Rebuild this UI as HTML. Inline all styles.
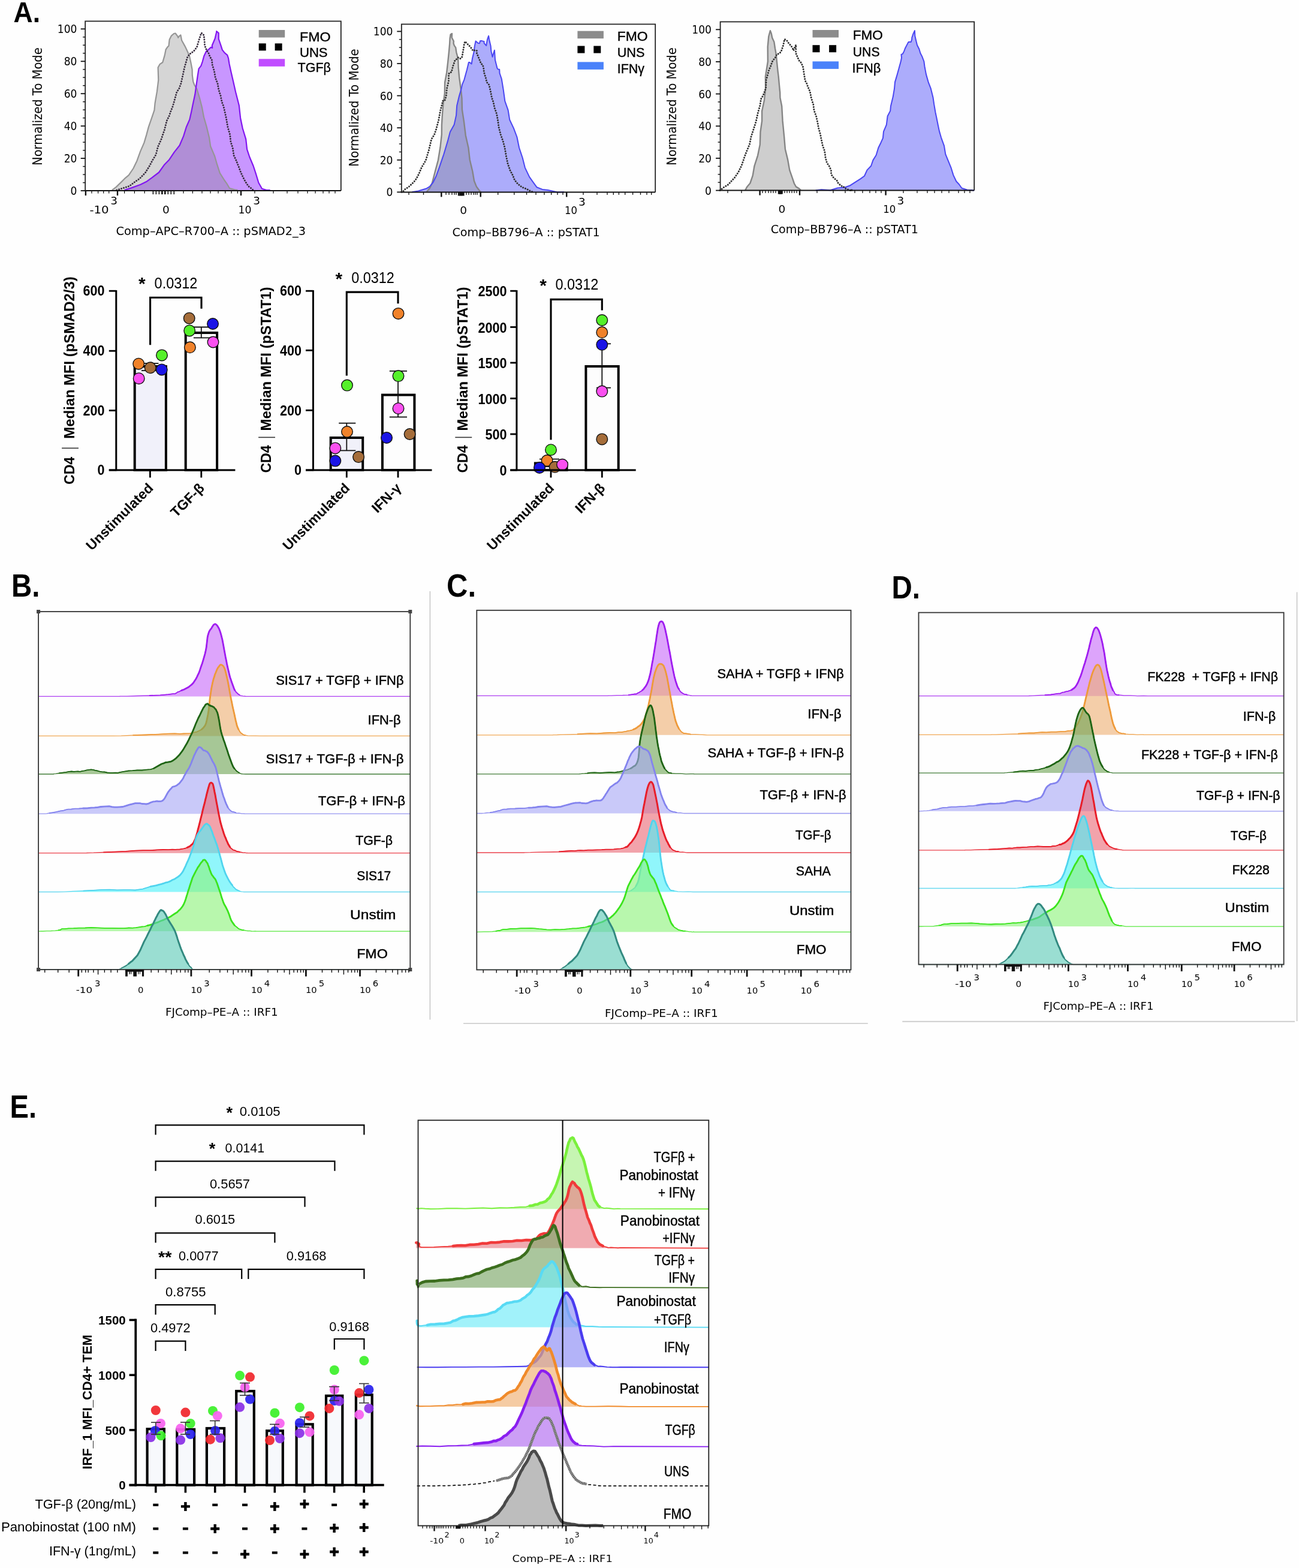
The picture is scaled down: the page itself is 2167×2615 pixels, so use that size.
<!DOCTYPE html>
<html><head><meta charset="utf-8"><title>Figure</title>
<style>html,body{margin:0;padding:0;background:#fefefe;}svg{display:block;}</style>
</head><body>
<svg width="2167" height="2615" viewBox="0 0 2167 2615" font-family='"Liberation Sans", Arial, Helvetica, sans-serif'>
<text x="22.5" y="36.6" font-size="48.5" font-weight="bold" fill="#000" textLength="44.5" lengthAdjust="spacingAndGlyphs">A.</text>
<text x="19" y="995" font-size="54" font-weight="bold" fill="#000" textLength="47.5" lengthAdjust="spacingAndGlyphs">B.</text>
<text x="745" y="995" font-size="54" font-weight="bold" fill="#000" textLength="49" lengthAdjust="spacingAndGlyphs">C.</text>
<text x="1487.5" y="997.5" font-size="54" font-weight="bold" fill="#000" textLength="47.5" lengthAdjust="spacingAndGlyphs">D.</text>
<text x="16.5" y="1864" font-size="54" font-weight="bold" fill="#000" textLength="44.5" lengthAdjust="spacingAndGlyphs">E.</text>
<line x1="717.4" y1="986" x2="717.4" y2="1700.5" stroke="#c8c8c8" stroke-width="1.6"/>
<line x1="773" y1="1706.8" x2="1447.8" y2="1706.8" stroke="#c8c8c8" stroke-width="1.6"/>
<line x1="1505.3" y1="1703.6" x2="2160" y2="1703.6" stroke="#c8c8c8" stroke-width="1.6"/>
<line x1="2163.6" y1="987.6" x2="2163.6" y2="1703" stroke="#c8c8c8" stroke-width="1.6"/>
<path d="M199.8 1161.4 L199.8 1161.2 L211.8 1161.1 L229.3 1160.5 L248.9 1160 L267.2 1159.3 L280.7 1158.1 L288.4 1157.2 L292.5 1156.8 L294.7 1155.4 L296.4 1154.1 L299.1 1153.3 L302.9 1151.4 L306.8 1150 L310.6 1148 L314.3 1146.1 L317.5 1143.5 L320.2 1141.3 L322.6 1138.7 L324.7 1135.5 L326.7 1132.5 L328.5 1129.1 L330.2 1125.4 L331.7 1122.5 L333.1 1118.8 L334.4 1114.7 L335.9 1110.3 L337.4 1106.2 L339 1100.8 L340.5 1095.7 L342 1090.4 L343.2 1085 L344.2 1079.8 L344.9 1073.8 L345.5 1068.6 L346.1 1063.3 L346.9 1059.4 L347.9 1056.2 L348.9 1053.2 L350.1 1051.3 L351.2 1049.6 L352.4 1048.4 L353.6 1046.1 L354.8 1044.3 L356.1 1042.3 L357.4 1041.2 L358.7 1040.7 L360 1041 L361.3 1042.2 L362.7 1043.7 L364 1046 L365.3 1048.2 L366.5 1051.2 L367.6 1054.4 L368.7 1058.2 L369.7 1062.1 L370.8 1066.3 L371.9 1072 L373 1078 L374.1 1084.2 L375.2 1090.1 L376.3 1096.1 L377.4 1101.2 L378.5 1107.1 L379.6 1112.1 L380.7 1116.9 L381.8 1121.4 L382.9 1126.2 L384 1130.2 L385.1 1133.2 L386.3 1137.1 L387.4 1140 L388.4 1142.8 L389.5 1145.8 L390.5 1148.7 L391.7 1151.1 L392.9 1152.6 L394.2 1154.8 L395.6 1155.8 L397.1 1157.4 L398.6 1158.2 L400.2 1159.5 L402.1 1160.3 L404.2 1160.5 L406.3 1161.2 L408.1 1161 L409.4 1161.1 L409.4 1161.4Z" fill="#c86cf8" fill-opacity="0.62" stroke="none"/>
<path d="M64.1 1161.4 L199.8 1161.4 L199.8 1161.2 L211.8 1161.1 L229.3 1160.5 L248.9 1160 L267.2 1159.3 L280.7 1158.1 L288.4 1157.2 L292.5 1156.8 L294.7 1155.4 L296.4 1154.1 L299.1 1153.3 L302.9 1151.4 L306.8 1150 L310.6 1148 L314.3 1146.1 L317.5 1143.5 L320.2 1141.3 L322.6 1138.7 L324.7 1135.5 L326.7 1132.5 L328.5 1129.1 L330.2 1125.4 L331.7 1122.5 L333.1 1118.8 L334.4 1114.7 L335.9 1110.3 L337.4 1106.2 L339 1100.8 L340.5 1095.7 L342 1090.4 L343.2 1085 L344.2 1079.8 L344.9 1073.8 L345.5 1068.6 L346.1 1063.3 L346.9 1059.4 L347.9 1056.2 L348.9 1053.2 L350.1 1051.3 L351.2 1049.6 L352.4 1048.4 L353.6 1046.1 L354.8 1044.3 L356.1 1042.3 L357.4 1041.2 L358.7 1040.7 L360 1041 L361.3 1042.2 L362.7 1043.7 L364 1046 L365.3 1048.2 L366.5 1051.2 L367.6 1054.4 L368.7 1058.2 L369.7 1062.1 L370.8 1066.3 L371.9 1072 L373 1078 L374.1 1084.2 L375.2 1090.1 L376.3 1096.1 L377.4 1101.2 L378.5 1107.1 L379.6 1112.1 L380.7 1116.9 L381.8 1121.4 L382.9 1126.2 L384 1130.2 L385.1 1133.2 L386.3 1137.1 L387.4 1140 L388.4 1142.8 L389.5 1145.8 L390.5 1148.7 L391.7 1151.1 L392.9 1152.6 L394.2 1154.8 L395.6 1155.8 L397.1 1157.4 L398.6 1158.2 L400.2 1159.5 L402.1 1160.3 L404.2 1160.5 L406.3 1161.2 L408.1 1161 L409.4 1161.1 L409.4 1161.4 L684.3 1161.4" fill="none" stroke="#a01ef0" stroke-width="1.3" stroke-opacity="0.85" stroke-linejoin="round"/><path d="M248.9 1160 L267.2 1159.3 L280.7 1158.1 L288.4 1157.2 L292.5 1156.8 L294.7 1155.4 L296.4 1154.1 L299.1 1153.3 L302.9 1151.4 L306.8 1150 L310.6 1148 L314.3 1146.1 L317.5 1143.5 L320.2 1141.3 L322.6 1138.7 L324.7 1135.5 L326.7 1132.5 L328.5 1129.1 L330.2 1125.4 L331.7 1122.5 L333.1 1118.8 L334.4 1114.7 L335.9 1110.3 L337.4 1106.2 L339 1100.8 L340.5 1095.7 L342 1090.4 L343.2 1085 L344.2 1079.8 L344.9 1073.8 L345.5 1068.6 L346.1 1063.3 L346.9 1059.4 L347.9 1056.2 L348.9 1053.2 L350.1 1051.3 L351.2 1049.6 L352.4 1048.4 L353.6 1046.1 L354.8 1044.3 L356.1 1042.3 L357.4 1041.2 L358.7 1040.7 L360 1041 L361.3 1042.2 L362.7 1043.7 L364 1046 L365.3 1048.2 L366.5 1051.2 L367.6 1054.4 L368.7 1058.2 L369.7 1062.1 L370.8 1066.3 L371.9 1072 L373 1078 L374.1 1084.2 L375.2 1090.1 L376.3 1096.1 L377.4 1101.2 L378.5 1107.1 L379.6 1112.1 L380.7 1116.9 L381.8 1121.4 L382.9 1126.2 L384 1130.2 L385.1 1133.2 L386.3 1137.1 L387.4 1140 L388.4 1142.8 L389.5 1145.8 L390.5 1148.7 L391.7 1151.1 L392.9 1152.6 L394.2 1154.8 L395.6 1155.8 L397.1 1157.4 L398.6 1158.2 L400.2 1159.5" fill="none" stroke="#a01ef0" stroke-width="1.8" stroke-linejoin="round"/><path d="M302.9 1151.4 L306.8 1150 L310.6 1148 L314.3 1146.1 L317.5 1143.5 L320.2 1141.3 L322.6 1138.7 L324.7 1135.5 L326.7 1132.5 L328.5 1129.1 L330.2 1125.4 L331.7 1122.5 L333.1 1118.8 L334.4 1114.7 L335.9 1110.3 L337.4 1106.2 L339 1100.8 L340.5 1095.7 L342 1090.4 L343.2 1085 L344.2 1079.8 L344.9 1073.8 L345.5 1068.6 L346.1 1063.3 L346.9 1059.4 L347.9 1056.2 L348.9 1053.2 L350.1 1051.3 L351.2 1049.6 L352.4 1048.4 L353.6 1046.1 L354.8 1044.3 L356.1 1042.3 L357.4 1041.2 L358.7 1040.7 L360 1041 L361.3 1042.2 L362.7 1043.7 L364 1046 L365.3 1048.2 L366.5 1051.2 L367.6 1054.4 L368.7 1058.2 L369.7 1062.1 L370.8 1066.3 L371.9 1072 L373 1078 L374.1 1084.2 L375.2 1090.1 L376.3 1096.1 L377.4 1101.2 L378.5 1107.1 L379.6 1112.1 L380.7 1116.9 L381.8 1121.4 L382.9 1126.2 L384 1130.2 L385.1 1133.2 L386.3 1137.1 L387.4 1140 L388.4 1142.8 L389.5 1145.8 L390.5 1148.7 L391.7 1151.1" fill="none" stroke="#a01ef0" stroke-width="2.8" stroke-linejoin="round" stroke-linecap="round"/>
<path d="M188.7 1227.4 L188.7 1227.4 L202.1 1227.1 L221.5 1226.2 L243.5 1225.5 L264.4 1224.6 L280.7 1223.6 L291.8 1223.3 L300.1 1223.9 L306.5 1223.5 L311.9 1223.3 L317.5 1223.2 L323.1 1221.7 L328.1 1220.6 L332.5 1218.6 L336.3 1216.5 L339.5 1213.4 L342 1210.2 L343.7 1206.3 L344.9 1201.5 L345.9 1196.8 L346.9 1191.7 L347.9 1185.7 L348.6 1180.1 L349.3 1173.8 L349.9 1167.5 L350.6 1161.8 L351.3 1157.4 L352 1152.6 L352.6 1148.4 L353.4 1144.4 L354.3 1140.2 L355.2 1136.3 L356.3 1132 L357.5 1128.5 L358.6 1124.7 L359.8 1122 L360.9 1119.2 L362.1 1116.3 L363.2 1114.3 L364.3 1112.6 L365.3 1111.7 L366.1 1110.2 L366.8 1109.5 L367.5 1108.7 L368.1 1108.7 L369 1108.7 L370 1109 L371 1109.7 L372.2 1110.6 L373.3 1112.3 L374.5 1114.4 L375.6 1117.8 L376.7 1121.8 L377.8 1126.6 L378.9 1131.3 L380 1136.1 L381.1 1142.1 L382.2 1148.1 L383.3 1154.2 L384.4 1160.1 L385.5 1166 L386.6 1171 L387.7 1176.8 L388.8 1181.7 L389.9 1186.5 L391 1191.2 L392.1 1196.6 L393.2 1201.6 L394.2 1205.5 L395.3 1210.2 L396.6 1213.6 L397.9 1216.3 L399.3 1218.8 L400.7 1221.1 L402.3 1222.8 L403.9 1223.6 L405.2 1225 L406.3 1225.3 L407.6 1226.1 L409.7 1226.1 L413.1 1226.8 L418.7 1227.2 L426.2 1227.1 L434.2 1227.4 L441.3 1227.3 L446.2 1227.3 L446.2 1227.4Z" fill="#eeb074" fill-opacity="0.62" stroke="none"/>
<path d="M64.1 1227.4 L188.7 1227.4 L188.7 1227.4 L202.1 1227.1 L221.5 1226.2 L243.5 1225.5 L264.4 1224.6 L280.7 1223.6 L291.8 1223.3 L300.1 1223.9 L306.5 1223.5 L311.9 1223.3 L317.5 1223.2 L323.1 1221.7 L328.1 1220.6 L332.5 1218.6 L336.3 1216.5 L339.5 1213.4 L342 1210.2 L343.7 1206.3 L344.9 1201.5 L345.9 1196.8 L346.9 1191.7 L347.9 1185.7 L348.6 1180.1 L349.3 1173.8 L349.9 1167.5 L350.6 1161.8 L351.3 1157.4 L352 1152.6 L352.6 1148.4 L353.4 1144.4 L354.3 1140.2 L355.2 1136.3 L356.3 1132 L357.5 1128.5 L358.6 1124.7 L359.8 1122 L360.9 1119.2 L362.1 1116.3 L363.2 1114.3 L364.3 1112.6 L365.3 1111.7 L366.1 1110.2 L366.8 1109.5 L367.5 1108.7 L368.1 1108.7 L369 1108.7 L370 1109 L371 1109.7 L372.2 1110.6 L373.3 1112.3 L374.5 1114.4 L375.6 1117.8 L376.7 1121.8 L377.8 1126.6 L378.9 1131.3 L380 1136.1 L381.1 1142.1 L382.2 1148.1 L383.3 1154.2 L384.4 1160.1 L385.5 1166 L386.6 1171 L387.7 1176.8 L388.8 1181.7 L389.9 1186.5 L391 1191.2 L392.1 1196.6 L393.2 1201.6 L394.2 1205.5 L395.3 1210.2 L396.6 1213.6 L397.9 1216.3 L399.3 1218.8 L400.7 1221.1 L402.3 1222.8 L403.9 1223.6 L405.2 1225 L406.3 1225.3 L407.6 1226.1 L409.7 1226.1 L413.1 1226.8 L418.7 1227.2 L426.2 1227.1 L434.2 1227.4 L441.3 1227.3 L446.2 1227.3 L446.2 1227.4 L684.3 1227.4" fill="none" stroke="#ee9a3a" stroke-width="1.3" stroke-opacity="0.85" stroke-linejoin="round"/><path d="M221.5 1226.2 L243.5 1225.5 L264.4 1224.6 L280.7 1223.6 L291.8 1223.3 L300.1 1223.9 L306.5 1223.5 L311.9 1223.3 L317.5 1223.2 L323.1 1221.7 L328.1 1220.6 L332.5 1218.6 L336.3 1216.5 L339.5 1213.4 L342 1210.2 L343.7 1206.3 L344.9 1201.5 L345.9 1196.8 L346.9 1191.7 L347.9 1185.7 L348.6 1180.1 L349.3 1173.8 L349.9 1167.5 L350.6 1161.8 L351.3 1157.4 L352 1152.6 L352.6 1148.4 L353.4 1144.4 L354.3 1140.2 L355.2 1136.3 L356.3 1132 L357.5 1128.5 L358.6 1124.7 L359.8 1122 L360.9 1119.2 L362.1 1116.3 L363.2 1114.3 L364.3 1112.6 L365.3 1111.7 L366.1 1110.2 L366.8 1109.5 L367.5 1108.7 L368.1 1108.7 L369 1108.7 L370 1109 L371 1109.7 L372.2 1110.6 L373.3 1112.3 L374.5 1114.4 L375.6 1117.8 L376.7 1121.8 L377.8 1126.6 L378.9 1131.3 L380 1136.1 L381.1 1142.1 L382.2 1148.1 L383.3 1154.2 L384.4 1160.1 L385.5 1166 L386.6 1171 L387.7 1176.8 L388.8 1181.7 L389.9 1186.5 L391 1191.2 L392.1 1196.6 L393.2 1201.6 L394.2 1205.5 L395.3 1210.2 L396.6 1213.6 L397.9 1216.3 L399.3 1218.8 L400.7 1221.1 L402.3 1222.8 L403.9 1223.6 L405.2 1225 L406.3 1225.3 L407.6 1226.1 L409.7 1226.1" fill="none" stroke="#ee9a3a" stroke-width="1.8" stroke-linejoin="round"/><path d="M336.3 1216.5 L339.5 1213.4 L342 1210.2 L343.7 1206.3 L344.9 1201.5 L345.9 1196.8 L346.9 1191.7 L347.9 1185.7 L348.6 1180.1 L349.3 1173.8 L349.9 1167.5 L350.6 1161.8 L351.3 1157.4 L352 1152.6 L352.6 1148.4 L353.4 1144.4 L354.3 1140.2 L355.2 1136.3 L356.3 1132 L357.5 1128.5 L358.6 1124.7 L359.8 1122 L360.9 1119.2 L362.1 1116.3 L363.2 1114.3 L364.3 1112.6 L365.3 1111.7 L366.1 1110.2 L366.8 1109.5 L367.5 1108.7 L368.1 1108.7 L369 1108.7 L370 1109 L371 1109.7 L372.2 1110.6 L373.3 1112.3 L374.5 1114.4 L375.6 1117.8 L376.7 1121.8 L377.8 1126.6 L378.9 1131.3 L380 1136.1 L381.1 1142.1 L382.2 1148.1 L383.3 1154.2 L384.4 1160.1 L385.5 1166 L386.6 1171 L387.7 1176.8 L388.8 1181.7 L389.9 1186.5 L391 1191.2 L392.1 1196.6 L393.2 1201.6 L394.2 1205.5 L395.3 1210.2 L396.6 1213.6 L397.9 1216.3" fill="none" stroke="#ee9a3a" stroke-width="2.8" stroke-linejoin="round" stroke-linecap="round"/>
<path d="M89.4 1291 L89.4 1290.7 L93 1290.3 L98.2 1289.4 L104.2 1288.7 L110.1 1287.9 L115.2 1286.9 L119.3 1286.5 L123.1 1287 L126.6 1286.6 L130 1286.5 L133.6 1286.8 L137.2 1285.9 L140.9 1285.3 L144.6 1284.3 L148.3 1283.8 L152 1283.3 L155.6 1283.9 L159.1 1284.8 L162.7 1285.5 L166.4 1286.6 L170.3 1287.3 L174.5 1287.5 L178.9 1288.5 L183.4 1288.8 L187.9 1288.9 L192.4 1288.7 L196.6 1288.9 L200.5 1287.9 L204.6 1287.2 L209.1 1286.4 L214.5 1285.5 L221.1 1285.2 L228.8 1284.5 L236.9 1284.5 L244.6 1283.7 L251.3 1283.1 L256.7 1281.4 L261.5 1278.6 L265.7 1276.2 L269.6 1274 L273.3 1272.8 L276.7 1271.4 L279.7 1271.1 L282.5 1270.6 L285.2 1270.1 L288 1268.7 L291 1266.6 L293.9 1264.3 L296.9 1261.3 L299.8 1258.2 L302.8 1254.2 L305.8 1249.9 L308.8 1244.8 L311.9 1239.5 L314.8 1233.8 L317.5 1228.1 L319.9 1223.4 L322.1 1218.2 L324.3 1212.9 L326.4 1207.5 L328.5 1202.7 L330.8 1197.5 L333.2 1193 L335.5 1188.1 L337.7 1183.7 L339.5 1180.2 L341 1178.3 L342.1 1176.6 L343.1 1174.8 L344 1174.6 L345.1 1173.8 L346.1 1173.6 L347.2 1174.2 L348.2 1175.3 L349.4 1176.3 L350.6 1176.5 L352 1177.5 L353.5 1177.6 L355 1178.6 L356.5 1179.2 L357.9 1180.8 L359.2 1182.3 L360.3 1183.5 L361.3 1185.8 L362.4 1187.9 L363.4 1191.3 L364.5 1196.4 L365.6 1202 L366.6 1208.6 L367.7 1215.2 L369 1221.1 L370.3 1225.6 L371.8 1230 L373.3 1234.8 L374.8 1238.6 L376.3 1243.4 L377.8 1247.8 L379.3 1252.1 L380.7 1256.7 L382.2 1261.1 L383.7 1265.2 L385.1 1269 L386.4 1272.6 L387.8 1276 L389.3 1279.3 L391 1281.7 L392.9 1283.9 L394.8 1286.1 L396.9 1287.5 L399.3 1288.9 L402.1 1290.5 L405.6 1290.9 L409.8 1291 L414.1 1291 L417.8 1291 L420.5 1291 L420.5 1291Z" fill="#6fa556" fill-opacity="0.62" stroke="none"/>
<path d="M64.1 1291 L89.4 1291 L89.4 1290.7 L93 1290.3 L98.2 1289.4 L104.2 1288.7 L110.1 1287.9 L115.2 1286.9 L119.3 1286.5 L123.1 1287 L126.6 1286.6 L130 1286.5 L133.6 1286.8 L137.2 1285.9 L140.9 1285.3 L144.6 1284.3 L148.3 1283.8 L152 1283.3 L155.6 1283.9 L159.1 1284.8 L162.7 1285.5 L166.4 1286.6 L170.3 1287.3 L174.5 1287.5 L178.9 1288.5 L183.4 1288.8 L187.9 1288.9 L192.4 1288.7 L196.6 1288.9 L200.5 1287.9 L204.6 1287.2 L209.1 1286.4 L214.5 1285.5 L221.1 1285.2 L228.8 1284.5 L236.9 1284.5 L244.6 1283.7 L251.3 1283.1 L256.7 1281.4 L261.5 1278.6 L265.7 1276.2 L269.6 1274 L273.3 1272.8 L276.7 1271.4 L279.7 1271.1 L282.5 1270.6 L285.2 1270.1 L288 1268.7 L291 1266.6 L293.9 1264.3 L296.9 1261.3 L299.8 1258.2 L302.8 1254.2 L305.8 1249.9 L308.8 1244.8 L311.9 1239.5 L314.8 1233.8 L317.5 1228.1 L319.9 1223.4 L322.1 1218.2 L324.3 1212.9 L326.4 1207.5 L328.5 1202.7 L330.8 1197.5 L333.2 1193 L335.5 1188.1 L337.7 1183.7 L339.5 1180.2 L341 1178.3 L342.1 1176.6 L343.1 1174.8 L344 1174.6 L345.1 1173.8 L346.1 1173.6 L347.2 1174.2 L348.2 1175.3 L349.4 1176.3 L350.6 1176.5 L352 1177.5 L353.5 1177.6 L355 1178.6 L356.5 1179.2 L357.9 1180.8 L359.2 1182.3 L360.3 1183.5 L361.3 1185.8 L362.4 1187.9 L363.4 1191.3 L364.5 1196.4 L365.6 1202 L366.6 1208.6 L367.7 1215.2 L369 1221.1 L370.3 1225.6 L371.8 1230 L373.3 1234.8 L374.8 1238.6 L376.3 1243.4 L377.8 1247.8 L379.3 1252.1 L380.7 1256.7 L382.2 1261.1 L383.7 1265.2 L385.1 1269 L386.4 1272.6 L387.8 1276 L389.3 1279.3 L391 1281.7 L392.9 1283.9 L394.8 1286.1 L396.9 1287.5 L399.3 1288.9 L402.1 1290.5 L405.6 1290.9 L409.8 1291 L414.1 1291 L417.8 1291 L420.5 1291 L420.5 1291 L684.3 1291" fill="none" stroke="#1e6414" stroke-width="1.3" stroke-opacity="0.85" stroke-linejoin="round"/><path d="M98.2 1289.4 L104.2 1288.7 L110.1 1287.9 L115.2 1286.9 L119.3 1286.5 L123.1 1287 L126.6 1286.6 L130 1286.5 L133.6 1286.8 L137.2 1285.9 L140.9 1285.3 L144.6 1284.3 L148.3 1283.8 L152 1283.3 L155.6 1283.9 L159.1 1284.8 L162.7 1285.5 L166.4 1286.6 L170.3 1287.3 L174.5 1287.5 L178.9 1288.5 L183.4 1288.8 L187.9 1288.9 L192.4 1288.7 L196.6 1288.9 L200.5 1287.9 L204.6 1287.2 L209.1 1286.4 L214.5 1285.5 L221.1 1285.2 L228.8 1284.5 L236.9 1284.5 L244.6 1283.7 L251.3 1283.1 L256.7 1281.4 L261.5 1278.6 L265.7 1276.2 L269.6 1274 L273.3 1272.8 L276.7 1271.4 L279.7 1271.1 L282.5 1270.6 L285.2 1270.1 L288 1268.7 L291 1266.6 L293.9 1264.3 L296.9 1261.3 L299.8 1258.2 L302.8 1254.2 L305.8 1249.9 L308.8 1244.8 L311.9 1239.5 L314.8 1233.8 L317.5 1228.1 L319.9 1223.4 L322.1 1218.2 L324.3 1212.9 L326.4 1207.5 L328.5 1202.7 L330.8 1197.5 L333.2 1193 L335.5 1188.1 L337.7 1183.7 L339.5 1180.2 L341 1178.3 L342.1 1176.6 L343.1 1174.8 L344 1174.6 L345.1 1173.8 L346.1 1173.6 L347.2 1174.2 L348.2 1175.3 L349.4 1176.3 L350.6 1176.5 L352 1177.5 L353.5 1177.6 L355 1178.6 L356.5 1179.2 L357.9 1180.8 L359.2 1182.3 L360.3 1183.5 L361.3 1185.8 L362.4 1187.9 L363.4 1191.3 L364.5 1196.4 L365.6 1202 L366.6 1208.6 L367.7 1215.2 L369 1221.1 L370.3 1225.6 L371.8 1230 L373.3 1234.8 L374.8 1238.6 L376.3 1243.4 L377.8 1247.8 L379.3 1252.1 L380.7 1256.7 L382.2 1261.1 L383.7 1265.2 L385.1 1269 L386.4 1272.6 L387.8 1276 L389.3 1279.3 L391 1281.7 L392.9 1283.9 L394.8 1286.1 L396.9 1287.5 L399.3 1288.9" fill="none" stroke="#1e6414" stroke-width="1.8" stroke-linejoin="round"/><path d="M256.7 1281.4 L261.5 1278.6 L265.7 1276.2 L269.6 1274 L273.3 1272.8 L276.7 1271.4 L279.7 1271.1 L282.5 1270.6 L285.2 1270.1 L288 1268.7 L291 1266.6 L293.9 1264.3 L296.9 1261.3 L299.8 1258.2 L302.8 1254.2 L305.8 1249.9 L308.8 1244.8 L311.9 1239.5 L314.8 1233.8 L317.5 1228.1 L319.9 1223.4 L322.1 1218.2 L324.3 1212.9 L326.4 1207.5 L328.5 1202.7 L330.8 1197.5 L333.2 1193 L335.5 1188.1 L337.7 1183.7 L339.5 1180.2 L341 1178.3 L342.1 1176.6 L343.1 1174.8 L344 1174.6 L345.1 1173.8 L346.1 1173.6 L347.2 1174.2 L348.2 1175.3 L349.4 1176.3 L350.6 1176.5 L352 1177.5 L353.5 1177.6 L355 1178.6 L356.5 1179.2 L357.9 1180.8 L359.2 1182.3 L360.3 1183.5 L361.3 1185.8 L362.4 1187.9 L363.4 1191.3 L364.5 1196.4 L365.6 1202 L366.6 1208.6 L367.7 1215.2 L369 1221.1 L370.3 1225.6 L371.8 1230 L373.3 1234.8 L374.8 1238.6 L376.3 1243.4 L377.8 1247.8 L379.3 1252.1 L380.7 1256.7 L382.2 1261.1 L383.7 1265.2 L385.1 1269 L386.4 1272.6 L387.8 1276 L389.3 1279.3 L391 1281.7" fill="none" stroke="#1e6414" stroke-width="2.8" stroke-linejoin="round" stroke-linecap="round"/>
<path d="M74.7 1357.2 L74.7 1357.1 L77.7 1356.8 L82 1356 L86.9 1355.3 L92 1354.5 L96.8 1353.3 L101 1352.3 L105.1 1352 L109.2 1350.6 L113.7 1349.7 L118.9 1349.5 L124.9 1348.6 L131.7 1348.5 L138.7 1348 L145.6 1347.8 L152 1347.1 L157.6 1346.9 L163 1346.4 L168 1345.5 L172.9 1345.2 L177.7 1344.9 L182.3 1344.6 L186.6 1345.6 L190.9 1346.1 L195.2 1346.2 L199.8 1345.9 L204.8 1345.5 L210.2 1343.8 L215.6 1342.2 L220.8 1340.8 L225.5 1339.7 L229.7 1339.7 L233.6 1339.7 L237.2 1340.5 L240.6 1340.7 L243.9 1341 L247.1 1340.4 L250.1 1338.9 L253 1337.8 L255.9 1336.8 L258.6 1336.6 L261.4 1336 L264.1 1336.3 L266.7 1336.3 L269.2 1336.2 L271.5 1335.1 L273.6 1332.9 L275.5 1330 L277.3 1326.6 L279 1323.5 L280.7 1320.6 L282.3 1318.6 L283.8 1316.7 L285.2 1315.3 L286.6 1313.7 L288 1312.1 L289.5 1311.8 L291 1311.4 L292.5 1311 L293.9 1310.3 L295.4 1309.6 L296.9 1308.1 L298.3 1307.3 L299.8 1305.7 L301.3 1303.8 L302.8 1301.8 L304.2 1300.1 L305.7 1297.7 L307.2 1294.3 L308.6 1292.1 L310.1 1289.1 L311.6 1286.5 L313.1 1284.2 L314.5 1282.1 L316 1279.5 L317.5 1276 L318.9 1273 L320.4 1268.7 L321.9 1265.2 L323.4 1261.2 L324.8 1258.2 L326.3 1255.2 L327.8 1251.9 L329.2 1249.7 L330.7 1247.2 L332.2 1245.9 L333.7 1246.2 L335.1 1246.7 L336.6 1248.3 L338.1 1250 L339.5 1251.4 L341 1251.7 L342.5 1252.1 L344 1253.1 L345.4 1253.5 L346.9 1255.3 L348.4 1257.4 L349.9 1259.9 L351.4 1263.1 L352.9 1266.2 L354.3 1269.1 L355.5 1271.3 L356.6 1273.1 L357.7 1275 L358.7 1277.4 L359.8 1280 L360.8 1283.6 L361.9 1288 L362.9 1292.3 L364.1 1297.1 L365.3 1302.4 L366.6 1307.1 L368.1 1312.5 L369.6 1317.5 L371.1 1323 L372.6 1327.9 L374.1 1331.8 L375.6 1336.3 L377.1 1340.1 L378.5 1343 L380 1346.3 L381.4 1348.4 L382.8 1350.3 L384.1 1351.4 L385.6 1352.7 L387.4 1353.7 L389.3 1354.1 L391.5 1354.7 L393.8 1355.6 L396.1 1356.1 L398.4 1356 L400.8 1356.4 L403.3 1356.8 L405.8 1356.8 L407.9 1357 L409.4 1357.1 L409.4 1357.2Z" fill="#a8a8f6" fill-opacity="0.62" stroke="none"/>
<path d="M64.1 1357.2 L74.7 1357.2 L74.7 1357.1 L77.7 1356.8 L82 1356 L86.9 1355.3 L92 1354.5 L96.8 1353.3 L101 1352.3 L105.1 1352 L109.2 1350.6 L113.7 1349.7 L118.9 1349.5 L124.9 1348.6 L131.7 1348.5 L138.7 1348 L145.6 1347.8 L152 1347.1 L157.6 1346.9 L163 1346.4 L168 1345.5 L172.9 1345.2 L177.7 1344.9 L182.3 1344.6 L186.6 1345.6 L190.9 1346.1 L195.2 1346.2 L199.8 1345.9 L204.8 1345.5 L210.2 1343.8 L215.6 1342.2 L220.8 1340.8 L225.5 1339.7 L229.7 1339.7 L233.6 1339.7 L237.2 1340.5 L240.6 1340.7 L243.9 1341 L247.1 1340.4 L250.1 1338.9 L253 1337.8 L255.9 1336.8 L258.6 1336.6 L261.4 1336 L264.1 1336.3 L266.7 1336.3 L269.2 1336.2 L271.5 1335.1 L273.6 1332.9 L275.5 1330 L277.3 1326.6 L279 1323.5 L280.7 1320.6 L282.3 1318.6 L283.8 1316.7 L285.2 1315.3 L286.6 1313.7 L288 1312.1 L289.5 1311.8 L291 1311.4 L292.5 1311 L293.9 1310.3 L295.4 1309.6 L296.9 1308.1 L298.3 1307.3 L299.8 1305.7 L301.3 1303.8 L302.8 1301.8 L304.2 1300.1 L305.7 1297.7 L307.2 1294.3 L308.6 1292.1 L310.1 1289.1 L311.6 1286.5 L313.1 1284.2 L314.5 1282.1 L316 1279.5 L317.5 1276 L318.9 1273 L320.4 1268.7 L321.9 1265.2 L323.4 1261.2 L324.8 1258.2 L326.3 1255.2 L327.8 1251.9 L329.2 1249.7 L330.7 1247.2 L332.2 1245.9 L333.7 1246.2 L335.1 1246.7 L336.6 1248.3 L338.1 1250 L339.5 1251.4 L341 1251.7 L342.5 1252.1 L344 1253.1 L345.4 1253.5 L346.9 1255.3 L348.4 1257.4 L349.9 1259.9 L351.4 1263.1 L352.9 1266.2 L354.3 1269.1 L355.5 1271.3 L356.6 1273.1 L357.7 1275 L358.7 1277.4 L359.8 1280 L360.8 1283.6 L361.9 1288 L362.9 1292.3 L364.1 1297.1 L365.3 1302.4 L366.6 1307.1 L368.1 1312.5 L369.6 1317.5 L371.1 1323 L372.6 1327.9 L374.1 1331.8 L375.6 1336.3 L377.1 1340.1 L378.5 1343 L380 1346.3 L381.4 1348.4 L382.8 1350.3 L384.1 1351.4 L385.6 1352.7 L387.4 1353.7 L389.3 1354.1 L391.5 1354.7 L393.8 1355.6 L396.1 1356.1 L398.4 1356 L400.8 1356.4 L403.3 1356.8 L405.8 1356.8 L407.9 1357 L409.4 1357.1 L409.4 1357.2 L684.3 1357.2" fill="none" stroke="#8484ee" stroke-width="1.3" stroke-opacity="0.85" stroke-linejoin="round"/><path d="M82 1356 L86.9 1355.3 L92 1354.5 L96.8 1353.3 L101 1352.3 L105.1 1352 L109.2 1350.6 L113.7 1349.7 L118.9 1349.5 L124.9 1348.6 L131.7 1348.5 L138.7 1348 L145.6 1347.8 L152 1347.1 L157.6 1346.9 L163 1346.4 L168 1345.5 L172.9 1345.2 L177.7 1344.9 L182.3 1344.6 L186.6 1345.6 L190.9 1346.1 L195.2 1346.2 L199.8 1345.9 L204.8 1345.5 L210.2 1343.8 L215.6 1342.2 L220.8 1340.8 L225.5 1339.7 L229.7 1339.7 L233.6 1339.7 L237.2 1340.5 L240.6 1340.7 L243.9 1341 L247.1 1340.4 L250.1 1338.9 L253 1337.8 L255.9 1336.8 L258.6 1336.6 L261.4 1336 L264.1 1336.3 L266.7 1336.3 L269.2 1336.2 L271.5 1335.1 L273.6 1332.9 L275.5 1330 L277.3 1326.6 L279 1323.5 L280.7 1320.6 L282.3 1318.6 L283.8 1316.7 L285.2 1315.3 L286.6 1313.7 L288 1312.1 L289.5 1311.8 L291 1311.4 L292.5 1311 L293.9 1310.3 L295.4 1309.6 L296.9 1308.1 L298.3 1307.3 L299.8 1305.7 L301.3 1303.8 L302.8 1301.8 L304.2 1300.1 L305.7 1297.7 L307.2 1294.3 L308.6 1292.1 L310.1 1289.1 L311.6 1286.5 L313.1 1284.2 L314.5 1282.1 L316 1279.5 L317.5 1276 L318.9 1273 L320.4 1268.7 L321.9 1265.2 L323.4 1261.2 L324.8 1258.2 L326.3 1255.2 L327.8 1251.9 L329.2 1249.7 L330.7 1247.2 L332.2 1245.9 L333.7 1246.2 L335.1 1246.7 L336.6 1248.3 L338.1 1250 L339.5 1251.4 L341 1251.7 L342.5 1252.1 L344 1253.1 L345.4 1253.5 L346.9 1255.3 L348.4 1257.4 L349.9 1259.9 L351.4 1263.1 L352.9 1266.2 L354.3 1269.1 L355.5 1271.3 L356.6 1273.1 L357.7 1275 L358.7 1277.4 L359.8 1280 L360.8 1283.6 L361.9 1288 L362.9 1292.3 L364.1 1297.1 L365.3 1302.4 L366.6 1307.1 L368.1 1312.5 L369.6 1317.5 L371.1 1323 L372.6 1327.9 L374.1 1331.8 L375.6 1336.3 L377.1 1340.1 L378.5 1343 L380 1346.3 L381.4 1348.4 L382.8 1350.3 L384.1 1351.4 L385.6 1352.7 L387.4 1353.7 L389.3 1354.1 L391.5 1354.7 L393.8 1355.6" fill="none" stroke="#8484ee" stroke-width="1.8" stroke-linejoin="round"/><path d="M138.7 1348 L145.6 1347.8 L152 1347.1 L157.6 1346.9 L163 1346.4 L168 1345.5 L172.9 1345.2 L177.7 1344.9 L182.3 1344.6 L186.6 1345.6 L190.9 1346.1 L195.2 1346.2 L199.8 1345.9 L204.8 1345.5 L210.2 1343.8 L215.6 1342.2 L220.8 1340.8 L225.5 1339.7 L229.7 1339.7 L233.6 1339.7 L237.2 1340.5 L240.6 1340.7 L243.9 1341 L247.1 1340.4 L250.1 1338.9 L253 1337.8 L255.9 1336.8 L258.6 1336.6 L261.4 1336 L264.1 1336.3 L266.7 1336.3 L269.2 1336.2 L271.5 1335.1 L273.6 1332.9 L275.5 1330 L277.3 1326.6 L279 1323.5 L280.7 1320.6 L282.3 1318.6 L283.8 1316.7 L285.2 1315.3 L286.6 1313.7 L288 1312.1 L289.5 1311.8 L291 1311.4 L292.5 1311 L293.9 1310.3 L295.4 1309.6 L296.9 1308.1 L298.3 1307.3 L299.8 1305.7 L301.3 1303.8 L302.8 1301.8 L304.2 1300.1 L305.7 1297.7 L307.2 1294.3 L308.6 1292.1 L310.1 1289.1 L311.6 1286.5 L313.1 1284.2 L314.5 1282.1 L316 1279.5 L317.5 1276 L318.9 1273 L320.4 1268.7 L321.9 1265.2 L323.4 1261.2 L324.8 1258.2 L326.3 1255.2 L327.8 1251.9 L329.2 1249.7 L330.7 1247.2 L332.2 1245.9 L333.7 1246.2 L335.1 1246.7 L336.6 1248.3 L338.1 1250 L339.5 1251.4 L341 1251.7 L342.5 1252.1 L344 1253.1 L345.4 1253.5 L346.9 1255.3 L348.4 1257.4 L349.9 1259.9 L351.4 1263.1 L352.9 1266.2 L354.3 1269.1 L355.5 1271.3 L356.6 1273.1 L357.7 1275 L358.7 1277.4 L359.8 1280 L360.8 1283.6 L361.9 1288 L362.9 1292.3 L364.1 1297.1 L365.3 1302.4 L366.6 1307.1 L368.1 1312.5 L369.6 1317.5 L371.1 1323 L372.6 1327.9 L374.1 1331.8 L375.6 1336.3 L377.1 1340.1 L378.5 1343 L380 1346.3" fill="none" stroke="#8484ee" stroke-width="2.8" stroke-linejoin="round" stroke-linecap="round"/>
<path d="M144.6 1422.7 L144.6 1422.5 L156 1422.2 L172.4 1421.3 L191.1 1420.6 L209.7 1419.8 L225.5 1418.7 L238.7 1418.1 L251 1418.2 L262.2 1417.4 L272.2 1417 L280.7 1417.2 L287.3 1416.6 L292.3 1416.9 L296 1416.6 L299.3 1416.6 L302.8 1415.8 L306.3 1415.4 L309.5 1414.7 L312.5 1413.3 L315.1 1412.2 L317.5 1410.7 L319.4 1408.8 L321 1407.8 L322.4 1406 L323.6 1403.7 L324.8 1401.1 L326 1398.6 L327.2 1394.8 L328.2 1391.2 L329.3 1387.3 L330.3 1383.1 L331.4 1379.1 L332.6 1374.4 L333.7 1370.1 L334.8 1365.4 L335.9 1361.2 L337 1356.8 L338.1 1351.8 L339.2 1347.4 L340.3 1343.1 L341.4 1339.2 L342.5 1334.2 L343.7 1329.6 L344.8 1324.7 L345.9 1320.5 L346.9 1316.7 L347.7 1313.6 L348.5 1311 L349.1 1308.8 L349.8 1307.2 L350.6 1305.9 L351.4 1305.4 L352.4 1305.3 L353.3 1305.8 L354.2 1306.4 L355 1307.4 L355.6 1309.4 L356.1 1311.5 L356.6 1313.9 L357.2 1316.7 L357.9 1320.6 L358.9 1325.1 L360 1331.4 L361.1 1337.6 L362.3 1343.8 L363.4 1349.6 L364.5 1355.6 L365.6 1361 L366.6 1365.5 L367.7 1371 L369 1375.6 L370.3 1380.2 L371.8 1384.9 L373.3 1389.8 L374.8 1394.1 L376.3 1397.4 L377.8 1401.3 L379.2 1404.2 L380.6 1407.6 L382.1 1410 L383.7 1412.7 L385.3 1414.7 L387 1415.8 L388.8 1417.4 L390.8 1417.9 L392.9 1418.7 L395.3 1420 L398 1420.3 L400.8 1420.9 L403.5 1421.5 L405.7 1422.1 L407.7 1422 L409.4 1422.1 L411 1422.7 L412.2 1422.5 L413.1 1422.7 L413.1 1422.7Z" fill="#ea6a78" fill-opacity="0.62" stroke="none"/>
<path d="M64.1 1422.7 L144.6 1422.7 L144.6 1422.5 L156 1422.2 L172.4 1421.3 L191.1 1420.6 L209.7 1419.8 L225.5 1418.7 L238.7 1418.1 L251 1418.2 L262.2 1417.4 L272.2 1417 L280.7 1417.2 L287.3 1416.6 L292.3 1416.9 L296 1416.6 L299.3 1416.6 L302.8 1415.8 L306.3 1415.4 L309.5 1414.7 L312.5 1413.3 L315.1 1412.2 L317.5 1410.7 L319.4 1408.8 L321 1407.8 L322.4 1406 L323.6 1403.7 L324.8 1401.1 L326 1398.6 L327.2 1394.8 L328.2 1391.2 L329.3 1387.3 L330.3 1383.1 L331.4 1379.1 L332.6 1374.4 L333.7 1370.1 L334.8 1365.4 L335.9 1361.2 L337 1356.8 L338.1 1351.8 L339.2 1347.4 L340.3 1343.1 L341.4 1339.2 L342.5 1334.2 L343.7 1329.6 L344.8 1324.7 L345.9 1320.5 L346.9 1316.7 L347.7 1313.6 L348.5 1311 L349.1 1308.8 L349.8 1307.2 L350.6 1305.9 L351.4 1305.4 L352.4 1305.3 L353.3 1305.8 L354.2 1306.4 L355 1307.4 L355.6 1309.4 L356.1 1311.5 L356.6 1313.9 L357.2 1316.7 L357.9 1320.6 L358.9 1325.1 L360 1331.4 L361.1 1337.6 L362.3 1343.8 L363.4 1349.6 L364.5 1355.6 L365.6 1361 L366.6 1365.5 L367.7 1371 L369 1375.6 L370.3 1380.2 L371.8 1384.9 L373.3 1389.8 L374.8 1394.1 L376.3 1397.4 L377.8 1401.3 L379.2 1404.2 L380.6 1407.6 L382.1 1410 L383.7 1412.7 L385.3 1414.7 L387 1415.8 L388.8 1417.4 L390.8 1417.9 L392.9 1418.7 L395.3 1420 L398 1420.3 L400.8 1420.9 L403.5 1421.5 L405.7 1422.1 L407.7 1422 L409.4 1422.1 L411 1422.7 L412.2 1422.5 L413.1 1422.7 L413.1 1422.7 L684.3 1422.7" fill="none" stroke="#e81e2a" stroke-width="1.3" stroke-opacity="0.85" stroke-linejoin="round"/><path d="M172.4 1421.3 L191.1 1420.6 L209.7 1419.8 L225.5 1418.7 L238.7 1418.1 L251 1418.2 L262.2 1417.4 L272.2 1417 L280.7 1417.2 L287.3 1416.6 L292.3 1416.9 L296 1416.6 L299.3 1416.6 L302.8 1415.8 L306.3 1415.4 L309.5 1414.7 L312.5 1413.3 L315.1 1412.2 L317.5 1410.7 L319.4 1408.8 L321 1407.8 L322.4 1406 L323.6 1403.7 L324.8 1401.1 L326 1398.6 L327.2 1394.8 L328.2 1391.2 L329.3 1387.3 L330.3 1383.1 L331.4 1379.1 L332.6 1374.4 L333.7 1370.1 L334.8 1365.4 L335.9 1361.2 L337 1356.8 L338.1 1351.8 L339.2 1347.4 L340.3 1343.1 L341.4 1339.2 L342.5 1334.2 L343.7 1329.6 L344.8 1324.7 L345.9 1320.5 L346.9 1316.7 L347.7 1313.6 L348.5 1311 L349.1 1308.8 L349.8 1307.2 L350.6 1305.9 L351.4 1305.4 L352.4 1305.3 L353.3 1305.8 L354.2 1306.4 L355 1307.4 L355.6 1309.4 L356.1 1311.5 L356.6 1313.9 L357.2 1316.7 L357.9 1320.6 L358.9 1325.1 L360 1331.4 L361.1 1337.6 L362.3 1343.8 L363.4 1349.6 L364.5 1355.6 L365.6 1361 L366.6 1365.5 L367.7 1371 L369 1375.6 L370.3 1380.2 L371.8 1384.9 L373.3 1389.8 L374.8 1394.1 L376.3 1397.4 L377.8 1401.3 L379.2 1404.2 L380.6 1407.6 L382.1 1410 L383.7 1412.7 L385.3 1414.7 L387 1415.8 L388.8 1417.4 L390.8 1417.9 L392.9 1418.7 L395.3 1420 L398 1420.3 L400.8 1420.9" fill="none" stroke="#e81e2a" stroke-width="1.8" stroke-linejoin="round"/><path d="M312.5 1413.3 L315.1 1412.2 L317.5 1410.7 L319.4 1408.8 L321 1407.8 L322.4 1406 L323.6 1403.7 L324.8 1401.1 L326 1398.6 L327.2 1394.8 L328.2 1391.2 L329.3 1387.3 L330.3 1383.1 L331.4 1379.1 L332.6 1374.4 L333.7 1370.1 L334.8 1365.4 L335.9 1361.2 L337 1356.8 L338.1 1351.8 L339.2 1347.4 L340.3 1343.1 L341.4 1339.2 L342.5 1334.2 L343.7 1329.6 L344.8 1324.7 L345.9 1320.5 L346.9 1316.7 L347.7 1313.6 L348.5 1311 L349.1 1308.8 L349.8 1307.2 L350.6 1305.9 L351.4 1305.4 L352.4 1305.3 L353.3 1305.8 L354.2 1306.4 L355 1307.4 L355.6 1309.4 L356.1 1311.5 L356.6 1313.9 L357.2 1316.7 L357.9 1320.6 L358.9 1325.1 L360 1331.4 L361.1 1337.6 L362.3 1343.8 L363.4 1349.6 L364.5 1355.6 L365.6 1361 L366.6 1365.5 L367.7 1371 L369 1375.6 L370.3 1380.2 L371.8 1384.9 L373.3 1389.8 L374.8 1394.1 L376.3 1397.4 L377.8 1401.3 L379.2 1404.2 L380.6 1407.6 L382.1 1410 L383.7 1412.7" fill="none" stroke="#e81e2a" stroke-width="3" stroke-linejoin="round" stroke-linecap="round"/>
<path d="M96.8 1487.5 L96.8 1487.5 L107.1 1487.3 L121.8 1486.3 L138.7 1485.6 L155.6 1484.8 L170.3 1483.8 L183 1483.7 L195.2 1484.4 L206.4 1484.2 L216.7 1484.2 L225.5 1484.5 L232.6 1483.4 L238.1 1482.6 L242.6 1481.1 L246.8 1479.9 L251.3 1478.4 L256 1477.6 L260.7 1476.7 L265.2 1475.3 L269.4 1474.4 L273.3 1473.2 L276.7 1471.8 L279.7 1471.3 L282.5 1470.3 L285.2 1468.9 L288 1467.3 L291 1466.2 L294.1 1464.1 L297.1 1462.2 L300.1 1459.8 L302.8 1456.7 L305.3 1453.1 L307.6 1448.3 L309.8 1443.8 L311.9 1438.8 L313.8 1434.8 L315.5 1430.9 L317 1426.8 L318.4 1423.3 L319.7 1419.7 L321.1 1416.4 L322.6 1411.7 L324.1 1407.1 L325.6 1402.1 L327 1397.8 L328.5 1393.9 L330 1390.9 L331.5 1388.7 L333.1 1386.7 L334.5 1385.1 L335.9 1383.1 L337.1 1381.5 L338.3 1379.8 L339.4 1378.3 L340.4 1376.8 L341.4 1375.4 L342.2 1375 L342.9 1374.5 L343.5 1374 L344.2 1373.7 L345.1 1373.9 L346 1374.1 L347.1 1375.3 L348.3 1376.1 L349.4 1377.4 L350.6 1379 L351.7 1381.9 L352.8 1384.9 L353.9 1387.4 L355 1391.1 L356.1 1394 L357.2 1396.7 L358.3 1399.6 L359.4 1402.8 L360.5 1405.8 L361.6 1408.4 L362.7 1412.1 L363.7 1415.2 L364.8 1419.2 L365.9 1422.8 L367.1 1427.4 L368.5 1432.3 L369.8 1437.3 L371.3 1443.1 L372.9 1447.9 L374.5 1452.6 L376.2 1457.2 L378 1460.8 L379.9 1464.6 L381.8 1468.1 L383.7 1471.3 L385.5 1473.8 L387.4 1476.2 L389.2 1479 L391 1480.5 L392.9 1482.6 L394.7 1483.9 L396.5 1484.6 L398.3 1485.5 L400.1 1486.2 L402.1 1486.8 L404.3 1487.2 L406.9 1487.5 L409.4 1487.5 L411.6 1487.5 L413.1 1487.5 L413.1 1487.5Z" fill="#4cf0f8" fill-opacity="0.62" stroke="none"/>
<path d="M64.1 1487.5 L96.8 1487.5 L96.8 1487.5 L107.1 1487.3 L121.8 1486.3 L138.7 1485.6 L155.6 1484.8 L170.3 1483.8 L183 1483.7 L195.2 1484.4 L206.4 1484.2 L216.7 1484.2 L225.5 1484.5 L232.6 1483.4 L238.1 1482.6 L242.6 1481.1 L246.8 1479.9 L251.3 1478.4 L256 1477.6 L260.7 1476.7 L265.2 1475.3 L269.4 1474.4 L273.3 1473.2 L276.7 1471.8 L279.7 1471.3 L282.5 1470.3 L285.2 1468.9 L288 1467.3 L291 1466.2 L294.1 1464.1 L297.1 1462.2 L300.1 1459.8 L302.8 1456.7 L305.3 1453.1 L307.6 1448.3 L309.8 1443.8 L311.9 1438.8 L313.8 1434.8 L315.5 1430.9 L317 1426.8 L318.4 1423.3 L319.7 1419.7 L321.1 1416.4 L322.6 1411.7 L324.1 1407.1 L325.6 1402.1 L327 1397.8 L328.5 1393.9 L330 1390.9 L331.5 1388.7 L333.1 1386.7 L334.5 1385.1 L335.9 1383.1 L337.1 1381.5 L338.3 1379.8 L339.4 1378.3 L340.4 1376.8 L341.4 1375.4 L342.2 1375 L342.9 1374.5 L343.5 1374 L344.2 1373.7 L345.1 1373.9 L346 1374.1 L347.1 1375.3 L348.3 1376.1 L349.4 1377.4 L350.6 1379 L351.7 1381.9 L352.8 1384.9 L353.9 1387.4 L355 1391.1 L356.1 1394 L357.2 1396.7 L358.3 1399.6 L359.4 1402.8 L360.5 1405.8 L361.6 1408.4 L362.7 1412.1 L363.7 1415.2 L364.8 1419.2 L365.9 1422.8 L367.1 1427.4 L368.5 1432.3 L369.8 1437.3 L371.3 1443.1 L372.9 1447.9 L374.5 1452.6 L376.2 1457.2 L378 1460.8 L379.9 1464.6 L381.8 1468.1 L383.7 1471.3 L385.5 1473.8 L387.4 1476.2 L389.2 1479 L391 1480.5 L392.9 1482.6 L394.7 1483.9 L396.5 1484.6 L398.3 1485.5 L400.1 1486.2 L402.1 1486.8 L404.3 1487.2 L406.9 1487.5 L409.4 1487.5 L411.6 1487.5 L413.1 1487.5 L413.1 1487.5 L684.3 1487.5" fill="none" stroke="#50d4ee" stroke-width="1.3" stroke-opacity="0.85" stroke-linejoin="round"/><path d="M138.7 1485.6 L155.6 1484.8 L170.3 1483.8 L183 1483.7 L195.2 1484.4 L206.4 1484.2 L216.7 1484.2 L225.5 1484.5 L232.6 1483.4 L238.1 1482.6 L242.6 1481.1 L246.8 1479.9 L251.3 1478.4 L256 1477.6 L260.7 1476.7 L265.2 1475.3 L269.4 1474.4 L273.3 1473.2 L276.7 1471.8 L279.7 1471.3 L282.5 1470.3 L285.2 1468.9 L288 1467.3 L291 1466.2 L294.1 1464.1 L297.1 1462.2 L300.1 1459.8 L302.8 1456.7 L305.3 1453.1 L307.6 1448.3 L309.8 1443.8 L311.9 1438.8 L313.8 1434.8 L315.5 1430.9 L317 1426.8 L318.4 1423.3 L319.7 1419.7 L321.1 1416.4 L322.6 1411.7 L324.1 1407.1 L325.6 1402.1 L327 1397.8 L328.5 1393.9 L330 1390.9 L331.5 1388.7 L333.1 1386.7 L334.5 1385.1 L335.9 1383.1 L337.1 1381.5 L338.3 1379.8 L339.4 1378.3 L340.4 1376.8 L341.4 1375.4 L342.2 1375 L342.9 1374.5 L343.5 1374 L344.2 1373.7 L345.1 1373.9 L346 1374.1 L347.1 1375.3 L348.3 1376.1 L349.4 1377.4 L350.6 1379 L351.7 1381.9 L352.8 1384.9 L353.9 1387.4 L355 1391.1 L356.1 1394 L357.2 1396.7 L358.3 1399.6 L359.4 1402.8 L360.5 1405.8 L361.6 1408.4 L362.7 1412.1 L363.7 1415.2 L364.8 1419.2 L365.9 1422.8 L367.1 1427.4 L368.5 1432.3 L369.8 1437.3 L371.3 1443.1 L372.9 1447.9 L374.5 1452.6 L376.2 1457.2 L378 1460.8 L379.9 1464.6 L381.8 1468.1 L383.7 1471.3 L385.5 1473.8 L387.4 1476.2 L389.2 1479 L391 1480.5 L392.9 1482.6 L394.7 1483.9 L396.5 1484.6 L398.3 1485.5 L400.1 1486.2" fill="none" stroke="#50d4ee" stroke-width="1.8" stroke-linejoin="round"/><path d="M251.3 1478.4 L256 1477.6 L260.7 1476.7 L265.2 1475.3 L269.4 1474.4 L273.3 1473.2 L276.7 1471.8 L279.7 1471.3 L282.5 1470.3 L285.2 1468.9 L288 1467.3 L291 1466.2 L294.1 1464.1 L297.1 1462.2 L300.1 1459.8 L302.8 1456.7 L305.3 1453.1 L307.6 1448.3 L309.8 1443.8 L311.9 1438.8 L313.8 1434.8 L315.5 1430.9 L317 1426.8 L318.4 1423.3 L319.7 1419.7 L321.1 1416.4 L322.6 1411.7 L324.1 1407.1 L325.6 1402.1 L327 1397.8 L328.5 1393.9 L330 1390.9 L331.5 1388.7 L333.1 1386.7 L334.5 1385.1 L335.9 1383.1 L337.1 1381.5 L338.3 1379.8 L339.4 1378.3 L340.4 1376.8 L341.4 1375.4 L342.2 1375 L342.9 1374.5 L343.5 1374 L344.2 1373.7 L345.1 1373.9 L346 1374.1 L347.1 1375.3 L348.3 1376.1 L349.4 1377.4 L350.6 1379 L351.7 1381.9 L352.8 1384.9 L353.9 1387.4 L355 1391.1 L356.1 1394 L357.2 1396.7 L358.3 1399.6 L359.4 1402.8 L360.5 1405.8 L361.6 1408.4 L362.7 1412.1 L363.7 1415.2 L364.8 1419.2 L365.9 1422.8 L367.1 1427.4 L368.5 1432.3 L369.8 1437.3 L371.3 1443.1 L372.9 1447.9 L374.5 1452.6 L376.2 1457.2 L378 1460.8 L379.9 1464.6 L381.8 1468.1 L383.7 1471.3 L385.5 1473.8 L387.4 1476.2" fill="none" stroke="#50d4ee" stroke-width="2.8" stroke-linejoin="round" stroke-linecap="round"/>
<path d="M67.4 1553.1 L67.4 1553 L71.7 1553 L77.9 1552.6 L84.9 1552.5 L91.6 1552.2 L96.8 1551.4 L99.6 1550.8 L100.9 1550.8 L101.9 1549.7 L103.8 1549.1 L107.8 1549.1 L114.3 1548.3 L122.6 1548.2 L131.9 1547.6 L141.9 1547.5 L152 1547 L162.7 1547.4 L174.5 1547.8 L186.4 1547.8 L197.6 1548.2 L207.1 1548.1 L214.8 1547.5 L221.1 1547.7 L226.5 1547.2 L231.5 1546.4 L236.6 1545.5 L241.4 1545.1 L245.9 1543.7 L250.1 1542.6 L254.3 1541.3 L258.6 1539.7 L263.2 1538.2 L267.8 1536 L272.4 1534.4 L276.7 1532.2 L280.7 1530.6 L284.2 1528.8 L287.3 1526.6 L290.1 1524.8 L292.8 1523 L295.4 1521.5 L297.9 1518.9 L300.3 1516.8 L302.5 1514.1 L304.5 1511.5 L306.4 1508.2 L308.1 1504.3 L309.6 1500.2 L311 1495.5 L312.4 1491.1 L313.8 1486.3 L315.3 1482 L316.7 1477.3 L318.2 1472.8 L319.7 1468.2 L321.1 1463.9 L322.6 1460.9 L324.1 1457.9 L325.6 1455 L327 1452.1 L328.5 1449.6 L330 1446.7 L331.6 1444.7 L333.1 1442.2 L334.6 1440 L335.9 1438.1 L337 1437.2 L337.9 1436 L338.8 1434.4 L339.7 1434.3 L340.6 1433.9 L341.7 1434.1 L342.8 1435.1 L343.9 1436.7 L345 1438.4 L346.2 1439.9 L347.3 1443 L348.6 1446.1 L349.8 1450.2 L351.1 1453.5 L352.4 1457 L353.8 1459.6 L355.4 1461.4 L356.9 1463.8 L358.4 1465.3 L359.8 1467.5 L361 1470.5 L362 1472.8 L363 1475.7 L364.1 1479 L365.3 1482.6 L366.6 1486.3 L368.1 1490.9 L369.6 1496.2 L371.1 1500.4 L372.6 1504.9 L374.1 1508.2 L375.6 1510.8 L377.1 1513.5 L378.5 1516.3 L380 1519.4 L381.4 1522.9 L382.8 1526.8 L384.1 1530.8 L385.6 1534.7 L387.4 1537.7 L389.3 1540.4 L391.3 1543.2 L393.5 1545 L395.9 1547 L398.4 1549.1 L401.1 1550 L404 1550.9 L407 1551.2 L410.1 1551.9 L413.1 1552.5 L416.3 1552.4 L419.7 1553 L423 1553.1 L425.8 1552.8 L427.8 1553.1 L427.8 1553.1Z" fill="#8cf27a" fill-opacity="0.62" stroke="none"/>
<path d="M64.1 1553.1 L67.4 1553.1 L67.4 1553 L71.7 1553 L77.9 1552.6 L84.9 1552.5 L91.6 1552.2 L96.8 1551.4 L99.6 1550.8 L100.9 1550.8 L101.9 1549.7 L103.8 1549.1 L107.8 1549.1 L114.3 1548.3 L122.6 1548.2 L131.9 1547.6 L141.9 1547.5 L152 1547 L162.7 1547.4 L174.5 1547.8 L186.4 1547.8 L197.6 1548.2 L207.1 1548.1 L214.8 1547.5 L221.1 1547.7 L226.5 1547.2 L231.5 1546.4 L236.6 1545.5 L241.4 1545.1 L245.9 1543.7 L250.1 1542.6 L254.3 1541.3 L258.6 1539.7 L263.2 1538.2 L267.8 1536 L272.4 1534.4 L276.7 1532.2 L280.7 1530.6 L284.2 1528.8 L287.3 1526.6 L290.1 1524.8 L292.8 1523 L295.4 1521.5 L297.9 1518.9 L300.3 1516.8 L302.5 1514.1 L304.5 1511.5 L306.4 1508.2 L308.1 1504.3 L309.6 1500.2 L311 1495.5 L312.4 1491.1 L313.8 1486.3 L315.3 1482 L316.7 1477.3 L318.2 1472.8 L319.7 1468.2 L321.1 1463.9 L322.6 1460.9 L324.1 1457.9 L325.6 1455 L327 1452.1 L328.5 1449.6 L330 1446.7 L331.6 1444.7 L333.1 1442.2 L334.6 1440 L335.9 1438.1 L337 1437.2 L337.9 1436 L338.8 1434.4 L339.7 1434.3 L340.6 1433.9 L341.7 1434.1 L342.8 1435.1 L343.9 1436.7 L345 1438.4 L346.2 1439.9 L347.3 1443 L348.6 1446.1 L349.8 1450.2 L351.1 1453.5 L352.4 1457 L353.8 1459.6 L355.4 1461.4 L356.9 1463.8 L358.4 1465.3 L359.8 1467.5 L361 1470.5 L362 1472.8 L363 1475.7 L364.1 1479 L365.3 1482.6 L366.6 1486.3 L368.1 1490.9 L369.6 1496.2 L371.1 1500.4 L372.6 1504.9 L374.1 1508.2 L375.6 1510.8 L377.1 1513.5 L378.5 1516.3 L380 1519.4 L381.4 1522.9 L382.8 1526.8 L384.1 1530.8 L385.6 1534.7 L387.4 1537.7 L389.3 1540.4 L391.3 1543.2 L393.5 1545 L395.9 1547 L398.4 1549.1 L401.1 1550 L404 1550.9 L407 1551.2 L410.1 1551.9 L413.1 1552.5 L416.3 1552.4 L419.7 1553 L423 1553.1 L425.8 1552.8 L427.8 1553.1 L427.8 1553.1 L684.3 1553.1" fill="none" stroke="#3ce41e" stroke-width="1.3" stroke-opacity="0.85" stroke-linejoin="round"/><path d="M96.8 1551.4 L99.6 1550.8 L100.9 1550.8 L101.9 1549.7 L103.8 1549.1 L107.8 1549.1 L114.3 1548.3 L122.6 1548.2 L131.9 1547.6 L141.9 1547.5 L152 1547 L162.7 1547.4 L174.5 1547.8 L186.4 1547.8 L197.6 1548.2 L207.1 1548.1 L214.8 1547.5 L221.1 1547.7 L226.5 1547.2 L231.5 1546.4 L236.6 1545.5 L241.4 1545.1 L245.9 1543.7 L250.1 1542.6 L254.3 1541.3 L258.6 1539.7 L263.2 1538.2 L267.8 1536 L272.4 1534.4 L276.7 1532.2 L280.7 1530.6 L284.2 1528.8 L287.3 1526.6 L290.1 1524.8 L292.8 1523 L295.4 1521.5 L297.9 1518.9 L300.3 1516.8 L302.5 1514.1 L304.5 1511.5 L306.4 1508.2 L308.1 1504.3 L309.6 1500.2 L311 1495.5 L312.4 1491.1 L313.8 1486.3 L315.3 1482 L316.7 1477.3 L318.2 1472.8 L319.7 1468.2 L321.1 1463.9 L322.6 1460.9 L324.1 1457.9 L325.6 1455 L327 1452.1 L328.5 1449.6 L330 1446.7 L331.6 1444.7 L333.1 1442.2 L334.6 1440 L335.9 1438.1 L337 1437.2 L337.9 1436 L338.8 1434.4 L339.7 1434.3 L340.6 1433.9 L341.7 1434.1 L342.8 1435.1 L343.9 1436.7 L345 1438.4 L346.2 1439.9 L347.3 1443 L348.6 1446.1 L349.8 1450.2 L351.1 1453.5 L352.4 1457 L353.8 1459.6 L355.4 1461.4 L356.9 1463.8 L358.4 1465.3 L359.8 1467.5 L361 1470.5 L362 1472.8 L363 1475.7 L364.1 1479 L365.3 1482.6 L366.6 1486.3 L368.1 1490.9 L369.6 1496.2 L371.1 1500.4 L372.6 1504.9 L374.1 1508.2 L375.6 1510.8 L377.1 1513.5 L378.5 1516.3 L380 1519.4 L381.4 1522.9 L382.8 1526.8 L384.1 1530.8 L385.6 1534.7 L387.4 1537.7 L389.3 1540.4 L391.3 1543.2 L393.5 1545 L395.9 1547 L398.4 1549.1 L401.1 1550 L404 1550.9 L407 1551.2" fill="none" stroke="#3ce41e" stroke-width="1.8" stroke-linejoin="round"/><path d="M245.9 1543.7 L250.1 1542.6 L254.3 1541.3 L258.6 1539.7 L263.2 1538.2 L267.8 1536 L272.4 1534.4 L276.7 1532.2 L280.7 1530.6 L284.2 1528.8 L287.3 1526.6 L290.1 1524.8 L292.8 1523 L295.4 1521.5 L297.9 1518.9 L300.3 1516.8 L302.5 1514.1 L304.5 1511.5 L306.4 1508.2 L308.1 1504.3 L309.6 1500.2 L311 1495.5 L312.4 1491.1 L313.8 1486.3 L315.3 1482 L316.7 1477.3 L318.2 1472.8 L319.7 1468.2 L321.1 1463.9 L322.6 1460.9 L324.1 1457.9 L325.6 1455 L327 1452.1 L328.5 1449.6 L330 1446.7 L331.6 1444.7 L333.1 1442.2 L334.6 1440 L335.9 1438.1 L337 1437.2 L337.9 1436 L338.8 1434.4 L339.7 1434.3 L340.6 1433.9 L341.7 1434.1 L342.8 1435.1 L343.9 1436.7 L345 1438.4 L346.2 1439.9 L347.3 1443 L348.6 1446.1 L349.8 1450.2 L351.1 1453.5 L352.4 1457 L353.8 1459.6 L355.4 1461.4 L356.9 1463.8 L358.4 1465.3 L359.8 1467.5 L361 1470.5 L362 1472.8 L363 1475.7 L364.1 1479 L365.3 1482.6 L366.6 1486.3 L368.1 1490.9 L369.6 1496.2 L371.1 1500.4 L372.6 1504.9 L374.1 1508.2 L375.6 1510.8 L377.1 1513.5 L378.5 1516.3 L380 1519.4 L381.4 1522.9 L382.8 1526.8 L384.1 1530.8 L385.6 1534.7 L387.4 1537.7 L389.3 1540.4 L391.3 1543.2" fill="none" stroke="#3ce41e" stroke-width="2.8" stroke-linejoin="round" stroke-linecap="round"/>
<path d="M199.8 1616.6 L199.8 1615.9 L201.8 1615 L204.6 1613.5 L207.9 1611.9 L211.3 1609.9 L214.5 1607.3 L217.5 1604.8 L220.5 1602.7 L223.6 1599.4 L226.5 1596.2 L229.2 1593.2 L231.6 1588.9 L233.9 1584.8 L236 1580 L238.1 1575.4 L240.2 1570.6 L242.5 1566.4 L244.7 1562.1 L247 1557.3 L249.2 1553.1 L251.3 1548.9 L253.3 1544.4 L255.3 1540.9 L257.1 1537 L258.9 1533.3 L260.5 1530 L261.8 1527.9 L263 1525.2 L264.1 1523.3 L265.1 1521.7 L266 1520.2 L266.8 1519.3 L267.5 1518.2 L268.1 1518 L268.8 1517.6 L269.7 1518.1 L270.6 1518.6 L271.7 1518.8 L272.9 1519.9 L274 1521.3 L275.2 1523.3 L276.2 1524.7 L277.1 1526.7 L278.1 1528.7 L279.2 1531.3 L280.7 1533.9 L282.6 1537.1 L284.9 1540.7 L287.3 1544.5 L289.7 1548.7 L291.7 1552.5 L293.4 1557 L294.9 1561.4 L296.3 1566.1 L297.7 1570.4 L299.1 1574.2 L300.6 1578.7 L302 1582.6 L303.5 1586.2 L305 1589.5 L306.4 1593 L307.9 1595.9 L309.4 1599.6 L310.9 1602.4 L312.3 1605 L313.8 1607.3 L315.4 1610.1 L317.1 1612.2 L318.7 1613.3 L320.1 1615.2 L321.1 1616 L321.1 1616.6Z" fill="#5ccab6" fill-opacity="0.62" stroke="none"/>
<path d="M64.1 1616.6 L199.8 1616.6 L199.8 1615.9 L201.8 1615 L204.6 1613.5 L207.9 1611.9 L211.3 1609.9 L214.5 1607.3 L217.5 1604.8 L220.5 1602.7 L223.6 1599.4 L226.5 1596.2 L229.2 1593.2 L231.6 1588.9 L233.9 1584.8 L236 1580 L238.1 1575.4 L240.2 1570.6 L242.5 1566.4 L244.7 1562.1 L247 1557.3 L249.2 1553.1 L251.3 1548.9 L253.3 1544.4 L255.3 1540.9 L257.1 1537 L258.9 1533.3 L260.5 1530 L261.8 1527.9 L263 1525.2 L264.1 1523.3 L265.1 1521.7 L266 1520.2 L266.8 1519.3 L267.5 1518.2 L268.1 1518 L268.8 1517.6 L269.7 1518.1 L270.6 1518.6 L271.7 1518.8 L272.9 1519.9 L274 1521.3 L275.2 1523.3 L276.2 1524.7 L277.1 1526.7 L278.1 1528.7 L279.2 1531.3 L280.7 1533.9 L282.6 1537.1 L284.9 1540.7 L287.3 1544.5 L289.7 1548.7 L291.7 1552.5 L293.4 1557 L294.9 1561.4 L296.3 1566.1 L297.7 1570.4 L299.1 1574.2 L300.6 1578.7 L302 1582.6 L303.5 1586.2 L305 1589.5 L306.4 1593 L307.9 1595.9 L309.4 1599.6 L310.9 1602.4 L312.3 1605 L313.8 1607.3 L315.4 1610.1 L317.1 1612.2 L318.7 1613.3 L320.1 1615.2 L321.1 1616 L321.1 1616.6 L684.3 1616.6" fill="none" stroke="#338a80" stroke-width="1.3" stroke-opacity="0.85" stroke-linejoin="round"/><path d="M201.8 1615 L204.6 1613.5 L207.9 1611.9 L211.3 1609.9 L214.5 1607.3 L217.5 1604.8 L220.5 1602.7 L223.6 1599.4 L226.5 1596.2 L229.2 1593.2 L231.6 1588.9 L233.9 1584.8 L236 1580 L238.1 1575.4 L240.2 1570.6 L242.5 1566.4 L244.7 1562.1 L247 1557.3 L249.2 1553.1 L251.3 1548.9 L253.3 1544.4 L255.3 1540.9 L257.1 1537 L258.9 1533.3 L260.5 1530 L261.8 1527.9 L263 1525.2 L264.1 1523.3 L265.1 1521.7 L266 1520.2 L266.8 1519.3 L267.5 1518.2 L268.1 1518 L268.8 1517.6 L269.7 1518.1 L270.6 1518.6 L271.7 1518.8 L272.9 1519.9 L274 1521.3 L275.2 1523.3 L276.2 1524.7 L277.1 1526.7 L278.1 1528.7 L279.2 1531.3 L280.7 1533.9 L282.6 1537.1 L284.9 1540.7 L287.3 1544.5 L289.7 1548.7 L291.7 1552.5 L293.4 1557 L294.9 1561.4 L296.3 1566.1 L297.7 1570.4 L299.1 1574.2 L300.6 1578.7 L302 1582.6 L303.5 1586.2 L305 1589.5 L306.4 1593 L307.9 1595.9 L309.4 1599.6 L310.9 1602.4 L312.3 1605 L313.8 1607.3 L315.4 1610.1 L317.1 1612.2 L318.7 1613.3 L320.1 1615.2" fill="none" stroke="#338a80" stroke-width="1.8" stroke-linejoin="round"/><path d="M214.5 1607.3 L217.5 1604.8 L220.5 1602.7 L223.6 1599.4 L226.5 1596.2 L229.2 1593.2 L231.6 1588.9 L233.9 1584.8 L236 1580 L238.1 1575.4 L240.2 1570.6 L242.5 1566.4 L244.7 1562.1 L247 1557.3 L249.2 1553.1 L251.3 1548.9 L253.3 1544.4 L255.3 1540.9 L257.1 1537 L258.9 1533.3 L260.5 1530 L261.8 1527.9 L263 1525.2 L264.1 1523.3 L265.1 1521.7 L266 1520.2 L266.8 1519.3 L267.5 1518.2 L268.1 1518 L268.8 1517.6 L269.7 1518.1 L270.6 1518.6 L271.7 1518.8 L272.9 1519.9 L274 1521.3 L275.2 1523.3 L276.2 1524.7 L277.1 1526.7 L278.1 1528.7 L279.2 1531.3 L280.7 1533.9 L282.6 1537.1 L284.9 1540.7 L287.3 1544.5 L289.7 1548.7 L291.7 1552.5 L293.4 1557 L294.9 1561.4 L296.3 1566.1 L297.7 1570.4 L299.1 1574.2 L300.6 1578.7 L302 1582.6 L303.5 1586.2 L305 1589.5 L306.4 1593 L307.9 1595.9 L309.4 1599.6 L310.9 1602.4 L312.3 1605 L313.8 1607.3" fill="none" stroke="#338a80" stroke-width="3" stroke-linejoin="round" stroke-linecap="round"/>
<rect x="64.1" y="1020" width="620.2" height="597" fill="none" stroke="#333" stroke-width="1.8"/>
<rect x="61.1" y="1017" width="6" height="6" fill="#444"/>
<rect x="681.3" y="1017" width="6" height="6" fill="#444"/>
<rect x="61.1" y="1614" width="6" height="6" fill="#444"/>
<rect x="681.3" y="1614" width="6" height="6" fill="#444"/>
<text x="460.2" y="1141.9" font-size="22" fill="#000" textLength="213.3" lengthAdjust="spacingAndGlyphs" stroke="#000" stroke-width="0.45">SIS17 + TGFβ + IFNβ</text>
<text x="613.6" y="1208.1" font-size="22" fill="#000" textLength="55.1" lengthAdjust="spacingAndGlyphs" stroke="#000" stroke-width="0.45">IFN-β</text>
<text x="443.6" y="1272.5" font-size="22" fill="#000" textLength="229.9" lengthAdjust="spacingAndGlyphs" stroke="#000" stroke-width="0.45">SIS17 + TGF-β + IFN-β</text>
<text x="530.8" y="1342.5" font-size="22" fill="#000" textLength="145.3" lengthAdjust="spacingAndGlyphs" stroke="#000" stroke-width="0.45">TGF-β + IFN-β</text>
<text x="593.3" y="1408.7" font-size="22" fill="#000" textLength="61.8" lengthAdjust="spacingAndGlyphs" stroke="#000" stroke-width="0.45">TGF-β</text>
<text x="595.2" y="1468.3" font-size="22" fill="#000" textLength="57" lengthAdjust="spacingAndGlyphs" stroke="#000" stroke-width="0.45">SIS17</text>
<text x="584.1" y="1533.3" font-size="22" fill="#000" textLength="76.2" lengthAdjust="spacingAndGlyphs" stroke="#000" stroke-width="0.45">Unstim</text>
<text x="595.2" y="1598.4" font-size="22" fill="#000" textLength="51.5" lengthAdjust="spacingAndGlyphs" stroke="#000" stroke-width="0.45">FMO</text>
<line x1="130.7" y1="1617" x2="130.7" y2="1628.4" stroke="#111" stroke-width="2.8"/>
<line x1="318.9" y1="1617" x2="318.9" y2="1628.4" stroke="#111" stroke-width="2.8"/>
<line x1="419.5" y1="1617" x2="419.5" y2="1628.4" stroke="#111" stroke-width="2.8"/>
<line x1="510.4" y1="1617" x2="510.4" y2="1628.4" stroke="#111" stroke-width="2.8"/>
<line x1="600.5" y1="1617" x2="600.5" y2="1628.4" stroke="#111" stroke-width="2.8"/>
<line x1="115.2" y1="1617" x2="115.2" y2="1622" stroke="#111" stroke-width="1.4"/>
<line x1="96.7" y1="1617" x2="96.7" y2="1622" stroke="#111" stroke-width="1.4"/>
<line x1="74.7" y1="1617" x2="74.7" y2="1622" stroke="#111" stroke-width="1.4"/>
<line x1="136.4" y1="1617" x2="136.4" y2="1622" stroke="#111" stroke-width="1.4"/>
<line x1="142.8" y1="1617" x2="142.8" y2="1622" stroke="#111" stroke-width="1.4"/>
<line x1="147.2" y1="1617" x2="147.2" y2="1622" stroke="#111" stroke-width="1.4"/>
<line x1="156" y1="1617" x2="156" y2="1622" stroke="#111" stroke-width="1.4"/>
<line x1="163.6" y1="1617" x2="163.6" y2="1625.3" stroke="#111" stroke-width="1.4"/>
<line x1="174.4" y1="1617" x2="174.4" y2="1622" stroke="#111" stroke-width="1.4"/>
<line x1="185.1" y1="1617" x2="185.1" y2="1622" stroke="#111" stroke-width="1.4"/>
<line x1="195.9" y1="1617" x2="195.9" y2="1622" stroke="#111" stroke-width="1.4"/>
<rect x="209.1" y="1617" width="31" height="3.6" fill="#111"/>
<rect x="209.1" y="1617" width="3.8" height="11.4" fill="#111"/>
<rect x="215.3" y="1617" width="1.5" height="7.6" fill="#111"/>
<rect x="218.1" y="1617" width="1.2" height="7.6" fill="#111"/>
<rect x="222.3" y="1617" width="5.7" height="11.4" fill="#111"/>
<rect x="230.2" y="1617" width="1.2" height="7.6" fill="#111"/>
<rect x="233" y="1617" width="0.9" height="7.6" fill="#111"/>
<rect x="236.9" y="1617" width="3.2" height="11.4" fill="#111"/>
<line x1="252.2" y1="1617" x2="252.2" y2="1622" stroke="#111" stroke-width="1.4"/>
<line x1="264.2" y1="1617" x2="264.2" y2="1622" stroke="#111" stroke-width="1.4"/>
<line x1="277" y1="1617" x2="277" y2="1622" stroke="#111" stroke-width="1.4"/>
<line x1="285.8" y1="1617" x2="285.8" y2="1625.3" stroke="#111" stroke-width="1.4"/>
<line x1="294.8" y1="1617" x2="294.8" y2="1622" stroke="#111" stroke-width="1.4"/>
<line x1="301.1" y1="1617" x2="301.1" y2="1622" stroke="#111" stroke-width="1.4"/>
<line x1="308.7" y1="1617" x2="308.7" y2="1622" stroke="#111" stroke-width="1.4"/>
<line x1="313.9" y1="1617" x2="313.9" y2="1622" stroke="#111" stroke-width="1.4"/>
<line x1="349.2" y1="1617" x2="349.2" y2="1622" stroke="#111" stroke-width="1.4"/>
<line x1="366.9" y1="1617" x2="366.9" y2="1622" stroke="#111" stroke-width="1.4"/>
<line x1="379.5" y1="1617" x2="379.5" y2="1622" stroke="#111" stroke-width="1.4"/>
<line x1="389.2" y1="1617" x2="389.2" y2="1625.3" stroke="#111" stroke-width="1.4"/>
<line x1="397.2" y1="1617" x2="397.2" y2="1622" stroke="#111" stroke-width="1.4"/>
<line x1="403.9" y1="1617" x2="403.9" y2="1622" stroke="#111" stroke-width="1.4"/>
<line x1="409.8" y1="1617" x2="409.8" y2="1622" stroke="#111" stroke-width="1.4"/>
<line x1="414.9" y1="1617" x2="414.9" y2="1622" stroke="#111" stroke-width="1.4"/>
<line x1="446.9" y1="1617" x2="446.9" y2="1622" stroke="#111" stroke-width="1.4"/>
<line x1="462.9" y1="1617" x2="462.9" y2="1622" stroke="#111" stroke-width="1.4"/>
<line x1="474.2" y1="1617" x2="474.2" y2="1622" stroke="#111" stroke-width="1.4"/>
<line x1="483" y1="1617" x2="483" y2="1625.3" stroke="#111" stroke-width="1.4"/>
<line x1="490.2" y1="1617" x2="490.2" y2="1622" stroke="#111" stroke-width="1.4"/>
<line x1="496.3" y1="1617" x2="496.3" y2="1622" stroke="#111" stroke-width="1.4"/>
<line x1="501.6" y1="1617" x2="501.6" y2="1622" stroke="#111" stroke-width="1.4"/>
<line x1="506.2" y1="1617" x2="506.2" y2="1622" stroke="#111" stroke-width="1.4"/>
<line x1="537.5" y1="1617" x2="537.5" y2="1622" stroke="#111" stroke-width="1.4"/>
<line x1="553.4" y1="1617" x2="553.4" y2="1622" stroke="#111" stroke-width="1.4"/>
<line x1="564.6" y1="1617" x2="564.6" y2="1622" stroke="#111" stroke-width="1.4"/>
<line x1="573.4" y1="1617" x2="573.4" y2="1625.3" stroke="#111" stroke-width="1.4"/>
<line x1="580.5" y1="1617" x2="580.5" y2="1622" stroke="#111" stroke-width="1.4"/>
<line x1="586.5" y1="1617" x2="586.5" y2="1622" stroke="#111" stroke-width="1.4"/>
<line x1="591.8" y1="1617" x2="591.8" y2="1622" stroke="#111" stroke-width="1.4"/>
<line x1="596.4" y1="1617" x2="596.4" y2="1622" stroke="#111" stroke-width="1.4"/>
<line x1="627.6" y1="1617" x2="627.6" y2="1622" stroke="#111" stroke-width="1.4"/>
<line x1="643.5" y1="1617" x2="643.5" y2="1622" stroke="#111" stroke-width="1.4"/>
<line x1="654.7" y1="1617" x2="654.7" y2="1622" stroke="#111" stroke-width="1.4"/>
<line x1="663.5" y1="1617" x2="663.5" y2="1625.3" stroke="#111" stroke-width="1.4"/>
<line x1="670.6" y1="1617" x2="670.6" y2="1622" stroke="#111" stroke-width="1.4"/>
<line x1="676.6" y1="1617" x2="676.6" y2="1622" stroke="#111" stroke-width="1.4"/>
<line x1="681.9" y1="1617" x2="681.9" y2="1622" stroke="#111" stroke-width="1.4"/><text x="126.7" y="1655.6" font-size="14.8" font-family='"DejaVu Sans", "Liberation Sans", sans-serif' fill="#000" textLength="27.5" lengthAdjust="spacingAndGlyphs">-10</text>
<text x="157.9" y="1644.8" font-size="14.8" font-family='"DejaVu Sans", "Liberation Sans", sans-serif' fill="#000">3</text>
<text x="230" y="1655.6" font-size="14.8" font-family='"DejaVu Sans", "Liberation Sans", sans-serif' fill="#000">0</text>
<text x="318.4" y="1655.6" font-size="14.8" font-family='"DejaVu Sans", "Liberation Sans", sans-serif' fill="#000" textLength="18.6" lengthAdjust="spacingAndGlyphs">10</text>
<text x="340.2" y="1644.8" font-size="14.8" font-family='"DejaVu Sans", "Liberation Sans", sans-serif' fill="#000">3</text>
<text x="419" y="1655.6" font-size="14.8" font-family='"DejaVu Sans", "Liberation Sans", sans-serif' fill="#000" textLength="18.6" lengthAdjust="spacingAndGlyphs">10</text>
<text x="440.8" y="1644.8" font-size="14.8" font-family='"DejaVu Sans", "Liberation Sans", sans-serif' fill="#000">4</text>
<text x="509.9" y="1655.6" font-size="14.8" font-family='"DejaVu Sans", "Liberation Sans", sans-serif' fill="#000" textLength="18.6" lengthAdjust="spacingAndGlyphs">10</text>
<text x="531.7" y="1644.8" font-size="14.8" font-family='"DejaVu Sans", "Liberation Sans", sans-serif' fill="#000">5</text>
<text x="600" y="1655.6" font-size="14.8" font-family='"DejaVu Sans", "Liberation Sans", sans-serif' fill="#000" textLength="18.6" lengthAdjust="spacingAndGlyphs">10</text>
<text x="621.8" y="1644.8" font-size="14.8" font-family='"DejaVu Sans", "Liberation Sans", sans-serif' fill="#000">6</text><text x="275.9" y="1693.9" font-size="18" font-family='"DejaVu Sans", "Liberation Sans", sans-serif' fill="#000" textLength="187.8" lengthAdjust="spacingAndGlyphs">FJComp–PE–A :: IRF1</text>
<path d="M1014.4 1160.3 L1014.4 1160.1 L1020.3 1160.1 L1029.1 1159.7 L1038.8 1159.5 L1048 1159.1 L1054.8 1158.1 L1058.9 1157.5 L1061.4 1157.5 L1063 1156.4 L1064.2 1155.6 L1065.9 1155.1 L1067.8 1153.6 L1069.8 1152.7 L1071.6 1151 L1073.4 1149.5 L1075.1 1147.2 L1076.7 1145.2 L1078.2 1142.8 L1079.7 1139.8 L1081.1 1136.6 L1082.4 1132.8 L1083.6 1128.1 L1084.8 1123.7 L1085.8 1118.4 L1086.9 1112.6 L1087.9 1106.6 L1089 1101 L1090.2 1094 L1091.3 1087.3 L1092.4 1080.6 L1093.4 1074 L1094.5 1067.7 L1095.4 1060.7 L1096.4 1054.7 L1097.3 1048.8 L1098.2 1044.7 L1099.1 1041.5 L1100 1038.8 L1100.9 1037.4 L1101.8 1036.6 L1102.6 1036.7 L1103.5 1036.1 L1104.4 1036.6 L1105.3 1037.2 L1106.2 1038.8 L1107.1 1040.7 L1108 1043.2 L1108.9 1046.6 L1109.9 1050.4 L1110.8 1054.8 L1111.8 1059.3 L1112.9 1064.6 L1114 1070.4 L1115.1 1076.6 L1116.2 1082.6 L1117.4 1088.3 L1118.5 1094.8 L1119.6 1101 L1120.7 1107 L1121.8 1112.6 L1122.9 1118.1 L1123.9 1122.8 L1125 1128 L1126.1 1132.2 L1127.2 1136.1 L1128.4 1139.8 L1129.7 1143.8 L1131.1 1147 L1132.6 1149.2 L1134.1 1152.2 L1135.7 1154 L1137.5 1155.3 L1139.3 1156.5 L1141.2 1157.5 L1143.1 1158.1 L1144.9 1158.1 L1146.9 1159.1 L1149.1 1159.1 L1151.1 1160 L1152.9 1160 L1154.1 1160.3 L1154.1 1160.3Z" fill="#c86cf8" fill-opacity="0.62" stroke="none"/>
<path d="M795.3 1160.3 L1014.4 1160.3 L1014.4 1160.1 L1020.3 1160.1 L1029.1 1159.7 L1038.8 1159.5 L1048 1159.1 L1054.8 1158.1 L1058.9 1157.5 L1061.4 1157.5 L1063 1156.4 L1064.2 1155.6 L1065.9 1155.1 L1067.8 1153.6 L1069.8 1152.7 L1071.6 1151 L1073.4 1149.5 L1075.1 1147.2 L1076.7 1145.2 L1078.2 1142.8 L1079.7 1139.8 L1081.1 1136.6 L1082.4 1132.8 L1083.6 1128.1 L1084.8 1123.7 L1085.8 1118.4 L1086.9 1112.6 L1087.9 1106.6 L1089 1101 L1090.2 1094 L1091.3 1087.3 L1092.4 1080.6 L1093.4 1074 L1094.5 1067.7 L1095.4 1060.7 L1096.4 1054.7 L1097.3 1048.8 L1098.2 1044.7 L1099.1 1041.5 L1100 1038.8 L1100.9 1037.4 L1101.8 1036.6 L1102.6 1036.7 L1103.5 1036.1 L1104.4 1036.6 L1105.3 1037.2 L1106.2 1038.8 L1107.1 1040.7 L1108 1043.2 L1108.9 1046.6 L1109.9 1050.4 L1110.8 1054.8 L1111.8 1059.3 L1112.9 1064.6 L1114 1070.4 L1115.1 1076.6 L1116.2 1082.6 L1117.4 1088.3 L1118.5 1094.8 L1119.6 1101 L1120.7 1107 L1121.8 1112.6 L1122.9 1118.1 L1123.9 1122.8 L1125 1128 L1126.1 1132.2 L1127.2 1136.1 L1128.4 1139.8 L1129.7 1143.8 L1131.1 1147 L1132.6 1149.2 L1134.1 1152.2 L1135.7 1154 L1137.5 1155.3 L1139.3 1156.5 L1141.2 1157.5 L1143.1 1158.1 L1144.9 1158.1 L1146.9 1159.1 L1149.1 1159.1 L1151.1 1160 L1152.9 1160 L1154.1 1160.3 L1154.1 1160.3 L1419.5 1160.3" fill="none" stroke="#a01ef0" stroke-width="1.3" stroke-opacity="0.85" stroke-linejoin="round"/><path d="M1048 1159.1 L1054.8 1158.1 L1058.9 1157.5 L1061.4 1157.5 L1063 1156.4 L1064.2 1155.6 L1065.9 1155.1 L1067.8 1153.6 L1069.8 1152.7 L1071.6 1151 L1073.4 1149.5 L1075.1 1147.2 L1076.7 1145.2 L1078.2 1142.8 L1079.7 1139.8 L1081.1 1136.6 L1082.4 1132.8 L1083.6 1128.1 L1084.8 1123.7 L1085.8 1118.4 L1086.9 1112.6 L1087.9 1106.6 L1089 1101 L1090.2 1094 L1091.3 1087.3 L1092.4 1080.6 L1093.4 1074 L1094.5 1067.7 L1095.4 1060.7 L1096.4 1054.7 L1097.3 1048.8 L1098.2 1044.7 L1099.1 1041.5 L1100 1038.8 L1100.9 1037.4 L1101.8 1036.6 L1102.6 1036.7 L1103.5 1036.1 L1104.4 1036.6 L1105.3 1037.2 L1106.2 1038.8 L1107.1 1040.7 L1108 1043.2 L1108.9 1046.6 L1109.9 1050.4 L1110.8 1054.8 L1111.8 1059.3 L1112.9 1064.6 L1114 1070.4 L1115.1 1076.6 L1116.2 1082.6 L1117.4 1088.3 L1118.5 1094.8 L1119.6 1101 L1120.7 1107 L1121.8 1112.6 L1122.9 1118.1 L1123.9 1122.8 L1125 1128 L1126.1 1132.2 L1127.2 1136.1 L1128.4 1139.8 L1129.7 1143.8 L1131.1 1147 L1132.6 1149.2 L1134.1 1152.2 L1135.7 1154 L1137.5 1155.3 L1139.3 1156.5 L1141.2 1157.5 L1143.1 1158.1 L1144.9 1158.1 L1146.9 1159.1" fill="none" stroke="#a01ef0" stroke-width="1.8" stroke-linejoin="round"/><path d="M1071.6 1151 L1073.4 1149.5 L1075.1 1147.2 L1076.7 1145.2 L1078.2 1142.8 L1079.7 1139.8 L1081.1 1136.6 L1082.4 1132.8 L1083.6 1128.1 L1084.8 1123.7 L1085.8 1118.4 L1086.9 1112.6 L1087.9 1106.6 L1089 1101 L1090.2 1094 L1091.3 1087.3 L1092.4 1080.6 L1093.4 1074 L1094.5 1067.7 L1095.4 1060.7 L1096.4 1054.7 L1097.3 1048.8 L1098.2 1044.7 L1099.1 1041.5 L1100 1038.8 L1100.9 1037.4 L1101.8 1036.6 L1102.6 1036.7 L1103.5 1036.1 L1104.4 1036.6 L1105.3 1037.2 L1106.2 1038.8 L1107.1 1040.7 L1108 1043.2 L1108.9 1046.6 L1109.9 1050.4 L1110.8 1054.8 L1111.8 1059.3 L1112.9 1064.6 L1114 1070.4 L1115.1 1076.6 L1116.2 1082.6 L1117.4 1088.3 L1118.5 1094.8 L1119.6 1101 L1120.7 1107 L1121.8 1112.6 L1122.9 1118.1 L1123.9 1122.8 L1125 1128 L1126.1 1132.2 L1127.2 1136.1 L1128.4 1139.8 L1129.7 1143.8 L1131.1 1147 L1132.6 1149.2" fill="none" stroke="#a01ef0" stroke-width="2.8" stroke-linejoin="round" stroke-linecap="round"/>
<path d="M922.4 1225.8 L922.4 1225.6 L929.4 1225.5 L939.3 1225.1 L950.8 1224.8 L962.8 1224.4 L973.9 1223.6 L984.7 1223.2 L995.9 1223.3 L1006.9 1222.5 L1017 1222 L1025.4 1222.1 L1031.8 1221.2 L1036.7 1221.1 L1040.6 1220.4 L1044 1219.9 L1047.5 1218.9 L1050.9 1218.4 L1054.1 1217.7 L1056.9 1216.4 L1059.6 1215.3 L1062.2 1213.7 L1064.7 1211.6 L1067 1210.3 L1069.2 1208.1 L1071.3 1205.4 L1073.2 1202.3 L1075 1199.2 L1076.5 1194.7 L1077.9 1190.3 L1079.3 1185.6 L1080.6 1180.7 L1081.8 1176 L1082.9 1170.6 L1084 1165.7 L1085 1160.2 L1086.1 1155.1 L1087.2 1149.2 L1088.3 1142.3 L1089.4 1136 L1090.5 1130.1 L1091.6 1125.7 L1092.7 1121.2 L1093.9 1118 L1095 1114.9 L1096.1 1112.6 L1097.1 1110.6 L1098.1 1109 L1099.1 1108.1 L1100 1107.4 L1100.9 1107.3 L1101.9 1107.1 L1102.9 1107.3 L1104 1107.6 L1105 1108.4 L1106 1109.2 L1107.1 1110.4 L1108 1112.9 L1109 1115.3 L1109.9 1118.2 L1110.8 1121.3 L1111.8 1125.5 L1112.9 1130.1 L1114 1136.3 L1115.1 1142.3 L1116.2 1148.5 L1117.4 1154.5 L1118.5 1161 L1119.6 1167.2 L1120.7 1172.7 L1121.8 1179 L1122.9 1184.1 L1123.9 1189 L1125 1193.8 L1126.1 1198.6 L1127.2 1202.8 L1128.4 1205.9 L1129.7 1209.6 L1131 1212.1 L1132.5 1215.2 L1134 1217.1 L1135.7 1219.4 L1137.4 1221 L1138.8 1221.8 L1140.6 1223 L1143.1 1223.1 L1146.8 1223.6 L1152.5 1224.6 L1160 1224.6 L1168 1225.1 L1175 1225.5 L1179.9 1225.8 L1179.9 1225.8Z" fill="#eeb074" fill-opacity="0.62" stroke="none"/>
<path d="M795.3 1225.8 L922.4 1225.8 L922.4 1225.6 L929.4 1225.5 L939.3 1225.1 L950.8 1224.8 L962.8 1224.4 L973.9 1223.6 L984.7 1223.2 L995.9 1223.3 L1006.9 1222.5 L1017 1222 L1025.4 1222.1 L1031.8 1221.2 L1036.7 1221.1 L1040.6 1220.4 L1044 1219.9 L1047.5 1218.9 L1050.9 1218.4 L1054.1 1217.7 L1056.9 1216.4 L1059.6 1215.3 L1062.2 1213.7 L1064.7 1211.6 L1067 1210.3 L1069.2 1208.1 L1071.3 1205.4 L1073.2 1202.3 L1075 1199.2 L1076.5 1194.7 L1077.9 1190.3 L1079.3 1185.6 L1080.6 1180.7 L1081.8 1176 L1082.9 1170.6 L1084 1165.7 L1085 1160.2 L1086.1 1155.1 L1087.2 1149.2 L1088.3 1142.3 L1089.4 1136 L1090.5 1130.1 L1091.6 1125.7 L1092.7 1121.2 L1093.9 1118 L1095 1114.9 L1096.1 1112.6 L1097.1 1110.6 L1098.1 1109 L1099.1 1108.1 L1100 1107.4 L1100.9 1107.3 L1101.9 1107.1 L1102.9 1107.3 L1104 1107.6 L1105 1108.4 L1106 1109.2 L1107.1 1110.4 L1108 1112.9 L1109 1115.3 L1109.9 1118.2 L1110.8 1121.3 L1111.8 1125.5 L1112.9 1130.1 L1114 1136.3 L1115.1 1142.3 L1116.2 1148.5 L1117.4 1154.5 L1118.5 1161 L1119.6 1167.2 L1120.7 1172.7 L1121.8 1179 L1122.9 1184.1 L1123.9 1189 L1125 1193.8 L1126.1 1198.6 L1127.2 1202.8 L1128.4 1205.9 L1129.7 1209.6 L1131 1212.1 L1132.5 1215.2 L1134 1217.1 L1135.7 1219.4 L1137.4 1221 L1138.8 1221.8 L1140.6 1223 L1143.1 1223.1 L1146.8 1223.6 L1152.5 1224.6 L1160 1224.6 L1168 1225.1 L1175 1225.5 L1179.9 1225.8 L1179.9 1225.8 L1419.5 1225.8" fill="none" stroke="#ee9a3a" stroke-width="1.3" stroke-opacity="0.85" stroke-linejoin="round"/><path d="M962.8 1224.4 L973.9 1223.6 L984.7 1223.2 L995.9 1223.3 L1006.9 1222.5 L1017 1222 L1025.4 1222.1 L1031.8 1221.2 L1036.7 1221.1 L1040.6 1220.4 L1044 1219.9 L1047.5 1218.9 L1050.9 1218.4 L1054.1 1217.7 L1056.9 1216.4 L1059.6 1215.3 L1062.2 1213.7 L1064.7 1211.6 L1067 1210.3 L1069.2 1208.1 L1071.3 1205.4 L1073.2 1202.3 L1075 1199.2 L1076.5 1194.7 L1077.9 1190.3 L1079.3 1185.6 L1080.6 1180.7 L1081.8 1176 L1082.9 1170.6 L1084 1165.7 L1085 1160.2 L1086.1 1155.1 L1087.2 1149.2 L1088.3 1142.3 L1089.4 1136 L1090.5 1130.1 L1091.6 1125.7 L1092.7 1121.2 L1093.9 1118 L1095 1114.9 L1096.1 1112.6 L1097.1 1110.6 L1098.1 1109 L1099.1 1108.1 L1100 1107.4 L1100.9 1107.3 L1101.9 1107.1 L1102.9 1107.3 L1104 1107.6 L1105 1108.4 L1106 1109.2 L1107.1 1110.4 L1108 1112.9 L1109 1115.3 L1109.9 1118.2 L1110.8 1121.3 L1111.8 1125.5 L1112.9 1130.1 L1114 1136.3 L1115.1 1142.3 L1116.2 1148.5 L1117.4 1154.5 L1118.5 1161 L1119.6 1167.2 L1120.7 1172.7 L1121.8 1179 L1122.9 1184.1 L1123.9 1189 L1125 1193.8 L1126.1 1198.6 L1127.2 1202.8 L1128.4 1205.9 L1129.7 1209.6 L1131 1212.1 L1132.5 1215.2 L1134 1217.1 L1135.7 1219.4 L1137.4 1221 L1138.8 1221.8 L1140.6 1223 L1143.1 1223.1 L1146.8 1223.6 L1152.5 1224.6" fill="none" stroke="#ee9a3a" stroke-width="1.8" stroke-linejoin="round"/><path d="M1056.9 1216.4 L1059.6 1215.3 L1062.2 1213.7 L1064.7 1211.6 L1067 1210.3 L1069.2 1208.1 L1071.3 1205.4 L1073.2 1202.3 L1075 1199.2 L1076.5 1194.7 L1077.9 1190.3 L1079.3 1185.6 L1080.6 1180.7 L1081.8 1176 L1082.9 1170.6 L1084 1165.7 L1085 1160.2 L1086.1 1155.1 L1087.2 1149.2 L1088.3 1142.3 L1089.4 1136 L1090.5 1130.1 L1091.6 1125.7 L1092.7 1121.2 L1093.9 1118 L1095 1114.9 L1096.1 1112.6 L1097.1 1110.6 L1098.1 1109 L1099.1 1108.1 L1100 1107.4 L1100.9 1107.3 L1101.9 1107.1 L1102.9 1107.3 L1104 1107.6 L1105 1108.4 L1106 1109.2 L1107.1 1110.4 L1108 1112.9 L1109 1115.3 L1109.9 1118.2 L1110.8 1121.3 L1111.8 1125.5 L1112.9 1130.1 L1114 1136.3 L1115.1 1142.3 L1116.2 1148.5 L1117.4 1154.5 L1118.5 1161 L1119.6 1167.2 L1120.7 1172.7 L1121.8 1179 L1122.9 1184.1 L1123.9 1189 L1125 1193.8 L1126.1 1198.6 L1127.2 1202.8 L1128.4 1205.9 L1129.7 1209.6 L1131 1212.1 L1132.5 1215.2" fill="none" stroke="#ee9a3a" stroke-width="2.8" stroke-linejoin="round" stroke-linecap="round"/>
<path d="M966.6 1290.9 L966.6 1290.7 L968.7 1290.6 L971.5 1290.1 L975.1 1289.9 L979.6 1289.5 L984.9 1288.7 L992 1288.4 L1000.8 1288.8 L1010 1288.3 L1018.6 1288 L1025.4 1288.3 L1030 1287.5 L1033.1 1287.4 L1035.5 1286.6 L1037.6 1286.2 L1040.1 1285.1 L1043.1 1284.6 L1046.3 1283.9 L1049.3 1282.6 L1052.2 1281.5 L1054.8 1279.9 L1057.1 1278 L1059.2 1277.1 L1061 1275.1 L1062.6 1272.4 L1064 1268.5 L1065.1 1263.7 L1065.8 1256.8 L1066.4 1249.6 L1066.9 1242.5 L1067.7 1235.8 L1068.7 1230.3 L1069.8 1224.6 L1070.9 1219.8 L1072.1 1214.7 L1073.2 1210.2 L1074.3 1205.4 L1075.4 1200 L1076.5 1195.5 L1077.6 1191.3 L1078.7 1188.2 L1079.9 1184.7 L1081 1182 L1082.2 1179.5 L1083.3 1177.9 L1084.3 1176.8 L1085.1 1176.3 L1085.9 1176.6 L1086.5 1177.3 L1087.2 1178.9 L1087.9 1180.6 L1088.7 1183.4 L1089.4 1186.5 L1090.1 1190.4 L1090.9 1194.4 L1091.6 1198.7 L1092.3 1204.5 L1093.1 1210.6 L1093.8 1216.8 L1094.6 1222.8 L1095.3 1228.5 L1096 1233 L1096.7 1237.9 L1097.4 1242 L1098.1 1246 L1099 1250.1 L1099.9 1255.2 L1101 1260 L1102.1 1264 L1103.2 1268.9 L1104.5 1272.4 L1105.8 1275.5 L1107.2 1278.6 L1108.7 1281.5 L1110.2 1283.7 L1111.8 1285 L1113.1 1286.8 L1114.1 1287.4 L1115.3 1288.5 L1117.4 1288.8 L1121 1289.7 L1127.2 1290.2 L1135.5 1290.2 L1144.4 1290.9 L1152.4 1290.6 L1157.8 1290.6 L1157.8 1290.9Z" fill="#6fa556" fill-opacity="0.62" stroke="none"/>
<path d="M795.3 1290.9 L966.6 1290.9 L966.6 1290.7 L968.7 1290.6 L971.5 1290.1 L975.1 1289.9 L979.6 1289.5 L984.9 1288.7 L992 1288.4 L1000.8 1288.8 L1010 1288.3 L1018.6 1288 L1025.4 1288.3 L1030 1287.5 L1033.1 1287.4 L1035.5 1286.6 L1037.6 1286.2 L1040.1 1285.1 L1043.1 1284.6 L1046.3 1283.9 L1049.3 1282.6 L1052.2 1281.5 L1054.8 1279.9 L1057.1 1278 L1059.2 1277.1 L1061 1275.1 L1062.6 1272.4 L1064 1268.5 L1065.1 1263.7 L1065.8 1256.8 L1066.4 1249.6 L1066.9 1242.5 L1067.7 1235.8 L1068.7 1230.3 L1069.8 1224.6 L1070.9 1219.8 L1072.1 1214.7 L1073.2 1210.2 L1074.3 1205.4 L1075.4 1200 L1076.5 1195.5 L1077.6 1191.3 L1078.7 1188.2 L1079.9 1184.7 L1081 1182 L1082.2 1179.5 L1083.3 1177.9 L1084.3 1176.8 L1085.1 1176.3 L1085.9 1176.6 L1086.5 1177.3 L1087.2 1178.9 L1087.9 1180.6 L1088.7 1183.4 L1089.4 1186.5 L1090.1 1190.4 L1090.9 1194.4 L1091.6 1198.7 L1092.3 1204.5 L1093.1 1210.6 L1093.8 1216.8 L1094.6 1222.8 L1095.3 1228.5 L1096 1233 L1096.7 1237.9 L1097.4 1242 L1098.1 1246 L1099 1250.1 L1099.9 1255.2 L1101 1260 L1102.1 1264 L1103.2 1268.9 L1104.5 1272.4 L1105.8 1275.5 L1107.2 1278.6 L1108.7 1281.5 L1110.2 1283.7 L1111.8 1285 L1113.1 1286.8 L1114.1 1287.4 L1115.3 1288.5 L1117.4 1288.8 L1121 1289.7 L1127.2 1290.2 L1135.5 1290.2 L1144.4 1290.9 L1152.4 1290.6 L1157.8 1290.6 L1157.8 1290.9 L1419.5 1290.9" fill="none" stroke="#1e6414" stroke-width="1.3" stroke-opacity="0.85" stroke-linejoin="round"/><path d="M979.6 1289.5 L984.9 1288.7 L992 1288.4 L1000.8 1288.8 L1010 1288.3 L1018.6 1288 L1025.4 1288.3 L1030 1287.5 L1033.1 1287.4 L1035.5 1286.6 L1037.6 1286.2 L1040.1 1285.1 L1043.1 1284.6 L1046.3 1283.9 L1049.3 1282.6 L1052.2 1281.5 L1054.8 1279.9 L1057.1 1278 L1059.2 1277.1 L1061 1275.1 L1062.6 1272.4 L1064 1268.5 L1065.1 1263.7 L1065.8 1256.8 L1066.4 1249.6 L1066.9 1242.5 L1067.7 1235.8 L1068.7 1230.3 L1069.8 1224.6 L1070.9 1219.8 L1072.1 1214.7 L1073.2 1210.2 L1074.3 1205.4 L1075.4 1200 L1076.5 1195.5 L1077.6 1191.3 L1078.7 1188.2 L1079.9 1184.7 L1081 1182 L1082.2 1179.5 L1083.3 1177.9 L1084.3 1176.8 L1085.1 1176.3 L1085.9 1176.6 L1086.5 1177.3 L1087.2 1178.9 L1087.9 1180.6 L1088.7 1183.4 L1089.4 1186.5 L1090.1 1190.4 L1090.9 1194.4 L1091.6 1198.7 L1092.3 1204.5 L1093.1 1210.6 L1093.8 1216.8 L1094.6 1222.8 L1095.3 1228.5 L1096 1233 L1096.7 1237.9 L1097.4 1242 L1098.1 1246 L1099 1250.1 L1099.9 1255.2 L1101 1260 L1102.1 1264 L1103.2 1268.9 L1104.5 1272.4 L1105.8 1275.5 L1107.2 1278.6 L1108.7 1281.5 L1110.2 1283.7 L1111.8 1285 L1113.1 1286.8 L1114.1 1287.4 L1115.3 1288.5 L1117.4 1288.8 L1121 1289.7" fill="none" stroke="#1e6414" stroke-width="1.8" stroke-linejoin="round"/><path d="M1052.2 1281.5 L1054.8 1279.9 L1057.1 1278 L1059.2 1277.1 L1061 1275.1 L1062.6 1272.4 L1064 1268.5 L1065.1 1263.7 L1065.8 1256.8 L1066.4 1249.6 L1066.9 1242.5 L1067.7 1235.8 L1068.7 1230.3 L1069.8 1224.6 L1070.9 1219.8 L1072.1 1214.7 L1073.2 1210.2 L1074.3 1205.4 L1075.4 1200 L1076.5 1195.5 L1077.6 1191.3 L1078.7 1188.2 L1079.9 1184.7 L1081 1182 L1082.2 1179.5 L1083.3 1177.9 L1084.3 1176.8 L1085.1 1176.3 L1085.9 1176.6 L1086.5 1177.3 L1087.2 1178.9 L1087.9 1180.6 L1088.7 1183.4 L1089.4 1186.5 L1090.1 1190.4 L1090.9 1194.4 L1091.6 1198.7 L1092.3 1204.5 L1093.1 1210.6 L1093.8 1216.8 L1094.6 1222.8 L1095.3 1228.5 L1096 1233 L1096.7 1237.9 L1097.4 1242 L1098.1 1246 L1099 1250.1 L1099.9 1255.2 L1101 1260 L1102.1 1264 L1103.2 1268.9 L1104.5 1272.4 L1105.8 1275.5 L1107.2 1278.6 L1108.7 1281.5" fill="none" stroke="#1e6414" stroke-width="2.8" stroke-linejoin="round" stroke-linecap="round"/>
<path d="M804.7 1356.5 L804.7 1356.3 L807.8 1356.2 L812.1 1355.5 L817.2 1355.1 L822.3 1354.4 L826.8 1353.3 L830.4 1352.4 L833.5 1352 L836.7 1350.6 L840.4 1349.7 L845.2 1349.5 L851.5 1348.6 L859.1 1348.5 L867.2 1348 L875 1347.8 L882 1347.1 L887.9 1346.9 L893.2 1346.4 L898.2 1345.5 L903 1345.2 L907.7 1344.9 L912.2 1344.6 L916.4 1345.6 L920.6 1346.1 L924.9 1346.3 L929.8 1345.9 L935.4 1345.4 L941.5 1343.5 L947.9 1341.8 L953.9 1340.2 L959.2 1339 L963.6 1338.9 L967.5 1338.7 L971 1339.5 L974.3 1339.6 L977.6 1339.9 L980.8 1339.2 L983.9 1337.7 L986.9 1336.7 L989.7 1335.7 L992.3 1335.5 L994.8 1334.9 L997.2 1335.2 L999.4 1335.1 L1001.4 1335.1 L1003.3 1334.4 L1005 1332.9 L1006.5 1331.1 L1007.9 1328.8 L1009.3 1326.7 L1010.7 1324.3 L1012.2 1322.2 L1013.6 1319.8 L1015.1 1317.5 L1016.6 1315.1 L1018 1312.9 L1019.5 1311.9 L1021 1310.8 L1022.5 1309.8 L1023.9 1308.6 L1025.4 1307.7 L1026.9 1306.4 L1028.3 1306.1 L1029.8 1305 L1031.3 1303.6 L1032.8 1301.8 L1034.2 1300 L1035.7 1297.4 L1037.2 1293.7 L1038.6 1290.9 L1040.1 1287.3 L1041.6 1283.6 L1043.1 1279.9 L1044.5 1276.4 L1046 1272.7 L1047.5 1268.6 L1048.9 1265.8 L1050.3 1262.2 L1051.7 1259.7 L1053.2 1256.7 L1054.8 1254.5 L1056.7 1252.2 L1058.8 1249.6 L1061 1247.9 L1063.2 1245.9 L1065.1 1244.8 L1066.9 1245 L1068.5 1245.2 L1070 1246.3 L1071.6 1247.6 L1073.2 1248.8 L1075 1249.3 L1077 1249.9 L1078.9 1251.3 L1080.8 1252.2 L1082.4 1254.6 L1083.7 1257.3 L1084.8 1260.2 L1085.8 1264.1 L1086.8 1268.3 L1087.9 1272.7 L1089.3 1277.4 L1090.7 1282.5 L1092.3 1287.8 L1093.8 1293.4 L1095.3 1298.4 L1096.8 1303.6 L1098.2 1309.2 L1099.7 1314.2 L1101.2 1319.3 L1102.6 1324.5 L1104.1 1328.4 L1105.6 1332.5 L1107.1 1335.8 L1108.5 1339.5 L1110 1342.6 L1111.4 1344.7 L1112.6 1347.2 L1113.9 1349 L1115.4 1350.1 L1117.4 1351.8 L1119.9 1352.8 L1122.9 1353.8 L1126.1 1354.3 L1129.2 1355.1 L1132.1 1355.6 L1134.7 1355.5 L1137.3 1355.8 L1139.7 1356.4 L1141.7 1356.5 L1143.1 1356.3 L1143.1 1356.5Z" fill="#a8a8f6" fill-opacity="0.62" stroke="none"/>
<path d="M795.3 1356.5 L804.7 1356.5 L804.7 1356.3 L807.8 1356.2 L812.1 1355.5 L817.2 1355.1 L822.3 1354.4 L826.8 1353.3 L830.4 1352.4 L833.5 1352 L836.7 1350.6 L840.4 1349.7 L845.2 1349.5 L851.5 1348.6 L859.1 1348.5 L867.2 1348 L875 1347.8 L882 1347.1 L887.9 1346.9 L893.2 1346.4 L898.2 1345.5 L903 1345.2 L907.7 1344.9 L912.2 1344.6 L916.4 1345.6 L920.6 1346.1 L924.9 1346.3 L929.8 1345.9 L935.4 1345.4 L941.5 1343.5 L947.9 1341.8 L953.9 1340.2 L959.2 1339 L963.6 1338.9 L967.5 1338.7 L971 1339.5 L974.3 1339.6 L977.6 1339.9 L980.8 1339.2 L983.9 1337.7 L986.9 1336.7 L989.7 1335.7 L992.3 1335.5 L994.8 1334.9 L997.2 1335.2 L999.4 1335.1 L1001.4 1335.1 L1003.3 1334.4 L1005 1332.9 L1006.5 1331.1 L1007.9 1328.8 L1009.3 1326.7 L1010.7 1324.3 L1012.2 1322.2 L1013.6 1319.8 L1015.1 1317.5 L1016.6 1315.1 L1018 1312.9 L1019.5 1311.9 L1021 1310.8 L1022.5 1309.8 L1023.9 1308.6 L1025.4 1307.7 L1026.9 1306.4 L1028.3 1306.1 L1029.8 1305 L1031.3 1303.6 L1032.8 1301.8 L1034.2 1300 L1035.7 1297.4 L1037.2 1293.7 L1038.6 1290.9 L1040.1 1287.3 L1041.6 1283.6 L1043.1 1279.9 L1044.5 1276.4 L1046 1272.7 L1047.5 1268.6 L1048.9 1265.8 L1050.3 1262.2 L1051.7 1259.7 L1053.2 1256.7 L1054.8 1254.5 L1056.7 1252.2 L1058.8 1249.6 L1061 1247.9 L1063.2 1245.9 L1065.1 1244.8 L1066.9 1245 L1068.5 1245.2 L1070 1246.3 L1071.6 1247.6 L1073.2 1248.8 L1075 1249.3 L1077 1249.9 L1078.9 1251.3 L1080.8 1252.2 L1082.4 1254.6 L1083.7 1257.3 L1084.8 1260.2 L1085.8 1264.1 L1086.8 1268.3 L1087.9 1272.7 L1089.3 1277.4 L1090.7 1282.5 L1092.3 1287.8 L1093.8 1293.4 L1095.3 1298.4 L1096.8 1303.6 L1098.2 1309.2 L1099.7 1314.2 L1101.2 1319.3 L1102.6 1324.5 L1104.1 1328.4 L1105.6 1332.5 L1107.1 1335.8 L1108.5 1339.5 L1110 1342.6 L1111.4 1344.7 L1112.6 1347.2 L1113.9 1349 L1115.4 1350.1 L1117.4 1351.8 L1119.9 1352.8 L1122.9 1353.8 L1126.1 1354.3 L1129.2 1355.1 L1132.1 1355.6 L1134.7 1355.5 L1137.3 1355.8 L1139.7 1356.4 L1141.7 1356.5 L1143.1 1356.3 L1143.1 1356.5 L1419.5 1356.5" fill="none" stroke="#8484ee" stroke-width="1.3" stroke-opacity="0.85" stroke-linejoin="round"/><path d="M817.2 1355.1 L822.3 1354.4 L826.8 1353.3 L830.4 1352.4 L833.5 1352 L836.7 1350.6 L840.4 1349.7 L845.2 1349.5 L851.5 1348.6 L859.1 1348.5 L867.2 1348 L875 1347.8 L882 1347.1 L887.9 1346.9 L893.2 1346.4 L898.2 1345.5 L903 1345.2 L907.7 1344.9 L912.2 1344.6 L916.4 1345.6 L920.6 1346.1 L924.9 1346.3 L929.8 1345.9 L935.4 1345.4 L941.5 1343.5 L947.9 1341.8 L953.9 1340.2 L959.2 1339 L963.6 1338.9 L967.5 1338.7 L971 1339.5 L974.3 1339.6 L977.6 1339.9 L980.8 1339.2 L983.9 1337.7 L986.9 1336.7 L989.7 1335.7 L992.3 1335.5 L994.8 1334.9 L997.2 1335.2 L999.4 1335.1 L1001.4 1335.1 L1003.3 1334.4 L1005 1332.9 L1006.5 1331.1 L1007.9 1328.8 L1009.3 1326.7 L1010.7 1324.3 L1012.2 1322.2 L1013.6 1319.8 L1015.1 1317.5 L1016.6 1315.1 L1018 1312.9 L1019.5 1311.9 L1021 1310.8 L1022.5 1309.8 L1023.9 1308.6 L1025.4 1307.7 L1026.9 1306.4 L1028.3 1306.1 L1029.8 1305 L1031.3 1303.6 L1032.8 1301.8 L1034.2 1300 L1035.7 1297.4 L1037.2 1293.7 L1038.6 1290.9 L1040.1 1287.3 L1041.6 1283.6 L1043.1 1279.9 L1044.5 1276.4 L1046 1272.7 L1047.5 1268.6 L1048.9 1265.8 L1050.3 1262.2 L1051.7 1259.7 L1053.2 1256.7 L1054.8 1254.5 L1056.7 1252.2 L1058.8 1249.6 L1061 1247.9 L1063.2 1245.9 L1065.1 1244.8 L1066.9 1245 L1068.5 1245.2 L1070 1246.3 L1071.6 1247.6 L1073.2 1248.8 L1075 1249.3 L1077 1249.9 L1078.9 1251.3 L1080.8 1252.2 L1082.4 1254.6 L1083.7 1257.3 L1084.8 1260.2 L1085.8 1264.1 L1086.8 1268.3 L1087.9 1272.7 L1089.3 1277.4 L1090.7 1282.5 L1092.3 1287.8 L1093.8 1293.4 L1095.3 1298.4 L1096.8 1303.6 L1098.2 1309.2 L1099.7 1314.2 L1101.2 1319.3 L1102.6 1324.5 L1104.1 1328.4 L1105.6 1332.5 L1107.1 1335.8 L1108.5 1339.5 L1110 1342.6 L1111.4 1344.7 L1112.6 1347.2 L1113.9 1349 L1115.4 1350.1 L1117.4 1351.8 L1119.9 1352.8 L1122.9 1353.8 L1126.1 1354.3 L1129.2 1355.1" fill="none" stroke="#8484ee" stroke-width="1.8" stroke-linejoin="round"/><path d="M882 1347.1 L887.9 1346.9 L893.2 1346.4 L898.2 1345.5 L903 1345.2 L907.7 1344.9 L912.2 1344.6 L916.4 1345.6 L920.6 1346.1 L924.9 1346.3 L929.8 1345.9 L935.4 1345.4 L941.5 1343.5 L947.9 1341.8 L953.9 1340.2 L959.2 1339 L963.6 1338.9 L967.5 1338.7 L971 1339.5 L974.3 1339.6 L977.6 1339.9 L980.8 1339.2 L983.9 1337.7 L986.9 1336.7 L989.7 1335.7 L992.3 1335.5 L994.8 1334.9 L997.2 1335.2 L999.4 1335.1 L1001.4 1335.1 L1003.3 1334.4 L1005 1332.9 L1006.5 1331.1 L1007.9 1328.8 L1009.3 1326.7 L1010.7 1324.3 L1012.2 1322.2 L1013.6 1319.8 L1015.1 1317.5 L1016.6 1315.1 L1018 1312.9 L1019.5 1311.9 L1021 1310.8 L1022.5 1309.8 L1023.9 1308.6 L1025.4 1307.7 L1026.9 1306.4 L1028.3 1306.1 L1029.8 1305 L1031.3 1303.6 L1032.8 1301.8 L1034.2 1300 L1035.7 1297.4 L1037.2 1293.7 L1038.6 1290.9 L1040.1 1287.3 L1041.6 1283.6 L1043.1 1279.9 L1044.5 1276.4 L1046 1272.7 L1047.5 1268.6 L1048.9 1265.8 L1050.3 1262.2 L1051.7 1259.7 L1053.2 1256.7 L1054.8 1254.5 L1056.7 1252.2 L1058.8 1249.6 L1061 1247.9 L1063.2 1245.9 L1065.1 1244.8 L1066.9 1245 L1068.5 1245.2 L1070 1246.3 L1071.6 1247.6 L1073.2 1248.8 L1075 1249.3 L1077 1249.9 L1078.9 1251.3 L1080.8 1252.2 L1082.4 1254.6 L1083.7 1257.3 L1084.8 1260.2 L1085.8 1264.1 L1086.8 1268.3 L1087.9 1272.7 L1089.3 1277.4 L1090.7 1282.5 L1092.3 1287.8 L1093.8 1293.4 L1095.3 1298.4 L1096.8 1303.6 L1098.2 1309.2 L1099.7 1314.2 L1101.2 1319.3 L1102.6 1324.5 L1104.1 1328.4 L1105.6 1332.5 L1107.1 1335.8 L1108.5 1339.5 L1110 1342.6 L1111.4 1344.7 L1112.6 1347.2" fill="none" stroke="#8484ee" stroke-width="2.8" stroke-linejoin="round" stroke-linecap="round"/>
<path d="M874.6 1422 L874.6 1421.8 L884.7 1421.7 L899.5 1421.1 L916.1 1420.8 L932 1420.3 L944.5 1419.5 L952.8 1419 L958.8 1419.2 L963.6 1418.4 L968.2 1418.1 L973.9 1418.3 L980.9 1417.7 L988.4 1417.7 L996.2 1417.3 L1003.7 1417.2 L1010.7 1416.6 L1017.3 1416.6 L1023.9 1416.4 L1030 1415.7 L1035.5 1415.3 L1040.1 1414.4 L1043.5 1412.9 L1045.9 1412.3 L1047.6 1410.8 L1049.2 1408.9 L1051.1 1406.6 L1053.4 1404.5 L1055.7 1401.2 L1058 1398 L1060.2 1394.4 L1062.2 1390.5 L1063.9 1386.7 L1065.5 1382.2 L1066.9 1378.1 L1068.2 1373.2 L1069.5 1368.6 L1070.8 1363.1 L1071.9 1356.6 L1072.9 1350.5 L1074 1344.4 L1075.1 1339.2 L1076.2 1333.2 L1077.3 1327.6 L1078.4 1321.9 L1079.5 1317.1 L1080.6 1313 L1081.6 1309.9 L1082.6 1307.6 L1083.5 1305.8 L1084.4 1304.8 L1085.4 1304 L1086.2 1304 L1087.1 1304.3 L1087.9 1305.4 L1088.8 1306.9 L1089.8 1309.2 L1090.8 1313.5 L1091.9 1318.4 L1093 1323.9 L1094.2 1329.5 L1095.3 1335.3 L1096.4 1340.7 L1097.5 1347.3 L1098.6 1353.2 L1099.7 1359 L1100.8 1364.3 L1101.9 1369.8 L1102.9 1374.5 L1104 1378.2 L1105.1 1382.8 L1106.3 1386.6 L1107.7 1390.5 L1109.1 1394.5 L1110.6 1398.6 L1112.2 1402.2 L1113.7 1404.7 L1115.1 1407.9 L1116.4 1410 L1117.8 1412.7 L1119.3 1414.3 L1121 1416.4 L1122.9 1417.8 L1125 1418.5 L1127.2 1419.6 L1129.6 1419.8 L1132.1 1420.2 L1135 1421.1 L1138.4 1421 L1141.8 1421.4 L1144.7 1421.8 L1146.8 1422 L1146.8 1422Z" fill="#ea6a78" fill-opacity="0.62" stroke="none"/>
<path d="M795.3 1422 L874.6 1422 L874.6 1421.8 L884.7 1421.7 L899.5 1421.1 L916.1 1420.8 L932 1420.3 L944.5 1419.5 L952.8 1419 L958.8 1419.2 L963.6 1418.4 L968.2 1418.1 L973.9 1418.3 L980.9 1417.7 L988.4 1417.7 L996.2 1417.3 L1003.7 1417.2 L1010.7 1416.6 L1017.3 1416.6 L1023.9 1416.4 L1030 1415.7 L1035.5 1415.3 L1040.1 1414.4 L1043.5 1412.9 L1045.9 1412.3 L1047.6 1410.8 L1049.2 1408.9 L1051.1 1406.6 L1053.4 1404.5 L1055.7 1401.2 L1058 1398 L1060.2 1394.4 L1062.2 1390.5 L1063.9 1386.7 L1065.5 1382.2 L1066.9 1378.1 L1068.2 1373.2 L1069.5 1368.6 L1070.8 1363.1 L1071.9 1356.6 L1072.9 1350.5 L1074 1344.4 L1075.1 1339.2 L1076.2 1333.2 L1077.3 1327.6 L1078.4 1321.9 L1079.5 1317.1 L1080.6 1313 L1081.6 1309.9 L1082.6 1307.6 L1083.5 1305.8 L1084.4 1304.8 L1085.4 1304 L1086.2 1304 L1087.1 1304.3 L1087.9 1305.4 L1088.8 1306.9 L1089.8 1309.2 L1090.8 1313.5 L1091.9 1318.4 L1093 1323.9 L1094.2 1329.5 L1095.3 1335.3 L1096.4 1340.7 L1097.5 1347.3 L1098.6 1353.2 L1099.7 1359 L1100.8 1364.3 L1101.9 1369.8 L1102.9 1374.5 L1104 1378.2 L1105.1 1382.8 L1106.3 1386.6 L1107.7 1390.5 L1109.1 1394.5 L1110.6 1398.6 L1112.2 1402.2 L1113.7 1404.7 L1115.1 1407.9 L1116.4 1410 L1117.8 1412.7 L1119.3 1414.3 L1121 1416.4 L1122.9 1417.8 L1125 1418.5 L1127.2 1419.6 L1129.6 1419.8 L1132.1 1420.2 L1135 1421.1 L1138.4 1421 L1141.8 1421.4 L1144.7 1421.8 L1146.8 1422 L1146.8 1422 L1419.5 1422" fill="none" stroke="#e81e2a" stroke-width="1.3" stroke-opacity="0.85" stroke-linejoin="round"/><path d="M932 1420.3 L944.5 1419.5 L952.8 1419 L958.8 1419.2 L963.6 1418.4 L968.2 1418.1 L973.9 1418.3 L980.9 1417.7 L988.4 1417.7 L996.2 1417.3 L1003.7 1417.2 L1010.7 1416.6 L1017.3 1416.6 L1023.9 1416.4 L1030 1415.7 L1035.5 1415.3 L1040.1 1414.4 L1043.5 1412.9 L1045.9 1412.3 L1047.6 1410.8 L1049.2 1408.9 L1051.1 1406.6 L1053.4 1404.5 L1055.7 1401.2 L1058 1398 L1060.2 1394.4 L1062.2 1390.5 L1063.9 1386.7 L1065.5 1382.2 L1066.9 1378.1 L1068.2 1373.2 L1069.5 1368.6 L1070.8 1363.1 L1071.9 1356.6 L1072.9 1350.5 L1074 1344.4 L1075.1 1339.2 L1076.2 1333.2 L1077.3 1327.6 L1078.4 1321.9 L1079.5 1317.1 L1080.6 1313 L1081.6 1309.9 L1082.6 1307.6 L1083.5 1305.8 L1084.4 1304.8 L1085.4 1304 L1086.2 1304 L1087.1 1304.3 L1087.9 1305.4 L1088.8 1306.9 L1089.8 1309.2 L1090.8 1313.5 L1091.9 1318.4 L1093 1323.9 L1094.2 1329.5 L1095.3 1335.3 L1096.4 1340.7 L1097.5 1347.3 L1098.6 1353.2 L1099.7 1359 L1100.8 1364.3 L1101.9 1369.8 L1102.9 1374.5 L1104 1378.2 L1105.1 1382.8 L1106.3 1386.6 L1107.7 1390.5 L1109.1 1394.5 L1110.6 1398.6 L1112.2 1402.2 L1113.7 1404.7 L1115.1 1407.9 L1116.4 1410 L1117.8 1412.7 L1119.3 1414.3 L1121 1416.4 L1122.9 1417.8 L1125 1418.5 L1127.2 1419.6 L1129.6 1419.8 L1132.1 1420.2" fill="none" stroke="#e81e2a" stroke-width="1.8" stroke-linejoin="round"/><path d="M1043.5 1412.9 L1045.9 1412.3 L1047.6 1410.8 L1049.2 1408.9 L1051.1 1406.6 L1053.4 1404.5 L1055.7 1401.2 L1058 1398 L1060.2 1394.4 L1062.2 1390.5 L1063.9 1386.7 L1065.5 1382.2 L1066.9 1378.1 L1068.2 1373.2 L1069.5 1368.6 L1070.8 1363.1 L1071.9 1356.6 L1072.9 1350.5 L1074 1344.4 L1075.1 1339.2 L1076.2 1333.2 L1077.3 1327.6 L1078.4 1321.9 L1079.5 1317.1 L1080.6 1313 L1081.6 1309.9 L1082.6 1307.6 L1083.5 1305.8 L1084.4 1304.8 L1085.4 1304 L1086.2 1304 L1087.1 1304.3 L1087.9 1305.4 L1088.8 1306.9 L1089.8 1309.2 L1090.8 1313.5 L1091.9 1318.4 L1093 1323.9 L1094.2 1329.5 L1095.3 1335.3 L1096.4 1340.7 L1097.5 1347.3 L1098.6 1353.2 L1099.7 1359 L1100.8 1364.3 L1101.9 1369.8 L1102.9 1374.5 L1104 1378.2 L1105.1 1382.8 L1106.3 1386.6 L1107.7 1390.5 L1109.1 1394.5 L1110.6 1398.6 L1112.2 1402.2 L1113.7 1404.7 L1115.1 1407.9 L1116.4 1410 L1117.8 1412.7" fill="none" stroke="#e81e2a" stroke-width="3" stroke-linejoin="round" stroke-linecap="round"/>
<path d="M1040.1 1487.5 L1040.1 1487.5 L1042.2 1487.5 L1045.2 1487 L1048.6 1486.5 L1052 1485.6 L1054.8 1483.8 L1057.1 1482 L1059.1 1480.5 L1060.9 1477.6 L1062.5 1474.6 L1064 1471.6 L1065.4 1466.9 L1066.5 1462.1 L1067.5 1456.4 L1068.5 1451 L1069.5 1445.3 L1070.6 1440.4 L1071.7 1435.3 L1072.9 1429.8 L1074 1424.9 L1075.1 1419.9 L1076.2 1414.8 L1077.3 1410.9 L1078.4 1406.4 L1079.5 1401.9 L1080.6 1397.4 L1081.7 1393.3 L1082.9 1388.1 L1084 1383.6 L1085.1 1379.4 L1086.1 1375.8 L1086.9 1373.3 L1087.6 1370.9 L1088.3 1369.7 L1089 1368.5 L1089.8 1368.6 L1090.7 1368.8 L1091.6 1369 L1092.6 1370.4 L1093.6 1372.6 L1094.6 1376 L1095.5 1379.4 L1096.4 1384.3 L1097.3 1389.5 L1098.1 1395.5 L1099 1401.3 L1099.7 1407.5 L1100.4 1414.3 L1101.1 1421.2 L1101.8 1428.3 L1102.6 1434.6 L1103.6 1441.1 L1104.6 1447.4 L1105.7 1453.6 L1106.9 1459 L1108.2 1463.7 L1109.5 1468.5 L1110.9 1472.3 L1112.4 1475.5 L1113.9 1478.1 L1115.5 1480.6 L1116.8 1482.1 L1117.7 1483.9 L1119 1484.6 L1121.1 1485.1 L1124.7 1485.7 L1130.9 1486.9 L1139.2 1487.4 L1148.1 1487.1 L1156.1 1487.5 L1161.5 1487.5 L1161.5 1487.5Z" fill="#4cf0f8" fill-opacity="0.62" stroke="none"/>
<path d="M795.3 1487.5 L1040.1 1487.5 L1040.1 1487.5 L1042.2 1487.5 L1045.2 1487 L1048.6 1486.5 L1052 1485.6 L1054.8 1483.8 L1057.1 1482 L1059.1 1480.5 L1060.9 1477.6 L1062.5 1474.6 L1064 1471.6 L1065.4 1466.9 L1066.5 1462.1 L1067.5 1456.4 L1068.5 1451 L1069.5 1445.3 L1070.6 1440.4 L1071.7 1435.3 L1072.9 1429.8 L1074 1424.9 L1075.1 1419.9 L1076.2 1414.8 L1077.3 1410.9 L1078.4 1406.4 L1079.5 1401.9 L1080.6 1397.4 L1081.7 1393.3 L1082.9 1388.1 L1084 1383.6 L1085.1 1379.4 L1086.1 1375.8 L1086.9 1373.3 L1087.6 1370.9 L1088.3 1369.7 L1089 1368.5 L1089.8 1368.6 L1090.7 1368.8 L1091.6 1369 L1092.6 1370.4 L1093.6 1372.6 L1094.6 1376 L1095.5 1379.4 L1096.4 1384.3 L1097.3 1389.5 L1098.1 1395.5 L1099 1401.3 L1099.7 1407.5 L1100.4 1414.3 L1101.1 1421.2 L1101.8 1428.3 L1102.6 1434.6 L1103.6 1441.1 L1104.6 1447.4 L1105.7 1453.6 L1106.9 1459 L1108.2 1463.7 L1109.5 1468.5 L1110.9 1472.3 L1112.4 1475.5 L1113.9 1478.1 L1115.5 1480.6 L1116.8 1482.1 L1117.7 1483.9 L1119 1484.6 L1121.1 1485.1 L1124.7 1485.7 L1130.9 1486.9 L1139.2 1487.4 L1148.1 1487.1 L1156.1 1487.5 L1161.5 1487.5 L1161.5 1487.5 L1419.5 1487.5" fill="none" stroke="#50d4ee" stroke-width="1.3" stroke-opacity="0.85" stroke-linejoin="round"/><path d="M1052 1485.6 L1054.8 1483.8 L1057.1 1482 L1059.1 1480.5 L1060.9 1477.6 L1062.5 1474.6 L1064 1471.6 L1065.4 1466.9 L1066.5 1462.1 L1067.5 1456.4 L1068.5 1451 L1069.5 1445.3 L1070.6 1440.4 L1071.7 1435.3 L1072.9 1429.8 L1074 1424.9 L1075.1 1419.9 L1076.2 1414.8 L1077.3 1410.9 L1078.4 1406.4 L1079.5 1401.9 L1080.6 1397.4 L1081.7 1393.3 L1082.9 1388.1 L1084 1383.6 L1085.1 1379.4 L1086.1 1375.8 L1086.9 1373.3 L1087.6 1370.9 L1088.3 1369.7 L1089 1368.5 L1089.8 1368.6 L1090.7 1368.8 L1091.6 1369 L1092.6 1370.4 L1093.6 1372.6 L1094.6 1376 L1095.5 1379.4 L1096.4 1384.3 L1097.3 1389.5 L1098.1 1395.5 L1099 1401.3 L1099.7 1407.5 L1100.4 1414.3 L1101.1 1421.2 L1101.8 1428.3 L1102.6 1434.6 L1103.6 1441.1 L1104.6 1447.4 L1105.7 1453.6 L1106.9 1459 L1108.2 1463.7 L1109.5 1468.5 L1110.9 1472.3 L1112.4 1475.5 L1113.9 1478.1 L1115.5 1480.6 L1116.8 1482.1 L1117.7 1483.9 L1119 1484.6 L1121.1 1485.1 L1124.7 1485.7" fill="none" stroke="#50d4ee" stroke-width="1.8" stroke-linejoin="round"/><path d="M1060.9 1477.6 L1062.5 1474.6 L1064 1471.6 L1065.4 1466.9 L1066.5 1462.1 L1067.5 1456.4 L1068.5 1451 L1069.5 1445.3 L1070.6 1440.4 L1071.7 1435.3 L1072.9 1429.8 L1074 1424.9 L1075.1 1419.9 L1076.2 1414.8 L1077.3 1410.9 L1078.4 1406.4 L1079.5 1401.9 L1080.6 1397.4 L1081.7 1393.3 L1082.9 1388.1 L1084 1383.6 L1085.1 1379.4 L1086.1 1375.8 L1086.9 1373.3 L1087.6 1370.9 L1088.3 1369.7 L1089 1368.5 L1089.8 1368.6 L1090.7 1368.8 L1091.6 1369 L1092.6 1370.4 L1093.6 1372.6 L1094.6 1376 L1095.5 1379.4 L1096.4 1384.3 L1097.3 1389.5 L1098.1 1395.5 L1099 1401.3 L1099.7 1407.5 L1100.4 1414.3 L1101.1 1421.2 L1101.8 1428.3 L1102.6 1434.6 L1103.6 1441.1 L1104.6 1447.4 L1105.7 1453.6 L1106.9 1459 L1108.2 1463.7 L1109.5 1468.5 L1110.9 1472.3 L1112.4 1475.5 L1113.9 1478.1" fill="none" stroke="#50d4ee" stroke-width="2.8" stroke-linejoin="round" stroke-linecap="round"/>
<path d="M797.4 1554.3 L797.4 1554.1 L801.5 1554.2 L807.5 1553.9 L814.4 1553.9 L821.1 1553.6 L826.8 1552.8 L830.8 1552.2 L833.9 1552 L836.8 1550.7 L840.3 1549.9 L845.2 1549.8 L852 1549 L860.1 1548.8 L868.9 1548.2 L877.7 1548.1 L885.6 1547.8 L892.7 1548.4 L899.2 1549.2 L905.6 1549.7 L912 1550.4 L918.7 1550.7 L926 1550.2 L933.7 1550.4 L941.4 1549.9 L948.8 1549.2 L955.5 1548.4 L961.4 1548.4 L966.8 1547.6 L971.8 1547 L976.5 1546.3 L981.3 1545.2 L986 1544.1 L990.7 1542.3 L995.2 1541 L999.4 1539.2 L1003.3 1538 L1006.8 1536.6 L1009.9 1534.7 L1012.8 1533.3 L1015.5 1531.9 L1018 1530.7 L1020.5 1528.4 L1022.7 1526.6 L1024.8 1524.3 L1026.9 1522.1 L1029.1 1519.2 L1031.3 1516.1 L1033.7 1512.7 L1036 1509 L1038.1 1505.2 L1040.1 1501 L1041.8 1496.9 L1043.3 1492.3 L1044.7 1487.7 L1046.1 1483 L1047.5 1478.6 L1048.9 1475.7 L1050.3 1472.8 L1051.8 1470 L1053.2 1467 L1054.8 1464.3 L1056.5 1461 L1058.4 1458.5 L1060.3 1455.4 L1062.2 1452.3 L1064 1449.1 L1065.9 1446.3 L1067.9 1442.7 L1069.8 1438.5 L1071.6 1436 L1073.2 1433.9 L1074.6 1433.1 L1075.7 1433.5 L1076.7 1434.9 L1077.7 1436.6 L1078.7 1438.1 L1079.8 1441.4 L1080.9 1444.8 L1081.9 1449.4 L1083 1453.2 L1084.3 1457 L1085.6 1459.7 L1087.1 1461.4 L1088.6 1463.6 L1090.1 1465.1 L1091.6 1467.5 L1093.1 1471.1 L1094.6 1474.3 L1096 1478.3 L1097.5 1482.3 L1099 1486.3 L1100.4 1489.6 L1101.9 1493.2 L1103.4 1497.5 L1104.9 1500.8 L1106.3 1504.9 L1107.8 1508.6 L1109.3 1511.9 L1110.7 1515.6 L1112.2 1519.3 L1113.7 1523.1 L1115.1 1526.9 L1116.4 1530.8 L1117.8 1534.8 L1119.3 1538.6 L1121 1541.4 L1122.9 1543.9 L1124.8 1546.2 L1126.9 1547.6 L1129.3 1549.1 L1132.1 1550.9 L1135.5 1551.7 L1139.4 1552.5 L1143.5 1552.7 L1147.4 1553.4 L1150.5 1553.9 L1152.8 1553.8 L1154.5 1554.3 L1155.9 1554.3 L1157 1553.9 L1157.8 1554.3 L1157.8 1554.3Z" fill="#8cf27a" fill-opacity="0.62" stroke="none"/>
<path d="M795.3 1554.3 L797.4 1554.3 L797.4 1554.1 L801.5 1554.2 L807.5 1553.9 L814.4 1553.9 L821.1 1553.6 L826.8 1552.8 L830.8 1552.2 L833.9 1552 L836.8 1550.7 L840.3 1549.9 L845.2 1549.8 L852 1549 L860.1 1548.8 L868.9 1548.2 L877.7 1548.1 L885.6 1547.8 L892.7 1548.4 L899.2 1549.2 L905.6 1549.7 L912 1550.4 L918.7 1550.7 L926 1550.2 L933.7 1550.4 L941.4 1549.9 L948.8 1549.2 L955.5 1548.4 L961.4 1548.4 L966.8 1547.6 L971.8 1547 L976.5 1546.3 L981.3 1545.2 L986 1544.1 L990.7 1542.3 L995.2 1541 L999.4 1539.2 L1003.3 1538 L1006.8 1536.6 L1009.9 1534.7 L1012.8 1533.3 L1015.5 1531.9 L1018 1530.7 L1020.5 1528.4 L1022.7 1526.6 L1024.8 1524.3 L1026.9 1522.1 L1029.1 1519.2 L1031.3 1516.1 L1033.7 1512.7 L1036 1509 L1038.1 1505.2 L1040.1 1501 L1041.8 1496.9 L1043.3 1492.3 L1044.7 1487.7 L1046.1 1483 L1047.5 1478.6 L1048.9 1475.7 L1050.3 1472.8 L1051.8 1470 L1053.2 1467 L1054.8 1464.3 L1056.5 1461 L1058.4 1458.5 L1060.3 1455.4 L1062.2 1452.3 L1064 1449.1 L1065.9 1446.3 L1067.9 1442.7 L1069.8 1438.5 L1071.6 1436 L1073.2 1433.9 L1074.6 1433.1 L1075.7 1433.5 L1076.7 1434.9 L1077.7 1436.6 L1078.7 1438.1 L1079.8 1441.4 L1080.9 1444.8 L1081.9 1449.4 L1083 1453.2 L1084.3 1457 L1085.6 1459.7 L1087.1 1461.4 L1088.6 1463.6 L1090.1 1465.1 L1091.6 1467.5 L1093.1 1471.1 L1094.6 1474.3 L1096 1478.3 L1097.5 1482.3 L1099 1486.3 L1100.4 1489.6 L1101.9 1493.2 L1103.4 1497.5 L1104.9 1500.8 L1106.3 1504.9 L1107.8 1508.6 L1109.3 1511.9 L1110.7 1515.6 L1112.2 1519.3 L1113.7 1523.1 L1115.1 1526.9 L1116.4 1530.8 L1117.8 1534.8 L1119.3 1538.6 L1121 1541.4 L1122.9 1543.9 L1124.8 1546.2 L1126.9 1547.6 L1129.3 1549.1 L1132.1 1550.9 L1135.5 1551.7 L1139.4 1552.5 L1143.5 1552.7 L1147.4 1553.4 L1150.5 1553.9 L1152.8 1553.8 L1154.5 1554.3 L1155.9 1554.3 L1157 1553.9 L1157.8 1554.3 L1157.8 1554.3 L1419.5 1554.3" fill="none" stroke="#3ce41e" stroke-width="1.3" stroke-opacity="0.85" stroke-linejoin="round"/><path d="M826.8 1552.8 L830.8 1552.2 L833.9 1552 L836.8 1550.7 L840.3 1549.9 L845.2 1549.8 L852 1549 L860.1 1548.8 L868.9 1548.2 L877.7 1548.1 L885.6 1547.8 L892.7 1548.4 L899.2 1549.2 L905.6 1549.7 L912 1550.4 L918.7 1550.7 L926 1550.2 L933.7 1550.4 L941.4 1549.9 L948.8 1549.2 L955.5 1548.4 L961.4 1548.4 L966.8 1547.6 L971.8 1547 L976.5 1546.3 L981.3 1545.2 L986 1544.1 L990.7 1542.3 L995.2 1541 L999.4 1539.2 L1003.3 1538 L1006.8 1536.6 L1009.9 1534.7 L1012.8 1533.3 L1015.5 1531.9 L1018 1530.7 L1020.5 1528.4 L1022.7 1526.6 L1024.8 1524.3 L1026.9 1522.1 L1029.1 1519.2 L1031.3 1516.1 L1033.7 1512.7 L1036 1509 L1038.1 1505.2 L1040.1 1501 L1041.8 1496.9 L1043.3 1492.3 L1044.7 1487.7 L1046.1 1483 L1047.5 1478.6 L1048.9 1475.7 L1050.3 1472.8 L1051.8 1470 L1053.2 1467 L1054.8 1464.3 L1056.5 1461 L1058.4 1458.5 L1060.3 1455.4 L1062.2 1452.3 L1064 1449.1 L1065.9 1446.3 L1067.9 1442.7 L1069.8 1438.5 L1071.6 1436 L1073.2 1433.9 L1074.6 1433.1 L1075.7 1433.5 L1076.7 1434.9 L1077.7 1436.6 L1078.7 1438.1 L1079.8 1441.4 L1080.9 1444.8 L1081.9 1449.4 L1083 1453.2 L1084.3 1457 L1085.6 1459.7 L1087.1 1461.4 L1088.6 1463.6 L1090.1 1465.1 L1091.6 1467.5 L1093.1 1471.1 L1094.6 1474.3 L1096 1478.3 L1097.5 1482.3 L1099 1486.3 L1100.4 1489.6 L1101.9 1493.2 L1103.4 1497.5 L1104.9 1500.8 L1106.3 1504.9 L1107.8 1508.6 L1109.3 1511.9 L1110.7 1515.6 L1112.2 1519.3 L1113.7 1523.1 L1115.1 1526.9 L1116.4 1530.8 L1117.8 1534.8 L1119.3 1538.6 L1121 1541.4 L1122.9 1543.9 L1124.8 1546.2 L1126.9 1547.6 L1129.3 1549.1 L1132.1 1550.9 L1135.5 1551.7 L1139.4 1552.5 L1143.5 1552.7" fill="none" stroke="#3ce41e" stroke-width="1.8" stroke-linejoin="round"/><path d="M981.3 1545.2 L986 1544.1 L990.7 1542.3 L995.2 1541 L999.4 1539.2 L1003.3 1538 L1006.8 1536.6 L1009.9 1534.7 L1012.8 1533.3 L1015.5 1531.9 L1018 1530.7 L1020.5 1528.4 L1022.7 1526.6 L1024.8 1524.3 L1026.9 1522.1 L1029.1 1519.2 L1031.3 1516.1 L1033.7 1512.7 L1036 1509 L1038.1 1505.2 L1040.1 1501 L1041.8 1496.9 L1043.3 1492.3 L1044.7 1487.7 L1046.1 1483 L1047.5 1478.6 L1048.9 1475.7 L1050.3 1472.8 L1051.8 1470 L1053.2 1467 L1054.8 1464.3 L1056.5 1461 L1058.4 1458.5 L1060.3 1455.4 L1062.2 1452.3 L1064 1449.1 L1065.9 1446.3 L1067.9 1442.7 L1069.8 1438.5 L1071.6 1436 L1073.2 1433.9 L1074.6 1433.1 L1075.7 1433.5 L1076.7 1434.9 L1077.7 1436.6 L1078.7 1438.1 L1079.8 1441.4 L1080.9 1444.8 L1081.9 1449.4 L1083 1453.2 L1084.3 1457 L1085.6 1459.7 L1087.1 1461.4 L1088.6 1463.6 L1090.1 1465.1 L1091.6 1467.5 L1093.1 1471.1 L1094.6 1474.3 L1096 1478.3 L1097.5 1482.3 L1099 1486.3 L1100.4 1489.6 L1101.9 1493.2 L1103.4 1497.5 L1104.9 1500.8 L1106.3 1504.9 L1107.8 1508.6 L1109.3 1511.9 L1110.7 1515.6 L1112.2 1519.3 L1113.7 1523.1 L1115.1 1526.9 L1116.4 1530.8 L1117.8 1534.8 L1119.3 1538.6 L1121 1541.4 L1122.9 1543.9" fill="none" stroke="#3ce41e" stroke-width="2.8" stroke-linejoin="round" stroke-linecap="round"/>
<path d="M933.4 1617.3 L933.4 1617.3 L935.4 1616.3 L938.3 1614.4 L941.6 1612.5 L945 1610.1 L948.2 1607.3 L951.2 1604.7 L954.2 1602.6 L957.3 1599.3 L960.2 1596.2 L962.9 1593.2 L965.3 1588.9 L967.6 1584.8 L969.7 1580 L971.8 1575.4 L973.9 1570.6 L976.1 1566.4 L978.4 1562.1 L980.7 1557.3 L982.9 1553.1 L984.9 1548.9 L986.9 1544.4 L988.8 1541 L990.7 1537.2 L992.4 1533.5 L994.1 1530 L995.7 1527.4 L997.2 1523.9 L998.6 1521.2 L1000.1 1519 L1001.5 1517.6 L1003 1517.5 L1004.4 1517.8 L1005.9 1519.4 L1007.4 1521 L1008.9 1523.3 L1010.3 1525.6 L1011.8 1527.9 L1013.3 1531.1 L1014.7 1534.4 L1016.2 1538 L1017.7 1540.5 L1019.1 1543.3 L1020.6 1545.9 L1022.1 1549 L1023.6 1552.3 L1025 1556.3 L1026.4 1560.8 L1027.8 1565.4 L1029.3 1570.2 L1030.9 1574.6 L1032.7 1579.3 L1034.6 1583.9 L1036.5 1588.6 L1038.4 1592.7 L1040.1 1596.3 L1041.7 1600.4 L1043.2 1603.7 L1044.6 1606.6 L1046 1609 L1047.5 1611.4 L1049.1 1613 L1050.8 1614.9 L1052.4 1615.9 L1053.8 1616.7 L1054.8 1617.2 L1054.8 1617.3Z" fill="#5ccab6" fill-opacity="0.62" stroke="none"/>
<path d="M795.3 1617.3 L933.4 1617.3 L933.4 1617.3 L935.4 1616.3 L938.3 1614.4 L941.6 1612.5 L945 1610.1 L948.2 1607.3 L951.2 1604.7 L954.2 1602.6 L957.3 1599.3 L960.2 1596.2 L962.9 1593.2 L965.3 1588.9 L967.6 1584.8 L969.7 1580 L971.8 1575.4 L973.9 1570.6 L976.1 1566.4 L978.4 1562.1 L980.7 1557.3 L982.9 1553.1 L984.9 1548.9 L986.9 1544.4 L988.8 1541 L990.7 1537.2 L992.4 1533.5 L994.1 1530 L995.7 1527.4 L997.2 1523.9 L998.6 1521.2 L1000.1 1519 L1001.5 1517.6 L1003 1517.5 L1004.4 1517.8 L1005.9 1519.4 L1007.4 1521 L1008.9 1523.3 L1010.3 1525.6 L1011.8 1527.9 L1013.3 1531.1 L1014.7 1534.4 L1016.2 1538 L1017.7 1540.5 L1019.1 1543.3 L1020.6 1545.9 L1022.1 1549 L1023.6 1552.3 L1025 1556.3 L1026.4 1560.8 L1027.8 1565.4 L1029.3 1570.2 L1030.9 1574.6 L1032.7 1579.3 L1034.6 1583.9 L1036.5 1588.6 L1038.4 1592.7 L1040.1 1596.3 L1041.7 1600.4 L1043.2 1603.7 L1044.6 1606.6 L1046 1609 L1047.5 1611.4 L1049.1 1613 L1050.8 1614.9 L1052.4 1615.9 L1053.8 1616.7 L1054.8 1617.2 L1054.8 1617.3 L1419.5 1617.3" fill="none" stroke="#338a80" stroke-width="1.3" stroke-opacity="0.85" stroke-linejoin="round"/><path d="M938.3 1614.4 L941.6 1612.5 L945 1610.1 L948.2 1607.3 L951.2 1604.7 L954.2 1602.6 L957.3 1599.3 L960.2 1596.2 L962.9 1593.2 L965.3 1588.9 L967.6 1584.8 L969.7 1580 L971.8 1575.4 L973.9 1570.6 L976.1 1566.4 L978.4 1562.1 L980.7 1557.3 L982.9 1553.1 L984.9 1548.9 L986.9 1544.4 L988.8 1541 L990.7 1537.2 L992.4 1533.5 L994.1 1530 L995.7 1527.4 L997.2 1523.9 L998.6 1521.2 L1000.1 1519 L1001.5 1517.6 L1003 1517.5 L1004.4 1517.8 L1005.9 1519.4 L1007.4 1521 L1008.9 1523.3 L1010.3 1525.6 L1011.8 1527.9 L1013.3 1531.1 L1014.7 1534.4 L1016.2 1538 L1017.7 1540.5 L1019.1 1543.3 L1020.6 1545.9 L1022.1 1549 L1023.6 1552.3 L1025 1556.3 L1026.4 1560.8 L1027.8 1565.4 L1029.3 1570.2 L1030.9 1574.6 L1032.7 1579.3 L1034.6 1583.9 L1036.5 1588.6 L1038.4 1592.7 L1040.1 1596.3 L1041.7 1600.4 L1043.2 1603.7 L1044.6 1606.6 L1046 1609 L1047.5 1611.4 L1049.1 1613 L1050.8 1614.9 L1052.4 1615.9" fill="none" stroke="#338a80" stroke-width="1.8" stroke-linejoin="round"/><path d="M948.2 1607.3 L951.2 1604.7 L954.2 1602.6 L957.3 1599.3 L960.2 1596.2 L962.9 1593.2 L965.3 1588.9 L967.6 1584.8 L969.7 1580 L971.8 1575.4 L973.9 1570.6 L976.1 1566.4 L978.4 1562.1 L980.7 1557.3 L982.9 1553.1 L984.9 1548.9 L986.9 1544.4 L988.8 1541 L990.7 1537.2 L992.4 1533.5 L994.1 1530 L995.7 1527.4 L997.2 1523.9 L998.6 1521.2 L1000.1 1519 L1001.5 1517.6 L1003 1517.5 L1004.4 1517.8 L1005.9 1519.4 L1007.4 1521 L1008.9 1523.3 L1010.3 1525.6 L1011.8 1527.9 L1013.3 1531.1 L1014.7 1534.4 L1016.2 1538 L1017.7 1540.5 L1019.1 1543.3 L1020.6 1545.9 L1022.1 1549 L1023.6 1552.3 L1025 1556.3 L1026.4 1560.8 L1027.8 1565.4 L1029.3 1570.2 L1030.9 1574.6 L1032.7 1579.3 L1034.6 1583.9 L1036.5 1588.6 L1038.4 1592.7 L1040.1 1596.3 L1041.7 1600.4 L1043.2 1603.7 L1044.6 1606.6" fill="none" stroke="#338a80" stroke-width="3" stroke-linejoin="round" stroke-linecap="round"/>
<rect x="795.3" y="1017.8" width="624.2" height="599.6" fill="none" stroke="#333" stroke-width="1.8"/>
<text x="1196.4" y="1130.9" font-size="22" fill="#000" textLength="211.5" lengthAdjust="spacingAndGlyphs" stroke="#000" stroke-width="0.45">SAHA + TGFβ + IFNβ</text>
<text x="1347.2" y="1198.2" font-size="22" fill="#000" textLength="56.3" lengthAdjust="spacingAndGlyphs" stroke="#000" stroke-width="0.45">IFN-β</text>
<text x="1180.6" y="1263.3" font-size="22" fill="#000" textLength="227.3" lengthAdjust="spacingAndGlyphs" stroke="#000" stroke-width="0.45">SAHA + TGF-β + IFN-β</text>
<text x="1267.4" y="1333.3" font-size="22" fill="#000" textLength="144.2" lengthAdjust="spacingAndGlyphs" stroke="#000" stroke-width="0.45">TGF-β + IFN-β</text>
<text x="1327" y="1400.3" font-size="22" fill="#000" textLength="59.6" lengthAdjust="spacingAndGlyphs" stroke="#000" stroke-width="0.45">TGF-β</text>
<text x="1327.7" y="1460.2" font-size="22" fill="#000" textLength="58.2" lengthAdjust="spacingAndGlyphs" stroke="#000" stroke-width="0.45">SAHA</text>
<text x="1317.1" y="1525.6" font-size="22" fill="#000" textLength="74.3" lengthAdjust="spacingAndGlyphs" stroke="#000" stroke-width="0.45">Unstim</text>
<text x="1328.8" y="1591" font-size="22" fill="#000" textLength="49.7" lengthAdjust="spacingAndGlyphs" stroke="#000" stroke-width="0.45">FMO</text>
<line x1="862.2" y1="1617.4" x2="862.2" y2="1628.8" stroke="#111" stroke-width="2.8"/>
<line x1="1051.8" y1="1617.4" x2="1051.8" y2="1628.8" stroke="#111" stroke-width="2.8"/>
<line x1="1153.7" y1="1617.4" x2="1153.7" y2="1628.8" stroke="#111" stroke-width="2.8"/>
<line x1="1246.1" y1="1617.4" x2="1246.1" y2="1628.8" stroke="#111" stroke-width="2.8"/>
<line x1="1336.2" y1="1617.4" x2="1336.2" y2="1628.8" stroke="#111" stroke-width="2.8"/>
<line x1="846.7" y1="1617.4" x2="846.7" y2="1622.4" stroke="#111" stroke-width="1.4"/>
<line x1="828.2" y1="1617.4" x2="828.2" y2="1622.4" stroke="#111" stroke-width="1.4"/>
<line x1="806.2" y1="1617.4" x2="806.2" y2="1622.4" stroke="#111" stroke-width="1.4"/>
<line x1="868" y1="1617.4" x2="868" y2="1622.4" stroke="#111" stroke-width="1.4"/>
<line x1="874.5" y1="1617.4" x2="874.5" y2="1622.4" stroke="#111" stroke-width="1.4"/>
<line x1="879" y1="1617.4" x2="879" y2="1622.4" stroke="#111" stroke-width="1.4"/>
<line x1="888" y1="1617.4" x2="888" y2="1622.4" stroke="#111" stroke-width="1.4"/>
<line x1="895.7" y1="1617.4" x2="895.7" y2="1625.7" stroke="#111" stroke-width="1.4"/>
<line x1="906.6" y1="1617.4" x2="906.6" y2="1622.4" stroke="#111" stroke-width="1.4"/>
<line x1="917.6" y1="1617.4" x2="917.6" y2="1622.4" stroke="#111" stroke-width="1.4"/>
<line x1="928.6" y1="1617.4" x2="928.6" y2="1622.4" stroke="#111" stroke-width="1.4"/>
<rect x="942" y="1617.4" width="30.5" height="3.6" fill="#111"/>
<rect x="942" y="1617.4" width="3.8" height="11.4" fill="#111"/>
<rect x="948.1" y="1617.4" width="1.5" height="7.6" fill="#111"/>
<rect x="950.8" y="1617.4" width="1.2" height="7.6" fill="#111"/>
<rect x="955" y="1617.4" width="5.6" height="11.4" fill="#111"/>
<rect x="962.7" y="1617.4" width="1.2" height="7.6" fill="#111"/>
<rect x="965.5" y="1617.4" width="0.9" height="7.6" fill="#111"/>
<rect x="969.4" y="1617.4" width="3.1" height="11.4" fill="#111"/>
<line x1="984.6" y1="1617.4" x2="984.6" y2="1622.4" stroke="#111" stroke-width="1.4"/>
<line x1="996.8" y1="1617.4" x2="996.8" y2="1622.4" stroke="#111" stroke-width="1.4"/>
<line x1="1009.6" y1="1617.4" x2="1009.6" y2="1622.4" stroke="#111" stroke-width="1.4"/>
<line x1="1018.5" y1="1617.4" x2="1018.5" y2="1625.7" stroke="#111" stroke-width="1.4"/>
<line x1="1027.5" y1="1617.4" x2="1027.5" y2="1622.4" stroke="#111" stroke-width="1.4"/>
<line x1="1033.9" y1="1617.4" x2="1033.9" y2="1622.4" stroke="#111" stroke-width="1.4"/>
<line x1="1041.6" y1="1617.4" x2="1041.6" y2="1622.4" stroke="#111" stroke-width="1.4"/>
<line x1="1046.7" y1="1617.4" x2="1046.7" y2="1622.4" stroke="#111" stroke-width="1.4"/>
<line x1="1082.5" y1="1617.4" x2="1082.5" y2="1622.4" stroke="#111" stroke-width="1.4"/>
<line x1="1100.4" y1="1617.4" x2="1100.4" y2="1622.4" stroke="#111" stroke-width="1.4"/>
<line x1="1113.1" y1="1617.4" x2="1113.1" y2="1622.4" stroke="#111" stroke-width="1.4"/>
<line x1="1123" y1="1617.4" x2="1123" y2="1625.7" stroke="#111" stroke-width="1.4"/>
<line x1="1131.1" y1="1617.4" x2="1131.1" y2="1622.4" stroke="#111" stroke-width="1.4"/>
<line x1="1137.9" y1="1617.4" x2="1137.9" y2="1622.4" stroke="#111" stroke-width="1.4"/>
<line x1="1143.8" y1="1617.4" x2="1143.8" y2="1622.4" stroke="#111" stroke-width="1.4"/>
<line x1="1149" y1="1617.4" x2="1149" y2="1622.4" stroke="#111" stroke-width="1.4"/>
<line x1="1181.5" y1="1617.4" x2="1181.5" y2="1622.4" stroke="#111" stroke-width="1.4"/>
<line x1="1197.8" y1="1617.4" x2="1197.8" y2="1622.4" stroke="#111" stroke-width="1.4"/>
<line x1="1209.3" y1="1617.4" x2="1209.3" y2="1622.4" stroke="#111" stroke-width="1.4"/>
<line x1="1218.3" y1="1617.4" x2="1218.3" y2="1625.7" stroke="#111" stroke-width="1.4"/>
<line x1="1225.6" y1="1617.4" x2="1225.6" y2="1622.4" stroke="#111" stroke-width="1.4"/>
<line x1="1231.8" y1="1617.4" x2="1231.8" y2="1622.4" stroke="#111" stroke-width="1.4"/>
<line x1="1237.1" y1="1617.4" x2="1237.1" y2="1622.4" stroke="#111" stroke-width="1.4"/>
<line x1="1241.9" y1="1617.4" x2="1241.9" y2="1622.4" stroke="#111" stroke-width="1.4"/>
<line x1="1273.2" y1="1617.4" x2="1273.2" y2="1622.4" stroke="#111" stroke-width="1.4"/>
<line x1="1289.1" y1="1617.4" x2="1289.1" y2="1622.4" stroke="#111" stroke-width="1.4"/>
<line x1="1300.3" y1="1617.4" x2="1300.3" y2="1622.4" stroke="#111" stroke-width="1.4"/>
<line x1="1309.1" y1="1617.4" x2="1309.1" y2="1625.7" stroke="#111" stroke-width="1.4"/>
<line x1="1316.2" y1="1617.4" x2="1316.2" y2="1622.4" stroke="#111" stroke-width="1.4"/>
<line x1="1322.2" y1="1617.4" x2="1322.2" y2="1622.4" stroke="#111" stroke-width="1.4"/>
<line x1="1327.5" y1="1617.4" x2="1327.5" y2="1622.4" stroke="#111" stroke-width="1.4"/>
<line x1="1332.1" y1="1617.4" x2="1332.1" y2="1622.4" stroke="#111" stroke-width="1.4"/>
<line x1="1363.3" y1="1617.4" x2="1363.3" y2="1622.4" stroke="#111" stroke-width="1.4"/>
<line x1="1379.2" y1="1617.4" x2="1379.2" y2="1622.4" stroke="#111" stroke-width="1.4"/>
<line x1="1390.4" y1="1617.4" x2="1390.4" y2="1622.4" stroke="#111" stroke-width="1.4"/>
<line x1="1399.2" y1="1617.4" x2="1399.2" y2="1625.7" stroke="#111" stroke-width="1.4"/>
<line x1="1406.3" y1="1617.4" x2="1406.3" y2="1622.4" stroke="#111" stroke-width="1.4"/>
<line x1="1412.3" y1="1617.4" x2="1412.3" y2="1622.4" stroke="#111" stroke-width="1.4"/>
<line x1="1417.6" y1="1617.4" x2="1417.6" y2="1622.4" stroke="#111" stroke-width="1.4"/><text x="858.2" y="1657.1" font-size="14.8" font-family='"DejaVu Sans", "Liberation Sans", sans-serif' fill="#000" textLength="27.5" lengthAdjust="spacingAndGlyphs">-10</text>
<text x="889.4" y="1646.3" font-size="14.8" font-family='"DejaVu Sans", "Liberation Sans", sans-serif' fill="#000">3</text>
<text x="962.2" y="1657.1" font-size="14.8" font-family='"DejaVu Sans", "Liberation Sans", sans-serif' fill="#000">0</text>
<text x="1051.3" y="1657.1" font-size="14.8" font-family='"DejaVu Sans", "Liberation Sans", sans-serif' fill="#000" textLength="18.6" lengthAdjust="spacingAndGlyphs">10</text>
<text x="1073.1" y="1646.3" font-size="14.8" font-family='"DejaVu Sans", "Liberation Sans", sans-serif' fill="#000">3</text>
<text x="1153.2" y="1657.1" font-size="14.8" font-family='"DejaVu Sans", "Liberation Sans", sans-serif' fill="#000" textLength="18.6" lengthAdjust="spacingAndGlyphs">10</text>
<text x="1175" y="1646.3" font-size="14.8" font-family='"DejaVu Sans", "Liberation Sans", sans-serif' fill="#000">4</text>
<text x="1245.6" y="1657.1" font-size="14.8" font-family='"DejaVu Sans", "Liberation Sans", sans-serif' fill="#000" textLength="18.6" lengthAdjust="spacingAndGlyphs">10</text>
<text x="1267.4" y="1646.3" font-size="14.8" font-family='"DejaVu Sans", "Liberation Sans", sans-serif' fill="#000">5</text>
<text x="1335.7" y="1657.1" font-size="14.8" font-family='"DejaVu Sans", "Liberation Sans", sans-serif' fill="#000" textLength="18.6" lengthAdjust="spacingAndGlyphs">10</text>
<text x="1357.5" y="1646.3" font-size="14.8" font-family='"DejaVu Sans", "Liberation Sans", sans-serif' fill="#000">6</text><text x="1008.9" y="1696.2" font-size="18" font-family='"DejaVu Sans", "Liberation Sans", sans-serif' fill="#000" textLength="188.9" lengthAdjust="spacingAndGlyphs">FJComp–PE–A :: IRF1</text>
<path d="M1716.3 1160.7 L1716.3 1160.5 L1722.7 1160.3 L1732.2 1159.6 L1742.7 1159.2 L1752.8 1158.5 L1760.4 1157.4 L1765.2 1156.7 L1768.4 1156.6 L1770.6 1155.5 L1772.6 1154.7 L1775.1 1154.4 L1778.1 1153.3 L1781.3 1152.8 L1784.3 1151.8 L1787.2 1150.8 L1789.8 1149 L1792 1147.5 L1793.9 1145.6 L1795.6 1142.9 L1797.3 1140.1 L1799 1136.5 L1800.9 1131.7 L1802.8 1127.2 L1804.7 1121.6 L1806.5 1115.8 L1808.2 1110.3 L1809.8 1105.7 L1811.4 1100.1 L1812.9 1095.1 L1814.3 1090.1 L1815.6 1085 L1816.8 1080.4 L1817.9 1075.4 L1819 1071.2 L1820 1066.7 L1821.1 1063.1 L1822.2 1059.3 L1823.3 1055 L1824.4 1051.7 L1825.5 1049 L1826.6 1047.7 L1827.7 1046.5 L1828.8 1046.5 L1829.9 1046.9 L1831 1048.2 L1832.1 1049.9 L1833.2 1052.2 L1834.4 1055.4 L1835.5 1058.9 L1836.6 1062.9 L1837.6 1066.6 L1838.6 1070.7 L1839.5 1074.8 L1840.3 1079.3 L1841.2 1083.7 L1842.1 1088.3 L1843 1094.3 L1843.9 1100.5 L1844.9 1106.7 L1845.8 1112.5 L1846.8 1118.1 L1847.9 1122.8 L1849 1128 L1850.1 1132.3 L1851.2 1136.2 L1852.4 1139.8 L1853.4 1143.6 L1854.4 1146.5 L1855.4 1148.4 L1856.5 1151.1 L1857.9 1152.9 L1858.9 1154.4 L1859.4 1156 L1860.4 1157.5 L1862.7 1158.6 L1867.1 1158.9 L1874.9 1159.9 L1885.7 1159.9 L1897.3 1160.6 L1907.8 1160.4 L1914.9 1160.7 L1914.9 1160.7Z" fill="#c86cf8" fill-opacity="0.62" stroke="none"/>
<path d="M1532.5 1160.7 L1716.3 1160.7 L1716.3 1160.5 L1722.7 1160.3 L1732.2 1159.6 L1742.7 1159.2 L1752.8 1158.5 L1760.4 1157.4 L1765.2 1156.7 L1768.4 1156.6 L1770.6 1155.5 L1772.6 1154.7 L1775.1 1154.4 L1778.1 1153.3 L1781.3 1152.8 L1784.3 1151.8 L1787.2 1150.8 L1789.8 1149 L1792 1147.5 L1793.9 1145.6 L1795.6 1142.9 L1797.3 1140.1 L1799 1136.5 L1800.9 1131.7 L1802.8 1127.2 L1804.7 1121.6 L1806.5 1115.8 L1808.2 1110.3 L1809.8 1105.7 L1811.4 1100.1 L1812.9 1095.1 L1814.3 1090.1 L1815.6 1085 L1816.8 1080.4 L1817.9 1075.4 L1819 1071.2 L1820 1066.7 L1821.1 1063.1 L1822.2 1059.3 L1823.3 1055 L1824.4 1051.7 L1825.5 1049 L1826.6 1047.7 L1827.7 1046.5 L1828.8 1046.5 L1829.9 1046.9 L1831 1048.2 L1832.1 1049.9 L1833.2 1052.2 L1834.4 1055.4 L1835.5 1058.9 L1836.6 1062.9 L1837.6 1066.6 L1838.6 1070.7 L1839.5 1074.8 L1840.3 1079.3 L1841.2 1083.7 L1842.1 1088.3 L1843 1094.3 L1843.9 1100.5 L1844.9 1106.7 L1845.8 1112.5 L1846.8 1118.1 L1847.9 1122.8 L1849 1128 L1850.1 1132.3 L1851.2 1136.2 L1852.4 1139.8 L1853.4 1143.6 L1854.4 1146.5 L1855.4 1148.4 L1856.5 1151.1 L1857.9 1152.9 L1858.9 1154.4 L1859.4 1156 L1860.4 1157.5 L1862.7 1158.6 L1867.1 1158.9 L1874.9 1159.9 L1885.7 1159.9 L1897.3 1160.6 L1907.8 1160.4 L1914.9 1160.7 L1914.9 1160.7 L2141.6 1160.7" fill="none" stroke="#a01ef0" stroke-width="1.3" stroke-opacity="0.85" stroke-linejoin="round"/><path d="M1742.7 1159.2 L1752.8 1158.5 L1760.4 1157.4 L1765.2 1156.7 L1768.4 1156.6 L1770.6 1155.5 L1772.6 1154.7 L1775.1 1154.4 L1778.1 1153.3 L1781.3 1152.8 L1784.3 1151.8 L1787.2 1150.8 L1789.8 1149 L1792 1147.5 L1793.9 1145.6 L1795.6 1142.9 L1797.3 1140.1 L1799 1136.5 L1800.9 1131.7 L1802.8 1127.2 L1804.7 1121.6 L1806.5 1115.8 L1808.2 1110.3 L1809.8 1105.7 L1811.4 1100.1 L1812.9 1095.1 L1814.3 1090.1 L1815.6 1085 L1816.8 1080.4 L1817.9 1075.4 L1819 1071.2 L1820 1066.7 L1821.1 1063.1 L1822.2 1059.3 L1823.3 1055 L1824.4 1051.7 L1825.5 1049 L1826.6 1047.7 L1827.7 1046.5 L1828.8 1046.5 L1829.9 1046.9 L1831 1048.2 L1832.1 1049.9 L1833.2 1052.2 L1834.4 1055.4 L1835.5 1058.9 L1836.6 1062.9 L1837.6 1066.6 L1838.6 1070.7 L1839.5 1074.8 L1840.3 1079.3 L1841.2 1083.7 L1842.1 1088.3 L1843 1094.3 L1843.9 1100.5 L1844.9 1106.7 L1845.8 1112.5 L1846.8 1118.1 L1847.9 1122.8 L1849 1128 L1850.1 1132.3 L1851.2 1136.2 L1852.4 1139.8 L1853.4 1143.6 L1854.4 1146.5 L1855.4 1148.4 L1856.5 1151.1 L1857.9 1152.9 L1858.9 1154.4 L1859.4 1156 L1860.4 1157.5 L1862.7 1158.6 L1867.1 1158.9" fill="none" stroke="#a01ef0" stroke-width="1.8" stroke-linejoin="round"/><path d="M1787.2 1150.8 L1789.8 1149 L1792 1147.5 L1793.9 1145.6 L1795.6 1142.9 L1797.3 1140.1 L1799 1136.5 L1800.9 1131.7 L1802.8 1127.2 L1804.7 1121.6 L1806.5 1115.8 L1808.2 1110.3 L1809.8 1105.7 L1811.4 1100.1 L1812.9 1095.1 L1814.3 1090.1 L1815.6 1085 L1816.8 1080.4 L1817.9 1075.4 L1819 1071.2 L1820 1066.7 L1821.1 1063.1 L1822.2 1059.3 L1823.3 1055 L1824.4 1051.7 L1825.5 1049 L1826.6 1047.7 L1827.7 1046.5 L1828.8 1046.5 L1829.9 1046.9 L1831 1048.2 L1832.1 1049.9 L1833.2 1052.2 L1834.4 1055.4 L1835.5 1058.9 L1836.6 1062.9 L1837.6 1066.6 L1838.6 1070.7 L1839.5 1074.8 L1840.3 1079.3 L1841.2 1083.7 L1842.1 1088.3 L1843 1094.3 L1843.9 1100.5 L1844.9 1106.7 L1845.8 1112.5 L1846.8 1118.1 L1847.9 1122.8 L1849 1128 L1850.1 1132.3 L1851.2 1136.2 L1852.4 1139.8 L1853.4 1143.6 L1854.4 1146.5 L1855.4 1148.4 L1856.5 1151.1" fill="none" stroke="#a01ef0" stroke-width="2.8" stroke-linejoin="round" stroke-linecap="round"/>
<path d="M1653.7 1225.4 L1653.7 1225.2 L1661.5 1225.1 L1672.7 1224.6 L1685.5 1224.2 L1698.2 1223.7 L1708.9 1222.9 L1717.4 1222.4 L1724.9 1222.5 L1731.9 1221.7 L1738.6 1221.2 L1745.7 1221.3 L1753.5 1220.6 L1761.6 1220.6 L1769.6 1220.1 L1776.8 1219.8 L1782.5 1218.9 L1786.3 1218.6 L1788.7 1218.2 L1790.3 1217.2 L1791.7 1216 L1793.5 1213.7 L1795.8 1210.1 L1798.1 1206.5 L1800.4 1201.8 L1802.6 1196.6 L1804.5 1191.2 L1806.2 1186.4 L1807.7 1180.3 L1809.1 1174.4 L1810.5 1168.4 L1811.9 1162.3 L1813.4 1156.4 L1814.9 1149.8 L1816.4 1143.9 L1817.8 1137.8 L1819.3 1133 L1820.6 1128.4 L1822 1123.7 L1823.4 1120 L1824.7 1116.8 L1825.9 1114.6 L1827 1112.2 L1828.1 1110.7 L1829.1 1109.4 L1830 1109 L1831 1108.7 L1832 1108.8 L1832.9 1109.5 L1833.9 1110.4 L1834.8 1112.3 L1835.8 1114.4 L1836.9 1117.9 L1838 1122 L1839.1 1126.8 L1840.2 1131.6 L1841.3 1136.1 L1842.4 1141.5 L1843.5 1146.7 L1844.6 1151.9 L1845.7 1157 L1846.8 1162.3 L1847.9 1167.1 L1849 1172.8 L1850.1 1177.9 L1851.3 1182.8 L1852.4 1187.6 L1853.4 1192.9 L1854.5 1197.8 L1855.5 1201.8 L1856.7 1206.5 L1857.9 1209.9 L1859.1 1212.7 L1860.4 1215.4 L1861.8 1217.9 L1863.4 1219.7 L1865.2 1220.7 L1867.2 1222.2 L1869.2 1222.5 L1871.5 1223.4 L1874.4 1223.4 L1878.1 1224.2 L1883.4 1224.7 L1890.1 1224.7 L1897.1 1225.3 L1903.3 1225.1 L1907.5 1225.1 L1907.5 1225.4Z" fill="#eeb074" fill-opacity="0.62" stroke="none"/>
<path d="M1532.5 1225.4 L1653.7 1225.4 L1653.7 1225.2 L1661.5 1225.1 L1672.7 1224.6 L1685.5 1224.2 L1698.2 1223.7 L1708.9 1222.9 L1717.4 1222.4 L1724.9 1222.5 L1731.9 1221.7 L1738.6 1221.2 L1745.7 1221.3 L1753.5 1220.6 L1761.6 1220.6 L1769.6 1220.1 L1776.8 1219.8 L1782.5 1218.9 L1786.3 1218.6 L1788.7 1218.2 L1790.3 1217.2 L1791.7 1216 L1793.5 1213.7 L1795.8 1210.1 L1798.1 1206.5 L1800.4 1201.8 L1802.6 1196.6 L1804.5 1191.2 L1806.2 1186.4 L1807.7 1180.3 L1809.1 1174.4 L1810.5 1168.4 L1811.9 1162.3 L1813.4 1156.4 L1814.9 1149.8 L1816.4 1143.9 L1817.8 1137.8 L1819.3 1133 L1820.6 1128.4 L1822 1123.7 L1823.4 1120 L1824.7 1116.8 L1825.9 1114.6 L1827 1112.2 L1828.1 1110.7 L1829.1 1109.4 L1830 1109 L1831 1108.7 L1832 1108.8 L1832.9 1109.5 L1833.9 1110.4 L1834.8 1112.3 L1835.8 1114.4 L1836.9 1117.9 L1838 1122 L1839.1 1126.8 L1840.2 1131.6 L1841.3 1136.1 L1842.4 1141.5 L1843.5 1146.7 L1844.6 1151.9 L1845.7 1157 L1846.8 1162.3 L1847.9 1167.1 L1849 1172.8 L1850.1 1177.9 L1851.3 1182.8 L1852.4 1187.6 L1853.4 1192.9 L1854.5 1197.8 L1855.5 1201.8 L1856.7 1206.5 L1857.9 1209.9 L1859.1 1212.7 L1860.4 1215.4 L1861.8 1217.9 L1863.4 1219.7 L1865.2 1220.7 L1867.2 1222.2 L1869.2 1222.5 L1871.5 1223.4 L1874.4 1223.4 L1878.1 1224.2 L1883.4 1224.7 L1890.1 1224.7 L1897.1 1225.3 L1903.3 1225.1 L1907.5 1225.1 L1907.5 1225.4 L2141.6 1225.4" fill="none" stroke="#ee9a3a" stroke-width="1.3" stroke-opacity="0.85" stroke-linejoin="round"/><path d="M1698.2 1223.7 L1708.9 1222.9 L1717.4 1222.4 L1724.9 1222.5 L1731.9 1221.7 L1738.6 1221.2 L1745.7 1221.3 L1753.5 1220.6 L1761.6 1220.6 L1769.6 1220.1 L1776.8 1219.8 L1782.5 1218.9 L1786.3 1218.6 L1788.7 1218.2 L1790.3 1217.2 L1791.7 1216 L1793.5 1213.7 L1795.8 1210.1 L1798.1 1206.5 L1800.4 1201.8 L1802.6 1196.6 L1804.5 1191.2 L1806.2 1186.4 L1807.7 1180.3 L1809.1 1174.4 L1810.5 1168.4 L1811.9 1162.3 L1813.4 1156.4 L1814.9 1149.8 L1816.4 1143.9 L1817.8 1137.8 L1819.3 1133 L1820.6 1128.4 L1822 1123.7 L1823.4 1120 L1824.7 1116.8 L1825.9 1114.6 L1827 1112.2 L1828.1 1110.7 L1829.1 1109.4 L1830 1109 L1831 1108.7 L1832 1108.8 L1832.9 1109.5 L1833.9 1110.4 L1834.8 1112.3 L1835.8 1114.4 L1836.9 1117.9 L1838 1122 L1839.1 1126.8 L1840.2 1131.6 L1841.3 1136.1 L1842.4 1141.5 L1843.5 1146.7 L1844.6 1151.9 L1845.7 1157 L1846.8 1162.3 L1847.9 1167.1 L1849 1172.8 L1850.1 1177.9 L1851.3 1182.8 L1852.4 1187.6 L1853.4 1192.9 L1854.5 1197.8 L1855.5 1201.8 L1856.7 1206.5 L1857.9 1209.9 L1859.1 1212.7 L1860.4 1215.4 L1861.8 1217.9 L1863.4 1219.7 L1865.2 1220.7 L1867.2 1222.2 L1869.2 1222.5 L1871.5 1223.4 L1874.4 1223.4 L1878.1 1224.2" fill="none" stroke="#ee9a3a" stroke-width="1.8" stroke-linejoin="round"/><path d="M1791.7 1216 L1793.5 1213.7 L1795.8 1210.1 L1798.1 1206.5 L1800.4 1201.8 L1802.6 1196.6 L1804.5 1191.2 L1806.2 1186.4 L1807.7 1180.3 L1809.1 1174.4 L1810.5 1168.4 L1811.9 1162.3 L1813.4 1156.4 L1814.9 1149.8 L1816.4 1143.9 L1817.8 1137.8 L1819.3 1133 L1820.6 1128.4 L1822 1123.7 L1823.4 1120 L1824.7 1116.8 L1825.9 1114.6 L1827 1112.2 L1828.1 1110.7 L1829.1 1109.4 L1830 1109 L1831 1108.7 L1832 1108.8 L1832.9 1109.5 L1833.9 1110.4 L1834.8 1112.3 L1835.8 1114.4 L1836.9 1117.9 L1838 1122 L1839.1 1126.8 L1840.2 1131.6 L1841.3 1136.1 L1842.4 1141.5 L1843.5 1146.7 L1844.6 1151.9 L1845.7 1157 L1846.8 1162.3 L1847.9 1167.1 L1849 1172.8 L1850.1 1177.9 L1851.3 1182.8 L1852.4 1187.6 L1853.4 1192.9 L1854.5 1197.8 L1855.5 1201.8 L1856.7 1206.5 L1857.9 1209.9 L1859.1 1212.7 L1860.4 1215.4" fill="none" stroke="#ee9a3a" stroke-width="2.8" stroke-linejoin="round" stroke-linecap="round"/>
<path d="M1675.8 1289.1 L1675.8 1288.8 L1679.4 1288.7 L1684.4 1288.1 L1690.3 1287.6 L1696.2 1287 L1701.6 1286.1 L1706.2 1285.7 L1710.6 1286 L1715 1285.4 L1719.3 1285 L1723.6 1285 L1728.2 1283.9 L1732.8 1283.3 L1737.4 1282.1 L1741.7 1281.1 L1745.7 1279.6 L1749.2 1278.6 L1752.3 1277.3 L1755.1 1275.6 L1757.8 1274.2 L1760.4 1272.6 L1762.8 1270.8 L1765.1 1270.1 L1767.2 1268.7 L1769.3 1266.9 L1771.4 1264.8 L1773.7 1263 L1776 1260.1 L1778.3 1257.3 L1780.5 1254.2 L1782.5 1250.6 L1784.2 1246.9 L1785.7 1242.6 L1787.1 1238.5 L1788.4 1233.5 L1789.8 1228.6 L1791.3 1222.4 L1792.7 1214.7 L1794.2 1207.4 L1795.7 1200.7 L1797.2 1195.6 L1798.8 1190.7 L1800.4 1187.1 L1802.1 1183.8 L1803.7 1181.8 L1805.3 1180.4 L1806.7 1180.5 L1808.1 1181.9 L1809.4 1183.9 L1810.7 1186.3 L1811.9 1188 L1813.1 1189.4 L1814.2 1190.2 L1815.3 1191.3 L1816.3 1192.7 L1817.4 1195 L1818.5 1199.5 L1819.6 1204.5 L1820.7 1210.1 L1821.8 1215.6 L1822.9 1221.1 L1824 1225.9 L1825 1231.5 L1826.1 1236.5 L1827.2 1241.4 L1828.4 1246.4 L1829.8 1252.3 L1831.2 1258 L1832.6 1262.8 L1834.2 1268.4 L1835.8 1272.4 L1837.5 1275.8 L1839.3 1278.8 L1841.1 1281.7 L1843 1283.8 L1845 1285 L1847.3 1286.8 L1849.8 1287.3 L1852.3 1288.4 L1854.5 1288.6 L1856 1289.1 L1856 1289.1Z" fill="#6fa556" fill-opacity="0.62" stroke="none"/>
<path d="M1532.5 1289.1 L1675.8 1289.1 L1675.8 1288.8 L1679.4 1288.7 L1684.4 1288.1 L1690.3 1287.6 L1696.2 1287 L1701.6 1286.1 L1706.2 1285.7 L1710.6 1286 L1715 1285.4 L1719.3 1285 L1723.6 1285 L1728.2 1283.9 L1732.8 1283.3 L1737.4 1282.1 L1741.7 1281.1 L1745.7 1279.6 L1749.2 1278.6 L1752.3 1277.3 L1755.1 1275.6 L1757.8 1274.2 L1760.4 1272.6 L1762.8 1270.8 L1765.1 1270.1 L1767.2 1268.7 L1769.3 1266.9 L1771.4 1264.8 L1773.7 1263 L1776 1260.1 L1778.3 1257.3 L1780.5 1254.2 L1782.5 1250.6 L1784.2 1246.9 L1785.7 1242.6 L1787.1 1238.5 L1788.4 1233.5 L1789.8 1228.6 L1791.3 1222.4 L1792.7 1214.7 L1794.2 1207.4 L1795.7 1200.7 L1797.2 1195.6 L1798.8 1190.7 L1800.4 1187.1 L1802.1 1183.8 L1803.7 1181.8 L1805.3 1180.4 L1806.7 1180.5 L1808.1 1181.9 L1809.4 1183.9 L1810.7 1186.3 L1811.9 1188 L1813.1 1189.4 L1814.2 1190.2 L1815.3 1191.3 L1816.3 1192.7 L1817.4 1195 L1818.5 1199.5 L1819.6 1204.5 L1820.7 1210.1 L1821.8 1215.6 L1822.9 1221.1 L1824 1225.9 L1825 1231.5 L1826.1 1236.5 L1827.2 1241.4 L1828.4 1246.4 L1829.8 1252.3 L1831.2 1258 L1832.6 1262.8 L1834.2 1268.4 L1835.8 1272.4 L1837.5 1275.8 L1839.3 1278.8 L1841.1 1281.7 L1843 1283.8 L1845 1285 L1847.3 1286.8 L1849.8 1287.3 L1852.3 1288.4 L1854.5 1288.6 L1856 1289.1 L1856 1289.1 L2141.6 1289.1" fill="none" stroke="#1e6414" stroke-width="1.3" stroke-opacity="0.85" stroke-linejoin="round"/><path d="M1690.3 1287.6 L1696.2 1287 L1701.6 1286.1 L1706.2 1285.7 L1710.6 1286 L1715 1285.4 L1719.3 1285 L1723.6 1285 L1728.2 1283.9 L1732.8 1283.3 L1737.4 1282.1 L1741.7 1281.1 L1745.7 1279.6 L1749.2 1278.6 L1752.3 1277.3 L1755.1 1275.6 L1757.8 1274.2 L1760.4 1272.6 L1762.8 1270.8 L1765.1 1270.1 L1767.2 1268.7 L1769.3 1266.9 L1771.4 1264.8 L1773.7 1263 L1776 1260.1 L1778.3 1257.3 L1780.5 1254.2 L1782.5 1250.6 L1784.2 1246.9 L1785.7 1242.6 L1787.1 1238.5 L1788.4 1233.5 L1789.8 1228.6 L1791.3 1222.4 L1792.7 1214.7 L1794.2 1207.4 L1795.7 1200.7 L1797.2 1195.6 L1798.8 1190.7 L1800.4 1187.1 L1802.1 1183.8 L1803.7 1181.8 L1805.3 1180.4 L1806.7 1180.5 L1808.1 1181.9 L1809.4 1183.9 L1810.7 1186.3 L1811.9 1188 L1813.1 1189.4 L1814.2 1190.2 L1815.3 1191.3 L1816.3 1192.7 L1817.4 1195 L1818.5 1199.5 L1819.6 1204.5 L1820.7 1210.1 L1821.8 1215.6 L1822.9 1221.1 L1824 1225.9 L1825 1231.5 L1826.1 1236.5 L1827.2 1241.4 L1828.4 1246.4 L1829.8 1252.3 L1831.2 1258 L1832.6 1262.8 L1834.2 1268.4 L1835.8 1272.4 L1837.5 1275.8 L1839.3 1278.8 L1841.1 1281.7 L1843 1283.8 L1845 1285 L1847.3 1286.8 L1849.8 1287.3" fill="none" stroke="#1e6414" stroke-width="1.8" stroke-linejoin="round"/><path d="M1745.7 1279.6 L1749.2 1278.6 L1752.3 1277.3 L1755.1 1275.6 L1757.8 1274.2 L1760.4 1272.6 L1762.8 1270.8 L1765.1 1270.1 L1767.2 1268.7 L1769.3 1266.9 L1771.4 1264.8 L1773.7 1263 L1776 1260.1 L1778.3 1257.3 L1780.5 1254.2 L1782.5 1250.6 L1784.2 1246.9 L1785.7 1242.6 L1787.1 1238.5 L1788.4 1233.5 L1789.8 1228.6 L1791.3 1222.4 L1792.7 1214.7 L1794.2 1207.4 L1795.7 1200.7 L1797.2 1195.6 L1798.8 1190.7 L1800.4 1187.1 L1802.1 1183.8 L1803.7 1181.8 L1805.3 1180.4 L1806.7 1180.5 L1808.1 1181.9 L1809.4 1183.9 L1810.7 1186.3 L1811.9 1188 L1813.1 1189.4 L1814.2 1190.2 L1815.3 1191.3 L1816.3 1192.7 L1817.4 1195 L1818.5 1199.5 L1819.6 1204.5 L1820.7 1210.1 L1821.8 1215.6 L1822.9 1221.1 L1824 1225.9 L1825 1231.5 L1826.1 1236.5 L1827.2 1241.4 L1828.4 1246.4 L1829.8 1252.3 L1831.2 1258 L1832.6 1262.8 L1834.2 1268.4 L1835.8 1272.4 L1837.5 1275.8 L1839.3 1278.8" fill="none" stroke="#1e6414" stroke-width="2.8" stroke-linejoin="round" stroke-linecap="round"/>
<path d="M1536 1352.8 L1536 1352.6 L1538.4 1352.7 L1541.7 1352.3 L1545.7 1352.1 L1550 1351.7 L1554.4 1350.7 L1558.9 1349.8 L1563.7 1349.4 L1568.7 1347.9 L1574.2 1346.8 L1580.2 1346.6 L1586.9 1345.7 L1594.4 1345.6 L1602.2 1345.1 L1609.9 1344.9 L1617 1344.1 L1623.4 1343.8 L1629.4 1343.2 L1635.2 1342.1 L1640.8 1341.5 L1646.4 1340.8 L1651.8 1340.1 L1657.1 1340.4 L1662.3 1340.2 L1667.3 1339.8 L1672.1 1339.3 L1676.8 1339.1 L1681.4 1337.7 L1685.8 1336.8 L1690.1 1336 L1694.2 1335.3 L1698.1 1335.6 L1701.8 1335.7 L1705.4 1336.7 L1709 1337 L1712.6 1337.3 L1716.4 1336.6 L1720.5 1335 L1724.4 1333.7 L1728 1332.4 L1731 1331.8 L1733.2 1330.8 L1734.7 1330.5 L1735.9 1329.9 L1737 1329.2 L1738.3 1327.7 L1739.8 1325.3 L1741.3 1322.3 L1742.7 1318.9 L1744.2 1315.9 L1745.7 1313.2 L1747.1 1311.7 L1748.5 1310.4 L1749.8 1309.6 L1751.3 1308.5 L1753 1307.4 L1755.1 1307.1 L1757.4 1306.7 L1759.8 1306.2 L1762.1 1305.3 L1764.1 1304.1 L1765.8 1301.8 L1767.3 1299.9 L1768.7 1297.1 L1770 1294 L1771.4 1290.7 L1772.9 1288 L1774.4 1284.4 L1775.9 1280 L1777.3 1276.6 L1778.8 1272.6 L1780.2 1268.6 L1781.6 1264.8 L1783 1261.2 L1784.5 1257.7 L1786.1 1253.9 L1788 1251.5 L1790 1248.6 L1792.1 1246.9 L1794.1 1244.9 L1796.1 1244.2 L1797.9 1244 L1799.5 1244.1 L1801.2 1245.2 L1802.8 1245.8 L1804.5 1246.6 L1806.4 1247.7 L1808.3 1248.1 L1810.2 1249.1 L1812 1250.5 L1813.7 1252.5 L1815.4 1254.7 L1816.9 1257.7 L1818.4 1261.7 L1819.8 1265 L1821.1 1269.3 L1822.3 1273.2 L1823.3 1277 L1824.4 1281.4 L1825.4 1286.1 L1826.6 1291.1 L1828 1296.6 L1829.4 1302.7 L1830.9 1309 L1832.5 1315.2 L1834 1320.5 L1835.4 1325.5 L1836.7 1330.6 L1838.1 1334.9 L1839.6 1339 L1841.3 1342.9 L1843.2 1345.2 L1845.3 1347.1 L1847.5 1348.1 L1849.9 1349.5 L1852.4 1350.7 L1855.3 1351.1 L1858.7 1352.1 L1862.1 1352.5 L1865 1352.3 L1867.1 1352.8 L1867.1 1352.8Z" fill="#a8a8f6" fill-opacity="0.62" stroke="none"/>
<path d="M1532.5 1352.8 L1536 1352.8 L1536 1352.6 L1538.4 1352.7 L1541.7 1352.3 L1545.7 1352.1 L1550 1351.7 L1554.4 1350.7 L1558.9 1349.8 L1563.7 1349.4 L1568.7 1347.9 L1574.2 1346.8 L1580.2 1346.6 L1586.9 1345.7 L1594.4 1345.6 L1602.2 1345.1 L1609.9 1344.9 L1617 1344.1 L1623.4 1343.8 L1629.4 1343.2 L1635.2 1342.1 L1640.8 1341.5 L1646.4 1340.8 L1651.8 1340.1 L1657.1 1340.4 L1662.3 1340.2 L1667.3 1339.8 L1672.1 1339.3 L1676.8 1339.1 L1681.4 1337.7 L1685.8 1336.8 L1690.1 1336 L1694.2 1335.3 L1698.1 1335.6 L1701.8 1335.7 L1705.4 1336.7 L1709 1337 L1712.6 1337.3 L1716.4 1336.6 L1720.5 1335 L1724.4 1333.7 L1728 1332.4 L1731 1331.8 L1733.2 1330.8 L1734.7 1330.5 L1735.9 1329.9 L1737 1329.2 L1738.3 1327.7 L1739.8 1325.3 L1741.3 1322.3 L1742.7 1318.9 L1744.2 1315.9 L1745.7 1313.2 L1747.1 1311.7 L1748.5 1310.4 L1749.8 1309.6 L1751.3 1308.5 L1753 1307.4 L1755.1 1307.1 L1757.4 1306.7 L1759.8 1306.2 L1762.1 1305.3 L1764.1 1304.1 L1765.8 1301.8 L1767.3 1299.9 L1768.7 1297.1 L1770 1294 L1771.4 1290.7 L1772.9 1288 L1774.4 1284.4 L1775.9 1280 L1777.3 1276.6 L1778.8 1272.6 L1780.2 1268.6 L1781.6 1264.8 L1783 1261.2 L1784.5 1257.7 L1786.1 1253.9 L1788 1251.5 L1790 1248.6 L1792.1 1246.9 L1794.1 1244.9 L1796.1 1244.2 L1797.9 1244 L1799.5 1244.1 L1801.2 1245.2 L1802.8 1245.8 L1804.5 1246.6 L1806.4 1247.7 L1808.3 1248.1 L1810.2 1249.1 L1812 1250.5 L1813.7 1252.5 L1815.4 1254.7 L1816.9 1257.7 L1818.4 1261.7 L1819.8 1265 L1821.1 1269.3 L1822.3 1273.2 L1823.3 1277 L1824.4 1281.4 L1825.4 1286.1 L1826.6 1291.1 L1828 1296.6 L1829.4 1302.7 L1830.9 1309 L1832.5 1315.2 L1834 1320.5 L1835.4 1325.5 L1836.7 1330.6 L1838.1 1334.9 L1839.6 1339 L1841.3 1342.9 L1843.2 1345.2 L1845.3 1347.1 L1847.5 1348.1 L1849.9 1349.5 L1852.4 1350.7 L1855.3 1351.1 L1858.7 1352.1 L1862.1 1352.5 L1865 1352.3 L1867.1 1352.8 L1867.1 1352.8 L2141.6 1352.8" fill="none" stroke="#8484ee" stroke-width="1.3" stroke-opacity="0.85" stroke-linejoin="round"/><path d="M1554.4 1350.7 L1558.9 1349.8 L1563.7 1349.4 L1568.7 1347.9 L1574.2 1346.8 L1580.2 1346.6 L1586.9 1345.7 L1594.4 1345.6 L1602.2 1345.1 L1609.9 1344.9 L1617 1344.1 L1623.4 1343.8 L1629.4 1343.2 L1635.2 1342.1 L1640.8 1341.5 L1646.4 1340.8 L1651.8 1340.1 L1657.1 1340.4 L1662.3 1340.2 L1667.3 1339.8 L1672.1 1339.3 L1676.8 1339.1 L1681.4 1337.7 L1685.8 1336.8 L1690.1 1336 L1694.2 1335.3 L1698.1 1335.6 L1701.8 1335.7 L1705.4 1336.7 L1709 1337 L1712.6 1337.3 L1716.4 1336.6 L1720.5 1335 L1724.4 1333.7 L1728 1332.4 L1731 1331.8 L1733.2 1330.8 L1734.7 1330.5 L1735.9 1329.9 L1737 1329.2 L1738.3 1327.7 L1739.8 1325.3 L1741.3 1322.3 L1742.7 1318.9 L1744.2 1315.9 L1745.7 1313.2 L1747.1 1311.7 L1748.5 1310.4 L1749.8 1309.6 L1751.3 1308.5 L1753 1307.4 L1755.1 1307.1 L1757.4 1306.7 L1759.8 1306.2 L1762.1 1305.3 L1764.1 1304.1 L1765.8 1301.8 L1767.3 1299.9 L1768.7 1297.1 L1770 1294 L1771.4 1290.7 L1772.9 1288 L1774.4 1284.4 L1775.9 1280 L1777.3 1276.6 L1778.8 1272.6 L1780.2 1268.6 L1781.6 1264.8 L1783 1261.2 L1784.5 1257.7 L1786.1 1253.9 L1788 1251.5 L1790 1248.6 L1792.1 1246.9 L1794.1 1244.9 L1796.1 1244.2 L1797.9 1244 L1799.5 1244.1 L1801.2 1245.2 L1802.8 1245.8 L1804.5 1246.6 L1806.4 1247.7 L1808.3 1248.1 L1810.2 1249.1 L1812 1250.5 L1813.7 1252.5 L1815.4 1254.7 L1816.9 1257.7 L1818.4 1261.7 L1819.8 1265 L1821.1 1269.3 L1822.3 1273.2 L1823.3 1277 L1824.4 1281.4 L1825.4 1286.1 L1826.6 1291.1 L1828 1296.6 L1829.4 1302.7 L1830.9 1309 L1832.5 1315.2 L1834 1320.5 L1835.4 1325.5 L1836.7 1330.6 L1838.1 1334.9 L1839.6 1339 L1841.3 1342.9 L1843.2 1345.2 L1845.3 1347.1 L1847.5 1348.1 L1849.9 1349.5 L1852.4 1350.7 L1855.3 1351.1" fill="none" stroke="#8484ee" stroke-width="1.8" stroke-linejoin="round"/><path d="M1629.4 1343.2 L1635.2 1342.1 L1640.8 1341.5 L1646.4 1340.8 L1651.8 1340.1 L1657.1 1340.4 L1662.3 1340.2 L1667.3 1339.8 L1672.1 1339.3 L1676.8 1339.1 L1681.4 1337.7 L1685.8 1336.8 L1690.1 1336 L1694.2 1335.3 L1698.1 1335.6 L1701.8 1335.7 L1705.4 1336.7 L1709 1337 L1712.6 1337.3 L1716.4 1336.6 L1720.5 1335 L1724.4 1333.7 L1728 1332.4 L1731 1331.8 L1733.2 1330.8 L1734.7 1330.5 L1735.9 1329.9 L1737 1329.2 L1738.3 1327.7 L1739.8 1325.3 L1741.3 1322.3 L1742.7 1318.9 L1744.2 1315.9 L1745.7 1313.2 L1747.1 1311.7 L1748.5 1310.4 L1749.8 1309.6 L1751.3 1308.5 L1753 1307.4 L1755.1 1307.1 L1757.4 1306.7 L1759.8 1306.2 L1762.1 1305.3 L1764.1 1304.1 L1765.8 1301.8 L1767.3 1299.9 L1768.7 1297.1 L1770 1294 L1771.4 1290.7 L1772.9 1288 L1774.4 1284.4 L1775.9 1280 L1777.3 1276.6 L1778.8 1272.6 L1780.2 1268.6 L1781.6 1264.8 L1783 1261.2 L1784.5 1257.7 L1786.1 1253.9 L1788 1251.5 L1790 1248.6 L1792.1 1246.9 L1794.1 1244.9 L1796.1 1244.2 L1797.9 1244 L1799.5 1244.1 L1801.2 1245.2 L1802.8 1245.8 L1804.5 1246.6 L1806.4 1247.7 L1808.3 1248.1 L1810.2 1249.1 L1812 1250.5 L1813.7 1252.5 L1815.4 1254.7 L1816.9 1257.7 L1818.4 1261.7 L1819.8 1265 L1821.1 1269.3 L1822.3 1273.2 L1823.3 1277 L1824.4 1281.4 L1825.4 1286.1 L1826.6 1291.1 L1828 1296.6 L1829.4 1302.7 L1830.9 1309 L1832.5 1315.2 L1834 1320.5 L1835.4 1325.5 L1836.7 1330.6 L1838.1 1334.9 L1839.6 1339 L1841.3 1342.9" fill="none" stroke="#8484ee" stroke-width="2.8" stroke-linejoin="round" stroke-linecap="round"/>
<path d="M1609.6 1417.9 L1609.6 1417.7 L1619.2 1417.6 L1633.3 1417 L1649.1 1416.6 L1664.1 1416 L1675.8 1415.1 L1683.5 1414.5 L1688.8 1414.6 L1692.9 1413.8 L1696.8 1413.4 L1701.6 1413.5 L1707.3 1412.8 L1713.4 1412.7 L1719.6 1412.1 L1725.5 1412 L1731 1411.4 L1736 1411.7 L1740.7 1412 L1745.1 1411.8 L1749.2 1412 L1753 1411.8 L1756.5 1411 L1759.6 1411 L1762.5 1410.3 L1765.2 1409.4 L1767.8 1408.4 L1770.2 1408.2 L1772.4 1407 L1774.6 1406.2 L1776.6 1405.1 L1778.8 1403.4 L1781.1 1401.6 L1783.4 1399 L1785.7 1396.7 L1787.9 1393.6 L1789.8 1390.6 L1791.5 1386.9 L1793 1382.3 L1794.4 1377.8 L1795.8 1373.1 L1797.2 1368.6 L1798.7 1362.8 L1800.2 1356.9 L1801.7 1350.6 L1803.2 1344.6 L1804.5 1338.8 L1805.8 1333.1 L1806.9 1327.6 L1808 1322.2 L1809 1317.5 L1810.1 1313.2 L1811.1 1310 L1812 1307 L1813 1304.8 L1813.9 1303 L1814.8 1301.8 L1815.7 1302.3 L1816.6 1303 L1817.4 1304.3 L1818.3 1306.3 L1819.3 1309.6 L1820.3 1313.7 L1821.4 1319.8 L1822.5 1326.1 L1823.6 1332.5 L1824.8 1338.5 L1825.8 1345.1 L1826.9 1351.3 L1827.9 1356.7 L1829.1 1363.1 L1830.3 1368.2 L1831.6 1373 L1833.1 1377.8 L1834.6 1382.6 L1836.1 1386.8 L1837.6 1390 L1839.1 1393.9 L1840.4 1396.7 L1841.8 1400.1 L1843.3 1402.5 L1845 1405.3 L1846.9 1407.7 L1848.8 1409.4 L1850.9 1411.6 L1853.3 1412.7 L1856 1414 L1859.5 1415.5 L1863.7 1416 L1868 1416.8 L1871.8 1417.5 L1874.4 1417.9 L1874.4 1417.9Z" fill="#ea6a78" fill-opacity="0.62" stroke="none"/>
<path d="M1532.5 1417.9 L1609.6 1417.9 L1609.6 1417.7 L1619.2 1417.6 L1633.3 1417 L1649.1 1416.6 L1664.1 1416 L1675.8 1415.1 L1683.5 1414.5 L1688.8 1414.6 L1692.9 1413.8 L1696.8 1413.4 L1701.6 1413.5 L1707.3 1412.8 L1713.4 1412.7 L1719.6 1412.1 L1725.5 1412 L1731 1411.4 L1736 1411.7 L1740.7 1412 L1745.1 1411.8 L1749.2 1412 L1753 1411.8 L1756.5 1411 L1759.6 1411 L1762.5 1410.3 L1765.2 1409.4 L1767.8 1408.4 L1770.2 1408.2 L1772.4 1407 L1774.6 1406.2 L1776.6 1405.1 L1778.8 1403.4 L1781.1 1401.6 L1783.4 1399 L1785.7 1396.7 L1787.9 1393.6 L1789.8 1390.6 L1791.5 1386.9 L1793 1382.3 L1794.4 1377.8 L1795.8 1373.1 L1797.2 1368.6 L1798.7 1362.8 L1800.2 1356.9 L1801.7 1350.6 L1803.2 1344.6 L1804.5 1338.8 L1805.8 1333.1 L1806.9 1327.6 L1808 1322.2 L1809 1317.5 L1810.1 1313.2 L1811.1 1310 L1812 1307 L1813 1304.8 L1813.9 1303 L1814.8 1301.8 L1815.7 1302.3 L1816.6 1303 L1817.4 1304.3 L1818.3 1306.3 L1819.3 1309.6 L1820.3 1313.7 L1821.4 1319.8 L1822.5 1326.1 L1823.6 1332.5 L1824.8 1338.5 L1825.8 1345.1 L1826.9 1351.3 L1827.9 1356.7 L1829.1 1363.1 L1830.3 1368.2 L1831.6 1373 L1833.1 1377.8 L1834.6 1382.6 L1836.1 1386.8 L1837.6 1390 L1839.1 1393.9 L1840.4 1396.7 L1841.8 1400.1 L1843.3 1402.5 L1845 1405.3 L1846.9 1407.7 L1848.8 1409.4 L1850.9 1411.6 L1853.3 1412.7 L1856 1414 L1859.5 1415.5 L1863.7 1416 L1868 1416.8 L1871.8 1417.5 L1874.4 1417.9 L1874.4 1417.9 L2141.6 1417.9" fill="none" stroke="#e81e2a" stroke-width="1.3" stroke-opacity="0.85" stroke-linejoin="round"/><path d="M1649.1 1416.6 L1664.1 1416 L1675.8 1415.1 L1683.5 1414.5 L1688.8 1414.6 L1692.9 1413.8 L1696.8 1413.4 L1701.6 1413.5 L1707.3 1412.8 L1713.4 1412.7 L1719.6 1412.1 L1725.5 1412 L1731 1411.4 L1736 1411.7 L1740.7 1412 L1745.1 1411.8 L1749.2 1412 L1753 1411.8 L1756.5 1411 L1759.6 1411 L1762.5 1410.3 L1765.2 1409.4 L1767.8 1408.4 L1770.2 1408.2 L1772.4 1407 L1774.6 1406.2 L1776.6 1405.1 L1778.8 1403.4 L1781.1 1401.6 L1783.4 1399 L1785.7 1396.7 L1787.9 1393.6 L1789.8 1390.6 L1791.5 1386.9 L1793 1382.3 L1794.4 1377.8 L1795.8 1373.1 L1797.2 1368.6 L1798.7 1362.8 L1800.2 1356.9 L1801.7 1350.6 L1803.2 1344.6 L1804.5 1338.8 L1805.8 1333.1 L1806.9 1327.6 L1808 1322.2 L1809 1317.5 L1810.1 1313.2 L1811.1 1310 L1812 1307 L1813 1304.8 L1813.9 1303 L1814.8 1301.8 L1815.7 1302.3 L1816.6 1303 L1817.4 1304.3 L1818.3 1306.3 L1819.3 1309.6 L1820.3 1313.7 L1821.4 1319.8 L1822.5 1326.1 L1823.6 1332.5 L1824.8 1338.5 L1825.8 1345.1 L1826.9 1351.3 L1827.9 1356.7 L1829.1 1363.1 L1830.3 1368.2 L1831.6 1373 L1833.1 1377.8 L1834.6 1382.6 L1836.1 1386.8 L1837.6 1390 L1839.1 1393.9 L1840.4 1396.7 L1841.8 1400.1 L1843.3 1402.5 L1845 1405.3 L1846.9 1407.7 L1848.8 1409.4 L1850.9 1411.6 L1853.3 1412.7 L1856 1414 L1859.5 1415.5 L1863.7 1416" fill="none" stroke="#e81e2a" stroke-width="1.8" stroke-linejoin="round"/><path d="M1767.8 1408.4 L1770.2 1408.2 L1772.4 1407 L1774.6 1406.2 L1776.6 1405.1 L1778.8 1403.4 L1781.1 1401.6 L1783.4 1399 L1785.7 1396.7 L1787.9 1393.6 L1789.8 1390.6 L1791.5 1386.9 L1793 1382.3 L1794.4 1377.8 L1795.8 1373.1 L1797.2 1368.6 L1798.7 1362.8 L1800.2 1356.9 L1801.7 1350.6 L1803.2 1344.6 L1804.5 1338.8 L1805.8 1333.1 L1806.9 1327.6 L1808 1322.2 L1809 1317.5 L1810.1 1313.2 L1811.1 1310 L1812 1307 L1813 1304.8 L1813.9 1303 L1814.8 1301.8 L1815.7 1302.3 L1816.6 1303 L1817.4 1304.3 L1818.3 1306.3 L1819.3 1309.6 L1820.3 1313.7 L1821.4 1319.8 L1822.5 1326.1 L1823.6 1332.5 L1824.8 1338.5 L1825.8 1345.1 L1826.9 1351.3 L1827.9 1356.7 L1829.1 1363.1 L1830.3 1368.2 L1831.6 1373 L1833.1 1377.8 L1834.6 1382.6 L1836.1 1386.8 L1837.6 1390 L1839.1 1393.9 L1840.4 1396.7 L1841.8 1400.1 L1843.3 1402.5 L1845 1405.3 L1846.9 1407.7" fill="none" stroke="#e81e2a" stroke-width="3" stroke-linejoin="round" stroke-linecap="round"/>
<path d="M1694.2 1481.5 L1694.2 1481.4 L1697.1 1481.2 L1701.1 1480.5 L1705.8 1479.9 L1711 1479.3 L1716.3 1478.3 L1721.9 1477.9 L1728.2 1478.1 L1734.6 1477.4 L1740.6 1477.1 L1745.7 1477.1 L1749.6 1476.2 L1752.8 1475.9 L1755.5 1475 L1757.9 1474.3 L1760.4 1472.9 L1762.9 1471.9 L1765.3 1470.5 L1767.5 1468.5 L1769.5 1466.6 L1771.4 1464 L1773.1 1460.6 L1774.6 1457.7 L1776 1453.9 L1777.4 1449.7 L1778.8 1445.2 L1780.3 1441.1 L1781.7 1435.7 L1783.2 1430.6 L1784.7 1425.3 L1786.1 1419.9 L1787.6 1414.9 L1789.1 1409.2 L1790.6 1404.3 L1792 1398.9 L1793.5 1394.3 L1795 1389.5 L1796.5 1384.1 L1798 1379.6 L1799.5 1375.4 L1800.9 1372.3 L1802.2 1368.7 L1803.5 1366 L1804.8 1363.3 L1806 1361.8 L1807.1 1360.8 L1808.2 1360.9 L1809.1 1361.9 L1810 1363.5 L1810.9 1365.9 L1811.9 1368.4 L1813 1372 L1814.1 1376.1 L1815.2 1380.9 L1816.3 1385.6 L1817.4 1390.1 L1818.5 1395.5 L1819.6 1400.7 L1820.7 1405.9 L1821.8 1410.9 L1822.9 1416.2 L1824 1421.1 L1825 1426.8 L1826.1 1431.9 L1827.2 1436.8 L1828.4 1441.5 L1829.8 1446.9 L1831.2 1451.7 L1832.6 1455.6 L1834.2 1460.4 L1835.8 1463.8 L1837.4 1467 L1839.1 1470 L1840.8 1472.9 L1842.8 1475.2 L1845 1476.5 L1847.3 1478.3 L1849.6 1478.9 L1852.2 1480 L1855.5 1480.3 L1859.7 1481.1 L1865.7 1481.5 L1873.2 1481.4 L1881.1 1481.5 L1888 1481.4 L1892.8 1481.3 L1892.8 1481.5Z" fill="#4cf0f8" fill-opacity="0.62" stroke="none"/>
<path d="M1532.5 1481.5 L1694.2 1481.5 L1694.2 1481.4 L1697.1 1481.2 L1701.1 1480.5 L1705.8 1479.9 L1711 1479.3 L1716.3 1478.3 L1721.9 1477.9 L1728.2 1478.1 L1734.6 1477.4 L1740.6 1477.1 L1745.7 1477.1 L1749.6 1476.2 L1752.8 1475.9 L1755.5 1475 L1757.9 1474.3 L1760.4 1472.9 L1762.9 1471.9 L1765.3 1470.5 L1767.5 1468.5 L1769.5 1466.6 L1771.4 1464 L1773.1 1460.6 L1774.6 1457.7 L1776 1453.9 L1777.4 1449.7 L1778.8 1445.2 L1780.3 1441.1 L1781.7 1435.7 L1783.2 1430.6 L1784.7 1425.3 L1786.1 1419.9 L1787.6 1414.9 L1789.1 1409.2 L1790.6 1404.3 L1792 1398.9 L1793.5 1394.3 L1795 1389.5 L1796.5 1384.1 L1798 1379.6 L1799.5 1375.4 L1800.9 1372.3 L1802.2 1368.7 L1803.5 1366 L1804.8 1363.3 L1806 1361.8 L1807.1 1360.8 L1808.2 1360.9 L1809.1 1361.9 L1810 1363.5 L1810.9 1365.9 L1811.9 1368.4 L1813 1372 L1814.1 1376.1 L1815.2 1380.9 L1816.3 1385.6 L1817.4 1390.1 L1818.5 1395.5 L1819.6 1400.7 L1820.7 1405.9 L1821.8 1410.9 L1822.9 1416.2 L1824 1421.1 L1825 1426.8 L1826.1 1431.9 L1827.2 1436.8 L1828.4 1441.5 L1829.8 1446.9 L1831.2 1451.7 L1832.6 1455.6 L1834.2 1460.4 L1835.8 1463.8 L1837.4 1467 L1839.1 1470 L1840.8 1472.9 L1842.8 1475.2 L1845 1476.5 L1847.3 1478.3 L1849.6 1478.9 L1852.2 1480 L1855.5 1480.3 L1859.7 1481.1 L1865.7 1481.5 L1873.2 1481.4 L1881.1 1481.5 L1888 1481.4 L1892.8 1481.3 L1892.8 1481.5 L2141.6 1481.5" fill="none" stroke="#50d4ee" stroke-width="1.3" stroke-opacity="0.85" stroke-linejoin="round"/><path d="M1705.8 1479.9 L1711 1479.3 L1716.3 1478.3 L1721.9 1477.9 L1728.2 1478.1 L1734.6 1477.4 L1740.6 1477.1 L1745.7 1477.1 L1749.6 1476.2 L1752.8 1475.9 L1755.5 1475 L1757.9 1474.3 L1760.4 1472.9 L1762.9 1471.9 L1765.3 1470.5 L1767.5 1468.5 L1769.5 1466.6 L1771.4 1464 L1773.1 1460.6 L1774.6 1457.7 L1776 1453.9 L1777.4 1449.7 L1778.8 1445.2 L1780.3 1441.1 L1781.7 1435.7 L1783.2 1430.6 L1784.7 1425.3 L1786.1 1419.9 L1787.6 1414.9 L1789.1 1409.2 L1790.6 1404.3 L1792 1398.9 L1793.5 1394.3 L1795 1389.5 L1796.5 1384.1 L1798 1379.6 L1799.5 1375.4 L1800.9 1372.3 L1802.2 1368.7 L1803.5 1366 L1804.8 1363.3 L1806 1361.8 L1807.1 1360.8 L1808.2 1360.9 L1809.1 1361.9 L1810 1363.5 L1810.9 1365.9 L1811.9 1368.4 L1813 1372 L1814.1 1376.1 L1815.2 1380.9 L1816.3 1385.6 L1817.4 1390.1 L1818.5 1395.5 L1819.6 1400.7 L1820.7 1405.9 L1821.8 1410.9 L1822.9 1416.2 L1824 1421.1 L1825 1426.8 L1826.1 1431.9 L1827.2 1436.8 L1828.4 1441.5 L1829.8 1446.9 L1831.2 1451.7 L1832.6 1455.6 L1834.2 1460.4 L1835.8 1463.8 L1837.4 1467 L1839.1 1470 L1840.8 1472.9 L1842.8 1475.2 L1845 1476.5 L1847.3 1478.3 L1849.6 1478.9 L1852.2 1480 L1855.5 1480.3" fill="none" stroke="#50d4ee" stroke-width="1.8" stroke-linejoin="round"/><path d="M1762.9 1471.9 L1765.3 1470.5 L1767.5 1468.5 L1769.5 1466.6 L1771.4 1464 L1773.1 1460.6 L1774.6 1457.7 L1776 1453.9 L1777.4 1449.7 L1778.8 1445.2 L1780.3 1441.1 L1781.7 1435.7 L1783.2 1430.6 L1784.7 1425.3 L1786.1 1419.9 L1787.6 1414.9 L1789.1 1409.2 L1790.6 1404.3 L1792 1398.9 L1793.5 1394.3 L1795 1389.5 L1796.5 1384.1 L1798 1379.6 L1799.5 1375.4 L1800.9 1372.3 L1802.2 1368.7 L1803.5 1366 L1804.8 1363.3 L1806 1361.8 L1807.1 1360.8 L1808.2 1360.9 L1809.1 1361.9 L1810 1363.5 L1810.9 1365.9 L1811.9 1368.4 L1813 1372 L1814.1 1376.1 L1815.2 1380.9 L1816.3 1385.6 L1817.4 1390.1 L1818.5 1395.5 L1819.6 1400.7 L1820.7 1405.9 L1821.8 1410.9 L1822.9 1416.2 L1824 1421.1 L1825 1426.8 L1826.1 1431.9 L1827.2 1436.8 L1828.4 1441.5 L1829.8 1446.9 L1831.2 1451.7 L1832.6 1455.6 L1834.2 1460.4 L1835.8 1463.8 L1837.4 1467 L1839.1 1470" fill="none" stroke="#50d4ee" stroke-width="2.8" stroke-linejoin="round" stroke-linecap="round"/>
<path d="M1532.4 1545.1 L1532.4 1544.9 L1536.5 1545 L1542.5 1544.9 L1549.4 1544.9 L1556.1 1544.8 L1561.8 1544 L1565.8 1543.4 L1568.9 1543.2 L1571.8 1541.9 L1575.3 1541.1 L1580.2 1541 L1587 1540.2 L1595.1 1540.1 L1603.9 1539.6 L1612.7 1539.6 L1620.6 1539.3 L1627.7 1539.9 L1634.2 1540.5 L1640.6 1540.8 L1647 1541.4 L1653.7 1541.5 L1661.2 1541 L1669.1 1541.1 L1677 1540.6 L1684.3 1539.9 L1690.5 1539.2 L1695.3 1539.4 L1699 1538.7 L1702.2 1538.5 L1705.3 1538 L1708.9 1537.1 L1713.2 1536.2 L1717.8 1534.7 L1722.5 1533.6 L1727 1531.9 L1731 1530.6 L1734.4 1528.9 L1737.4 1526.6 L1740.2 1524.7 L1742.9 1522.8 L1745.7 1521.5 L1748.7 1519.4 L1751.8 1518 L1754.8 1516.2 L1757.7 1514.4 L1760.4 1511.9 L1762.9 1508.8 L1765.3 1505.5 L1767.5 1501.7 L1769.5 1497.9 L1771.4 1493.7 L1773.1 1489.6 L1774.6 1484.9 L1776 1480.3 L1777.4 1475.6 L1778.8 1471.3 L1780.3 1468.3 L1781.7 1465.4 L1783.2 1462.6 L1784.7 1459.7 L1786.1 1456.9 L1787.6 1453.6 L1789 1451.1 L1790.4 1448 L1791.9 1444.9 L1793.5 1441.8 L1795.4 1439 L1797.5 1435.5 L1799.6 1431.4 L1801.6 1429.1 L1803.4 1427.3 L1805 1427.1 L1806.4 1428.2 L1807.6 1430.4 L1808.9 1432.7 L1810.1 1434.4 L1811.2 1437.3 L1812.3 1439.9 L1813.3 1443.6 L1814.4 1446.5 L1815.6 1449.7 L1816.9 1452.1 L1818.4 1453.8 L1819.9 1456 L1821.4 1457.7 L1822.9 1460.2 L1824.4 1463.7 L1825.9 1467 L1827.3 1470.9 L1828.8 1475 L1830.3 1478.9 L1831.8 1482.3 L1833.2 1486.1 L1834.7 1490.4 L1836.2 1493.7 L1837.6 1497.6 L1839.1 1500.6 L1840.6 1503.1 L1842.1 1506 L1843.5 1508.8 L1845 1512.1 L1846.5 1515.6 L1847.9 1519.4 L1849.4 1523.4 L1850.9 1527.4 L1852.4 1530.3 L1853.7 1533.1 L1854.8 1535.8 L1856 1537.7 L1857.5 1539.6 L1859.7 1541.7 L1863 1542.7 L1867.2 1543.6 L1871.5 1543.9 L1875.4 1544.6 L1878.1 1545.1 L1878.1 1545.1Z" fill="#8cf27a" fill-opacity="0.62" stroke="none"/>
<path d="M1532.5 1545.1 L1532.4 1545.1 L1532.4 1544.9 L1536.5 1545 L1542.5 1544.9 L1549.4 1544.9 L1556.1 1544.8 L1561.8 1544 L1565.8 1543.4 L1568.9 1543.2 L1571.8 1541.9 L1575.3 1541.1 L1580.2 1541 L1587 1540.2 L1595.1 1540.1 L1603.9 1539.6 L1612.7 1539.6 L1620.6 1539.3 L1627.7 1539.9 L1634.2 1540.5 L1640.6 1540.8 L1647 1541.4 L1653.7 1541.5 L1661.2 1541 L1669.1 1541.1 L1677 1540.6 L1684.3 1539.9 L1690.5 1539.2 L1695.3 1539.4 L1699 1538.7 L1702.2 1538.5 L1705.3 1538 L1708.9 1537.1 L1713.2 1536.2 L1717.8 1534.7 L1722.5 1533.6 L1727 1531.9 L1731 1530.6 L1734.4 1528.9 L1737.4 1526.6 L1740.2 1524.7 L1742.9 1522.8 L1745.7 1521.5 L1748.7 1519.4 L1751.8 1518 L1754.8 1516.2 L1757.7 1514.4 L1760.4 1511.9 L1762.9 1508.8 L1765.3 1505.5 L1767.5 1501.7 L1769.5 1497.9 L1771.4 1493.7 L1773.1 1489.6 L1774.6 1484.9 L1776 1480.3 L1777.4 1475.6 L1778.8 1471.3 L1780.3 1468.3 L1781.7 1465.4 L1783.2 1462.6 L1784.7 1459.7 L1786.1 1456.9 L1787.6 1453.6 L1789 1451.1 L1790.4 1448 L1791.9 1444.9 L1793.5 1441.8 L1795.4 1439 L1797.5 1435.5 L1799.6 1431.4 L1801.6 1429.1 L1803.4 1427.3 L1805 1427.1 L1806.4 1428.2 L1807.6 1430.4 L1808.9 1432.7 L1810.1 1434.4 L1811.2 1437.3 L1812.3 1439.9 L1813.3 1443.6 L1814.4 1446.5 L1815.6 1449.7 L1816.9 1452.1 L1818.4 1453.8 L1819.9 1456 L1821.4 1457.7 L1822.9 1460.2 L1824.4 1463.7 L1825.9 1467 L1827.3 1470.9 L1828.8 1475 L1830.3 1478.9 L1831.8 1482.3 L1833.2 1486.1 L1834.7 1490.4 L1836.2 1493.7 L1837.6 1497.6 L1839.1 1500.6 L1840.6 1503.1 L1842.1 1506 L1843.5 1508.8 L1845 1512.1 L1846.5 1515.6 L1847.9 1519.4 L1849.4 1523.4 L1850.9 1527.4 L1852.4 1530.3 L1853.7 1533.1 L1854.8 1535.8 L1856 1537.7 L1857.5 1539.6 L1859.7 1541.7 L1863 1542.7 L1867.2 1543.6 L1871.5 1543.9 L1875.4 1544.6 L1878.1 1545.1 L1878.1 1545.1 L2141.6 1545.1" fill="none" stroke="#3ce41e" stroke-width="1.3" stroke-opacity="0.85" stroke-linejoin="round"/><path d="M1565.8 1543.4 L1568.9 1543.2 L1571.8 1541.9 L1575.3 1541.1 L1580.2 1541 L1587 1540.2 L1595.1 1540.1 L1603.9 1539.6 L1612.7 1539.6 L1620.6 1539.3 L1627.7 1539.9 L1634.2 1540.5 L1640.6 1540.8 L1647 1541.4 L1653.7 1541.5 L1661.2 1541 L1669.1 1541.1 L1677 1540.6 L1684.3 1539.9 L1690.5 1539.2 L1695.3 1539.4 L1699 1538.7 L1702.2 1538.5 L1705.3 1538 L1708.9 1537.1 L1713.2 1536.2 L1717.8 1534.7 L1722.5 1533.6 L1727 1531.9 L1731 1530.6 L1734.4 1528.9 L1737.4 1526.6 L1740.2 1524.7 L1742.9 1522.8 L1745.7 1521.5 L1748.7 1519.4 L1751.8 1518 L1754.8 1516.2 L1757.7 1514.4 L1760.4 1511.9 L1762.9 1508.8 L1765.3 1505.5 L1767.5 1501.7 L1769.5 1497.9 L1771.4 1493.7 L1773.1 1489.6 L1774.6 1484.9 L1776 1480.3 L1777.4 1475.6 L1778.8 1471.3 L1780.3 1468.3 L1781.7 1465.4 L1783.2 1462.6 L1784.7 1459.7 L1786.1 1456.9 L1787.6 1453.6 L1789 1451.1 L1790.4 1448 L1791.9 1444.9 L1793.5 1441.8 L1795.4 1439 L1797.5 1435.5 L1799.6 1431.4 L1801.6 1429.1 L1803.4 1427.3 L1805 1427.1 L1806.4 1428.2 L1807.6 1430.4 L1808.9 1432.7 L1810.1 1434.4 L1811.2 1437.3 L1812.3 1439.9 L1813.3 1443.6 L1814.4 1446.5 L1815.6 1449.7 L1816.9 1452.1 L1818.4 1453.8 L1819.9 1456 L1821.4 1457.7 L1822.9 1460.2 L1824.4 1463.7 L1825.9 1467 L1827.3 1470.9 L1828.8 1475 L1830.3 1478.9 L1831.8 1482.3 L1833.2 1486.1 L1834.7 1490.4 L1836.2 1493.7 L1837.6 1497.6 L1839.1 1500.6 L1840.6 1503.1 L1842.1 1506 L1843.5 1508.8 L1845 1512.1 L1846.5 1515.6 L1847.9 1519.4 L1849.4 1523.4 L1850.9 1527.4 L1852.4 1530.3 L1853.7 1533.1 L1854.8 1535.8 L1856 1537.7 L1857.5 1539.6 L1859.7 1541.7 L1863 1542.7 L1867.2 1543.6 L1871.5 1543.9" fill="none" stroke="#3ce41e" stroke-width="1.8" stroke-linejoin="round"/><path d="M1717.8 1534.7 L1722.5 1533.6 L1727 1531.9 L1731 1530.6 L1734.4 1528.9 L1737.4 1526.6 L1740.2 1524.7 L1742.9 1522.8 L1745.7 1521.5 L1748.7 1519.4 L1751.8 1518 L1754.8 1516.2 L1757.7 1514.4 L1760.4 1511.9 L1762.9 1508.8 L1765.3 1505.5 L1767.5 1501.7 L1769.5 1497.9 L1771.4 1493.7 L1773.1 1489.6 L1774.6 1484.9 L1776 1480.3 L1777.4 1475.6 L1778.8 1471.3 L1780.3 1468.3 L1781.7 1465.4 L1783.2 1462.6 L1784.7 1459.7 L1786.1 1456.9 L1787.6 1453.6 L1789 1451.1 L1790.4 1448 L1791.9 1444.9 L1793.5 1441.8 L1795.4 1439 L1797.5 1435.5 L1799.6 1431.4 L1801.6 1429.1 L1803.4 1427.3 L1805 1427.1 L1806.4 1428.2 L1807.6 1430.4 L1808.9 1432.7 L1810.1 1434.4 L1811.2 1437.3 L1812.3 1439.9 L1813.3 1443.6 L1814.4 1446.5 L1815.6 1449.7 L1816.9 1452.1 L1818.4 1453.8 L1819.9 1456 L1821.4 1457.7 L1822.9 1460.2 L1824.4 1463.7 L1825.9 1467 L1827.3 1470.9 L1828.8 1475 L1830.3 1478.9 L1831.8 1482.3 L1833.2 1486.1 L1834.7 1490.4 L1836.2 1493.7 L1837.6 1497.6 L1839.1 1500.6 L1840.6 1503.1 L1842.1 1506 L1843.5 1508.8 L1845 1512.1 L1846.5 1515.6 L1847.9 1519.4 L1849.4 1523.4 L1850.9 1527.4 L1852.4 1530.3 L1853.7 1533.1 L1854.8 1535.8" fill="none" stroke="#3ce41e" stroke-width="2.8" stroke-linejoin="round" stroke-linecap="round"/>
<path d="M1664.8 1608.5 L1664.8 1608.5 L1666.8 1607.7 L1669.6 1606.3 L1672.9 1604.8 L1676.3 1602.8 L1679.5 1599.9 L1682.5 1596.9 L1685.5 1594 L1688.6 1589.8 L1691.5 1585.7 L1694.2 1582.2 L1696.6 1577.6 L1698.9 1573.5 L1701 1568.8 L1703.1 1564.3 L1705.2 1559.5 L1707.5 1555.5 L1709.7 1551.2 L1712 1546.5 L1714.2 1542.3 L1716.3 1537.8 L1718.3 1532.8 L1720.2 1528.4 L1722.1 1523.5 L1723.8 1519 L1725.5 1515.3 L1726.9 1513.1 L1728.2 1510.6 L1729.3 1509.1 L1730.5 1508.1 L1731.7 1507.3 L1733 1507.4 L1734.3 1507.7 L1735.6 1509 L1737 1510.2 L1738.3 1512.3 L1739.8 1514.2 L1741.2 1516.1 L1742.7 1518.8 L1744.2 1521.7 L1745.7 1525.2 L1747.2 1527.8 L1748.6 1531 L1750.1 1534 L1751.6 1537.7 L1753 1541.3 L1754.5 1545.4 L1756 1550 L1757.5 1554.7 L1758.9 1559.5 L1760.4 1563.6 L1761.8 1567.7 L1763.3 1571.3 L1764.7 1575 L1766.2 1578.3 L1767.8 1581.6 L1769.4 1585.9 L1771.1 1590 L1772.9 1593.9 L1774.9 1597.2 L1777 1600.4 L1779.5 1602.5 L1782.5 1605 L1785.4 1606.4 L1788 1607.5 L1789.8 1608.4 L1789.8 1608.5Z" fill="#5ccab6" fill-opacity="0.62" stroke="none"/>
<path d="M1532.5 1608.5 L1664.8 1608.5 L1664.8 1608.5 L1666.8 1607.7 L1669.6 1606.3 L1672.9 1604.8 L1676.3 1602.8 L1679.5 1599.9 L1682.5 1596.9 L1685.5 1594 L1688.6 1589.8 L1691.5 1585.7 L1694.2 1582.2 L1696.6 1577.6 L1698.9 1573.5 L1701 1568.8 L1703.1 1564.3 L1705.2 1559.5 L1707.5 1555.5 L1709.7 1551.2 L1712 1546.5 L1714.2 1542.3 L1716.3 1537.8 L1718.3 1532.8 L1720.2 1528.4 L1722.1 1523.5 L1723.8 1519 L1725.5 1515.3 L1726.9 1513.1 L1728.2 1510.6 L1729.3 1509.1 L1730.5 1508.1 L1731.7 1507.3 L1733 1507.4 L1734.3 1507.7 L1735.6 1509 L1737 1510.2 L1738.3 1512.3 L1739.8 1514.2 L1741.2 1516.1 L1742.7 1518.8 L1744.2 1521.7 L1745.7 1525.2 L1747.2 1527.8 L1748.6 1531 L1750.1 1534 L1751.6 1537.7 L1753 1541.3 L1754.5 1545.4 L1756 1550 L1757.5 1554.7 L1758.9 1559.5 L1760.4 1563.6 L1761.8 1567.7 L1763.3 1571.3 L1764.7 1575 L1766.2 1578.3 L1767.8 1581.6 L1769.4 1585.9 L1771.1 1590 L1772.9 1593.9 L1774.9 1597.2 L1777 1600.4 L1779.5 1602.5 L1782.5 1605 L1785.4 1606.4 L1788 1607.5 L1789.8 1608.4 L1789.8 1608.5 L2141.6 1608.5" fill="none" stroke="#338a80" stroke-width="1.3" stroke-opacity="0.85" stroke-linejoin="round"/><path d="M1669.6 1606.3 L1672.9 1604.8 L1676.3 1602.8 L1679.5 1599.9 L1682.5 1596.9 L1685.5 1594 L1688.6 1589.8 L1691.5 1585.7 L1694.2 1582.2 L1696.6 1577.6 L1698.9 1573.5 L1701 1568.8 L1703.1 1564.3 L1705.2 1559.5 L1707.5 1555.5 L1709.7 1551.2 L1712 1546.5 L1714.2 1542.3 L1716.3 1537.8 L1718.3 1532.8 L1720.2 1528.4 L1722.1 1523.5 L1723.8 1519 L1725.5 1515.3 L1726.9 1513.1 L1728.2 1510.6 L1729.3 1509.1 L1730.5 1508.1 L1731.7 1507.3 L1733 1507.4 L1734.3 1507.7 L1735.6 1509 L1737 1510.2 L1738.3 1512.3 L1739.8 1514.2 L1741.2 1516.1 L1742.7 1518.8 L1744.2 1521.7 L1745.7 1525.2 L1747.2 1527.8 L1748.6 1531 L1750.1 1534 L1751.6 1537.7 L1753 1541.3 L1754.5 1545.4 L1756 1550 L1757.5 1554.7 L1758.9 1559.5 L1760.4 1563.6 L1761.8 1567.7 L1763.3 1571.3 L1764.7 1575 L1766.2 1578.3 L1767.8 1581.6 L1769.4 1585.9 L1771.1 1590 L1772.9 1593.9 L1774.9 1597.2 L1777 1600.4 L1779.5 1602.5 L1782.5 1605 L1785.4 1606.4" fill="none" stroke="#338a80" stroke-width="1.8" stroke-linejoin="round"/><path d="M1682.5 1596.9 L1685.5 1594 L1688.6 1589.8 L1691.5 1585.7 L1694.2 1582.2 L1696.6 1577.6 L1698.9 1573.5 L1701 1568.8 L1703.1 1564.3 L1705.2 1559.5 L1707.5 1555.5 L1709.7 1551.2 L1712 1546.5 L1714.2 1542.3 L1716.3 1537.8 L1718.3 1532.8 L1720.2 1528.4 L1722.1 1523.5 L1723.8 1519 L1725.5 1515.3 L1726.9 1513.1 L1728.2 1510.6 L1729.3 1509.1 L1730.5 1508.1 L1731.7 1507.3 L1733 1507.4 L1734.3 1507.7 L1735.6 1509 L1737 1510.2 L1738.3 1512.3 L1739.8 1514.2 L1741.2 1516.1 L1742.7 1518.8 L1744.2 1521.7 L1745.7 1525.2 L1747.2 1527.8 L1748.6 1531 L1750.1 1534 L1751.6 1537.7 L1753 1541.3 L1754.5 1545.4 L1756 1550 L1757.5 1554.7 L1758.9 1559.5 L1760.4 1563.6 L1761.8 1567.7 L1763.3 1571.3 L1764.7 1575 L1766.2 1578.3 L1767.8 1581.6 L1769.4 1585.9 L1771.1 1590 L1772.9 1593.9 L1774.9 1597.2" fill="none" stroke="#338a80" stroke-width="3" stroke-linejoin="round" stroke-linecap="round"/>
<rect x="1532.5" y="1021.6" width="609.1" height="586.9" fill="none" stroke="#333" stroke-width="1.8"/>
<text x="1914.2" y="1135.6" font-size="22" fill="#000" textLength="217.7" lengthAdjust="spacingAndGlyphs" stroke="#000" stroke-width="0.45">FK228  + TGFβ + IFNβ</text>
<text x="2073.8" y="1201.8" font-size="22" fill="#000" textLength="54.4" lengthAdjust="spacingAndGlyphs" stroke="#000" stroke-width="0.45">IFN-β</text>
<text x="1903.9" y="1265.9" font-size="22" fill="#000" textLength="228" lengthAdjust="spacingAndGlyphs" stroke="#000" stroke-width="0.45">FK228 + TGF-β + IFN-β</text>
<text x="1995.8" y="1334.4" font-size="22" fill="#000" textLength="139.8" lengthAdjust="spacingAndGlyphs" stroke="#000" stroke-width="0.45">TGF-β + IFN-β</text>
<text x="2052.8" y="1400.6" font-size="22" fill="#000" textLength="60" lengthAdjust="spacingAndGlyphs" stroke="#000" stroke-width="0.45">TGF-β</text>
<text x="2055.4" y="1457.7" font-size="22" fill="#000" textLength="62.5" lengthAdjust="spacingAndGlyphs" stroke="#000" stroke-width="0.45">FK228</text>
<text x="2043.6" y="1521.1" font-size="22" fill="#000" textLength="73.6" lengthAdjust="spacingAndGlyphs" stroke="#000" stroke-width="0.45">Unstim</text>
<text x="2054.7" y="1585.5" font-size="22" fill="#000" textLength="49.6" lengthAdjust="spacingAndGlyphs" stroke="#000" stroke-width="0.45">FMO</text>
<line x1="1597.2" y1="1608.5" x2="1597.2" y2="1619.9" stroke="#111" stroke-width="2.8"/>
<line x1="1782.3" y1="1608.5" x2="1782.3" y2="1619.9" stroke="#111" stroke-width="2.8"/>
<line x1="1881.4" y1="1608.5" x2="1881.4" y2="1619.9" stroke="#111" stroke-width="2.8"/>
<line x1="1971.2" y1="1608.5" x2="1971.2" y2="1619.9" stroke="#111" stroke-width="2.8"/>
<line x1="2059" y1="1608.5" x2="2059" y2="1619.9" stroke="#111" stroke-width="2.8"/>
<line x1="1581.7" y1="1608.5" x2="1581.7" y2="1613.5" stroke="#111" stroke-width="1.4"/>
<line x1="1563.2" y1="1608.5" x2="1563.2" y2="1613.5" stroke="#111" stroke-width="1.4"/>
<line x1="1541.2" y1="1608.5" x2="1541.2" y2="1613.5" stroke="#111" stroke-width="1.4"/>
<line x1="1602.9" y1="1608.5" x2="1602.9" y2="1613.5" stroke="#111" stroke-width="1.4"/>
<line x1="1609.2" y1="1608.5" x2="1609.2" y2="1613.5" stroke="#111" stroke-width="1.4"/>
<line x1="1613.5" y1="1608.5" x2="1613.5" y2="1613.5" stroke="#111" stroke-width="1.4"/>
<line x1="1622.3" y1="1608.5" x2="1622.3" y2="1613.5" stroke="#111" stroke-width="1.4"/>
<line x1="1629.9" y1="1608.5" x2="1629.9" y2="1616.8" stroke="#111" stroke-width="1.4"/>
<line x1="1640.5" y1="1608.5" x2="1640.5" y2="1613.5" stroke="#111" stroke-width="1.4"/>
<line x1="1651.2" y1="1608.5" x2="1651.2" y2="1613.5" stroke="#111" stroke-width="1.4"/>
<line x1="1661.9" y1="1608.5" x2="1661.9" y2="1613.5" stroke="#111" stroke-width="1.4"/>
<rect x="1675" y="1608.5" width="29.8" height="3.6" fill="#111"/>
<rect x="1675" y="1608.5" width="3.7" height="11.4" fill="#111"/>
<rect x="1681" y="1608.5" width="1.5" height="7.6" fill="#111"/>
<rect x="1683.6" y="1608.5" width="1.2" height="7.6" fill="#111"/>
<rect x="1687.7" y="1608.5" width="5.5" height="11.4" fill="#111"/>
<rect x="1695.3" y="1608.5" width="1.2" height="7.6" fill="#111"/>
<rect x="1697.9" y="1608.5" width="0.9" height="7.6" fill="#111"/>
<rect x="1701.7" y="1608.5" width="3.1" height="11.4" fill="#111"/>
<line x1="1716.7" y1="1608.5" x2="1716.7" y2="1613.5" stroke="#111" stroke-width="1.4"/>
<line x1="1728.5" y1="1608.5" x2="1728.5" y2="1613.5" stroke="#111" stroke-width="1.4"/>
<line x1="1741.1" y1="1608.5" x2="1741.1" y2="1613.5" stroke="#111" stroke-width="1.4"/>
<line x1="1749.8" y1="1608.5" x2="1749.8" y2="1616.8" stroke="#111" stroke-width="1.4"/>
<line x1="1758.6" y1="1608.5" x2="1758.6" y2="1613.5" stroke="#111" stroke-width="1.4"/>
<line x1="1764.8" y1="1608.5" x2="1764.8" y2="1613.5" stroke="#111" stroke-width="1.4"/>
<line x1="1772.3" y1="1608.5" x2="1772.3" y2="1613.5" stroke="#111" stroke-width="1.4"/>
<line x1="1777.3" y1="1608.5" x2="1777.3" y2="1613.5" stroke="#111" stroke-width="1.4"/>
<line x1="1812.1" y1="1608.5" x2="1812.1" y2="1613.5" stroke="#111" stroke-width="1.4"/>
<line x1="1829.6" y1="1608.5" x2="1829.6" y2="1613.5" stroke="#111" stroke-width="1.4"/>
<line x1="1842" y1="1608.5" x2="1842" y2="1613.5" stroke="#111" stroke-width="1.4"/>
<line x1="1851.6" y1="1608.5" x2="1851.6" y2="1616.8" stroke="#111" stroke-width="1.4"/>
<line x1="1859.4" y1="1608.5" x2="1859.4" y2="1613.5" stroke="#111" stroke-width="1.4"/>
<line x1="1866" y1="1608.5" x2="1866" y2="1613.5" stroke="#111" stroke-width="1.4"/>
<line x1="1871.8" y1="1608.5" x2="1871.8" y2="1613.5" stroke="#111" stroke-width="1.4"/>
<line x1="1876.9" y1="1608.5" x2="1876.9" y2="1613.5" stroke="#111" stroke-width="1.4"/>
<line x1="1908.4" y1="1608.5" x2="1908.4" y2="1613.5" stroke="#111" stroke-width="1.4"/>
<line x1="1924.2" y1="1608.5" x2="1924.2" y2="1613.5" stroke="#111" stroke-width="1.4"/>
<line x1="1935.5" y1="1608.5" x2="1935.5" y2="1613.5" stroke="#111" stroke-width="1.4"/>
<line x1="1944.2" y1="1608.5" x2="1944.2" y2="1616.8" stroke="#111" stroke-width="1.4"/>
<line x1="1951.3" y1="1608.5" x2="1951.3" y2="1613.5" stroke="#111" stroke-width="1.4"/>
<line x1="1957.3" y1="1608.5" x2="1957.3" y2="1613.5" stroke="#111" stroke-width="1.4"/>
<line x1="1962.5" y1="1608.5" x2="1962.5" y2="1613.5" stroke="#111" stroke-width="1.4"/>
<line x1="1967.1" y1="1608.5" x2="1967.1" y2="1613.5" stroke="#111" stroke-width="1.4"/>
<line x1="1997.6" y1="1608.5" x2="1997.6" y2="1613.5" stroke="#111" stroke-width="1.4"/>
<line x1="2013.1" y1="1608.5" x2="2013.1" y2="1613.5" stroke="#111" stroke-width="1.4"/>
<line x1="2024.1" y1="1608.5" x2="2024.1" y2="1613.5" stroke="#111" stroke-width="1.4"/>
<line x1="2032.6" y1="1608.5" x2="2032.6" y2="1616.8" stroke="#111" stroke-width="1.4"/>
<line x1="2039.5" y1="1608.5" x2="2039.5" y2="1613.5" stroke="#111" stroke-width="1.4"/>
<line x1="2045.4" y1="1608.5" x2="2045.4" y2="1613.5" stroke="#111" stroke-width="1.4"/>
<line x1="2050.5" y1="1608.5" x2="2050.5" y2="1613.5" stroke="#111" stroke-width="1.4"/>
<line x1="2055" y1="1608.5" x2="2055" y2="1613.5" stroke="#111" stroke-width="1.4"/>
<line x1="2085.4" y1="1608.5" x2="2085.4" y2="1613.5" stroke="#111" stroke-width="1.4"/>
<line x1="2100.9" y1="1608.5" x2="2100.9" y2="1613.5" stroke="#111" stroke-width="1.4"/>
<line x1="2111.9" y1="1608.5" x2="2111.9" y2="1613.5" stroke="#111" stroke-width="1.4"/>
<line x1="2120.4" y1="1608.5" x2="2120.4" y2="1616.8" stroke="#111" stroke-width="1.4"/>
<line x1="2127.3" y1="1608.5" x2="2127.3" y2="1613.5" stroke="#111" stroke-width="1.4"/>
<line x1="2133.2" y1="1608.5" x2="2133.2" y2="1613.5" stroke="#111" stroke-width="1.4"/>
<line x1="2138.3" y1="1608.5" x2="2138.3" y2="1613.5" stroke="#111" stroke-width="1.4"/><text x="1593.2" y="1646" font-size="14.8" font-family='"DejaVu Sans", "Liberation Sans", sans-serif' fill="#000" textLength="27.5" lengthAdjust="spacingAndGlyphs">-10</text>
<text x="1624.4" y="1635.2" font-size="14.8" font-family='"DejaVu Sans", "Liberation Sans", sans-serif' fill="#000">3</text>
<text x="1694.5" y="1646" font-size="14.8" font-family='"DejaVu Sans", "Liberation Sans", sans-serif' fill="#000">0</text>
<text x="1781.8" y="1646" font-size="14.8" font-family='"DejaVu Sans", "Liberation Sans", sans-serif' fill="#000" textLength="18.6" lengthAdjust="spacingAndGlyphs">10</text>
<text x="1803.6" y="1635.2" font-size="14.8" font-family='"DejaVu Sans", "Liberation Sans", sans-serif' fill="#000">3</text>
<text x="1880.9" y="1646" font-size="14.8" font-family='"DejaVu Sans", "Liberation Sans", sans-serif' fill="#000" textLength="18.6" lengthAdjust="spacingAndGlyphs">10</text>
<text x="1902.7" y="1635.2" font-size="14.8" font-family='"DejaVu Sans", "Liberation Sans", sans-serif' fill="#000">4</text>
<text x="1970.7" y="1646" font-size="14.8" font-family='"DejaVu Sans", "Liberation Sans", sans-serif' fill="#000" textLength="18.6" lengthAdjust="spacingAndGlyphs">10</text>
<text x="1992.5" y="1635.2" font-size="14.8" font-family='"DejaVu Sans", "Liberation Sans", sans-serif' fill="#000">5</text>
<text x="2058.5" y="1646" font-size="14.8" font-family='"DejaVu Sans", "Liberation Sans", sans-serif' fill="#000" textLength="18.6" lengthAdjust="spacingAndGlyphs">10</text>
<text x="2080.3" y="1635.2" font-size="14.8" font-family='"DejaVu Sans", "Liberation Sans", sans-serif' fill="#000">6</text><text x="1740.5" y="1683.9" font-size="18" font-family='"DejaVu Sans", "Liberation Sans", sans-serif' fill="#000" textLength="183.9" lengthAdjust="spacingAndGlyphs">FJComp–PE–A :: IRF1</text>
<path d="M142.2 318.1 L142.2 35.3 L568.8 35.3 L568.8 318.1" fill="none" stroke="#222" stroke-width="1.8"/>
<path d="M207.6 318.1 L207.6 317.1 L219.1 313.4 L234.5 307.8 L244.1 303.1 L253.4 296.4 L265.1 287.5 L273.9 275.1 L281.9 266.8 L290.8 253.6 L299.6 242.5 L306.2 226.9 L310.8 212 L316.3 199.4 L319 187.6 L321.6 174.7 L325.3 157.6 L327.9 139 L329.8 126 L331.6 114.7 L335.3 109.9 L337.7 103 L340.3 93.5 L344.1 85.6 L348.7 81.9 L351.9 78.8 L354.2 79.9 L353.8 75.7 L358.6 64.5 L361.3 53 L361.2 52.2 L364.7 55.2 L364.8 65.1 L369 77.3 L370.8 83.1 L374.7 88.2 L379.2 91.9 L381 97.1 L382.5 106.5 L385.1 118.4 L388.8 134.5 L393.1 153.4 L398.8 175.7 L401.1 196.7 L404.7 214 L410.2 232.1 L412.1 249.2 L416.4 262 L422.7 277 L426.9 289.9 L431.4 304.7 L437.1 314.8 L444.6 317.1 L450.7 317.1 L450.7 318.1Z" fill="#c896ff" fill-opacity="1.0"/>
<path d="M186.9 318.1 L186.9 317.1 L193.8 311.9 L202.8 303.1 L207.9 297.9 L214.8 292.1 L222.3 281 L228.4 268.4 L234.2 252.4 L240.4 238.1 L244.4 224.6 L247.9 211.6 L252.6 198.1 L257.5 183.7 L258.6 171.9 L261.9 152.9 L264.3 133.3 L263.6 112.5 L266.6 107.2 L271.3 104 L274.8 91.9 L276.6 82.7 L279.3 78.6 L281.5 76.5 L282.7 65.9 L285.7 59.9 L290.1 56 L292.6 55.5 L296.3 60.4 L297.2 62.8 L298.9 60.4 L301.4 58.4 L303.1 67.2 L308.3 76.6 L311.8 83.8 L315.9 92.9 L318.2 103.5 L320.6 115.9 L320.8 125.7 L322.3 136.4 L324.4 141.9 L328.4 148.3 L332.9 163.3 L336.9 178.8 L340 195.2 L344.3 210.1 L349 229.2 L351.2 244 L358.1 260.3 L362.1 274.2 L366.8 288.7 L374.3 300.5 L378.1 305.8 L383 314 L391.4 316.4 L396.4 317.1 L396.4 318.1Z" fill="#808080" fill-opacity="0.32"/>
<path d="M186.9 317.1 L193.8 311.9 L202.8 303.1 L207.9 297.9 L214.8 292.1 L222.3 281 L228.4 268.4 L234.2 252.4 L240.4 238.1 L244.4 224.6 L247.9 211.6 L252.6 198.1 L257.5 183.7 L258.6 171.9 L261.9 152.9 L264.3 133.3 L263.6 112.5 L266.6 107.2 L271.3 104 L274.8 91.9 L276.6 82.7 L279.3 78.6 L281.5 76.5 L282.7 65.9 L285.7 59.9 L290.1 56 L292.6 55.5 L296.3 60.4 L297.2 62.8 L298.9 60.4 L301.4 58.4 L303.1 67.2 L308.3 76.6 L311.8 83.8 L315.9 92.9 L318.2 103.5 L320.6 115.9 L320.8 125.7 L322.3 136.4 L324.4 141.9 L328.4 148.3 L332.9 163.3 L336.9 178.8 L340 195.2 L344.3 210.1 L349 229.2 L351.2 244 L358.1 260.3 L362.1 274.2 L366.8 288.7 L374.3 300.5 L378.1 305.8 L383 314 L391.4 316.4 L396.4 317.1" fill="none" stroke="#959595" stroke-width="2.2" stroke-linejoin="round"/>
<path d="M207.6 317.1 L219.1 313.4 L234.5 307.8 L244.1 303.1 L253.4 296.4 L265.1 287.5 L273.9 275.1 L281.9 266.8 L290.8 253.6 L299.6 242.5 L306.2 226.9 L310.8 212 L316.3 199.4 L319 187.6 L321.6 174.7 L325.3 157.6 L327.9 139 L329.8 126 L331.6 114.7 L335.3 109.9 L337.7 103 L340.3 93.5 L344.1 85.6 L348.7 81.9 L351.9 78.8 L354.2 79.9 L353.8 75.7 L358.6 64.5 L361.3 53 L361.2 52.2 L364.7 55.2 L364.8 65.1 L369 77.3 L370.8 83.1 L374.7 88.2 L379.2 91.9 L381 97.1 L382.5 106.5 L385.1 118.4 L388.8 134.5 L393.1 153.4 L398.8 175.7 L401.1 196.7 L404.7 214 L410.2 232.1 L412.1 249.2 L416.4 262 L422.7 277 L426.9 289.9 L431.4 304.7 L437.1 314.8 L444.6 317.1 L450.7 317.1" fill="none" stroke="#8216f0" stroke-width="2.2" stroke-linejoin="round"/>
<path d="M194.7 317.1 L203.3 314.4 L215.8 310.4 L224 304.1 L232.6 298.1 L242.3 288.2 L249 277.4 L254 268 L260.1 257.9 L263.5 244.6 L268.8 232.8 L274.4 216.5 L278.2 201.4 L282.5 192.8 L284.6 186.2 L287.9 178.2 L290.5 169.4 L292.6 161.7 L295.1 153 L298.7 147.9 L301.9 139.2 L304.7 126.6 L307.6 113.3 L310.9 101.6 L312.9 94.7 L316.7 90 L321.6 86.6 L324.4 84 L328.5 78.3 L332.5 65 L335.9 54.9 L340.1 58.8 L341.2 70.1 L341.5 75.9 L345.4 85.3 L347.5 87.2 L349.6 93.2 L353.3 99.9 L354.3 108.6 L357.3 118.3 L359.3 129.7 L363 139.3 L364.7 149.3 L368.1 159.9 L370.2 170.3 L372.7 176.5 L374.9 185.7 L377.3 196.6 L379.8 211.5 L383.6 224.4 L384.9 236.7 L388.1 246.3 L390 259.1 L394 267.5 L398.4 278.6 L401.8 287.7 L406.4 297.4 L409.4 303 L414.5 310.7 L418.9 313.9 L422.2 317.1" fill="none" stroke="#3a3040" stroke-width="3" stroke-linejoin="round" stroke-dasharray="0.01 4.1" stroke-linecap="round"/>
<line x1="134.7" y1="318.1" x2="142.2" y2="318.1" stroke="#111" stroke-width="1.8"/>
<line x1="138.2" y1="304.6" x2="142.2" y2="304.6" stroke="#111" stroke-width="1.4"/>
<line x1="138.2" y1="291.1" x2="142.2" y2="291.1" stroke="#111" stroke-width="1.4"/>
<line x1="138.2" y1="277.6" x2="142.2" y2="277.6" stroke="#111" stroke-width="1.4"/>
<line x1="134.7" y1="264.1" x2="142.2" y2="264.1" stroke="#111" stroke-width="1.8"/>
<line x1="138.2" y1="250.7" x2="142.2" y2="250.7" stroke="#111" stroke-width="1.4"/>
<line x1="138.2" y1="237.2" x2="142.2" y2="237.2" stroke="#111" stroke-width="1.4"/>
<line x1="138.2" y1="223.7" x2="142.2" y2="223.7" stroke="#111" stroke-width="1.4"/>
<line x1="134.7" y1="210.2" x2="142.2" y2="210.2" stroke="#111" stroke-width="1.8"/>
<line x1="138.2" y1="196.7" x2="142.2" y2="196.7" stroke="#111" stroke-width="1.4"/>
<line x1="138.2" y1="183.2" x2="142.2" y2="183.2" stroke="#111" stroke-width="1.4"/>
<line x1="138.2" y1="169.7" x2="142.2" y2="169.7" stroke="#111" stroke-width="1.4"/>
<line x1="134.7" y1="156.2" x2="142.2" y2="156.2" stroke="#111" stroke-width="1.8"/>
<line x1="138.2" y1="142.7" x2="142.2" y2="142.7" stroke="#111" stroke-width="1.4"/>
<line x1="138.2" y1="129.2" x2="142.2" y2="129.2" stroke="#111" stroke-width="1.4"/>
<line x1="138.2" y1="115.8" x2="142.2" y2="115.8" stroke="#111" stroke-width="1.4"/>
<line x1="134.7" y1="102.3" x2="142.2" y2="102.3" stroke="#111" stroke-width="1.8"/>
<line x1="138.2" y1="88.8" x2="142.2" y2="88.8" stroke="#111" stroke-width="1.4"/>
<line x1="138.2" y1="75.3" x2="142.2" y2="75.3" stroke="#111" stroke-width="1.4"/>
<line x1="138.2" y1="61.8" x2="142.2" y2="61.8" stroke="#111" stroke-width="1.4"/>
<line x1="134.7" y1="48.3" x2="142.2" y2="48.3" stroke="#111" stroke-width="1.8"/>
<rect x="431.7" y="50" width="43.5" height="12.5" fill="#8c8c8c"/>
<rect x="431.7" y="72.4" width="12" height="12" fill="#000"/>
<rect x="458.6" y="72.4" width="12" height="12" fill="#000"/>
<rect x="431.7" y="98.3" width="43.5" height="12.5" fill="#c04cff"/>
<text x="500" y="69" font-size="21.5" fill="#000" textLength="51.5" lengthAdjust="spacingAndGlyphs" stroke="#000" stroke-width="0.35">FMO</text>
<text x="500" y="94.8" font-size="21.5" fill="#000" textLength="46.5" lengthAdjust="spacingAndGlyphs" stroke="#000" stroke-width="0.35">UNS</text>
<text x="496.6" y="119.5" font-size="21.5" fill="#000" stroke="#000" stroke-width="0.35">TGFβ</text>
<text x="128.5" y="325.1" font-size="19.3" font-family='"DejaVu Sans", "Liberation Sans", sans-serif' text-anchor="end" fill="#000" textLength="10.9" lengthAdjust="spacingAndGlyphs">0</text>
<text x="128.5" y="271.1" font-size="19.3" font-family='"DejaVu Sans", "Liberation Sans", sans-serif' text-anchor="end" fill="#000" textLength="21.8" lengthAdjust="spacingAndGlyphs">20</text>
<text x="128.5" y="217.2" font-size="19.3" font-family='"DejaVu Sans", "Liberation Sans", sans-serif' text-anchor="end" fill="#000" textLength="21.8" lengthAdjust="spacingAndGlyphs">40</text>
<text x="128.5" y="163.2" font-size="19.3" font-family='"DejaVu Sans", "Liberation Sans", sans-serif' text-anchor="end" fill="#000" textLength="21.8" lengthAdjust="spacingAndGlyphs">60</text>
<text x="128.5" y="109.3" font-size="19.3" font-family='"DejaVu Sans", "Liberation Sans", sans-serif' text-anchor="end" fill="#000" textLength="21.8" lengthAdjust="spacingAndGlyphs">80</text>
<text x="128.5" y="55.3" font-size="19.3" font-family='"DejaVu Sans", "Liberation Sans", sans-serif' text-anchor="end" fill="#000" textLength="32.7" lengthAdjust="spacingAndGlyphs">100</text>
<text transform="translate(69.5 177.6) rotate(-90)" font-size="21" text-anchor="middle" font-family='"DejaVu Sans", "Liberation Sans", sans-serif' textLength="196.6" lengthAdjust="spacingAndGlyphs">Normalized To Mode</text>
<line x1="142.2" y1="318.1" x2="568.8" y2="318.1" stroke="#111" stroke-width="2"/>
<line x1="142.9" y1="318.1" x2="142.9" y2="326.1" stroke="#111" stroke-width="2.4"/>
<line x1="196" y1="318.1" x2="196" y2="326.1" stroke="#111" stroke-width="2.4"/>
<line x1="402" y1="318.1" x2="402" y2="326.1" stroke="#111" stroke-width="2.4"/>
<line x1="255.4" y1="318.1" x2="255.4" y2="324.1" stroke="#111" stroke-width="1.6"/>
<line x1="260.4" y1="318.1" x2="260.4" y2="324.1" stroke="#111" stroke-width="1.6"/>
<line x1="265.4" y1="318.1" x2="265.4" y2="324.1" stroke="#111" stroke-width="1.6"/>
<line x1="270.4" y1="318.1" x2="270.4" y2="324.1" stroke="#111" stroke-width="2.6"/>
<line x1="275.3" y1="318.1" x2="275.3" y2="324.1" stroke="#111" stroke-width="2.6"/>
<line x1="280.3" y1="318.1" x2="280.3" y2="324.1" stroke="#111" stroke-width="1.6"/>
<line x1="285.3" y1="318.1" x2="285.3" y2="324.1" stroke="#111" stroke-width="1.6"/>
<line x1="290.3" y1="318.1" x2="290.3" y2="324.1" stroke="#111" stroke-width="1.6"/>
<line x1="153" y1="318.1" x2="153" y2="322.6" stroke="#111" stroke-width="1.3"/>
<line x1="163.6" y1="318.1" x2="163.6" y2="322.6" stroke="#111" stroke-width="1.3"/>
<line x1="172.7" y1="318.1" x2="172.7" y2="322.6" stroke="#111" stroke-width="1.3"/>
<line x1="181.7" y1="318.1" x2="181.7" y2="322.6" stroke="#111" stroke-width="1.3"/>
<line x1="207.6" y1="318.1" x2="207.6" y2="322.6" stroke="#111" stroke-width="1.3"/>
<line x1="224.4" y1="318.1" x2="224.4" y2="322.6" stroke="#111" stroke-width="1.3"/>
<line x1="241.2" y1="318.1" x2="241.2" y2="322.6" stroke="#111" stroke-width="1.3"/>
<line x1="306" y1="318.1" x2="306" y2="322.6" stroke="#111" stroke-width="1.3"/>
<line x1="321.4" y1="318.1" x2="321.4" y2="322.6" stroke="#111" stroke-width="1.3"/>
<line x1="337" y1="318.1" x2="337" y2="322.6" stroke="#111" stroke-width="1.3"/>
<line x1="351" y1="318.1" x2="351" y2="322.6" stroke="#111" stroke-width="1.3"/>
<line x1="364" y1="318.1" x2="364" y2="322.6" stroke="#111" stroke-width="1.3"/>
<line x1="375.7" y1="318.1" x2="375.7" y2="322.6" stroke="#111" stroke-width="1.3"/>
<line x1="386" y1="318.1" x2="386" y2="322.6" stroke="#111" stroke-width="1.3"/>
<line x1="396.4" y1="318.1" x2="396.4" y2="322.6" stroke="#111" stroke-width="1.3"/>
<line x1="425" y1="318.1" x2="425" y2="322.6" stroke="#111" stroke-width="1.3"/>
<line x1="456" y1="318.1" x2="456" y2="322.6" stroke="#111" stroke-width="1.3"/>
<line x1="479" y1="318.1" x2="479" y2="322.6" stroke="#111" stroke-width="1.3"/>
<line x1="497" y1="318.1" x2="497" y2="322.6" stroke="#111" stroke-width="1.3"/>
<line x1="513" y1="318.1" x2="513" y2="322.6" stroke="#111" stroke-width="1.3"/>
<line x1="526" y1="318.1" x2="526" y2="322.6" stroke="#111" stroke-width="1.3"/>
<line x1="539" y1="318.1" x2="539" y2="322.6" stroke="#111" stroke-width="1.3"/>
<line x1="549" y1="318.1" x2="549" y2="322.6" stroke="#111" stroke-width="1.3"/>
<line x1="559" y1="318.1" x2="559" y2="322.6" stroke="#111" stroke-width="1.3"/>
<text x="149.4" y="355.6" font-size="18.5" font-family='"DejaVu Sans", "Liberation Sans", sans-serif' fill="#000" textLength="32.3" lengthAdjust="spacingAndGlyphs">-10</text>
<text x="184.3" y="341.4" font-size="18.5" font-family='"DejaVu Sans", "Liberation Sans", sans-serif' fill="#000">3</text>
<text x="271" y="355.6" font-size="18.5" font-family='"DejaVu Sans", "Liberation Sans", sans-serif' fill="#000">0</text>
<text x="397.6" y="355.6" font-size="18.5" font-family='"DejaVu Sans", "Liberation Sans", sans-serif' fill="#000" textLength="22" lengthAdjust="spacingAndGlyphs">10</text>
<text x="422.2" y="341.4" font-size="18.5" font-family='"DejaVu Sans", "Liberation Sans", sans-serif' fill="#000">3</text>
<text x="193.4" y="391.8" font-size="20" font-family='"DejaVu Sans", "Liberation Sans", sans-serif' fill="#000" textLength="316.7" lengthAdjust="spacingAndGlyphs">Comp–APC–R700–A :: pSMAD2_3</text>
<path d="M669.8 320.4 L669.8 40.3 L1093.2 40.3 L1093.2 320.4" fill="none" stroke="#222" stroke-width="1.8"/>
<path d="M687.4 320.4 L687.4 320.3 L698 318.5 L711.9 314.2 L716.8 311.1 L722.6 304 L727.8 293.2 L732.8 279.4 L740.3 257.3 L746.7 235.9 L750.9 219.9 L757.6 208.1 L761.1 192.1 L762.2 175.9 L765.9 160.6 L769.5 148.4 L771 141.1 L774.4 132.8 L778.9 116.6 L781.9 103.9 L783.4 103.9 L786.6 106.6 L788 97.6 L790.3 87.9 L791.9 76.4 L793.6 68.4 L794.3 69.4 L797.7 72 L800 72.2 L801 68.2 L803.7 68.1 L807.6 69.1 L807.5 71.9 L811.2 76.1 L812.9 66.1 L815.1 59.9 L816.1 66 L818.6 76.7 L819.4 85.6 L821.5 94.9 L823.3 88.8 L824.9 83.8 L826 100.1 L829.5 113.9 L831 115.6 L833.2 115.7 L833.5 122 L836.8 131.8 L839.7 149.7 L842.3 168.7 L847.6 183.6 L850.2 199.7 L856.9 213.9 L862.4 228.5 L866.1 246.5 L871.7 263.3 L875.8 279.6 L883.2 295.1 L889.2 303.6 L895.4 312.2 L904.8 315.9 L913.9 316.9 L929.9 320.4 L940.9 320.3 L940.9 320.4Z" fill="#acacfb" fill-opacity="1.0"/>
<path d="M711.6 320.4 L711.6 320.3 L717.3 313.3 L720.8 305.5 L725.8 286.4 L730.9 267.3 L734.5 245.3 L736.8 224.1 L736.9 208.2 L737.9 191.4 L739.5 171.6 L741.8 156 L742.1 137.5 L745.1 121.5 L747.1 104.1 L748.9 86.9 L750.1 73.3 L750.6 64 L751.6 57.6 L754 56.1 L753.7 62.8 L756.8 68.5 L756.6 72.3 L757.8 75.9 L760.2 79.4 L761.3 87.2 L764.2 97.7 L764.7 112.8 L766.2 129.6 L768.6 146.9 L770.5 163.9 L770.9 183 L773.9 202.4 L776.8 225.9 L781.5 246.8 L783.7 266.5 L788.3 285.7 L791 301.8 L795 311.6 L798.7 316.4 L801.8 320.4 L802.9 320.3 L802.9 320.4Z" fill="#808080" fill-opacity="0.32"/>
<path d="M711.6 320.3 L717.3 313.3 L720.8 305.5 L725.8 286.4 L730.9 267.3 L734.5 245.3 L736.8 224.1 L736.9 208.2 L737.9 191.4 L739.5 171.6 L741.8 156 L742.1 137.5 L745.1 121.5 L747.1 104.1 L748.9 86.9 L750.1 73.3 L750.6 64 L751.6 57.6 L754 56.1 L753.7 62.8 L756.8 68.5 L756.6 72.3 L757.8 75.9 L760.2 79.4 L761.3 87.2 L764.2 97.7 L764.7 112.8 L766.2 129.6 L768.6 146.9 L770.5 163.9 L770.9 183 L773.9 202.4 L776.8 225.9 L781.5 246.8 L783.7 266.5 L788.3 285.7 L791 301.8 L795 311.6 L798.7 316.4 L801.8 320.4 L802.9 320.3" fill="none" stroke="#858585" stroke-width="2.4" stroke-linejoin="round"/>
<path d="M687.4 320.3 L698 318.5 L711.9 314.2 L716.8 311.1 L722.6 304 L727.8 293.2 L732.8 279.4 L740.3 257.3 L746.7 235.9 L750.9 219.9 L757.6 208.1 L761.1 192.1 L762.2 175.9 L765.9 160.6 L769.5 148.4 L771 141.1 L774.4 132.8 L778.9 116.6 L781.9 103.9 L783.4 103.9 L786.6 106.6 L788 97.6 L790.3 87.9 L791.9 76.4 L793.6 68.4 L794.3 69.4 L797.7 72 L800 72.2 L801 68.2 L803.7 68.1 L807.6 69.1 L807.5 71.9 L811.2 76.1 L812.9 66.1 L815.1 59.9 L816.1 66 L818.6 76.7 L819.4 85.6 L821.5 94.9 L823.3 88.8 L824.9 83.8 L826 100.1 L829.5 113.9 L831 115.6 L833.2 115.7 L833.5 122 L836.8 131.8 L839.7 149.7 L842.3 168.7 L847.6 183.6 L850.2 199.7 L856.9 213.9 L862.4 228.5 L866.1 246.5 L871.7 263.3 L875.8 279.6 L883.2 295.1 L889.2 303.6 L895.4 312.2 L904.8 315.9 L913.9 316.9 L929.9 320.4 L940.9 320.3" fill="none" stroke="#4a46f2" stroke-width="2" stroke-linejoin="round"/>
<path d="M669.7 320.3 L671.6 320.4 L674.6 316.5 L682.2 311.3 L690.9 302.9 L694.9 297.4 L698.8 290 L703.4 279 L710.3 267.5 L715.2 250.9 L719.8 231.9 L724.5 224.7 L727.4 216.4 L731.8 200 L734.6 184.6 L736.9 176 L738.7 168.2 L740.9 168.5 L742.8 165.9 L744.7 157.8 L745.3 148.3 L748.5 135.1 L748.6 123.5 L749.9 121.1 L753.1 120.4 L755.9 109.5 L759.3 99.9 L763.2 97.9 L764.4 95.9 L768.4 97.8 L771 94.6 L772.1 87.4 L773.8 77.7 L774.4 72.8 L776 69.2 L778.3 72 L782.7 76.1 L786.4 80.5 L789.2 84.7 L792.5 83.6 L795.4 84.6 L795.3 88.3 L797.7 94.4 L801.4 103.2 L802.2 106.2 L804.8 107.6 L806.5 111.8 L807.4 120.6 L810.8 131.4 L811.9 136.9 L815.8 141.4 L818 150.6 L820.6 163.6 L823.1 170.5 L824.9 179.6 L828.6 189.9 L830.6 201.5 L832.2 212.9 L835.3 224.8 L839 235 L841.9 245.8 L844.4 260.2 L847.1 273.1 L851 284.1 L855.2 292.1 L858.6 300.4 L862.4 305.1 L866.6 309 L871.1 312.4 L878.8 315.3 L886.2 319.4 L889.7 320.4 L891 320.3" fill="none" stroke="#333333" stroke-width="3" stroke-linejoin="round" stroke-dasharray="0.01 4.1" stroke-linecap="round"/>
<line x1="662.3" y1="320.4" x2="669.8" y2="320.4" stroke="#111" stroke-width="1.8"/>
<line x1="665.8" y1="307" x2="669.8" y2="307" stroke="#111" stroke-width="1.4"/>
<line x1="665.8" y1="293.6" x2="669.8" y2="293.6" stroke="#111" stroke-width="1.4"/>
<line x1="665.8" y1="280.2" x2="669.8" y2="280.2" stroke="#111" stroke-width="1.4"/>
<line x1="662.3" y1="266.8" x2="669.8" y2="266.8" stroke="#111" stroke-width="1.8"/>
<line x1="665.8" y1="253.4" x2="669.8" y2="253.4" stroke="#111" stroke-width="1.4"/>
<line x1="665.8" y1="240" x2="669.8" y2="240" stroke="#111" stroke-width="1.4"/>
<line x1="665.8" y1="226.6" x2="669.8" y2="226.6" stroke="#111" stroke-width="1.4"/>
<line x1="662.3" y1="213.2" x2="669.8" y2="213.2" stroke="#111" stroke-width="1.8"/>
<line x1="665.8" y1="199.8" x2="669.8" y2="199.8" stroke="#111" stroke-width="1.4"/>
<line x1="665.8" y1="186.4" x2="669.8" y2="186.4" stroke="#111" stroke-width="1.4"/>
<line x1="665.8" y1="173" x2="669.8" y2="173" stroke="#111" stroke-width="1.4"/>
<line x1="662.3" y1="159.6" x2="669.8" y2="159.6" stroke="#111" stroke-width="1.8"/>
<line x1="665.8" y1="146.2" x2="669.8" y2="146.2" stroke="#111" stroke-width="1.4"/>
<line x1="665.8" y1="132.8" x2="669.8" y2="132.8" stroke="#111" stroke-width="1.4"/>
<line x1="665.8" y1="119.4" x2="669.8" y2="119.4" stroke="#111" stroke-width="1.4"/>
<line x1="662.3" y1="106" x2="669.8" y2="106" stroke="#111" stroke-width="1.8"/>
<line x1="665.8" y1="92.6" x2="669.8" y2="92.6" stroke="#111" stroke-width="1.4"/>
<line x1="665.8" y1="79.2" x2="669.8" y2="79.2" stroke="#111" stroke-width="1.4"/>
<line x1="665.8" y1="65.8" x2="669.8" y2="65.8" stroke="#111" stroke-width="1.4"/>
<line x1="662.3" y1="52.4" x2="669.8" y2="52.4" stroke="#111" stroke-width="1.8"/>
<rect x="963.4" y="51.7" width="43.5" height="12.5" fill="#8c8c8c"/>
<rect x="963.4" y="76.6" width="12" height="12" fill="#000"/>
<rect x="990.3" y="76.6" width="12" height="12" fill="#000"/>
<rect x="963.4" y="103.4" width="43.5" height="12.5" fill="#4a82fa"/>
<text x="1029.7" y="67.9" font-size="21.5" fill="#000" textLength="51" lengthAdjust="spacingAndGlyphs" stroke="#000" stroke-width="0.35">FMO</text>
<text x="1029.7" y="94.8" font-size="21.5" fill="#000" textLength="45.8" lengthAdjust="spacingAndGlyphs" stroke="#000" stroke-width="0.35">UNS</text>
<text x="1029.7" y="121.5" font-size="21.5" fill="#000" stroke="#000" stroke-width="0.35">IFNγ</text>
<text x="655.5" y="327.4" font-size="19.3" font-family='"DejaVu Sans", "Liberation Sans", sans-serif' text-anchor="end" fill="#000" textLength="10.9" lengthAdjust="spacingAndGlyphs">0</text>
<text x="655.5" y="273.8" font-size="19.3" font-family='"DejaVu Sans", "Liberation Sans", sans-serif' text-anchor="end" fill="#000" textLength="21.8" lengthAdjust="spacingAndGlyphs">20</text>
<text x="655.5" y="220.2" font-size="19.3" font-family='"DejaVu Sans", "Liberation Sans", sans-serif' text-anchor="end" fill="#000" textLength="21.8" lengthAdjust="spacingAndGlyphs">40</text>
<text x="655.5" y="166.6" font-size="19.3" font-family='"DejaVu Sans", "Liberation Sans", sans-serif' text-anchor="end" fill="#000" textLength="21.8" lengthAdjust="spacingAndGlyphs">60</text>
<text x="655.5" y="113" font-size="19.3" font-family='"DejaVu Sans", "Liberation Sans", sans-serif' text-anchor="end" fill="#000" textLength="21.8" lengthAdjust="spacingAndGlyphs">80</text>
<text x="655.5" y="59.4" font-size="19.3" font-family='"DejaVu Sans", "Liberation Sans", sans-serif' text-anchor="end" fill="#000" textLength="32.7" lengthAdjust="spacingAndGlyphs">100</text>
<text transform="translate(597.5 179.8) rotate(-90)" font-size="21" text-anchor="middle" font-family='"DejaVu Sans", "Liberation Sans", sans-serif' textLength="196.6" lengthAdjust="spacingAndGlyphs">Normalized To Mode</text>
<line x1="669.8" y1="320.4" x2="1093.2" y2="320.4" stroke="#111" stroke-width="2"/>
<line x1="736.3" y1="320.4" x2="736.3" y2="328.4" stroke="#111" stroke-width="2.4"/>
<line x1="801.7" y1="320.4" x2="801.7" y2="328.4" stroke="#111" stroke-width="2.4"/>
<line x1="945.2" y1="320.4" x2="945.2" y2="328.4" stroke="#111" stroke-width="2.4"/>
<line x1="764.7" y1="320.4" x2="764.7" y2="326.4" stroke="#111" stroke-width="1.6"/>
<line x1="766" y1="320.4" x2="766" y2="326.4" stroke="#111" stroke-width="1.6"/>
<line x1="767.3" y1="320.4" x2="767.3" y2="326.4" stroke="#111" stroke-width="1.6"/>
<line x1="768.6" y1="320.4" x2="768.6" y2="326.4" stroke="#111" stroke-width="2.6"/>
<line x1="769.9" y1="320.4" x2="769.9" y2="326.4" stroke="#111" stroke-width="2.6"/>
<line x1="771.2" y1="320.4" x2="771.2" y2="326.4" stroke="#111" stroke-width="1.6"/>
<line x1="772.5" y1="320.4" x2="772.5" y2="326.4" stroke="#111" stroke-width="1.6"/>
<line x1="773.8" y1="320.4" x2="773.8" y2="326.4" stroke="#111" stroke-width="1.6"/>
<line x1="682" y1="320.4" x2="682" y2="324.9" stroke="#111" stroke-width="1.3"/>
<line x1="706.5" y1="320.4" x2="706.5" y2="324.9" stroke="#111" stroke-width="1.3"/>
<line x1="744" y1="320.4" x2="744" y2="324.9" stroke="#111" stroke-width="1.3"/>
<line x1="749" y1="320.4" x2="749" y2="324.9" stroke="#111" stroke-width="1.3"/>
<line x1="754" y1="320.4" x2="754" y2="324.9" stroke="#111" stroke-width="1.3"/>
<line x1="758" y1="320.4" x2="758" y2="324.9" stroke="#111" stroke-width="1.3"/>
<line x1="761" y1="320.4" x2="761" y2="324.9" stroke="#111" stroke-width="1.3"/>
<line x1="778" y1="320.4" x2="778" y2="324.9" stroke="#111" stroke-width="1.3"/>
<line x1="782" y1="320.4" x2="782" y2="324.9" stroke="#111" stroke-width="1.3"/>
<line x1="786" y1="320.4" x2="786" y2="324.9" stroke="#111" stroke-width="1.3"/>
<line x1="790" y1="320.4" x2="790" y2="324.9" stroke="#111" stroke-width="1.3"/>
<line x1="793" y1="320.4" x2="793" y2="324.9" stroke="#111" stroke-width="1.3"/>
<line x1="796" y1="320.4" x2="796" y2="324.9" stroke="#111" stroke-width="1.3"/>
<line x1="830.7" y1="320.4" x2="830.7" y2="324.9" stroke="#111" stroke-width="1.3"/>
<line x1="857.8" y1="320.4" x2="857.8" y2="324.9" stroke="#111" stroke-width="1.3"/>
<line x1="878.5" y1="320.4" x2="878.5" y2="324.9" stroke="#111" stroke-width="1.3"/>
<line x1="894" y1="320.4" x2="894" y2="324.9" stroke="#111" stroke-width="1.3"/>
<line x1="908" y1="320.4" x2="908" y2="324.9" stroke="#111" stroke-width="1.3"/>
<line x1="919.7" y1="320.4" x2="919.7" y2="324.9" stroke="#111" stroke-width="1.3"/>
<line x1="930" y1="320.4" x2="930" y2="324.9" stroke="#111" stroke-width="1.3"/>
<line x1="939" y1="320.4" x2="939" y2="324.9" stroke="#111" stroke-width="1.3"/>
<line x1="973" y1="320.4" x2="973" y2="324.9" stroke="#111" stroke-width="1.3"/>
<line x1="996" y1="320.4" x2="996" y2="324.9" stroke="#111" stroke-width="1.3"/>
<line x1="1013" y1="320.4" x2="1013" y2="324.9" stroke="#111" stroke-width="1.3"/>
<line x1="1023.3" y1="320.4" x2="1023.3" y2="324.9" stroke="#111" stroke-width="1.3"/>
<line x1="1032.4" y1="320.4" x2="1032.4" y2="324.9" stroke="#111" stroke-width="1.3"/>
<line x1="1042.7" y1="320.4" x2="1042.7" y2="324.9" stroke="#111" stroke-width="1.3"/>
<line x1="1055.6" y1="320.4" x2="1055.6" y2="324.9" stroke="#111" stroke-width="1.3"/>
<line x1="1068.5" y1="320.4" x2="1068.5" y2="324.9" stroke="#111" stroke-width="1.3"/>
<line x1="1079" y1="320.4" x2="1079" y2="324.9" stroke="#111" stroke-width="1.3"/>
<line x1="1086.7" y1="320.4" x2="1086.7" y2="324.9" stroke="#111" stroke-width="1.3"/>
<text x="767.3" y="357.4" font-size="18.5" font-family='"DejaVu Sans", "Liberation Sans", sans-serif' fill="#000">0</text>
<text x="941.9" y="357.4" font-size="18.5" font-family='"DejaVu Sans", "Liberation Sans", sans-serif' fill="#000" textLength="21" lengthAdjust="spacingAndGlyphs">10</text>
<text x="965" y="343.2" font-size="18.5" font-family='"DejaVu Sans", "Liberation Sans", sans-serif' fill="#000">3</text>
<text x="754.4" y="393.6" font-size="20" font-family='"DejaVu Sans", "Liberation Sans", sans-serif' fill="#000" textLength="246.4" lengthAdjust="spacingAndGlyphs">Comp–BB796–A :: pSTAT1</text>
<path d="M1201.6 317.6 L1201.6 36.3 L1625.2 36.3 L1625.2 317.6" fill="none" stroke="#222" stroke-width="1.8"/>
<path d="M1360.7 317.6 L1360.7 317.4 L1370.3 316.2 L1385.1 317.2 L1397.3 313.5 L1409.4 312.5 L1418.5 309.2 L1427.8 303.2 L1435.3 298.4 L1442 293.5 L1446.5 283.6 L1453.1 276.8 L1456.4 267.1 L1461.6 258.7 L1465.3 246.5 L1469.6 237.7 L1472.9 230.4 L1474 219.4 L1478.8 208.2 L1480.6 193.8 L1485.2 184.9 L1486 176.7 L1489.7 161.6 L1492 147.8 L1493 136.9 L1496.2 126.1 L1499.5 114.3 L1502.6 103.1 L1504 96.4 L1503.5 90.8 L1505.9 89.8 L1508.1 85.6 L1510 80.5 L1514.1 72.6 L1515.6 70 L1519.8 70 L1521.2 65.4 L1521.2 63 L1523.3 56.7 L1525.9 51.1 L1526.3 59.6 L1527.8 66.2 L1530 75.3 L1533.3 81.8 L1535.4 88.8 L1538.1 93.9 L1541.4 102.5 L1542.4 110.4 L1545 124.1 L1548.9 137.7 L1552.8 147.7 L1556.5 162.5 L1558.1 173.4 L1560.5 187.5 L1562.5 197 L1564.9 209 L1567 218.9 L1570 229.3 L1575 243.2 L1577.3 257.2 L1582.1 268.9 L1586.4 279.3 L1590.4 292.1 L1595.3 302.5 L1600 307.5 L1604.4 313.8 L1613.6 316.8 L1620.6 316.9 L1622.7 317.6 L1625.1 317.4 L1625.1 317.6Z" fill="#acacfb" fill-opacity="1.0"/>
<path d="M1243.2 317.6 L1243.2 317.4 L1246.1 311.7 L1251.4 305.5 L1255.7 292.9 L1258.4 277.2 L1264.1 259.3 L1267.8 241.2 L1268.5 220 L1271.1 201.9 L1271.1 185.2 L1275 166.9 L1277.1 147.3 L1276.9 127.7 L1280.9 102.4 L1280.7 78 L1282.3 60.7 L1284.9 51.2 L1286.7 55.7 L1288.2 63.1 L1291.4 70.1 L1292.9 80.2 L1294.8 90.5 L1296 103.4 L1297.5 118 L1298.7 127.6 L1300 142.2 L1301.2 154.2 L1301.4 163.1 L1304.2 176.9 L1305.6 201.9 L1308 226.3 L1309.9 248.7 L1314.1 266.1 L1317.2 283.6 L1322 297.3 L1324.9 306 L1327.9 311.4 L1333.2 314.6 L1335.9 317.4 L1335.9 317.6Z" fill="#808080" fill-opacity="0.38"/>
<path d="M1243.2 317.4 L1246.1 311.7 L1251.4 305.5 L1255.7 292.9 L1258.4 277.2 L1264.1 259.3 L1267.8 241.2 L1268.5 220 L1271.1 201.9 L1271.1 185.2 L1275 166.9 L1277.1 147.3 L1276.9 127.7 L1280.9 102.4 L1280.7 78 L1282.3 60.7 L1284.9 51.2 L1286.7 55.7 L1288.2 63.1 L1291.4 70.1 L1292.9 80.2 L1294.8 90.5 L1296 103.4 L1297.5 118 L1298.7 127.6 L1300 142.2 L1301.2 154.2 L1301.4 163.1 L1304.2 176.9 L1305.6 201.9 L1308 226.3 L1309.9 248.7 L1314.1 266.1 L1317.2 283.6 L1322 297.3 L1324.9 306 L1327.9 311.4 L1333.2 314.6 L1335.9 317.4" fill="none" stroke="#858585" stroke-width="2.4" stroke-linejoin="round"/>
<path d="M1360.7 317.4 L1370.3 316.2 L1385.1 317.2 L1397.3 313.5 L1409.4 312.5 L1418.5 309.2 L1427.8 303.2 L1435.3 298.4 L1442 293.5 L1446.5 283.6 L1453.1 276.8 L1456.4 267.1 L1461.6 258.7 L1465.3 246.5 L1469.6 237.7 L1472.9 230.4 L1474 219.4 L1478.8 208.2 L1480.6 193.8 L1485.2 184.9 L1486 176.7 L1489.7 161.6 L1492 147.8 L1493 136.9 L1496.2 126.1 L1499.5 114.3 L1502.6 103.1 L1504 96.4 L1503.5 90.8 L1505.9 89.8 L1508.1 85.6 L1510 80.5 L1514.1 72.6 L1515.6 70 L1519.8 70 L1521.2 65.4 L1521.2 63 L1523.3 56.7 L1525.9 51.1 L1526.3 59.6 L1527.8 66.2 L1530 75.3 L1533.3 81.8 L1535.4 88.8 L1538.1 93.9 L1541.4 102.5 L1542.4 110.4 L1545 124.1 L1548.9 137.7 L1552.8 147.7 L1556.5 162.5 L1558.1 173.4 L1560.5 187.5 L1562.5 197 L1564.9 209 L1567 218.9 L1570 229.3 L1575 243.2 L1577.3 257.2 L1582.1 268.9 L1586.4 279.3 L1590.4 292.1 L1595.3 302.5 L1600 307.5 L1604.4 313.8 L1613.6 316.8 L1620.6 316.9 L1622.7 317.6 L1625.1 317.4" fill="none" stroke="#4a46f2" stroke-width="2" stroke-linejoin="round"/>
<path d="M1201 317.4 L1201.9 317.3 L1205.7 313.5 L1214.7 307.9 L1225.7 296 L1231.7 287.2 L1237.1 276.1 L1243.6 257.2 L1250.5 240.5 L1253 228.1 L1256.8 216.5 L1260.9 203.7 L1264.1 189.2 L1267.9 175.8 L1269.6 164.8 L1270.6 163.8 L1273.6 157.7 L1277.6 147.5 L1278.2 133.3 L1280.9 123.7 L1282.8 116.6 L1286 109.5 L1288.2 103 L1290.3 99.8 L1294.5 94.4 L1295.5 91 L1297.9 90 L1300.3 89.1 L1303.1 85.9 L1306.6 75.7 L1308.7 65.4 L1311.3 66.8 L1313.2 68.3 L1316.1 72.7 L1319.3 75.8 L1322.1 80.2 L1323.7 84.2 L1325.2 80.8 L1327.8 74.7 L1327.8 81.5 L1327.4 88.1 L1331 96.6 L1333.4 101.4 L1335.9 103.9 L1339.3 110.5 L1340.8 119.8 L1343.1 134.7 L1345.4 137.9 L1347.5 144.3 L1351.1 152.3 L1353.5 164.2 L1356.8 174.3 L1358 184.2 L1361.7 194.2 L1363.7 203.3 L1365.6 213.9 L1368.4 223.4 L1369.9 231.4 L1372.4 242.8 L1375.6 251.8 L1377.2 263.7 L1379.4 271.5 L1383.5 277.4 L1386.4 284 L1386.6 290.8 L1391.2 297.2 L1396 300.8 L1397.8 304.7 L1403.3 310.2 L1405.7 310.2 L1409.7 313.9 L1414.6 316.1 L1418.6 317.5 L1420.5 315.8 L1421 317.4" fill="none" stroke="#333333" stroke-width="3" stroke-linejoin="round" stroke-dasharray="0.01 4.1" stroke-linecap="round"/>
<line x1="1194.1" y1="317.6" x2="1201.6" y2="317.6" stroke="#111" stroke-width="1.8"/>
<line x1="1197.6" y1="304.2" x2="1201.6" y2="304.2" stroke="#111" stroke-width="1.4"/>
<line x1="1197.6" y1="290.8" x2="1201.6" y2="290.8" stroke="#111" stroke-width="1.4"/>
<line x1="1197.6" y1="277.4" x2="1201.6" y2="277.4" stroke="#111" stroke-width="1.4"/>
<line x1="1194.1" y1="263.9" x2="1201.6" y2="263.9" stroke="#111" stroke-width="1.8"/>
<line x1="1197.6" y1="250.5" x2="1201.6" y2="250.5" stroke="#111" stroke-width="1.4"/>
<line x1="1197.6" y1="237.1" x2="1201.6" y2="237.1" stroke="#111" stroke-width="1.4"/>
<line x1="1197.6" y1="223.7" x2="1201.6" y2="223.7" stroke="#111" stroke-width="1.4"/>
<line x1="1194.1" y1="210.3" x2="1201.6" y2="210.3" stroke="#111" stroke-width="1.8"/>
<line x1="1197.6" y1="196.9" x2="1201.6" y2="196.9" stroke="#111" stroke-width="1.4"/>
<line x1="1197.6" y1="183.5" x2="1201.6" y2="183.5" stroke="#111" stroke-width="1.4"/>
<line x1="1197.6" y1="170" x2="1201.6" y2="170" stroke="#111" stroke-width="1.4"/>
<line x1="1194.1" y1="156.6" x2="1201.6" y2="156.6" stroke="#111" stroke-width="1.8"/>
<line x1="1197.6" y1="143.2" x2="1201.6" y2="143.2" stroke="#111" stroke-width="1.4"/>
<line x1="1197.6" y1="129.8" x2="1201.6" y2="129.8" stroke="#111" stroke-width="1.4"/>
<line x1="1197.6" y1="116.4" x2="1201.6" y2="116.4" stroke="#111" stroke-width="1.4"/>
<line x1="1194.1" y1="103" x2="1201.6" y2="103" stroke="#111" stroke-width="1.8"/>
<line x1="1197.6" y1="89.5" x2="1201.6" y2="89.5" stroke="#111" stroke-width="1.4"/>
<line x1="1197.6" y1="76.1" x2="1201.6" y2="76.1" stroke="#111" stroke-width="1.4"/>
<line x1="1197.6" y1="62.7" x2="1201.6" y2="62.7" stroke="#111" stroke-width="1.4"/>
<line x1="1194.1" y1="49.3" x2="1201.6" y2="49.3" stroke="#111" stroke-width="1.8"/>
<rect x="1355.5" y="50" width="43.5" height="12.5" fill="#8c8c8c"/>
<rect x="1355.5" y="75.2" width="12" height="12" fill="#000"/>
<rect x="1383.1" y="75.2" width="12" height="12" fill="#000"/>
<rect x="1355.5" y="102.4" width="43.5" height="12.5" fill="#4a82fa"/>
<text x="1422.8" y="65.8" font-size="21.5" fill="#000" textLength="50" lengthAdjust="spacingAndGlyphs" stroke="#000" stroke-width="0.35">FMO</text>
<text x="1422.8" y="94.1" font-size="21.5" fill="#000" textLength="44.8" lengthAdjust="spacingAndGlyphs" stroke="#000" stroke-width="0.35">UNS</text>
<text x="1421.5" y="120.7" font-size="21.5" fill="#000" textLength="47.8" lengthAdjust="spacingAndGlyphs" stroke="#000" stroke-width="0.35">IFNβ</text>
<text x="1187" y="324.6" font-size="19.3" font-family='"DejaVu Sans", "Liberation Sans", sans-serif' text-anchor="end" fill="#000" textLength="10.9" lengthAdjust="spacingAndGlyphs">0</text>
<text x="1187" y="270.9" font-size="19.3" font-family='"DejaVu Sans", "Liberation Sans", sans-serif' text-anchor="end" fill="#000" textLength="21.8" lengthAdjust="spacingAndGlyphs">20</text>
<text x="1187" y="217.3" font-size="19.3" font-family='"DejaVu Sans", "Liberation Sans", sans-serif' text-anchor="end" fill="#000" textLength="21.8" lengthAdjust="spacingAndGlyphs">40</text>
<text x="1187" y="163.6" font-size="19.3" font-family='"DejaVu Sans", "Liberation Sans", sans-serif' text-anchor="end" fill="#000" textLength="21.8" lengthAdjust="spacingAndGlyphs">60</text>
<text x="1187" y="110" font-size="19.3" font-family='"DejaVu Sans", "Liberation Sans", sans-serif' text-anchor="end" fill="#000" textLength="21.8" lengthAdjust="spacingAndGlyphs">80</text>
<text x="1187" y="56.3" font-size="19.3" font-family='"DejaVu Sans", "Liberation Sans", sans-serif' text-anchor="end" fill="#000" textLength="32.7" lengthAdjust="spacingAndGlyphs">100</text>
<text transform="translate(1128.3 177.6) rotate(-90)" font-size="21" text-anchor="middle" font-family='"DejaVu Sans", "Liberation Sans", sans-serif' textLength="196.6" lengthAdjust="spacingAndGlyphs">Normalized To Mode</text>
<line x1="1201.6" y1="317.6" x2="1625.2" y2="317.6" stroke="#111" stroke-width="2"/>
<line x1="1267.6" y1="317.6" x2="1267.6" y2="325.6" stroke="#111" stroke-width="2.4"/>
<line x1="1334" y1="317.6" x2="1334" y2="325.6" stroke="#111" stroke-width="2.4"/>
<line x1="1477.6" y1="317.6" x2="1477.6" y2="325.6" stroke="#111" stroke-width="2.4"/>
<line x1="1298.6" y1="317.6" x2="1298.6" y2="323.6" stroke="#111" stroke-width="1.6"/>
<line x1="1299.5" y1="317.6" x2="1299.5" y2="323.6" stroke="#111" stroke-width="1.6"/>
<line x1="1300.4" y1="317.6" x2="1300.4" y2="323.6" stroke="#111" stroke-width="1.6"/>
<line x1="1301.3" y1="317.6" x2="1301.3" y2="323.6" stroke="#111" stroke-width="2.6"/>
<line x1="1302.3" y1="317.6" x2="1302.3" y2="323.6" stroke="#111" stroke-width="2.6"/>
<line x1="1303.2" y1="317.6" x2="1303.2" y2="323.6" stroke="#111" stroke-width="1.6"/>
<line x1="1304.1" y1="317.6" x2="1304.1" y2="323.6" stroke="#111" stroke-width="1.6"/>
<line x1="1305" y1="317.6" x2="1305" y2="323.6" stroke="#111" stroke-width="1.6"/>
<line x1="1214" y1="317.6" x2="1214" y2="322.1" stroke="#111" stroke-width="1.3"/>
<line x1="1237" y1="317.6" x2="1237" y2="322.1" stroke="#111" stroke-width="1.3"/>
<line x1="1272" y1="317.6" x2="1272" y2="322.1" stroke="#111" stroke-width="1.3"/>
<line x1="1277" y1="317.6" x2="1277" y2="322.1" stroke="#111" stroke-width="1.3"/>
<line x1="1282" y1="317.6" x2="1282" y2="322.1" stroke="#111" stroke-width="1.3"/>
<line x1="1286" y1="317.6" x2="1286" y2="322.1" stroke="#111" stroke-width="1.3"/>
<line x1="1290" y1="317.6" x2="1290" y2="322.1" stroke="#111" stroke-width="1.3"/>
<line x1="1294" y1="317.6" x2="1294" y2="322.1" stroke="#111" stroke-width="1.3"/>
<line x1="1309" y1="317.6" x2="1309" y2="322.1" stroke="#111" stroke-width="1.3"/>
<line x1="1313" y1="317.6" x2="1313" y2="322.1" stroke="#111" stroke-width="1.3"/>
<line x1="1317" y1="317.6" x2="1317" y2="322.1" stroke="#111" stroke-width="1.3"/>
<line x1="1321" y1="317.6" x2="1321" y2="322.1" stroke="#111" stroke-width="1.3"/>
<line x1="1325" y1="317.6" x2="1325" y2="322.1" stroke="#111" stroke-width="1.3"/>
<line x1="1329" y1="317.6" x2="1329" y2="322.1" stroke="#111" stroke-width="1.3"/>
<line x1="1363" y1="317.6" x2="1363" y2="322.1" stroke="#111" stroke-width="1.3"/>
<line x1="1390" y1="317.6" x2="1390" y2="322.1" stroke="#111" stroke-width="1.3"/>
<line x1="1410" y1="317.6" x2="1410" y2="322.1" stroke="#111" stroke-width="1.3"/>
<line x1="1426" y1="317.6" x2="1426" y2="322.1" stroke="#111" stroke-width="1.3"/>
<line x1="1439" y1="317.6" x2="1439" y2="322.1" stroke="#111" stroke-width="1.3"/>
<line x1="1451" y1="317.6" x2="1451" y2="322.1" stroke="#111" stroke-width="1.3"/>
<line x1="1461" y1="317.6" x2="1461" y2="322.1" stroke="#111" stroke-width="1.3"/>
<line x1="1470" y1="317.6" x2="1470" y2="322.1" stroke="#111" stroke-width="1.3"/>
<line x1="1507" y1="317.6" x2="1507" y2="322.1" stroke="#111" stroke-width="1.3"/>
<line x1="1530" y1="317.6" x2="1530" y2="322.1" stroke="#111" stroke-width="1.3"/>
<line x1="1547" y1="317.6" x2="1547" y2="322.1" stroke="#111" stroke-width="1.3"/>
<line x1="1559" y1="317.6" x2="1559" y2="322.1" stroke="#111" stroke-width="1.3"/>
<line x1="1571" y1="317.6" x2="1571" y2="322.1" stroke="#111" stroke-width="1.3"/>
<line x1="1583" y1="317.6" x2="1583" y2="322.1" stroke="#111" stroke-width="1.3"/>
<line x1="1599" y1="317.6" x2="1599" y2="322.1" stroke="#111" stroke-width="1.3"/>
<line x1="1609" y1="317.6" x2="1609" y2="322.1" stroke="#111" stroke-width="1.3"/>
<line x1="1618" y1="317.6" x2="1618" y2="322.1" stroke="#111" stroke-width="1.3"/>
<text x="1298.6" y="355" font-size="18.5" font-family='"DejaVu Sans", "Liberation Sans", sans-serif' fill="#000">0</text>
<text x="1473.2" y="355" font-size="18.5" font-family='"DejaVu Sans", "Liberation Sans", sans-serif' fill="#000" textLength="21" lengthAdjust="spacingAndGlyphs">10</text>
<text x="1496.5" y="340.8" font-size="18.5" font-family='"DejaVu Sans", "Liberation Sans", sans-serif' fill="#000">3</text>
<text x="1285.7" y="389.4" font-size="20" font-family='"DejaVu Sans", "Liberation Sans", sans-serif' fill="#000" textLength="246.2" lengthAdjust="spacingAndGlyphs">Comp–BB796–A :: pSTAT1</text>
<rect x="224.7" y="611" width="52.2" height="173" fill="#f1f1fa" stroke="#000" stroke-width="4.0"/>
<rect x="309.7" y="555" width="52.4" height="229" fill="#fdfdfd" stroke="#000" stroke-width="4.0"/>
<line x1="250.4" y1="606" x2="250.4" y2="618" stroke="#111" stroke-width="1.8"/>
<line x1="236" y1="606" x2="264.5" y2="606" stroke="#111" stroke-width="1.8"/>
<line x1="236" y1="618" x2="264.5" y2="618" stroke="#111" stroke-width="1.8"/>
<line x1="335.8" y1="545.5" x2="335.8" y2="563.3" stroke="#111" stroke-width="1.8"/>
<line x1="322.9" y1="545.5" x2="358.6" y2="545.5" stroke="#111" stroke-width="1.8"/>
<line x1="322.9" y1="563.3" x2="358.6" y2="563.3" stroke="#111" stroke-width="1.8"/>
<circle cx="231.2" cy="606.7" r="9.3" fill="#f0822a" stroke="#111" stroke-width="1.4"/>
<circle cx="250.7" cy="613.3" r="9.3" fill="#a56d3a" stroke="#111" stroke-width="1.4"/>
<circle cx="269.8" cy="616.4" r="9.3" fill="#1a14e6" stroke="#111" stroke-width="1.4"/>
<circle cx="270" cy="592.4" r="9.3" fill="#55f02a" stroke="#111" stroke-width="1.4"/>
<circle cx="231.7" cy="631.2" r="9.3" fill="#fa50f0" stroke="#111" stroke-width="1.4"/>
<circle cx="315.7" cy="530.7" r="9.3" fill="#a56d3a" stroke="#111" stroke-width="1.4"/>
<circle cx="355" cy="540" r="9.3" fill="#1a14e6" stroke="#111" stroke-width="1.4"/>
<circle cx="316.2" cy="551.4" r="9.3" fill="#55f02a" stroke="#111" stroke-width="1.4"/>
<circle cx="316.9" cy="579.3" r="9.3" fill="#f0822a" stroke="#111" stroke-width="1.4"/>
<circle cx="355.5" cy="570.5" r="9.3" fill="#fa50f0" stroke="#111" stroke-width="1.4"/>
<line x1="193.8" y1="483.9" x2="193.8" y2="785.3" stroke="#000" stroke-width="3"/>
<line x1="181.8" y1="784" x2="392.4" y2="784" stroke="#000" stroke-width="2.8"/>
<line x1="181.8" y1="485.2" x2="193.8" y2="485.2" stroke="#000" stroke-width="2.8"/>
<line x1="181.8" y1="585.2" x2="193.8" y2="585.2" stroke="#000" stroke-width="2.8"/>
<line x1="181.8" y1="684.6" x2="193.8" y2="684.6" stroke="#000" stroke-width="2.8"/>
<line x1="181.8" y1="784" x2="193.8" y2="784" stroke="#000" stroke-width="2.8"/>
<text x="174.5" y="493.4" font-size="23.5" font-weight="bold" text-anchor="end" fill="#000" textLength="36" lengthAdjust="spacingAndGlyphs">600</text>
<text x="174.5" y="593.4" font-size="23.5" font-weight="bold" text-anchor="end" fill="#000" textLength="36" lengthAdjust="spacingAndGlyphs">400</text>
<text x="174.5" y="692.8" font-size="23.5" font-weight="bold" text-anchor="end" fill="#000" textLength="36" lengthAdjust="spacingAndGlyphs">200</text>
<text x="174.5" y="792.2" font-size="23.5" font-weight="bold" text-anchor="end" fill="#000" textLength="12" lengthAdjust="spacingAndGlyphs">0</text>
<line x1="250.4" y1="784" x2="250.4" y2="796.5" stroke="#000" stroke-width="2.8"/>
<line x1="335.8" y1="784" x2="335.8" y2="796.5" stroke="#000" stroke-width="2.8"/>
<path d="M250.6 575.2 L250.6 496.3 L336 496.3 L336 514.7" fill="none" stroke="#000" stroke-width="3.1"/>
<text x="231" y="483.2" font-size="30" font-weight="bold" fill="#000">*</text><text x="257.6" y="480.6" font-size="25.5" fill="#000" textLength="71.8" lengthAdjust="spacingAndGlyphs">0.0312</text>
<text transform="translate(123.8 807.9) rotate(-90)" font-size="24" font-weight="bold" textLength="46" lengthAdjust="spacingAndGlyphs">CD4</text>
<line x1="103.1" y1="747.4" x2="131" y2="747.4" stroke="#333" stroke-width="1.6"/>
<text transform="translate(123.8 731.7) rotate(-90)" font-size="24" font-weight="bold" textLength="270.4" lengthAdjust="spacingAndGlyphs">Median MFI (pSMAD2/3)</text>
<text transform="translate(256.9 815.5) rotate(-45)" font-size="23.2" font-weight="bold" text-anchor="end">Unstimulated</text>
<text transform="translate(342.3 815.5) rotate(-45)" font-size="23.2" font-weight="bold" text-anchor="end">TGF-β</text>
<rect x="551.7" y="730" width="53.5" height="54" fill="#f1f1fa" stroke="#000" stroke-width="4.0"/>
<rect x="637.9" y="658.6" width="53.5" height="125.4" fill="#fdfdfd" stroke="#000" stroke-width="4.0"/>
<line x1="578.3" y1="705.7" x2="578.3" y2="751.4" stroke="#111" stroke-width="1.8"/>
<line x1="565.2" y1="705.7" x2="593.3" y2="705.7" stroke="#111" stroke-width="1.8"/>
<line x1="565.2" y1="751.4" x2="593.3" y2="751.4" stroke="#111" stroke-width="1.8"/>
<line x1="664" y1="618.8" x2="664" y2="695.5" stroke="#111" stroke-width="1.8"/>
<line x1="649.8" y1="618.8" x2="679" y2="618.8" stroke="#111" stroke-width="1.8"/>
<line x1="649.8" y1="695.5" x2="679" y2="695.5" stroke="#111" stroke-width="1.8"/>
<circle cx="579" cy="642.6" r="9.3" fill="#55f02a" stroke="#111" stroke-width="1.4"/>
<circle cx="579" cy="720" r="9.3" fill="#f0822a" stroke="#111" stroke-width="1.4"/>
<circle cx="559.3" cy="747.4" r="9.3" fill="#fa50f0" stroke="#111" stroke-width="1.4"/>
<circle cx="598.1" cy="762.1" r="9.3" fill="#a56d3a" stroke="#111" stroke-width="1.4"/>
<circle cx="559.3" cy="768.6" r="9.3" fill="#1a14e6" stroke="#111" stroke-width="1.4"/>
<circle cx="664.5" cy="522.9" r="9.3" fill="#f0822a" stroke="#111" stroke-width="1.4"/>
<circle cx="664.5" cy="627.1" r="9.3" fill="#55f02a" stroke="#111" stroke-width="1.4"/>
<circle cx="664.5" cy="681.2" r="9.3" fill="#fa50f0" stroke="#111" stroke-width="1.4"/>
<circle cx="645" cy="730" r="9.3" fill="#1a14e6" stroke="#111" stroke-width="1.4"/>
<circle cx="683.6" cy="724" r="9.3" fill="#a56d3a" stroke="#111" stroke-width="1.4"/>
<line x1="522.4" y1="483.9" x2="522.4" y2="785.3" stroke="#000" stroke-width="3"/>
<line x1="510" y1="784" x2="720.5" y2="784" stroke="#000" stroke-width="2.8"/>
<line x1="510" y1="485.2" x2="522.4" y2="485.2" stroke="#000" stroke-width="2.8"/>
<line x1="510" y1="584.3" x2="522.4" y2="584.3" stroke="#000" stroke-width="2.8"/>
<line x1="510" y1="684.3" x2="522.4" y2="684.3" stroke="#000" stroke-width="2.8"/>
<line x1="510" y1="784" x2="522.4" y2="784" stroke="#000" stroke-width="2.8"/>
<text x="503" y="493.4" font-size="23.5" font-weight="bold" text-anchor="end" fill="#000" textLength="36" lengthAdjust="spacingAndGlyphs">600</text>
<text x="503" y="592.5" font-size="23.5" font-weight="bold" text-anchor="end" fill="#000" textLength="36" lengthAdjust="spacingAndGlyphs">400</text>
<text x="503" y="692.5" font-size="23.5" font-weight="bold" text-anchor="end" fill="#000" textLength="36" lengthAdjust="spacingAndGlyphs">200</text>
<text x="503" y="792.2" font-size="23.5" font-weight="bold" text-anchor="end" fill="#000" textLength="12" lengthAdjust="spacingAndGlyphs">0</text>
<line x1="578.3" y1="784" x2="578.3" y2="796.5" stroke="#000" stroke-width="2.8"/>
<line x1="664" y1="784" x2="664" y2="796.5" stroke="#000" stroke-width="2.8"/>
<path d="M578.3 626.4 L578.3 487.1 L664 487.1 L664 506.2" fill="none" stroke="#000" stroke-width="3.1"/>
<text x="559.5" y="474.8" font-size="30" font-weight="bold" fill="#000">*</text><text x="586.2" y="471.8" font-size="25.5" fill="#000" textLength="71.6" lengthAdjust="spacingAndGlyphs">0.0312</text>
<text transform="translate(451.8 788.5) rotate(-90)" font-size="24" font-weight="bold" textLength="46" lengthAdjust="spacingAndGlyphs">CD4</text>
<line x1="431.1" y1="729.4" x2="459" y2="729.4" stroke="#333" stroke-width="1.6"/>
<text transform="translate(451.8 718.4) rotate(-90)" font-size="24" font-weight="bold" textLength="239.9" lengthAdjust="spacingAndGlyphs">Median MFI (pSTAT1)</text>
<text transform="translate(584.8 815.5) rotate(-45)" font-size="23.2" font-weight="bold" text-anchor="end">Unstimulated</text>
<text transform="translate(670.5 815.5) rotate(-45)" font-size="23.2" font-weight="bold" text-anchor="end">IFN-γ</text>
<rect x="892.9" y="772.5" width="52.6" height="11.5" fill="#f1f1fa" stroke="#000" stroke-width="4.0"/>
<rect x="977.4" y="611" width="54.3" height="173" fill="#fdfdfd" stroke="#000" stroke-width="4.0"/>
<line x1="919" y1="765.7" x2="919" y2="778" stroke="#111" stroke-width="1.8"/>
<line x1="900" y1="765.7" x2="933" y2="765.7" stroke="#111" stroke-width="1.8"/>
<line x1="900" y1="778" x2="933" y2="778" stroke="#111" stroke-width="1.8"/>
<line x1="1004.3" y1="573.3" x2="1004.3" y2="646.7" stroke="#111" stroke-width="1.8"/>
<line x1="995" y1="573.3" x2="1019" y2="573.3" stroke="#111" stroke-width="1.8"/>
<line x1="995" y1="646.7" x2="1019" y2="646.7" stroke="#111" stroke-width="1.8"/>
<circle cx="919" cy="750.2" r="9.3" fill="#55f02a" stroke="#111" stroke-width="1.4"/>
<circle cx="912.6" cy="768.1" r="9.3" fill="#f0822a" stroke="#111" stroke-width="1.4"/>
<circle cx="900" cy="780" r="9.3" fill="#1a14e6" stroke="#111" stroke-width="1.4"/>
<circle cx="925.7" cy="778.8" r="9.3" fill="#a56d3a" stroke="#111" stroke-width="1.4"/>
<circle cx="938.1" cy="774.8" r="9.3" fill="#fa50f0" stroke="#111" stroke-width="1.4"/>
<circle cx="1004.3" cy="534" r="9.3" fill="#55f02a" stroke="#111" stroke-width="1.4"/>
<circle cx="1004.3" cy="554.3" r="9.3" fill="#f0822a" stroke="#111" stroke-width="1.4"/>
<circle cx="1004.3" cy="574.8" r="9.3" fill="#1a14e6" stroke="#111" stroke-width="1.4"/>
<circle cx="1004.3" cy="652.6" r="9.3" fill="#fa50f0" stroke="#111" stroke-width="1.4"/>
<circle cx="1004.3" cy="732.4" r="9.3" fill="#a56d3a" stroke="#111" stroke-width="1.4"/>
<line x1="861.9" y1="483.9" x2="861.9" y2="785.3" stroke="#000" stroke-width="3"/>
<line x1="851.2" y1="784" x2="1060.7" y2="784" stroke="#000" stroke-width="2.8"/>
<line x1="851.2" y1="485.2" x2="861.9" y2="485.2" stroke="#000" stroke-width="2.8"/>
<line x1="851.2" y1="545.5" x2="861.9" y2="545.5" stroke="#000" stroke-width="2.8"/>
<line x1="851.2" y1="605" x2="861.9" y2="605" stroke="#000" stroke-width="2.8"/>
<line x1="851.2" y1="664.5" x2="861.9" y2="664.5" stroke="#000" stroke-width="2.8"/>
<line x1="851.2" y1="724" x2="861.9" y2="724" stroke="#000" stroke-width="2.8"/>
<line x1="851.2" y1="784" x2="861.9" y2="784" stroke="#000" stroke-width="2.8"/>
<text x="845.5" y="494.4" font-size="23.5" font-weight="bold" text-anchor="end" fill="#000" textLength="48" lengthAdjust="spacingAndGlyphs">2500</text>
<text x="845.5" y="554.7" font-size="23.5" font-weight="bold" text-anchor="end" fill="#000" textLength="48" lengthAdjust="spacingAndGlyphs">2000</text>
<text x="845.5" y="614.2" font-size="23.5" font-weight="bold" text-anchor="end" fill="#000" textLength="48" lengthAdjust="spacingAndGlyphs">1500</text>
<text x="845.5" y="673.7" font-size="23.5" font-weight="bold" text-anchor="end" fill="#000" textLength="48" lengthAdjust="spacingAndGlyphs">1000</text>
<text x="845.5" y="733.2" font-size="23.5" font-weight="bold" text-anchor="end" fill="#000" textLength="36" lengthAdjust="spacingAndGlyphs">500</text>
<text x="845.5" y="793.2" font-size="23.5" font-weight="bold" text-anchor="end" fill="#000" textLength="12" lengthAdjust="spacingAndGlyphs">0</text>
<line x1="919" y1="784" x2="919" y2="796.5" stroke="#000" stroke-width="2.8"/>
<line x1="1004.3" y1="784" x2="1004.3" y2="796.5" stroke="#000" stroke-width="2.8"/>
<path d="M919 733.6 L919 499.4 L1004.3 499.4 L1004.3 517.5" fill="none" stroke="#000" stroke-width="3.1"/>
<text x="900.3" y="485.7" font-size="30" font-weight="bold" fill="#000">*</text><text x="926.4" y="483" font-size="25.5" fill="#000" textLength="72" lengthAdjust="spacingAndGlyphs">0.0312</text>
<text transform="translate(780 788.5) rotate(-90)" font-size="24" font-weight="bold" textLength="46" lengthAdjust="spacingAndGlyphs">CD4</text>
<line x1="759.3" y1="729.4" x2="787.2" y2="729.4" stroke="#333" stroke-width="1.6"/>
<text transform="translate(780 718.4) rotate(-90)" font-size="24" font-weight="bold" textLength="239.9" lengthAdjust="spacingAndGlyphs">Median MFI (pSTAT1)</text>
<text transform="translate(925.5 815.5) rotate(-45)" font-size="23.2" font-weight="bold" text-anchor="end">Unstimulated</text>
<text transform="translate(1010.8 815.5) rotate(-45)" font-size="23.2" font-weight="bold" text-anchor="end">IFN-β</text>
<rect x="245.6" y="2383.2" width="28.3" height="93.5" fill="#f7f9fc" stroke="#000" stroke-width="4.2"/>
<rect x="295.3" y="2383.8" width="28.8" height="92.9" fill="#f7f9fc" stroke="#000" stroke-width="4.2"/>
<rect x="344.9" y="2382" width="29.2" height="94.7" fill="#f7f9fc" stroke="#000" stroke-width="4.2"/>
<rect x="394.2" y="2320" width="29.6" height="156.7" fill="#f7f9fc" stroke="#000" stroke-width="4.2"/>
<rect x="445.1" y="2386.2" width="26.7" height="90.5" fill="#f7f9fc" stroke="#000" stroke-width="4.2"/>
<rect x="494.6" y="2375.3" width="27.1" height="101.4" fill="#f7f9fc" stroke="#000" stroke-width="4.2"/>
<rect x="544" y="2327.8" width="27.3" height="148.9" fill="#f7f9fc" stroke="#000" stroke-width="4.2"/>
<rect x="593.9" y="2326.2" width="26.8" height="150.5" fill="#f7f9fc" stroke="#000" stroke-width="4.2"/>
<circle cx="259.8" cy="2352" r="8" fill="#f0282d" fill-opacity="0.93"/>
<circle cx="268" cy="2374" r="8" fill="#f862f0" fill-opacity="0.93"/>
<circle cx="258.8" cy="2386" r="8" fill="#2a22ee" fill-opacity="0.93"/>
<circle cx="251.5" cy="2397" r="8" fill="#8a30e6" fill-opacity="0.93"/>
<circle cx="268.6" cy="2394.3" r="8" fill="#3cf02a" fill-opacity="0.93"/>
<circle cx="309.4" cy="2355.6" r="8" fill="#f0282d" fill-opacity="0.93"/>
<circle cx="317.7" cy="2374" r="8" fill="#3cf02a" fill-opacity="0.93"/>
<circle cx="301.1" cy="2382.3" r="8" fill="#f862f0" fill-opacity="0.93"/>
<circle cx="317.7" cy="2392" r="8" fill="#2a22ee" fill-opacity="0.93"/>
<circle cx="301.1" cy="2401.6" r="8" fill="#8a30e6" fill-opacity="0.93"/>
<circle cx="355" cy="2352.9" r="8" fill="#3cf02a" fill-opacity="0.93"/>
<circle cx="362.8" cy="2361.2" r="8" fill="#f862f0" fill-opacity="0.93"/>
<circle cx="359.1" cy="2386" r="8" fill="#2a22ee" fill-opacity="0.93"/>
<circle cx="350.8" cy="2400.7" r="8" fill="#f0282d" fill-opacity="0.93"/>
<circle cx="367.4" cy="2398.3" r="8" fill="#8a30e6" fill-opacity="0.93"/>
<circle cx="400.1" cy="2294.1" r="8" fill="#3cf02a" fill-opacity="0.93"/>
<circle cx="417" cy="2296.6" r="8" fill="#f0282d" fill-opacity="0.93"/>
<circle cx="408.6" cy="2313.5" r="8" fill="#f862f0" fill-opacity="0.93"/>
<circle cx="417" cy="2333.6" r="8" fill="#2a22ee" fill-opacity="0.93"/>
<circle cx="400.1" cy="2346.8" r="8" fill="#8a30e6" fill-opacity="0.93"/>
<circle cx="458.4" cy="2356.4" r="8" fill="#3cf02a" fill-opacity="0.93"/>
<circle cx="466.9" cy="2373.8" r="8" fill="#f862f0" fill-opacity="0.93"/>
<circle cx="458.4" cy="2386.7" r="8" fill="#2a22ee" fill-opacity="0.93"/>
<circle cx="450" cy="2402" r="8" fill="#f0282d" fill-opacity="0.93"/>
<circle cx="466.9" cy="2399" r="8" fill="#8a30e6" fill-opacity="0.93"/>
<circle cx="499.9" cy="2347.2" r="8" fill="#3cf02a" fill-opacity="0.93"/>
<circle cx="516.5" cy="2361.4" r="8" fill="#f0282d" fill-opacity="0.93"/>
<circle cx="499.9" cy="2373" r="8" fill="#2a22ee" fill-opacity="0.93"/>
<circle cx="499.9" cy="2390.2" r="8" fill="#8a30e6" fill-opacity="0.93"/>
<circle cx="516.5" cy="2388.3" r="8" fill="#f862f0" fill-opacity="0.93"/>
<circle cx="557.8" cy="2285" r="8" fill="#3cf02a" fill-opacity="0.93"/>
<circle cx="557.8" cy="2317.5" r="8" fill="#f862f0" fill-opacity="0.93"/>
<circle cx="557.8" cy="2336" r="8" fill="#2a22ee" fill-opacity="0.93"/>
<circle cx="565.9" cy="2336.8" r="8" fill="#8a30e6" fill-opacity="0.93"/>
<circle cx="549.3" cy="2348.9" r="8" fill="#f0282d" fill-opacity="0.93"/>
<circle cx="607.4" cy="2269.2" r="8" fill="#3cf02a" fill-opacity="0.93"/>
<circle cx="615.4" cy="2317.5" r="8" fill="#2a22ee" fill-opacity="0.93"/>
<circle cx="599.2" cy="2323.1" r="8" fill="#f0282d" fill-opacity="0.93"/>
<circle cx="615.4" cy="2348.9" r="8" fill="#8a30e6" fill-opacity="0.93"/>
<circle cx="599.2" cy="2359.3" r="8" fill="#f862f0" fill-opacity="0.93"/>
<line x1="259.8" y1="2372.2" x2="259.8" y2="2392" stroke="#333" stroke-width="1.6"/>
<line x1="252" y1="2372.2" x2="268" y2="2372.2" stroke="#333" stroke-width="1.6"/>
<line x1="252" y1="2392" x2="268" y2="2392" stroke="#333" stroke-width="1.6"/>
<line x1="309.4" y1="2372" x2="309.4" y2="2392" stroke="#333" stroke-width="1.6"/>
<line x1="301" y1="2372" x2="317" y2="2372" stroke="#333" stroke-width="1.6"/>
<line x1="301" y1="2392" x2="317" y2="2392" stroke="#333" stroke-width="1.6"/>
<line x1="358.7" y1="2369.5" x2="358.7" y2="2392" stroke="#333" stroke-width="1.6"/>
<line x1="350" y1="2369.5" x2="367" y2="2369.5" stroke="#333" stroke-width="1.6"/>
<line x1="350" y1="2392" x2="367" y2="2392" stroke="#333" stroke-width="1.6"/>
<line x1="408.5" y1="2306.5" x2="408.5" y2="2327.1" stroke="#333" stroke-width="1.6"/>
<line x1="400" y1="2306.5" x2="417" y2="2306.5" stroke="#333" stroke-width="1.6"/>
<line x1="400" y1="2327.1" x2="417" y2="2327.1" stroke="#333" stroke-width="1.6"/>
<line x1="458.3" y1="2375.4" x2="458.3" y2="2392" stroke="#333" stroke-width="1.6"/>
<line x1="450" y1="2375.4" x2="466" y2="2375.4" stroke="#333" stroke-width="1.6"/>
<line x1="450" y1="2392" x2="466" y2="2392" stroke="#333" stroke-width="1.6"/>
<line x1="507.9" y1="2363.3" x2="507.9" y2="2380" stroke="#333" stroke-width="1.6"/>
<line x1="500" y1="2363.3" x2="516" y2="2363.3" stroke="#333" stroke-width="1.6"/>
<line x1="500" y1="2380" x2="516" y2="2380" stroke="#333" stroke-width="1.6"/>
<line x1="557.6" y1="2312.6" x2="557.6" y2="2335.7" stroke="#333" stroke-width="1.6"/>
<line x1="549" y1="2312.6" x2="566" y2="2312.6" stroke="#333" stroke-width="1.6"/>
<line x1="549" y1="2335.7" x2="566" y2="2335.7" stroke="#333" stroke-width="1.6"/>
<line x1="607.2" y1="2307.5" x2="607.2" y2="2339.7" stroke="#333" stroke-width="1.6"/>
<line x1="599" y1="2307.5" x2="615.5" y2="2307.5" stroke="#333" stroke-width="1.6"/>
<line x1="599" y1="2339.7" x2="615.5" y2="2339.7" stroke="#333" stroke-width="1.6"/>
<line x1="226.3" y1="2199.5" x2="226.3" y2="2478.7" stroke="#000" stroke-width="3.8"/>
<line x1="215.6" y1="2476.7" x2="640.7" y2="2476.7" stroke="#000" stroke-width="3.8"/>
<line x1="215.6" y1="2476.7" x2="226.3" y2="2476.7" stroke="#000" stroke-width="3.6"/>
<line x1="215.6" y1="2384.9" x2="226.3" y2="2384.9" stroke="#000" stroke-width="3.6"/>
<line x1="215.6" y1="2293.2" x2="226.3" y2="2293.2" stroke="#000" stroke-width="3.6"/>
<line x1="215.6" y1="2201.4" x2="226.3" y2="2201.4" stroke="#000" stroke-width="3.6"/>
<text x="209.7" y="2209" font-size="20.5" font-weight="bold" text-anchor="end" fill="#000">1500</text>
<text x="209.7" y="2300.8" font-size="20.5" font-weight="bold" text-anchor="end" fill="#000">1000</text>
<text x="209.7" y="2392.5" font-size="20.5" font-weight="bold" text-anchor="end" fill="#000">500</text>
<text x="209.7" y="2484.3" font-size="20.5" font-weight="bold" text-anchor="end" fill="#000">0</text>
<line x1="259.8" y1="2476.7" x2="259.8" y2="2489.5" stroke="#000" stroke-width="3.6"/>
<line x1="309.4" y1="2476.7" x2="309.4" y2="2489.5" stroke="#000" stroke-width="3.6"/>
<line x1="358.7" y1="2476.7" x2="358.7" y2="2489.5" stroke="#000" stroke-width="3.6"/>
<line x1="408.5" y1="2476.7" x2="408.5" y2="2489.5" stroke="#000" stroke-width="3.6"/>
<line x1="458.3" y1="2476.7" x2="458.3" y2="2489.5" stroke="#000" stroke-width="3.6"/>
<line x1="507.9" y1="2476.7" x2="507.9" y2="2489.5" stroke="#000" stroke-width="3.6"/>
<line x1="557.6" y1="2476.7" x2="557.6" y2="2489.5" stroke="#000" stroke-width="3.6"/>
<line x1="607.2" y1="2476.7" x2="607.2" y2="2489.5" stroke="#000" stroke-width="3.6"/>
<text transform="translate(153 2338.3) rotate(-90)" font-size="22.5" font-weight="bold" text-anchor="middle" textLength="224.6" lengthAdjust="spacingAndGlyphs">IRF_1 MFI_CD4+ TEM</text>
<path d="M259.6 1892.6 L259.6 1876.4 L607.4 1876.4 L607.4 1892.6" fill="none" stroke="#000" stroke-width="2.2"/>
<path d="M259.6 1952.8 L259.6 1936.6 L558.4 1936.6 L558.4 1952.8" fill="none" stroke="#000" stroke-width="2.2"/>
<path d="M259.6 2012.8 L259.6 1996.6 L508.5 1996.6 L508.5 2012.8" fill="none" stroke="#000" stroke-width="2.2"/>
<path d="M259.6 2072.5 L259.6 2056.3 L458.4 2056.3 L458.4 2072.5" fill="none" stroke="#000" stroke-width="2.2"/>
<path d="M259.6 2133 L259.6 2116.8 L403.2 2116.8 L403.2 2133" fill="none" stroke="#000" stroke-width="2.2"/>
<path d="M414.3 2133 L414.3 2116.8 L607.4 2116.8 L607.4 2133" fill="none" stroke="#000" stroke-width="2.2"/>
<path d="M259.6 2192.4 L259.6 2176.2 L358.7 2176.2 L358.7 2192.4" fill="none" stroke="#000" stroke-width="2.2"/>
<path d="M259.6 2252.9 L259.6 2236.7 L309.4 2236.7 L309.4 2252.9" fill="none" stroke="#000" stroke-width="2.2"/>
<path d="M557.8 2250.7 L557.8 2233 L607.4 2233 L607.4 2250.7" fill="none" stroke="#000" stroke-width="2.2"/>
<text x="377.5" y="1864.5" font-size="27" font-weight="bold" fill="#000">*</text>
<text x="399.8" y="1861.4" font-size="21.8" fill="#000" textLength="67.8" lengthAdjust="spacingAndGlyphs">0.0105</text>
<text x="348.8" y="1924.8" font-size="27" font-weight="bold" fill="#000">*</text>
<text x="375.6" y="1921.8" font-size="21.8" fill="#000" textLength="65.5" lengthAdjust="spacingAndGlyphs">0.0141</text>
<text x="349.9" y="1981.6" font-size="21.8" fill="#000" textLength="67.1" lengthAdjust="spacingAndGlyphs">0.5657</text>
<text x="325.5" y="2041.4" font-size="21.8" fill="#000" textLength="66.7" lengthAdjust="spacingAndGlyphs">0.6015</text>
<text x="264" y="2105.5" font-size="27" font-weight="bold" fill="#000" textLength="22.4" lengthAdjust="spacingAndGlyphs">**</text>
<text x="298" y="2102.4" font-size="21.8" fill="#000" textLength="66.6" lengthAdjust="spacingAndGlyphs">0.0077</text>
<text x="477.8" y="2102.4" font-size="21.8" fill="#000" textLength="66.6" lengthAdjust="spacingAndGlyphs">0.9168</text>
<text x="276" y="2161.5" font-size="21.8" fill="#000" textLength="67.4" lengthAdjust="spacingAndGlyphs">0.8755</text>
<text x="251" y="2222" font-size="21.8" fill="#000" textLength="66.7" lengthAdjust="spacingAndGlyphs">0.4972</text>
<text x="549.3" y="2219.6" font-size="21.8" fill="#000" textLength="66.5" lengthAdjust="spacingAndGlyphs">0.9168</text>
<text x="226.9" y="2515.5" font-size="22" text-anchor="end" fill="#000" textLength="168.5" lengthAdjust="spacingAndGlyphs">TGF-β (20ng/mL)</text>
<text x="226.9" y="2554.2" font-size="22" text-anchor="end" fill="#000" textLength="225" lengthAdjust="spacingAndGlyphs">Panobinostat (100 nM)</text>
<text x="226.9" y="2594.4" font-size="22" text-anchor="end" fill="#000" textLength="145" lengthAdjust="spacingAndGlyphs">IFN-γ (1ng/mL)</text>
<rect x="255.3" y="2507.7" width="9" height="4.2" fill="#000"/>
<path d="M301.9 2512.4 h15 M309.4 2504.9 v15" stroke="#000" stroke-width="4.4"/>
<rect x="354.2" y="2507.7" width="9" height="4.2" fill="#000"/>
<rect x="404" y="2507.7" width="9" height="4.2" fill="#000"/>
<path d="M450.8 2512.4 h15 M458.3 2504.9 v15" stroke="#000" stroke-width="4.4"/>
<path d="M500.4 2508.3 h15 M507.9 2500.8 v15" stroke="#000" stroke-width="4.4"/>
<rect x="553.1" y="2507.7" width="9" height="4.2" fill="#000"/>
<path d="M599.7 2508.3 h15 M607.2 2500.8 v15" stroke="#000" stroke-width="4.4"/>
<rect x="255.3" y="2547.4" width="9" height="4.2" fill="#000"/>
<rect x="304.9" y="2547.4" width="9" height="4.2" fill="#000"/>
<path d="M351.2 2549.5 h15 M358.7 2542 v15" stroke="#000" stroke-width="4.4"/>
<rect x="404" y="2547.4" width="9" height="4.2" fill="#000"/>
<path d="M450.8 2549.5 h15 M458.3 2542 v15" stroke="#000" stroke-width="4.4"/>
<rect x="503.4" y="2547.4" width="9" height="4.2" fill="#000"/>
<path d="M550.1 2548.5 h15 M557.6 2541 v15" stroke="#000" stroke-width="4.4"/>
<path d="M599.7 2547.5 h15 M607.2 2540 v15" stroke="#000" stroke-width="4.4"/>
<rect x="255.3" y="2587.4" width="9" height="4.2" fill="#000"/>
<rect x="304.9" y="2587.4" width="9" height="4.2" fill="#000"/>
<rect x="354.2" y="2587.4" width="9" height="4.2" fill="#000"/>
<path d="M401 2592 h15 M408.5 2584.5 v15" stroke="#000" stroke-width="4.4"/>
<rect x="453.8" y="2587.4" width="9" height="4.2" fill="#000"/>
<path d="M500.4 2592 h15 M507.9 2584.5 v15" stroke="#000" stroke-width="4.4"/>
<path d="M550.1 2588 h15 M557.6 2580.5 v15" stroke="#000" stroke-width="4.4"/>
<path d="M599.7 2588 h15 M607.2 2580.5 v15" stroke="#000" stroke-width="4.4"/>
<path d="M694.3 2016.2 L694.3 2015.1 L697.9 2015.8 L702.9 2015.1 L709.7 2015.7 L718.7 2016.2 L730.8 2016.1 L745.4 2015.2 L761.1 2015.2 L776.2 2015.6 L790.9 2015 L805.8 2014.4 L820.3 2015.3 L833.7 2014.2 L846 2014.4 L857.6 2013.8 L868 2013 L876.8 2012.9 L883.6 2011 L888.6 2010.5 L892.8 2008.8 L896.9 2008.5 L901 2006.3 L904.8 2005.5 L908.2 2004.4 L911.3 2002.7 L913.8 1999.7 L915.9 1998.4 L917.9 1995.7 L919.9 1992 L922 1989 L924.2 1984.4 L926.4 1979.8 L928.5 1974.5 L930.7 1968.1 L933 1961 L935.2 1952.8 L937.1 1946.8 L938.8 1941.7 L940.2 1936.9 L941.5 1933.3 L942.9 1928.4 L944.3 1923.4 L945.7 1917.1 L947.1 1911 L948.6 1905.5 L950.2 1902.5 L951.7 1899 L953.3 1898.2 L954.9 1897.3 L956.6 1898.3 L958.2 1902.2 L959.9 1905.8 L961.6 1908.6 L963.3 1912.8 L965.2 1915.6 L967 1919.6 L968.7 1923.3 L970.3 1927 L971.7 1929.3 L973.1 1932.8 L974.5 1937.2 L975.9 1942.7 L977.4 1949.1 L978.8 1955.1 L980.2 1960.1 L981.7 1966.1 L983.1 1970.4 L984.5 1975.2 L986 1980.7 L987.3 1986.4 L988.7 1991.8 L990.1 1996.3 L991.7 2001.2 L993.6 2004.1 L995.7 2007.2 L997.9 2010.8 L1000.3 2012.5 L1002.7 2013.3 L1005.2 2014.2 L1008.1 2015.1 L1011.8 2014.6 L1017.3 2015.2 L1024.1 2016.1 L1030.4 2015.6 L1034.8 2015.9 L1034.8 2016.2Z" fill="#a8f08a" fill-opacity="0.66"/>
<path d="M694.3 2015.1 L697.9 2015.8 L702.9 2015.1 L709.7 2015.7 L718.7 2016.2 L730.8 2016.1 L745.4 2015.2 L761.1 2015.2 L776.2 2015.6 L790.9 2015 L805.8 2014.4 L820.3 2015.3 L833.7 2014.2 L846 2014.4 L857.6 2013.8 L868 2013 L876.8 2012.9 L883.6 2011 L888.6 2010.5 L892.8 2008.8 L896.9 2008.5 L901 2006.3 L904.8 2005.5 L908.2 2004.4 L911.3 2002.7 L913.8 1999.7 L915.9 1998.4 L917.9 1995.7 L919.9 1992 L922 1989 L924.2 1984.4 L926.4 1979.8 L928.5 1974.5 L930.7 1968.1 L933 1961 L935.2 1952.8 L937.1 1946.8 L938.8 1941.7 L940.2 1936.9 L941.5 1933.3 L942.9 1928.4 L944.3 1923.4 L945.7 1917.1 L947.1 1911 L948.6 1905.5 L950.2 1902.5 L951.7 1899 L953.3 1898.2 L954.9 1897.3 L956.6 1898.3 L958.2 1902.2 L959.9 1905.8 L961.6 1908.6 L963.3 1912.8 L965.2 1915.6 L967 1919.6 L968.7 1923.3 L970.3 1927 L971.7 1929.3 L973.1 1932.8 L974.5 1937.2 L975.9 1942.7 L977.4 1949.1 L978.8 1955.1 L980.2 1960.1 L981.7 1966.1 L983.1 1970.4 L984.5 1975.2 L986 1980.7 L987.3 1986.4 L988.7 1991.8 L990.1 1996.3 L991.7 2001.2 L993.6 2004.1 L995.7 2007.2 L997.9 2010.8 L1000.3 2012.5 L1002.7 2013.3 L1005.2 2014.2 L1008.1 2015.1 L1011.8 2014.6 L1017.3 2015.2 L1024.1 2016.1 L1030.4 2015.6 L1034.8 2015.9 L1182.3 2016.2" fill="none" stroke="#7af03c" stroke-width="1.9" stroke-linejoin="round"/>
<path d="M883.6 2011 L888.6 2010.5 L892.8 2008.8 L896.9 2008.5 L901 2006.3 L904.8 2005.5 L908.2 2004.4 L911.3 2002.7 L913.8 1999.7 L915.9 1998.4 L917.9 1995.7 L919.9 1992 L922 1989 L924.2 1984.4 L926.4 1979.8 L928.5 1974.5 L930.7 1968.1 L933 1961 L935.2 1952.8 L937.1 1946.8 L938.8 1941.7 L940.2 1936.9 L941.5 1933.3 L942.9 1928.4 L944.3 1923.4 L945.7 1917.1 L947.1 1911 L948.6 1905.5 L950.2 1902.5 L951.7 1899 L953.3 1898.2 L954.9 1897.3 L956.6 1898.3 L958.2 1902.2 L959.9 1905.8 L961.6 1908.6 L963.3 1912.8 L965.2 1915.6 L967 1919.6 L968.7 1923.3 L970.3 1927 L971.7 1929.3 L973.1 1932.8 L974.5 1937.2 L975.9 1942.7 L977.4 1949.1 L978.8 1955.1 L980.2 1960.1 L981.7 1966.1 L983.1 1970.4 L984.5 1975.2 L986 1980.7 L987.3 1986.4 L988.7 1991.8 L990.1 1996.3 L991.7 2001.2 L993.6 2004.1 L995.7 2007.2 L997.9 2010.8 L1000.3 2012.5" fill="none" stroke="#7af03c" stroke-width="4.6" stroke-linejoin="round" stroke-linecap="round"/>
<path d="M694.3 2081.6 L694.3 2072.5 L695.1 2072.5 L696.2 2072.6 L697.4 2073.9 L698.6 2074.2 L698.8 2075.6 L698.3 2077.2 L699 2078.7 L702.9 2080.1 L711.6 2080.1 L723.7 2079.9 L736.5 2079.1 L747.5 2078.8 L755.8 2078 L762.8 2077.3 L769.4 2077 L776.2 2077.2 L783.4 2075.9 L790.6 2075.8 L797.8 2075 L804.9 2073.6 L812.1 2073.7 L819.3 2072 L826.5 2072.3 L833.7 2071.6 L840.9 2070.3 L848 2070.4 L855.2 2070 L862.4 2068.7 L870 2069 L877.9 2068 L885.2 2068.4 L891.1 2067.1 L895.2 2065.6 L898 2062.1 L900.2 2060 L902.6 2058.4 L905.6 2057.6 L908.6 2057 L911.5 2057.5 L914.1 2055.8 L916.6 2051.8 L918.8 2047.1 L920.9 2042.8 L922.8 2038 L924.3 2034.5 L925.6 2030.6 L926.9 2027 L928.5 2023.2 L930.5 2020.3 L932.6 2018 L934.9 2015.6 L937.1 2012.2 L939.4 2009.3 L941.7 2005.5 L943.9 2002.2 L945.7 1998.1 L947.1 1993.4 L948.1 1988.6 L949 1984 L950.1 1980.1 L951.2 1977.9 L952.4 1975.1 L953.6 1972.8 L954.9 1971 L956.5 1972.1 L958.1 1973.1 L959.8 1976.2 L961.6 1978 L963.3 1979.8 L965.2 1981.2 L967 1983.1 L968.7 1986.9 L970.3 1991.8 L971.7 1996.9 L973.1 2003.5 L974.5 2009.7 L975.9 2015 L977.4 2019.9 L978.8 2024.9 L980.2 2030.1 L981.6 2033.1 L982.9 2036.2 L984.3 2040.1 L986 2043.6 L987.9 2049.8 L990.1 2055.5 L992.4 2062.4 L994.6 2066.8 L996.7 2070.9 L998.7 2073.4 L1000.9 2075.5 L1003.2 2076.6 L1005.7 2078 L1008.2 2078.9 L1011.2 2079.7 L1014.7 2080.9 L1019.6 2080.5 L1025.5 2080.9 L1031 2081.3 L1034.8 2080.9 L1034.8 2081.6Z" fill="#e88088" fill-opacity="0.66"/>
<path d="M694.3 2072.5 L695.1 2072.5 L696.2 2072.6 L697.4 2073.9 L698.6 2074.2 L698.8 2075.6 L698.3 2077.2 L699 2078.7 L702.9 2080.1 L711.6 2080.1 L723.7 2079.9 L736.5 2079.1 L747.5 2078.8 L755.8 2078 L762.8 2077.3 L769.4 2077 L776.2 2077.2 L783.4 2075.9 L790.6 2075.8 L797.8 2075 L804.9 2073.6 L812.1 2073.7 L819.3 2072 L826.5 2072.3 L833.7 2071.6 L840.9 2070.3 L848 2070.4 L855.2 2070 L862.4 2068.7 L870 2069 L877.9 2068 L885.2 2068.4 L891.1 2067.1 L895.2 2065.6 L898 2062.1 L900.2 2060 L902.6 2058.4 L905.6 2057.6 L908.6 2057 L911.5 2057.5 L914.1 2055.8 L916.6 2051.8 L918.8 2047.1 L920.9 2042.8 L922.8 2038 L924.3 2034.5 L925.6 2030.6 L926.9 2027 L928.5 2023.2 L930.5 2020.3 L932.6 2018 L934.9 2015.6 L937.1 2012.2 L939.4 2009.3 L941.7 2005.5 L943.9 2002.2 L945.7 1998.1 L947.1 1993.4 L948.1 1988.6 L949 1984 L950.1 1980.1 L951.2 1977.9 L952.4 1975.1 L953.6 1972.8 L954.9 1971 L956.5 1972.1 L958.1 1973.1 L959.8 1976.2 L961.6 1978 L963.3 1979.8 L965.2 1981.2 L967 1983.1 L968.7 1986.9 L970.3 1991.8 L971.7 1996.9 L973.1 2003.5 L974.5 2009.7 L975.9 2015 L977.4 2019.9 L978.8 2024.9 L980.2 2030.1 L981.6 2033.1 L982.9 2036.2 L984.3 2040.1 L986 2043.6 L987.9 2049.8 L990.1 2055.5 L992.4 2062.4 L994.6 2066.8 L996.7 2070.9 L998.7 2073.4 L1000.9 2075.5 L1003.2 2076.6 L1005.7 2078 L1008.2 2078.9 L1011.2 2079.7 L1014.7 2080.9 L1019.6 2080.5 L1025.5 2080.9 L1031 2081.3 L1034.8 2080.9 L1182.3 2081.6" fill="none" stroke="#f03a3a" stroke-width="1.9" stroke-linejoin="round"/>
<path d="M694.3 2072.5 L695.1 2072.5 L696.2 2072.6 L697.4 2073.9 L698.6 2074.2 L698.8 2075.6 L698.3 2077.2" fill="none" stroke="#f03a3a" stroke-width="4.6" stroke-linejoin="round" stroke-linecap="round"/>
<path d="M755.8 2078 L762.8 2077.3 L769.4 2077 L776.2 2077.2 L783.4 2075.9 L790.6 2075.8 L797.8 2075 L804.9 2073.6 L812.1 2073.7 L819.3 2072 L826.5 2072.3 L833.7 2071.6 L840.9 2070.3 L848 2070.4 L855.2 2070 L862.4 2068.7 L870 2069 L877.9 2068 L885.2 2068.4 L891.1 2067.1 L895.2 2065.6 L898 2062.1 L900.2 2060 L902.6 2058.4 L905.6 2057.6 L908.6 2057 L911.5 2057.5 L914.1 2055.8 L916.6 2051.8 L918.8 2047.1 L920.9 2042.8 L922.8 2038 L924.3 2034.5 L925.6 2030.6 L926.9 2027 L928.5 2023.2 L930.5 2020.3 L932.6 2018 L934.9 2015.6 L937.1 2012.2 L939.4 2009.3 L941.7 2005.5 L943.9 2002.2 L945.7 1998.1 L947.1 1993.4 L948.1 1988.6 L949 1984 L950.1 1980.1 L951.2 1977.9 L952.4 1975.1 L953.6 1972.8 L954.9 1971 L956.5 1972.1 L958.1 1973.1 L959.8 1976.2 L961.6 1978 L963.3 1979.8 L965.2 1981.2 L967 1983.1 L968.7 1986.9 L970.3 1991.8 L971.7 1996.9 L973.1 2003.5 L974.5 2009.7 L975.9 2015 L977.4 2019.9 L978.8 2024.9 L980.2 2030.1 L981.6 2033.1 L982.9 2036.2 L984.3 2040.1 L986 2043.6 L987.9 2049.8 L990.1 2055.5 L992.4 2062.4 L994.6 2066.8 L996.7 2070.9 L998.7 2073.4 L1000.9 2075.5 L1003.2 2076.6 L1005.7 2078" fill="none" stroke="#f03a3a" stroke-width="4.6" stroke-linejoin="round" stroke-linecap="round"/>
<path d="M695.7 2147.6 L695.7 2136 L695.9 2137.8 L696 2141.9 L696.4 2145.3 L697.2 2147.6 L698.1 2146.7 L699.1 2144.4 L700.9 2140.5 L704.4 2138.6 L710 2137 L717.4 2136.6 L725.4 2136.5 L733.1 2135.3 L740.5 2134.8 L748 2134.7 L755.3 2133.9 L761.8 2132.7 L767.5 2132.2 L772.6 2131.4 L777.3 2129.3 L782 2129 L786.5 2127.6 L790.8 2125.8 L795 2124.1 L799.2 2123.5 L803.5 2121 L807.8 2118.9 L812.1 2117 L816.4 2116.2 L820.7 2114.4 L825.1 2113.2 L829.4 2111.8 L833.7 2110 L838 2108.8 L842.3 2106.3 L846.6 2104.6 L850.9 2103.2 L855.4 2101.5 L859.9 2100.6 L864.3 2098.9 L868.2 2097.3 L871.6 2094.4 L874.6 2092.2 L877.3 2089.6 L879.7 2086.5 L881.5 2083.5 L882.9 2079.9 L884.1 2076.7 L885.4 2074.2 L886.7 2071.6 L887.9 2069.7 L889.3 2067.9 L891.1 2066.6 L893.6 2066.5 L896.5 2065.5 L899.6 2065 L902.6 2063.6 L905.7 2063.1 L908.8 2061.1 L911.7 2059.8 L914.1 2058.9 L916 2056.4 L917.5 2054 L918.7 2051.9 L919.9 2050.1 L921.1 2048 L922.1 2045.4 L923.2 2043.7 L924.2 2043.7 L925.2 2044.5 L926.3 2046.3 L927.3 2049.8 L928.5 2053 L929.8 2056.6 L931.3 2062.2 L932.8 2067.4 L934.3 2073.1 L935.7 2077.1 L937.1 2081.2 L938.6 2085.3 L940 2090 L941.4 2094 L942.9 2098.8 L944.3 2103.5 L945.7 2107 L947.2 2110.6 L948.5 2115.1 L950 2118 L951.5 2121 L953.2 2124.7 L955 2128.7 L956.8 2132.9 L958.7 2136.2 L960.4 2138.2 L962 2139.6 L963.8 2141.6 L965.9 2143.6 L968 2144.1 L970.3 2145.4 L973.2 2145.8 L977.4 2145.3 L984 2146.7 L992.4 2147 L1000.5 2147.2 L1006.1 2147.1 L1006.1 2147.6Z" fill="#7ea86a" fill-opacity="0.66"/>
<path d="M695.7 2136 L695.9 2137.8 L696 2141.9 L696.4 2145.3 L697.2 2147.6 L698.1 2146.7 L699.1 2144.4 L700.9 2140.5 L704.4 2138.6 L710 2137 L717.4 2136.6 L725.4 2136.5 L733.1 2135.3 L740.5 2134.8 L748 2134.7 L755.3 2133.9 L761.8 2132.7 L767.5 2132.2 L772.6 2131.4 L777.3 2129.3 L782 2129 L786.5 2127.6 L790.8 2125.8 L795 2124.1 L799.2 2123.5 L803.5 2121 L807.8 2118.9 L812.1 2117 L816.4 2116.2 L820.7 2114.4 L825.1 2113.2 L829.4 2111.8 L833.7 2110 L838 2108.8 L842.3 2106.3 L846.6 2104.6 L850.9 2103.2 L855.4 2101.5 L859.9 2100.6 L864.3 2098.9 L868.2 2097.3 L871.6 2094.4 L874.6 2092.2 L877.3 2089.6 L879.7 2086.5 L881.5 2083.5 L882.9 2079.9 L884.1 2076.7 L885.4 2074.2 L886.7 2071.6 L887.9 2069.7 L889.3 2067.9 L891.1 2066.6 L893.6 2066.5 L896.5 2065.5 L899.6 2065 L902.6 2063.6 L905.7 2063.1 L908.8 2061.1 L911.7 2059.8 L914.1 2058.9 L916 2056.4 L917.5 2054 L918.7 2051.9 L919.9 2050.1 L921.1 2048 L922.1 2045.4 L923.2 2043.7 L924.2 2043.7 L925.2 2044.5 L926.3 2046.3 L927.3 2049.8 L928.5 2053 L929.8 2056.6 L931.3 2062.2 L932.8 2067.4 L934.3 2073.1 L935.7 2077.1 L937.1 2081.2 L938.6 2085.3 L940 2090 L941.4 2094 L942.9 2098.8 L944.3 2103.5 L945.7 2107 L947.2 2110.6 L948.5 2115.1 L950 2118 L951.5 2121 L953.2 2124.7 L955 2128.7 L956.8 2132.9 L958.7 2136.2 L960.4 2138.2 L962 2139.6 L963.8 2141.6 L965.9 2143.6 L968 2144.1 L970.3 2145.4 L973.2 2145.8 L977.4 2145.3 L984 2146.7 L992.4 2147 L1000.5 2147.2 L1006.1 2147.1 L1182.3 2147.6" fill="none" stroke="#3c6e1e" stroke-width="1.9" stroke-linejoin="round"/>
<path d="M695.7 2136 L695.9 2137.8 L696 2141.9" fill="none" stroke="#3c6e1e" stroke-width="4.8" stroke-linejoin="round" stroke-linecap="round"/>
<path d="M700.9 2140.5 L704.4 2138.6 L710 2137 L717.4 2136.6 L725.4 2136.5 L733.1 2135.3 L740.5 2134.8 L748 2134.7 L755.3 2133.9 L761.8 2132.7 L767.5 2132.2 L772.6 2131.4 L777.3 2129.3 L782 2129 L786.5 2127.6 L790.8 2125.8 L795 2124.1 L799.2 2123.5 L803.5 2121 L807.8 2118.9 L812.1 2117 L816.4 2116.2 L820.7 2114.4 L825.1 2113.2 L829.4 2111.8 L833.7 2110 L838 2108.8 L842.3 2106.3 L846.6 2104.6 L850.9 2103.2 L855.4 2101.5 L859.9 2100.6 L864.3 2098.9 L868.2 2097.3 L871.6 2094.4 L874.6 2092.2 L877.3 2089.6 L879.7 2086.5 L881.5 2083.5 L882.9 2079.9 L884.1 2076.7 L885.4 2074.2 L886.7 2071.6 L887.9 2069.7 L889.3 2067.9 L891.1 2066.6 L893.6 2066.5 L896.5 2065.5 L899.6 2065 L902.6 2063.6 L905.7 2063.1 L908.8 2061.1 L911.7 2059.8 L914.1 2058.9 L916 2056.4 L917.5 2054 L918.7 2051.9 L919.9 2050.1 L921.1 2048 L922.1 2045.4 L923.2 2043.7 L924.2 2043.7 L925.2 2044.5 L926.3 2046.3 L927.3 2049.8 L928.5 2053 L929.8 2056.6 L931.3 2062.2 L932.8 2067.4 L934.3 2073.1 L935.7 2077.1 L937.1 2081.2 L938.6 2085.3 L940 2090 L941.4 2094 L942.9 2098.8 L944.3 2103.5 L945.7 2107 L947.2 2110.6 L948.5 2115.1 L950 2118 L951.5 2121 L953.2 2124.7 L955 2128.7 L956.8 2132.9 L958.7 2136.2 L960.4 2138.2 L962 2139.6 L963.8 2141.6 L965.9 2143.6" fill="none" stroke="#3c6e1e" stroke-width="4.8" stroke-linejoin="round" stroke-linecap="round"/>
<path d="M695.7 2213.6 L695.7 2202.8 L695.9 2205.1 L695.9 2206.6 L696.6 2209.2 L698.6 2210.8 L702.2 2211.2 L707.1 2210.4 L712.7 2209.8 L718.7 2208.6 L725.7 2208.5 L733.6 2207.7 L741.3 2207.5 L747.5 2206.3 L751.4 2205.6 L753.9 2204.2 L756.1 2202.8 L759 2202.4 L762.6 2200.9 L766.5 2198.8 L771 2197 L776.2 2196.2 L782.9 2195.3 L790.6 2195 L798.3 2194.2 L804.9 2193.3 L810.2 2192.5 L814.6 2191.3 L818.5 2189.8 L822.2 2188.5 L825.5 2188 L828.3 2186.1 L830.9 2183.6 L833.7 2182.3 L836.4 2179.7 L839.1 2176.8 L841.9 2175.4 L845.2 2173.3 L849.2 2172.7 L853.8 2171.8 L858.4 2170.6 L862.4 2170.5 L865.7 2169.6 L868.5 2168.4 L871.2 2166.2 L873.9 2164.6 L876.8 2162.8 L879.7 2159.8 L882.5 2158 L885.4 2154.9 L888.3 2150.6 L891.3 2147.4 L894.2 2143 L896.9 2138.4 L899.3 2133.9 L901.4 2128.8 L903.4 2123 L905.5 2118.2 L907.7 2115.6 L910 2113.7 L912.2 2112.2 L914.1 2110.3 L915.8 2107.6 L917.2 2106.9 L918.5 2105 L919.9 2103.8 L921.3 2104 L922.8 2104.7 L924.2 2106.8 L925.6 2108.1 L927.1 2111.4 L928.5 2113.6 L929.9 2117.6 L931.4 2121.4 L932.8 2125.3 L934.3 2130.1 L935.7 2136.5 L937.1 2142.2 L938.6 2147.3 L940 2154.6 L941.4 2161.7 L942.9 2168 L944.2 2174.1 L945.6 2179.5 L947 2185.6 L948.6 2190.5 L950.5 2195.4 L952.6 2199 L954.8 2202.5 L957.2 2205.3 L959.3 2206.8 L961.2 2208.7 L964 2209.1 L968.7 2210.2 L977.1 2212 L988.1 2212 L998.8 2212.8 L1006.1 2213 L1006.1 2213.6Z" fill="#70ecf8" fill-opacity="0.66"/>
<path d="M695.7 2202.8 L695.9 2205.1 L695.9 2206.6 L696.6 2209.2 L698.6 2210.8 L702.2 2211.2 L707.1 2210.4 L712.7 2209.8 L718.7 2208.6 L725.7 2208.5 L733.6 2207.7 L741.3 2207.5 L747.5 2206.3 L751.4 2205.6 L753.9 2204.2 L756.1 2202.8 L759 2202.4 L762.6 2200.9 L766.5 2198.8 L771 2197 L776.2 2196.2 L782.9 2195.3 L790.6 2195 L798.3 2194.2 L804.9 2193.3 L810.2 2192.5 L814.6 2191.3 L818.5 2189.8 L822.2 2188.5 L825.5 2188 L828.3 2186.1 L830.9 2183.6 L833.7 2182.3 L836.4 2179.7 L839.1 2176.8 L841.9 2175.4 L845.2 2173.3 L849.2 2172.7 L853.8 2171.8 L858.4 2170.6 L862.4 2170.5 L865.7 2169.6 L868.5 2168.4 L871.2 2166.2 L873.9 2164.6 L876.8 2162.8 L879.7 2159.8 L882.5 2158 L885.4 2154.9 L888.3 2150.6 L891.3 2147.4 L894.2 2143 L896.9 2138.4 L899.3 2133.9 L901.4 2128.8 L903.4 2123 L905.5 2118.2 L907.7 2115.6 L910 2113.7 L912.2 2112.2 L914.1 2110.3 L915.8 2107.6 L917.2 2106.9 L918.5 2105 L919.9 2103.8 L921.3 2104 L922.8 2104.7 L924.2 2106.8 L925.6 2108.1 L927.1 2111.4 L928.5 2113.6 L929.9 2117.6 L931.4 2121.4 L932.8 2125.3 L934.3 2130.1 L935.7 2136.5 L937.1 2142.2 L938.6 2147.3 L940 2154.6 L941.4 2161.7 L942.9 2168 L944.2 2174.1 L945.6 2179.5 L947 2185.6 L948.6 2190.5 L950.5 2195.4 L952.6 2199 L954.8 2202.5 L957.2 2205.3 L959.3 2206.8 L961.2 2208.7 L964 2209.1 L968.7 2210.2 L977.1 2212 L988.1 2212 L998.8 2212.8 L1006.1 2213 L1182.3 2213.6" fill="none" stroke="#58daf4" stroke-width="1.9" stroke-linejoin="round"/>
<path d="M695.7 2202.8 L695.9 2205.1 L695.9 2206.6 L696.6 2209.2" fill="none" stroke="#58daf4" stroke-width="4.4" stroke-linejoin="round" stroke-linecap="round"/>
<path d="M712.7 2209.8 L718.7 2208.6 L725.7 2208.5 L733.6 2207.7 L741.3 2207.5 L747.5 2206.3 L751.4 2205.6 L753.9 2204.2 L756.1 2202.8 L759 2202.4 L762.6 2200.9 L766.5 2198.8 L771 2197 L776.2 2196.2 L782.9 2195.3 L790.6 2195 L798.3 2194.2 L804.9 2193.3 L810.2 2192.5 L814.6 2191.3 L818.5 2189.8 L822.2 2188.5 L825.5 2188 L828.3 2186.1 L830.9 2183.6 L833.7 2182.3 L836.4 2179.7 L839.1 2176.8 L841.9 2175.4 L845.2 2173.3 L849.2 2172.7 L853.8 2171.8 L858.4 2170.6 L862.4 2170.5 L865.7 2169.6 L868.5 2168.4 L871.2 2166.2 L873.9 2164.6 L876.8 2162.8 L879.7 2159.8 L882.5 2158 L885.4 2154.9 L888.3 2150.6 L891.3 2147.4 L894.2 2143 L896.9 2138.4 L899.3 2133.9 L901.4 2128.8 L903.4 2123 L905.5 2118.2 L907.7 2115.6 L910 2113.7 L912.2 2112.2 L914.1 2110.3 L915.8 2107.6 L917.2 2106.9 L918.5 2105 L919.9 2103.8 L921.3 2104 L922.8 2104.7 L924.2 2106.8 L925.6 2108.1 L927.1 2111.4 L928.5 2113.6 L929.9 2117.6 L931.4 2121.4 L932.8 2125.3 L934.3 2130.1 L935.7 2136.5 L937.1 2142.2 L938.6 2147.3 L940 2154.6 L941.4 2161.7 L942.9 2168 L944.2 2174.1 L945.6 2179.5 L947 2185.6 L948.6 2190.5 L950.5 2195.4 L952.6 2199 L954.8 2202.5 L957.2 2205.3 L959.3 2206.8 L961.2 2208.7 L964 2209.1" fill="none" stroke="#58daf4" stroke-width="4.4" stroke-linejoin="round" stroke-linecap="round"/>
<path d="M695.7 2280.2 L695.7 2280.1 L710.1 2280.2 L730.6 2280.2 L753.8 2279.9 L776.2 2279.9 L798.8 2279.6 L822.9 2279.6 L845.2 2279.3 L862.4 2279 L872.8 2278.7 L878.4 2278.5 L881.7 2277 L885.4 2274.9 L889.7 2272.7 L893.5 2270.3 L896.8 2266.8 L899.8 2263.1 L902.3 2260.1 L904.4 2255.6 L906.4 2250.5 L908.4 2245.8 L910.5 2241.2 L912.7 2237.5 L914.9 2231.4 L917 2226.4 L919.2 2220.1 L921.3 2211.5 L923.5 2204.3 L925.6 2197.4 L927.9 2191.6 L930.1 2184.7 L932.3 2179.2 L934.3 2174.2 L935.9 2169.5 L937.3 2166.3 L938.7 2163.2 L940 2160 L941.3 2157.5 L942.6 2156.9 L943.8 2156.1 L945.2 2156 L946.7 2156.5 L948.3 2158.8 L949.9 2160.8 L951.5 2163.1 L952.9 2165.3 L954.3 2167.2 L955.7 2170.4 L957.2 2174.8 L959 2180.2 L960.8 2186.3 L962.7 2193.9 L964.4 2200.8 L965.9 2206.3 L967.3 2213 L968.7 2219.6 L970.2 2225.6 L971.9 2232.6 L973.8 2238.4 L975.6 2244 L977.4 2249.8 L978.8 2253.9 L980.1 2258.3 L981.5 2262.3 L983.1 2266.2 L984.9 2270 L986.9 2272.5 L989.1 2274.1 L991.7 2276.4 L994.6 2277.2 L997.7 2278.7 L1001.4 2278.5 L1006.1 2279 L1012.9 2279.9 L1021.4 2280.2 L1029.3 2280.2 L1034.8 2280 L1034.8 2280.2Z" fill="#8c8cf4" fill-opacity="0.66"/>
<path d="M695.7 2280.1 L710.1 2280.2 L730.6 2280.2 L753.8 2279.9 L776.2 2279.9 L798.8 2279.6 L822.9 2279.6 L845.2 2279.3 L862.4 2279 L872.8 2278.7 L878.4 2278.5 L881.7 2277 L885.4 2274.9 L889.7 2272.7 L893.5 2270.3 L896.8 2266.8 L899.8 2263.1 L902.3 2260.1 L904.4 2255.6 L906.4 2250.5 L908.4 2245.8 L910.5 2241.2 L912.7 2237.5 L914.9 2231.4 L917 2226.4 L919.2 2220.1 L921.3 2211.5 L923.5 2204.3 L925.6 2197.4 L927.9 2191.6 L930.1 2184.7 L932.3 2179.2 L934.3 2174.2 L935.9 2169.5 L937.3 2166.3 L938.7 2163.2 L940 2160 L941.3 2157.5 L942.6 2156.9 L943.8 2156.1 L945.2 2156 L946.7 2156.5 L948.3 2158.8 L949.9 2160.8 L951.5 2163.1 L952.9 2165.3 L954.3 2167.2 L955.7 2170.4 L957.2 2174.8 L959 2180.2 L960.8 2186.3 L962.7 2193.9 L964.4 2200.8 L965.9 2206.3 L967.3 2213 L968.7 2219.6 L970.2 2225.6 L971.9 2232.6 L973.8 2238.4 L975.6 2244 L977.4 2249.8 L978.8 2253.9 L980.1 2258.3 L981.5 2262.3 L983.1 2266.2 L984.9 2270 L986.9 2272.5 L989.1 2274.1 L991.7 2276.4 L994.6 2277.2 L997.7 2278.7 L1001.4 2278.5 L1006.1 2279 L1012.9 2279.9 L1021.4 2280.2 L1029.3 2280.2 L1034.8 2280 L1182.3 2280.2" fill="none" stroke="#4a3cf0" stroke-width="1.9" stroke-linejoin="round"/>
<path d="M885.4 2274.9 L889.7 2272.7 L893.5 2270.3 L896.8 2266.8 L899.8 2263.1 L902.3 2260.1 L904.4 2255.6 L906.4 2250.5 L908.4 2245.8 L910.5 2241.2 L912.7 2237.5 L914.9 2231.4 L917 2226.4 L919.2 2220.1 L921.3 2211.5 L923.5 2204.3 L925.6 2197.4 L927.9 2191.6 L930.1 2184.7 L932.3 2179.2 L934.3 2174.2 L935.9 2169.5 L937.3 2166.3 L938.7 2163.2 L940 2160 L941.3 2157.5 L942.6 2156.9 L943.8 2156.1 L945.2 2156 L946.7 2156.5 L948.3 2158.8 L949.9 2160.8 L951.5 2163.1 L952.9 2165.3 L954.3 2167.2 L955.7 2170.4 L957.2 2174.8 L959 2180.2 L960.8 2186.3 L962.7 2193.9 L964.4 2200.8 L965.9 2206.3 L967.3 2213 L968.7 2219.6 L970.2 2225.6 L971.9 2232.6 L973.8 2238.4 L975.6 2244 L977.4 2249.8 L978.8 2253.9 L980.1 2258.3 L981.5 2262.3 L983.1 2266.2 L984.9 2270 L986.9 2272.5 L989.1 2274.1 L991.7 2276.4" fill="none" stroke="#4a3cf0" stroke-width="4.6" stroke-linejoin="round" stroke-linecap="round"/>
<path d="M694.3 2345.9 L694.3 2343.7 L695.7 2344.4 L697.5 2344.5 L700.3 2345.3 L704.4 2345.2 L710.2 2345.1 L717.6 2345.1 L725.5 2344.6 L733.1 2344.4 L740.5 2344.4 L748 2343.1 L755.3 2343.3 L761.8 2342.1 L767.4 2342.4 L772.3 2341.9 L776.9 2340.8 L782 2341 L787.7 2340.3 L793.8 2338.9 L799.7 2338.7 L804.9 2338.5 L809.1 2338.5 L812.7 2337.4 L815.9 2337.2 L819.3 2337.5 L823.1 2337.1 L827 2335.3 L830.7 2334.4 L833.7 2334.3 L835.7 2332.8 L836.9 2331.9 L838 2331.4 L839.4 2330 L841.3 2328.2 L843.4 2326.5 L845.6 2324.4 L848 2322.8 L850.8 2321.5 L853.8 2320.7 L856.8 2319.1 L859.5 2318.7 L862 2316.3 L864.2 2312.7 L866.3 2309.9 L868.2 2306.1 L869.7 2303.9 L871 2301.2 L872.3 2298 L873.9 2295.1 L875.9 2292.2 L878 2287.7 L880.3 2284.4 L882.5 2280.3 L884.7 2277 L886.8 2274 L889 2270.1 L891.1 2265.9 L893.3 2263.4 L895.5 2259.7 L897.7 2256.3 L899.8 2253.3 L901.7 2250.8 L903.5 2248.4 L905.3 2247.2 L907 2245.8 L908.5 2247.6 L910 2248.4 L911.4 2251.1 L912.7 2252.2 L913.8 2251.4 L914.9 2249.8 L915.9 2248.8 L917 2249 L918.3 2252 L919.8 2255.1 L921.3 2259.2 L922.8 2263.8 L924.2 2268.2 L925.6 2272.8 L927.1 2277.9 L928.5 2284.2 L929.9 2289.3 L931.4 2293.6 L932.8 2299.3 L934.3 2304.1 L935.7 2308.3 L937.1 2311 L938.6 2314.5 L940 2318 L941.4 2321.4 L942.7 2323.8 L944.1 2327.3 L945.7 2330 L947.6 2332 L949.7 2334.7 L951.9 2336.3 L954.4 2338.7 L957 2339.9 L959.9 2341.5 L962.9 2342.8 L965.9 2344.3 L967.3 2345.1 L967.8 2344.4 L970.2 2345.1 L977.4 2345.6 L992.8 2345.6 L1014 2345.2 L1034.9 2345.5 L1049.2 2345.9 L1049.2 2345.9Z" fill="#f0b074" fill-opacity="0.66"/>
<path d="M694.3 2343.7 L695.7 2344.4 L697.5 2344.5 L700.3 2345.3 L704.4 2345.2 L710.2 2345.1 L717.6 2345.1 L725.5 2344.6 L733.1 2344.4 L740.5 2344.4 L748 2343.1 L755.3 2343.3 L761.8 2342.1 L767.4 2342.4 L772.3 2341.9 L776.9 2340.8 L782 2341 L787.7 2340.3 L793.8 2338.9 L799.7 2338.7 L804.9 2338.5 L809.1 2338.5 L812.7 2337.4 L815.9 2337.2 L819.3 2337.5 L823.1 2337.1 L827 2335.3 L830.7 2334.4 L833.7 2334.3 L835.7 2332.8 L836.9 2331.9 L838 2331.4 L839.4 2330 L841.3 2328.2 L843.4 2326.5 L845.6 2324.4 L848 2322.8 L850.8 2321.5 L853.8 2320.7 L856.8 2319.1 L859.5 2318.7 L862 2316.3 L864.2 2312.7 L866.3 2309.9 L868.2 2306.1 L869.7 2303.9 L871 2301.2 L872.3 2298 L873.9 2295.1 L875.9 2292.2 L878 2287.7 L880.3 2284.4 L882.5 2280.3 L884.7 2277 L886.8 2274 L889 2270.1 L891.1 2265.9 L893.3 2263.4 L895.5 2259.7 L897.7 2256.3 L899.8 2253.3 L901.7 2250.8 L903.5 2248.4 L905.3 2247.2 L907 2245.8 L908.5 2247.6 L910 2248.4 L911.4 2251.1 L912.7 2252.2 L913.8 2251.4 L914.9 2249.8 L915.9 2248.8 L917 2249 L918.3 2252 L919.8 2255.1 L921.3 2259.2 L922.8 2263.8 L924.2 2268.2 L925.6 2272.8 L927.1 2277.9 L928.5 2284.2 L929.9 2289.3 L931.4 2293.6 L932.8 2299.3 L934.3 2304.1 L935.7 2308.3 L937.1 2311 L938.6 2314.5 L940 2318 L941.4 2321.4 L942.7 2323.8 L944.1 2327.3 L945.7 2330 L947.6 2332 L949.7 2334.7 L951.9 2336.3 L954.4 2338.7 L957 2339.9 L959.9 2341.5 L962.9 2342.8 L965.9 2344.3 L967.3 2345.1 L967.8 2344.4 L970.2 2345.1 L977.4 2345.6 L992.8 2345.6 L1014 2345.2 L1034.9 2345.5 L1049.2 2345.9 L1182.3 2345.9" fill="none" stroke="#f08a2a" stroke-width="1.9" stroke-linejoin="round"/>
<path d="M772.3 2341.9 L776.9 2340.8 L782 2341 L787.7 2340.3 L793.8 2338.9 L799.7 2338.7 L804.9 2338.5 L809.1 2338.5 L812.7 2337.4 L815.9 2337.2 L819.3 2337.5 L823.1 2337.1 L827 2335.3 L830.7 2334.4 L833.7 2334.3 L835.7 2332.8 L836.9 2331.9 L838 2331.4 L839.4 2330 L841.3 2328.2 L843.4 2326.5 L845.6 2324.4 L848 2322.8 L850.8 2321.5 L853.8 2320.7 L856.8 2319.1 L859.5 2318.7 L862 2316.3 L864.2 2312.7 L866.3 2309.9 L868.2 2306.1 L869.7 2303.9 L871 2301.2 L872.3 2298 L873.9 2295.1 L875.9 2292.2 L878 2287.7 L880.3 2284.4 L882.5 2280.3 L884.7 2277 L886.8 2274 L889 2270.1 L891.1 2265.9 L893.3 2263.4 L895.5 2259.7 L897.7 2256.3 L899.8 2253.3 L901.7 2250.8 L903.5 2248.4 L905.3 2247.2 L907 2245.8 L908.5 2247.6 L910 2248.4 L911.4 2251.1 L912.7 2252.2 L913.8 2251.4 L914.9 2249.8 L915.9 2248.8 L917 2249 L918.3 2252 L919.8 2255.1 L921.3 2259.2 L922.8 2263.8 L924.2 2268.2 L925.6 2272.8 L927.1 2277.9 L928.5 2284.2 L929.9 2289.3 L931.4 2293.6 L932.8 2299.3 L934.3 2304.1 L935.7 2308.3 L937.1 2311 L938.6 2314.5 L940 2318 L941.4 2321.4 L942.7 2323.8 L944.1 2327.3 L945.7 2330 L947.6 2332 L949.7 2334.7 L951.9 2336.3 L954.4 2338.7 L957 2339.9 L959.9 2341.5" fill="none" stroke="#f08a2a" stroke-width="4.6" stroke-linejoin="round" stroke-linecap="round"/>
<path d="M694.3 2412.6 L694.3 2412 L704.1 2411.5 L718.2 2411.8 L733.6 2412.2 L747.5 2411.2 L759.3 2411.1 L770.5 2410.5 L781 2410.1 L790.6 2408.1 L799.1 2407.2 L806.7 2406.4 L813.5 2405.9 L819.3 2404.8 L823.9 2403 L827.4 2403.1 L830.4 2401.6 L833.7 2400.6 L837.3 2398.5 L841 2395 L844.7 2393.3 L848 2390 L851.2 2386.9 L854.2 2384.7 L856.9 2381.3 L859.5 2378.8 L861.9 2374.7 L864 2370 L866.1 2365.6 L868.2 2361.3 L870.3 2356.8 L872.5 2351.3 L874.6 2346 L876.8 2341 L878.9 2335 L881.1 2329.3 L883.2 2324 L885.4 2317.8 L887.6 2313.1 L889.8 2309.2 L892 2304.4 L894 2300.5 L895.9 2296.8 L897.7 2293.6 L899.4 2290.5 L901.2 2288.2 L903 2286.3 L904.8 2286.2 L906.6 2286.2 L908.4 2287.2 L910.3 2287.8 L912.2 2289.4 L914 2290.7 L915.6 2292.4 L916.8 2293.6 L917.8 2295.9 L918.8 2297.6 L919.9 2300.4 L921.2 2304.9 L922.6 2308.3 L924.1 2312.6 L925.6 2318.4 L927.3 2323.1 L929.1 2328.9 L931 2335.2 L932.8 2341.7 L934.6 2347 L936.4 2354.4 L938.2 2360.3 L940 2367.3 L941.8 2372.4 L943.6 2377.3 L945.4 2382.5 L947.2 2387.3 L948.9 2390.9 L950.7 2395 L952.5 2398.9 L954.4 2401.9 L956.3 2404.2 L958.2 2405.8 L960.4 2407.6 L963 2408.3 L965.2 2409.6 L967.1 2410.3 L970.6 2410.6 L977.4 2411 L990 2411.4 L1007 2412.6 L1023.5 2412.2 L1034.8 2412.2 L1034.8 2412.6Z" fill="#b26cf0" fill-opacity="0.66"/>
<path d="M694.3 2412 L704.1 2411.5 L718.2 2411.8 L733.6 2412.2 L747.5 2411.2 L759.3 2411.1 L770.5 2410.5 L781 2410.1 L790.6 2408.1 L799.1 2407.2 L806.7 2406.4 L813.5 2405.9 L819.3 2404.8 L823.9 2403 L827.4 2403.1 L830.4 2401.6 L833.7 2400.6 L837.3 2398.5 L841 2395 L844.7 2393.3 L848 2390 L851.2 2386.9 L854.2 2384.7 L856.9 2381.3 L859.5 2378.8 L861.9 2374.7 L864 2370 L866.1 2365.6 L868.2 2361.3 L870.3 2356.8 L872.5 2351.3 L874.6 2346 L876.8 2341 L878.9 2335 L881.1 2329.3 L883.2 2324 L885.4 2317.8 L887.6 2313.1 L889.8 2309.2 L892 2304.4 L894 2300.5 L895.9 2296.8 L897.7 2293.6 L899.4 2290.5 L901.2 2288.2 L903 2286.3 L904.8 2286.2 L906.6 2286.2 L908.4 2287.2 L910.3 2287.8 L912.2 2289.4 L914 2290.7 L915.6 2292.4 L916.8 2293.6 L917.8 2295.9 L918.8 2297.6 L919.9 2300.4 L921.2 2304.9 L922.6 2308.3 L924.1 2312.6 L925.6 2318.4 L927.3 2323.1 L929.1 2328.9 L931 2335.2 L932.8 2341.7 L934.6 2347 L936.4 2354.4 L938.2 2360.3 L940 2367.3 L941.8 2372.4 L943.6 2377.3 L945.4 2382.5 L947.2 2387.3 L948.9 2390.9 L950.7 2395 L952.5 2398.9 L954.4 2401.9 L956.3 2404.2 L958.2 2405.8 L960.4 2407.6 L963 2408.3 L965.2 2409.6 L967.1 2410.3 L970.6 2410.6 L977.4 2411 L990 2411.4 L1007 2412.6 L1023.5 2412.2 L1034.8 2412.2 L1182.3 2412.6" fill="none" stroke="#8a1ef0" stroke-width="1.9" stroke-linejoin="round"/>
<path d="M790.6 2408.1 L799.1 2407.2 L806.7 2406.4 L813.5 2405.9 L819.3 2404.8 L823.9 2403 L827.4 2403.1 L830.4 2401.6 L833.7 2400.6 L837.3 2398.5 L841 2395 L844.7 2393.3 L848 2390 L851.2 2386.9 L854.2 2384.7 L856.9 2381.3 L859.5 2378.8 L861.9 2374.7 L864 2370 L866.1 2365.6 L868.2 2361.3 L870.3 2356.8 L872.5 2351.3 L874.6 2346 L876.8 2341 L878.9 2335 L881.1 2329.3 L883.2 2324 L885.4 2317.8 L887.6 2313.1 L889.8 2309.2 L892 2304.4 L894 2300.5 L895.9 2296.8 L897.7 2293.6 L899.4 2290.5 L901.2 2288.2 L903 2286.3 L904.8 2286.2 L906.6 2286.2 L908.4 2287.2 L910.3 2287.8 L912.2 2289.4 L914 2290.7 L915.6 2292.4 L916.8 2293.6 L917.8 2295.9 L918.8 2297.6 L919.9 2300.4 L921.2 2304.9 L922.6 2308.3 L924.1 2312.6 L925.6 2318.4 L927.3 2323.1 L929.1 2328.9 L931 2335.2 L932.8 2341.7 L934.6 2347 L936.4 2354.4 L938.2 2360.3 L940 2367.3 L941.8 2372.4 L943.6 2377.3 L945.4 2382.5 L947.2 2387.3 L948.9 2390.9 L950.7 2395 L952.5 2398.9 L954.4 2401.9 L956.3 2404.2 L958.2 2405.8 L960.4 2407.6 L963 2408.3" fill="none" stroke="#8a1ef0" stroke-width="4.6" stroke-linejoin="round" stroke-linecap="round"/>
<path d="M695.7 2478.2 L702.7 2478 L712.6 2477.9 L723.5 2478.2 L733.1 2477.6 L741 2477.8 L748.4 2477.6 L755.3 2477.4 L761.8 2476.8 L768.1 2476.9 L773.9 2476.4 L779.4 2476.3 L784.8 2475.3 L790.1 2475.5 L795.1 2474.3 L800 2474.3 L804.9 2473.3 L810.1 2472.8 L815.4 2471.4 L820.4 2470.7 L825.1 2469.6" fill="none" stroke="#111" stroke-width="1.7" stroke-dasharray="5 3.5"/>
<path d="M981.1 2476 L985.1 2476.1 L989.5 2476.7 L994.6 2477 L997.3 2478.1 L998.5 2477.7 L1004.2 2478.1 L1020.5 2478.1 L1055.1 2478.2 L1103 2478.2 L1150 2478.2 L1182.2 2478.2" fill="none" stroke="#111" stroke-width="1.7" stroke-dasharray="5 3.5"/>
<path d="M829.1 2469.2 L832.8 2468 L836.2 2466.8 L839.4 2465.9 L842.5 2465.3 L845.4 2465 L848.1 2464.7 L850.9 2463.2 L853.8 2461 L856.7 2457.4 L859.5 2454.4 L862.4 2450.7 L865.4 2446.5 L868.3 2442.2 L871.2 2437.8 L873.9 2432.8 L876.3 2428.9 L878.4 2424.5 L880.4 2420.8 L882.5 2415.9 L884.7 2410.1 L886.8 2404.3 L889 2398.6 L891.1 2392.9 L893.4 2387.7 L895.6 2383.7 L897.8 2378.8 L899.8 2375.9 L901.4 2373.1 L902.8 2370.6 L904.1 2368.9 L905.5 2367 L907 2365.5 L908.4 2364.8 L909.8 2364.5 L911.3 2364.4 L912.7 2364.2 L914.1 2365 L915.6 2365.2 L917 2367 L918.4 2368.8 L919.9 2371.7 L921.3 2375.4 L922.8 2378.2 L924.2 2382.7 L925.5 2386.9 L927 2391.3 L928.5 2395.4 L930.2 2400.6 L932 2406 L933.9 2410.6 L935.7 2415.7 L937.5 2420 L939.3 2424.9 L941.1 2429.2 L942.9 2433.4 L944.7 2437.7 L946.5 2442.1 L948.3 2446 L950.1 2450.3 L951.8 2454.2 L953.6 2457.6 L955.3 2460.1 L957.2 2462.9 L959.2 2465.3 L961.3 2468.1 L963.5 2469.2 L965.9 2470.9 L968.4 2472.3 L971.1 2473.7 L974 2474 L977.4 2474.9" fill="none" stroke="#a0a0a0" stroke-width="4.4" stroke-linejoin="round" stroke-linecap="round"/>
<path d="M829.1 2469.2 L832.8 2468 L836.2 2466.8 L839.4 2465.9 L842.5 2465.3 L845.4 2465 L848.1 2464.7 L850.9 2463.2 L853.8 2461 L856.7 2457.4 L859.5 2454.4 L862.4 2450.7 L865.4 2446.5 L868.3 2442.2 L871.2 2437.8 L873.9 2432.8 L876.3 2428.9 L878.4 2424.5 L880.4 2420.8 L882.5 2415.9 L884.7 2410.1 L886.8 2404.3 L889 2398.6 L891.1 2392.9 L893.4 2387.7 L895.6 2383.7 L897.8 2378.8 L899.8 2375.9 L901.4 2373.1 L902.8 2370.6 L904.1 2368.9 L905.5 2367 L907 2365.5 L908.4 2364.8 L909.8 2364.5 L911.3 2364.4 L912.7 2364.2 L914.1 2365 L915.6 2365.2 L917 2367 L918.4 2368.8 L919.9 2371.7 L921.3 2375.4 L922.8 2378.2 L924.2 2382.7 L925.5 2386.9 L927 2391.3 L928.5 2395.4 L930.2 2400.6 L932 2406 L933.9 2410.6 L935.7 2415.7 L937.5 2420 L939.3 2424.9 L941.1 2429.2 L942.9 2433.4 L944.7 2437.7 L946.5 2442.1 L948.3 2446 L950.1 2450.3 L951.8 2454.2 L953.6 2457.6 L955.3 2460.1 L957.2 2462.9 L959.2 2465.3 L961.3 2468.1 L963.5 2469.2 L965.9 2470.9 L968.4 2472.3 L971.1 2473.7 L974 2474 L977.4 2474.9" fill="none" stroke="#505050" stroke-width="4.4" stroke-dasharray="1.1 1.5" stroke-linejoin="round"/>
<path d="M764.7 2544.5 L764.7 2544.5 L769.5 2543.5 L776.4 2543.6 L783.9 2542.3 L790.6 2540.6 L796.1 2539.5 L801.4 2537.6 L806.2 2536.3 L810.7 2535.3 L814.8 2533.8 L818.4 2531.5 L821.8 2530.3 L825.1 2527.8 L828.2 2525.5 L831.2 2523 L833.9 2519.3 L836.6 2516 L838.8 2513 L840.9 2510.2 L842.9 2505.8 L845.2 2502.5 L848 2497.6 L851.1 2493.9 L854.1 2489.6 L856.7 2484.7 L858.4 2480.2 L859.7 2475.7 L860.9 2471.5 L862.4 2467.3 L864.4 2463.3 L866.5 2459.2 L868.8 2454.2 L871 2450.9 L873.3 2446.1 L875.5 2442.8 L877.7 2439.6 L879.7 2436.5 L881.3 2433.2 L882.7 2430.1 L884 2426.3 L885.4 2424.9 L886.8 2422 L888.3 2421.1 L889.7 2420.1 L891.1 2420.1 L892.5 2420.4 L893.8 2422.3 L895.3 2424.8 L896.9 2427.6 L898.9 2430.4 L901.2 2435.7 L903.5 2439.8 L905.5 2444.6 L907.2 2448.5 L908.6 2453.1 L909.9 2457.1 L911.3 2462.3 L912.7 2466.7 L914.1 2472.9 L915.6 2479.5 L917 2484.3 L918.4 2490.3 L919.9 2497.1 L921.3 2503.3 L922.8 2507.3 L924.2 2511.7 L925.6 2515.9 L927.1 2519 L928.5 2522.7 L929.9 2524.9 L931.4 2528 L932.8 2530.9 L934.3 2533.6 L935.5 2535.3 L936.6 2537.1 L938 2537.8 L940 2539.5 L942.8 2540.1 L946.1 2540.8 L950 2541.3 L954.4 2542.1 L959.4 2542.6 L965 2543.9 L971 2543.9 L977.4 2544.5 L984.8 2544.2 L993.2 2543.9 L1000.8 2544.5 L1006.1 2544.5 L1006.1 2544.5Z" fill="#bdbdbd"/>
<path d="M764.7 2544.5 L769.5 2543.5 L776.4 2543.6 L783.9 2542.3 L790.6 2540.6 L796.1 2539.5 L801.4 2537.6 L806.2 2536.3 L810.7 2535.3 L814.8 2533.8 L818.4 2531.5 L821.8 2530.3 L825.1 2527.8 L828.2 2525.5 L831.2 2523 L833.9 2519.3 L836.6 2516 L838.8 2513 L840.9 2510.2 L842.9 2505.8 L845.2 2502.5 L848 2497.6 L851.1 2493.9 L854.1 2489.6 L856.7 2484.7 L858.4 2480.2 L859.7 2475.7 L860.9 2471.5 L862.4 2467.3 L864.4 2463.3 L866.5 2459.2 L868.8 2454.2 L871 2450.9 L873.3 2446.1 L875.5 2442.8 L877.7 2439.6 L879.7 2436.5 L881.3 2433.2 L882.7 2430.1 L884 2426.3 L885.4 2424.9 L886.8 2422 L888.3 2421.1 L889.7 2420.1 L891.1 2420.1 L892.5 2420.4 L893.8 2422.3 L895.3 2424.8 L896.9 2427.6 L898.9 2430.4 L901.2 2435.7 L903.5 2439.8 L905.5 2444.6 L907.2 2448.5 L908.6 2453.1 L909.9 2457.1 L911.3 2462.3 L912.7 2466.7 L914.1 2472.9 L915.6 2479.5 L917 2484.3 L918.4 2490.3 L919.9 2497.1 L921.3 2503.3 L922.8 2507.3 L924.2 2511.7 L925.6 2515.9 L927.1 2519 L928.5 2522.7 L929.9 2524.9 L931.4 2528 L932.8 2530.9 L934.3 2533.6 L935.5 2535.3 L936.6 2537.1 L938 2537.8 L940 2539.5 L942.8 2540.1 L946.1 2540.8 L950 2541.3 L954.4 2542.1 L959.4 2542.6 L965 2543.9 L971 2543.9 L977.4 2544.5 L984.8 2544.2 L993.2 2543.9 L1000.8 2544.5 L1006.1 2544.5" fill="none" stroke="#4a4a4a" stroke-width="5" stroke-linejoin="round"/>
<rect x="697.5" y="1868.3" width="484.8" height="676.2" fill="none" stroke="#222" stroke-width="1.8"/>
<line x1="938.6" y1="1868.3" x2="938.6" y2="2546.5" stroke="#000" stroke-width="2"/>
<line x1="809.5" y1="2544.5" x2="809.5" y2="2553.5" stroke="#111" stroke-width="2.4"/>
<line x1="944.2" y1="2544.5" x2="944.2" y2="2553.5" stroke="#111" stroke-width="2.4"/>
<line x1="1076.4" y1="2544.5" x2="1076.4" y2="2553.5" stroke="#111" stroke-width="2.4"/>
<line x1="850" y1="2544.5" x2="850" y2="2549" stroke="#111" stroke-width="1.3"/>
<line x1="873.8" y1="2544.5" x2="873.8" y2="2549" stroke="#111" stroke-width="1.3"/>
<line x1="890.6" y1="2544.5" x2="890.6" y2="2549" stroke="#111" stroke-width="1.3"/>
<line x1="903.7" y1="2544.5" x2="903.7" y2="2550.5" stroke="#111" stroke-width="1.3"/>
<line x1="914.3" y1="2544.5" x2="914.3" y2="2549" stroke="#111" stroke-width="1.3"/>
<line x1="923.3" y1="2544.5" x2="923.3" y2="2549" stroke="#111" stroke-width="1.3"/>
<line x1="931.1" y1="2544.5" x2="931.1" y2="2549" stroke="#111" stroke-width="1.3"/>
<line x1="938" y1="2544.5" x2="938" y2="2549" stroke="#111" stroke-width="1.3"/>
<line x1="984" y1="2544.5" x2="984" y2="2549" stroke="#111" stroke-width="1.3"/>
<line x1="1007.3" y1="2544.5" x2="1007.3" y2="2549" stroke="#111" stroke-width="1.3"/>
<line x1="1023.8" y1="2544.5" x2="1023.8" y2="2549" stroke="#111" stroke-width="1.3"/>
<line x1="1036.6" y1="2544.5" x2="1036.6" y2="2550.5" stroke="#111" stroke-width="1.3"/>
<line x1="1047.1" y1="2544.5" x2="1047.1" y2="2549" stroke="#111" stroke-width="1.3"/>
<line x1="1055.9" y1="2544.5" x2="1055.9" y2="2549" stroke="#111" stroke-width="1.3"/>
<line x1="1063.6" y1="2544.5" x2="1063.6" y2="2549" stroke="#111" stroke-width="1.3"/>
<line x1="1070.4" y1="2544.5" x2="1070.4" y2="2549" stroke="#111" stroke-width="1.3"/>
<line x1="1116.9" y1="2544.5" x2="1116.9" y2="2549" stroke="#111" stroke-width="1.3"/>
<line x1="1140.7" y1="2544.5" x2="1140.7" y2="2549" stroke="#111" stroke-width="1.3"/>
<line x1="1157.5" y1="2544.5" x2="1157.5" y2="2549" stroke="#111" stroke-width="1.3"/>
<line x1="1170.6" y1="2544.5" x2="1170.6" y2="2550.5" stroke="#111" stroke-width="1.3"/>
<line x1="1181.2" y1="2544.5" x2="1181.2" y2="2549" stroke="#111" stroke-width="1.3"/>
<line x1="724.5" y1="2544.5" x2="724.5" y2="2553.5" stroke="#111" stroke-width="2.4"/>
<line x1="705" y1="2544.5" x2="705" y2="2549" stroke="#111" stroke-width="1.3"/>
<line x1="712" y1="2544.5" x2="712" y2="2549" stroke="#111" stroke-width="1.3"/>
<line x1="717" y1="2544.5" x2="717" y2="2549" stroke="#111" stroke-width="1.3"/>
<line x1="721" y1="2544.5" x2="721" y2="2549" stroke="#111" stroke-width="1.3"/>
<line x1="728" y1="2544.5" x2="728" y2="2549" stroke="#111" stroke-width="1.3"/>
<line x1="731" y1="2544.5" x2="731" y2="2549" stroke="#111" stroke-width="1.3"/>
<line x1="734" y1="2544.5" x2="734" y2="2549" stroke="#111" stroke-width="1.3"/>
<line x1="737" y1="2544.5" x2="737" y2="2549" stroke="#111" stroke-width="1.3"/>
<line x1="740" y1="2544.5" x2="740" y2="2549" stroke="#111" stroke-width="1.3"/>
<line x1="744" y1="2544.5" x2="744" y2="2549" stroke="#111" stroke-width="1.3"/>
<line x1="748" y1="2544.5" x2="748" y2="2549" stroke="#111" stroke-width="1.3"/>
<line x1="752" y1="2544.5" x2="752" y2="2549" stroke="#111" stroke-width="1.3"/>
<line x1="757" y1="2544.5" x2="757" y2="2549" stroke="#111" stroke-width="1.3"/>
<line x1="762" y1="2544.5" x2="762" y2="2549" stroke="#111" stroke-width="1.3"/>
<line x1="768" y1="2544.5" x2="768" y2="2549" stroke="#111" stroke-width="1.3"/>
<line x1="772" y1="2544.5" x2="772" y2="2549" stroke="#111" stroke-width="1.3"/>
<line x1="776" y1="2544.5" x2="776" y2="2549" stroke="#111" stroke-width="1.3"/>
<line x1="780" y1="2544.5" x2="780" y2="2549" stroke="#111" stroke-width="1.3"/>
<line x1="785" y1="2544.5" x2="785" y2="2549" stroke="#111" stroke-width="1.3"/>
<line x1="790" y1="2544.5" x2="790" y2="2549" stroke="#111" stroke-width="1.3"/>
<line x1="795" y1="2544.5" x2="795" y2="2549" stroke="#111" stroke-width="1.3"/>
<line x1="800" y1="2544.5" x2="800" y2="2549" stroke="#111" stroke-width="1.3"/>
<line x1="805" y1="2544.5" x2="805" y2="2549" stroke="#111" stroke-width="1.3"/>
<rect x="760" y="2544.5" width="8" height="5" fill="#111"/>
<text x="717.2" y="2574.1" font-size="12.8" font-family='"DejaVu Sans", "Liberation Sans", sans-serif' fill="#000" textLength="23" lengthAdjust="spacingAndGlyphs">-10</text>
<text x="741.4" y="2563.7" font-size="12.8" font-family='"DejaVu Sans", "Liberation Sans", sans-serif' fill="#000">2</text>
<text x="766.7" y="2574.1" font-size="12.8" font-family='"DejaVu Sans", "Liberation Sans", sans-serif' fill="#000">0</text>
<text x="808" y="2574.1" font-size="12.8" font-family='"DejaVu Sans", "Liberation Sans", sans-serif' fill="#000" textLength="16.1" lengthAdjust="spacingAndGlyphs">10</text>
<text x="825.3" y="2563.7" font-size="12.8" font-family='"DejaVu Sans", "Liberation Sans", sans-serif' fill="#000">2</text>
<text x="941.4" y="2574.1" font-size="12.8" font-family='"DejaVu Sans", "Liberation Sans", sans-serif' fill="#000" textLength="16.1" lengthAdjust="spacingAndGlyphs">10</text>
<text x="958.6" y="2563.7" font-size="12.8" font-family='"DejaVu Sans", "Liberation Sans", sans-serif' fill="#000">3</text>
<text x="1073.6" y="2574.1" font-size="12.8" font-family='"DejaVu Sans", "Liberation Sans", sans-serif' fill="#000" textLength="16.1" lengthAdjust="spacingAndGlyphs">10</text>
<text x="1090.8" y="2563.7" font-size="12.8" font-family='"DejaVu Sans", "Liberation Sans", sans-serif' fill="#000">4</text>
<text x="854.5" y="2605.1" font-size="16.5" font-family='"DejaVu Sans", "Liberation Sans", sans-serif' fill="#000" textLength="167.3" lengthAdjust="spacingAndGlyphs">Comp–PE–A :: IRF1</text>
<text x="1090.5" y="1937.6" font-size="23" fill="#000" textLength="69" lengthAdjust="spacingAndGlyphs" stroke="#000" stroke-width="0.45">TGFβ +</text>
<text x="1033.4" y="1967.8" font-size="23" fill="#000" textLength="131.3" lengthAdjust="spacingAndGlyphs" stroke="#000" stroke-width="0.45">Panobinostat</text>
<text x="1098" y="1997.4" font-size="23" fill="#000" textLength="61" lengthAdjust="spacingAndGlyphs" stroke="#000" stroke-width="0.45">+ IFNγ</text>
<text x="1034.8" y="2043.9" font-size="23" fill="#000" textLength="132.2" lengthAdjust="spacingAndGlyphs" stroke="#000" stroke-width="0.45">Panobinostat</text>
<text x="1105.2" y="2072.6" font-size="23" fill="#000" textLength="53.8" lengthAdjust="spacingAndGlyphs" stroke="#000" stroke-width="0.45">+IFNγ</text>
<text x="1091.7" y="2110" font-size="23" fill="#000" textLength="67.3" lengthAdjust="spacingAndGlyphs" stroke="#000" stroke-width="0.45">TGFβ +</text>
<text x="1115.3" y="2138.7" font-size="23" fill="#000" textLength="43.7" lengthAdjust="spacingAndGlyphs" stroke="#000" stroke-width="0.45">IFNγ</text>
<text x="1028.5" y="2177.5" font-size="23" fill="#000" textLength="132.2" lengthAdjust="spacingAndGlyphs" stroke="#000" stroke-width="0.45">Panobinostat</text>
<text x="1090.9" y="2209.1" font-size="23" fill="#000" textLength="62.3" lengthAdjust="spacingAndGlyphs" stroke="#000" stroke-width="0.45">+TGFβ</text>
<text x="1108.1" y="2255" font-size="23" fill="#000" textLength="41.7" lengthAdjust="spacingAndGlyphs" stroke="#000" stroke-width="0.45">IFNγ</text>
<text x="1033.4" y="2323.9" font-size="23" fill="#000" textLength="132.2" lengthAdjust="spacingAndGlyphs" stroke="#000" stroke-width="0.45">Panobinostat</text>
<text x="1109.5" y="2392.9" font-size="23" fill="#000" textLength="50.3" lengthAdjust="spacingAndGlyphs" stroke="#000" stroke-width="0.45">TGFβ</text>
<text x="1108.1" y="2462.4" font-size="23" fill="#000" textLength="41.7" lengthAdjust="spacingAndGlyphs" stroke="#000" stroke-width="0.45">UNS</text>
<text x="1106.7" y="2533.1" font-size="23" fill="#000" textLength="46.5" lengthAdjust="spacingAndGlyphs" stroke="#000" stroke-width="0.45">FMO</text>
</svg>
</body></html>
